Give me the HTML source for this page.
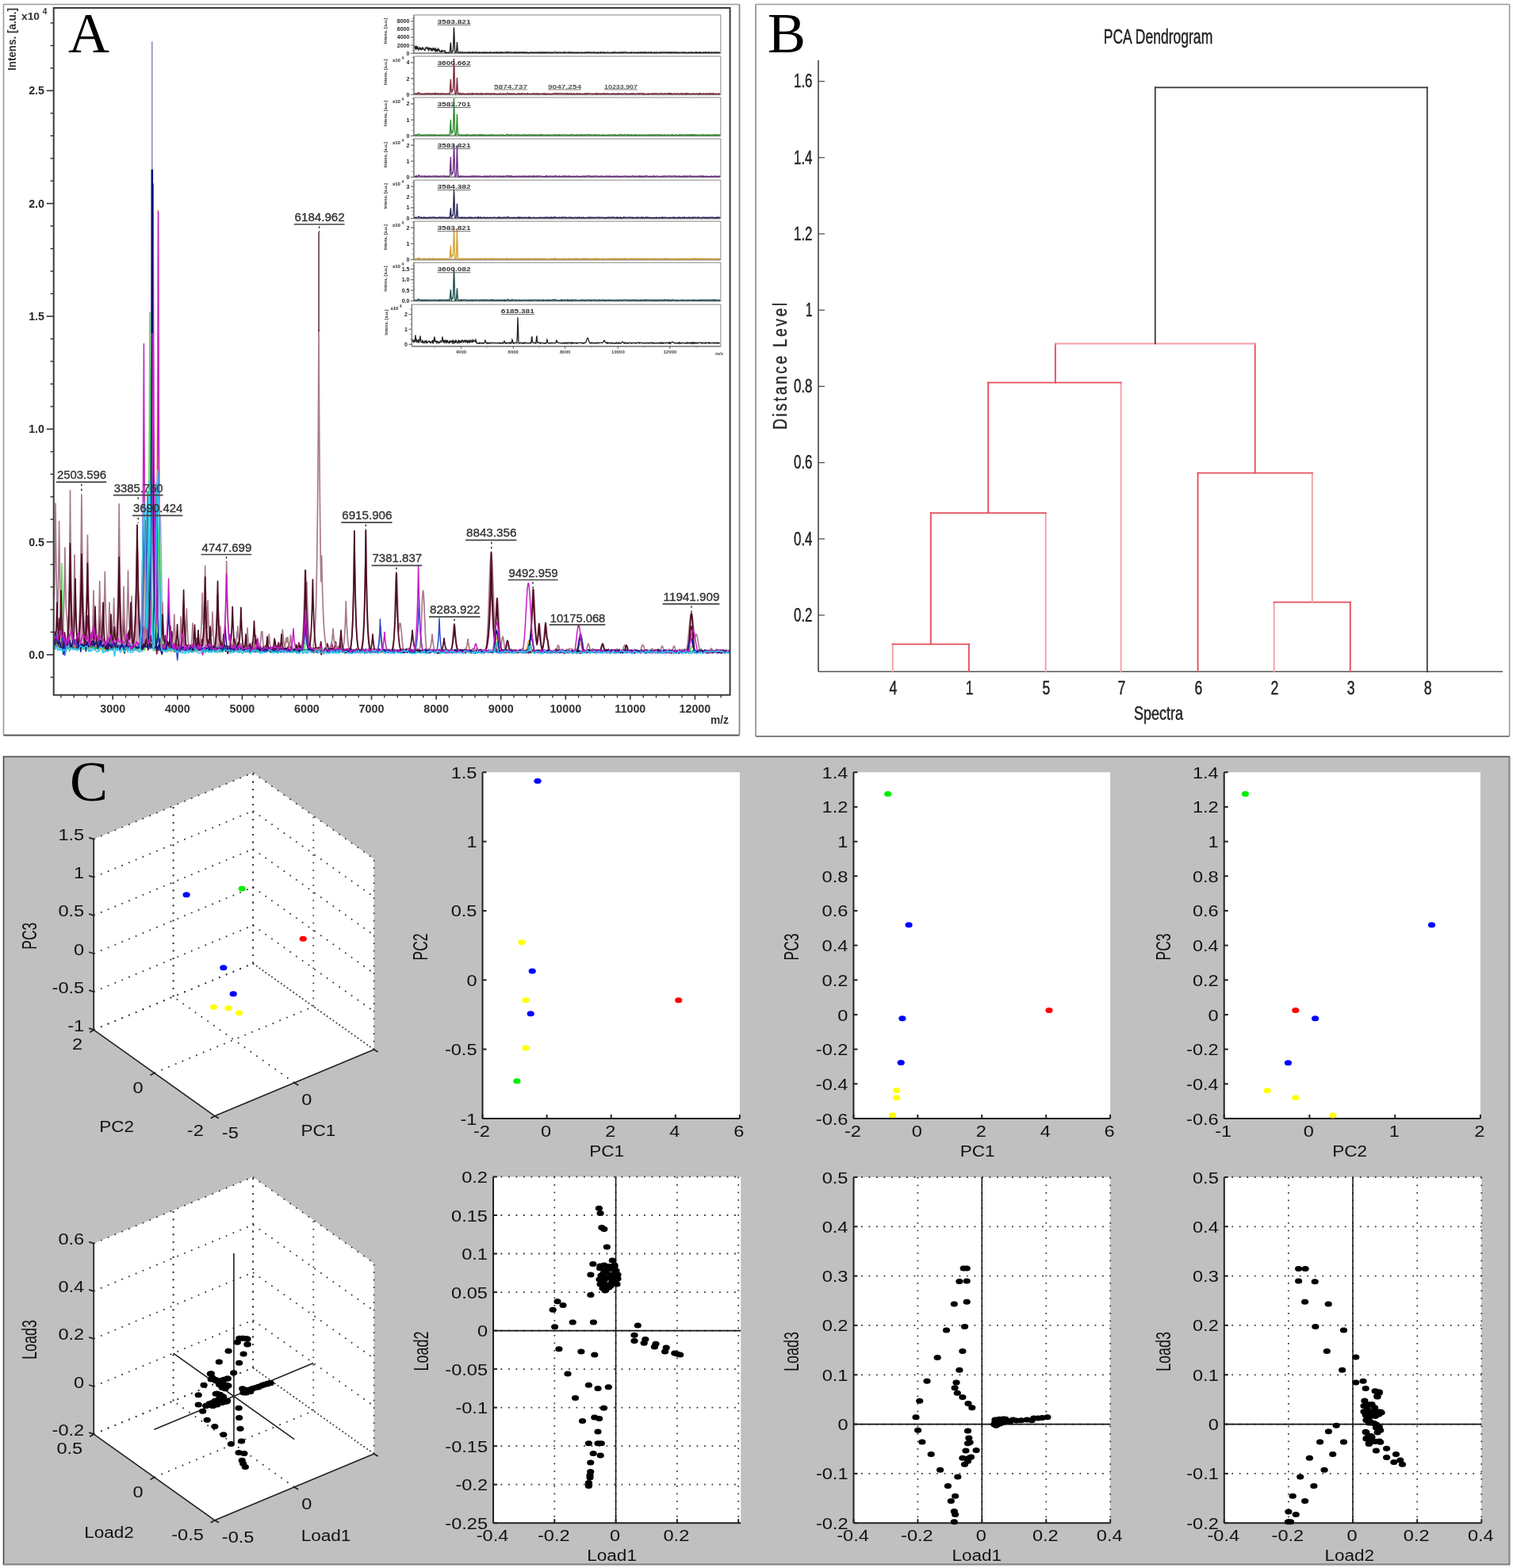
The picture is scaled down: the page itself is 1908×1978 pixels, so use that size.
<!DOCTYPE html>
<html><head><meta charset="utf-8"><style>
html,body{margin:0;padding:0;background:#fff;}
svg{display:block;}
</style></head><body>
<svg xmlns="http://www.w3.org/2000/svg" width="1908" height="1978" viewBox="0 0 1908 1978">
<rect x="0" y="0" width="1908" height="1978" fill="#ffffff"/>
<line x1="4.5" y1="5.5" x2="932.5" y2="5.5" stroke="#9a9a9a" stroke-width="1.6"/>
<line x1="4.5" y1="5.5" x2="4.5" y2="927.5" stroke="#9a9a9a" stroke-width="1.6"/>
<line x1="4.5" y1="927.5" x2="932.5" y2="927.5" stroke="#555" stroke-width="2"/>
<line x1="932.5" y1="5.5" x2="932.5" y2="927.5" stroke="#888" stroke-width="1.8"/>
<polyline points="68.3,818.8 68.8,818 69.3,817.2 69.8,816.4 70.3,815.6 70.8,814.7 71.3,813.9 71.8,814.1 72.3,814.3 72.8,814.5 73.3,814.5 73.8,814.5 74.3,814.4 74.8,815.2 75.3,816 75.8,816.8 76.3,815.9 76.8,815 77.3,814.1 77.8,814.8 78.3,815.5 78.8,816.2 79.3,817.4 79.8,818.5 80.3,819.7 80.8,818.8 81.3,817.8 81.8,816.9 82.3,817.9 82.8,819 83.3,820 83.8,817.8 84.3,815.7 84.8,813.5 85.3,813.5 85.8,813.5 86.3,813.5 86.8,815 87.3,816.5 87.8,818 88.3,818.1 88.8,818.2 89.3,818.3 89.8,817.2 90.3,816.1 90.8,815 91.3,816.4 91.8,817.8 92.3,819.2 92.8,819.2 93.3,819.3 93.8,819.4 94.3,819.4 94.8,819.4 95.3,819.4 95.8,819 96.3,818.6 96.8,818.3 97.3,817.7 97.8,817 98.3,816.4 98.8,815.6 99.3,814.9 99.8,814.1 100.3,815.9 100.8,817.6 101.3,819.4 101.8,817.7 102.3,816 102.8,814.3 103.3,815.3 103.8,816.2 104.3,817.1 104.8,816.4 105.3,815.6 105.8,814.8 106.3,815 106.8,815.3 107.3,815.5 107.8,817 108.3,818.5 108.8,820 109.3,818.9 109.8,817.8 110.3,816.7 110.8,817.9 111.3,819.1 111.8,820.3 112.3,820.6 112.8,820.8 113.3,821.1 113.8,820.3 114.3,819.4 114.8,818.6 115.3,817.8 115.8,817 116.3,816.2 116.8,816.6 117.3,817.1 117.8,817.6 118.3,818.4 118.8,819.2 119.3,820 119.8,818.7 120.3,817.3 120.8,815.9 121.3,815.8 121.8,815.7 122.3,815.5 122.8,817 123.3,818.4 123.8,819.9 124.3,819.4 124.8,819 125.3,818.6 125.8,818.2 126.3,817.8 126.8,817.4 127.3,816.9 127.8,816.4 128.3,815.8 128.8,817.5 129.3,819.1 129.8,820.7 130.3,819.9 130.8,819 131.3,818.1 131.8,817.3 132.3,816.5 132.8,815.6 133.3,816.4 133.8,817.1 134.3,817.9 134.8,817.7 135.3,817.5 135.8,817.3 136.3,817.2 136.8,817.1 137.3,817 137.8,817.5 138.3,818.1 138.8,818.6 139.3,819.1 139.8,819.5 140.3,820 140.8,819.4 141.3,818.8 141.8,818.2 142.3,818.4 142.8,818.5 143.3,818.7 143.8,819 144.3,819.4 144.8,819.8 145.3,818.8 145.8,817.8 146.3,816.8 146.8,817.8 147.3,818.8 147.8,819.7 148.3,819.5 148.8,819.3 149.3,819.1 149.8,818.6 150.3,818 150.8,817.5 151.3,817.4 151.8,817.4 152.3,817.3 152.8,817.1 153.3,817 153.8,816.9 154.3,817.4 154.8,817.8 155.3,818.3 155.8,819.1 156.3,819.8 156.8,820.6 157.3,819.5 157.8,818.4 158.3,817.3 158.8,817.2 159.3,817.1 159.8,817 160.3,817.4 160.8,817.7 161.3,818.1 161.8,818 162.3,818 162.8,817.9 163.3,818.4 163.8,818.8 164.3,819.3 164.8,819.4 165.3,819.4 165.8,819.5 166.3,819.3 166.8,819.2 167.3,819 167.8,819.8 168.3,820.6 168.8,821.4 169.3,820.5 169.8,819.5 170.3,818.6 170.8,818.3 171.3,817.9 171.8,817.6 172.3,818.9 172.8,820.1 173.3,821.4 173.8,820.4 174.3,819.3 174.8,818.3 175.3,818.4 175.8,818.5 176.3,818.6 176.8,819.6 177.3,820.7 177.8,821.7 178.3,821.8 178.8,822 179.3,822.1 179.8,821.2 180.3,820.2 180.8,817.4 181.3,809 181.8,794.9 182.3,774 182.8,746.2 183.3,713.8 183.8,681.4 184.3,655.3 184.8,641.3 185,640 185.3,642.9 185.8,659.7 186.3,687.6 186.8,720.5 187.3,752.2 187.8,778.8 188.3,798.3 188.8,811 189.3,818.6 189.8,815.6 190.3,805.3 190.8,788.3 191.3,762.8 191.8,729.1 192.3,689.7 192.8,650.3 193.3,618.6 193.8,601.6 194,600 194.3,603.5 194.8,623.9 195.3,657.8 195.8,697.8 196.3,736.4 196.8,768.6 197.3,792.3 197.8,807.9 198.3,809.9 198.8,796.6 199.3,776.8 199.8,750.5 200.3,719.8 200.8,689.2 201.3,664.5 201.8,651.2 202,650 202.3,652.7 202.8,668.6 203.3,695 203.8,726.1 204.3,756.2 204.8,781.3 205.3,799.7 205.8,811.8 206.3,819 206.8,819.4 207.3,819.6 207.8,819.8 208.3,819.7 208.8,819.6 209.3,819.6 209.8,819.9 210.3,820.2 210.8,820.5 211.3,820.4 211.8,820.3 212.3,820.2 212.8,820 213.3,819.7 213.8,819.5 214.3,820.3 214.8,821.2 215.3,822.1 215.8,821.1 216.3,820.1 216.8,819.1 217.3,819 217.8,818.9 218.3,818.8 218.8,820.1 219.3,821.4 219.8,822.7 220.3,822.4 220.8,822.2 221.3,822 221.8,821.9 222.3,821.8 222.8,821.8 223.3,822 223.8,822.2 224.3,822.5 224.8,822.4 225.3,822.4 225.8,822.3 226.3,821.5 226.8,820.8 227.3,820 227.8,820.8 228.3,821.6 228.8,822.4 229.3,822.5 229.8,822.6 230.3,822.7 230.8,821.4 231.3,820 231.8,818.7 232.3,819.5 232.8,820.4 233.3,821.2 233.8,821 234.3,820.8 234.8,820.6 235.3,820.7 235.8,820.8 236.3,820.9 236.8,821.1 237.3,821.3 237.8,821.5 238.3,821.4 238.8,821.2 239.3,821 239.8,821.4 240.3,821.8 240.8,822.2 241.3,821.7 241.8,821.1 242.3,820.5 242.8,821 243.3,821.5 243.8,822 244.3,822.2 244.8,822.3 245.3,822.5 245.8,822.4 246.3,822.3 246.8,822.2 247.3,821.9 247.8,821.6 248.3,821.4 248.8,820.6 249.3,819.9 249.8,819.1 250.3,819.6 250.8,820.1 251.3,820.6 251.8,820 252.3,819.5 252.8,819 253.3,819.8 253.8,820.6 254.3,821.5 254.8,821.7 255.3,821.9 255.8,822.1 256.3,821.5 256.8,820.8 257.3,820.2 257.8,820.9 258.3,821.7 258.8,822.4 259.3,821.3 259.8,820.1 260.3,819 260.8,819.9 261.3,820.7 261.8,821.6 262.3,821.8 262.8,822 263.3,822.1 263.8,822.1 264.3,822.1 264.8,822.2 265.3,822.1 265.8,822.1 266.3,822 266.8,821.1 267.3,820.3 267.8,819.4 268.3,819.3 268.8,819.3 269.3,819.2 269.8,819.8 270.3,820.4 270.8,821 271.3,821.5 271.8,821.9 272.3,822.4 272.8,822.7 273.3,823 273.8,823.3 274.3,823.2 274.8,823.1 275.3,823 275.8,822.8 276.3,822.5 276.8,822.2 277.3,821.7 277.8,821.2 278.3,820.8 278.8,820.8 279.3,820.8 279.8,820.8 280.3,820.5 280.8,820.2 281.3,819.9 281.8,820 282.3,820 282.8,820.1 283.3,820.7 283.8,821.4 284.3,822 284.8,821.6 285.3,821.1 285.8,820.7 286.3,821 286.8,821.4 287.3,821.7 287.8,821.3 288.3,820.9 288.8,820.5 289.3,821.3 289.8,822 290.3,822.7 290.8,821.7 291.3,820.6 291.8,819.6 292.3,820.9 292.8,822.1 293.3,823.4 293.8,822.6 294.3,821.8 294.8,821 295.3,821.4 295.8,821.8 296.3,822.1 296.8,821.5 297.3,820.9 297.8,820.4 298.3,821.2 298.8,822.1 299.3,823 299.8,822 300.3,821 300.8,820 301.3,821.2 301.8,822.4 302.3,823.5 302.8,822.6 303.3,821.6 303.8,820.7 304.3,820.7 304.8,820.8 305.3,820.8 305.8,821.1 306.3,821.3 306.8,821.6 307.3,822 307.8,822.5 308.3,822.9 308.8,822.6 309.3,822.4 309.8,822.1 310.3,822 310.8,822 311.3,821.9 311.8,822.2 312.3,822.5 312.8,822.8 313.3,822.9 313.8,822.9 314.3,823 314.8,822.1 315.3,821.3 315.8,820.4 316.3,820.8 316.8,821.2 317.3,821.5 317.8,821.9 318.3,822.3 318.8,822.6 319.3,822.2 319.8,821.7 320.3,821.3 320.8,821.3 321.3,821.3 321.8,821.3 322.3,821.9 322.8,822.5 323.3,823.2 323.8,822.6 324.3,822 324.8,821.5 325.3,821.5 325.8,821.5 326.3,821.5 326.8,822.1 327.3,822.7 327.8,823.3 328.3,823 328.8,822.8 329.3,822.6 329.8,821.9 330.3,821.2 330.8,820.5 331.3,820.8 331.8,821.2 332.3,821.5 332.8,822 333.3,822.4 333.8,822.9 334.3,822.7 334.8,822.5 335.3,822.3 335.8,822.2 336.3,822.1 336.8,822 337.3,821.7 337.8,821.4 338.3,821.1 338.8,820.9 339.3,820.7 339.8,820.6 340.3,821.5 340.8,822.5 341.3,823.4 341.8,823.5 342.3,823.5 342.8,823.6 343.3,823.1 343.8,822.6 344.3,822.1 344.8,822.7 345.3,823.2 345.8,823.7 346.3,823.5 346.8,823.4 347.3,823.2 347.8,823.3 348.3,823.3 348.8,823.4 349.3,823.4 349.8,823.5 350.3,823.5 350.8,822.8 351.3,822.2 351.8,821.5 352.3,822.2 352.8,822.8 353.3,823.5 353.8,822.9 354.3,822.3 354.8,821.8 355.3,821.3 355.8,820.8 356.3,820.3 356.8,821.3 357.3,822.3 357.8,823.3 358.3,822.6 358.8,821.8 359.3,821.1 359.8,821.3 360.3,821.5 360.8,821.7 361.3,822.2 361.8,822.7 362.3,823.2 362.8,822.3 363.3,821.4 363.8,820.4 364.3,820.7 364.8,821 365.3,821.2 365.8,821.6 366.3,822.1 366.8,822.5 367.3,821.9 367.8,821.3 368.3,820.7 368.8,821.6 369.3,822.6 369.8,823.5 370.3,822.6 370.8,821.8 371.3,820.9 371.8,820.9 372.3,820.9 372.8,820.9 373.3,821.8 373.8,822.6 374.3,823.5 374.8,822.5 375.3,821.6 375.8,820.6 376.3,820.8 376.8,821 377.3,821.1 377.8,821 378.3,820.8 378.8,820.7 379.3,821.4 379.8,822.2 380.3,822.9 380.8,822.4 381.3,821.9 381.8,821.3 382.3,821.3 382.8,821.2 383.3,821.2 383.8,821.7 384.3,822.2 384.8,822.7 385.3,823.1 385.8,823.4 386.3,823.8 386.8,823.8 387.3,823.9 387.8,823.9 388.3,823.3 388.8,822.7 389.3,822.2 389.8,822.1 390.3,822.1 390.8,822 391.3,822.5 391.8,823 392.3,823.5 392.8,822.9 393.3,822.3 393.8,821.8 394.3,822.4 394.8,823.1 395.3,823.8 395.8,823.3 396.3,822.8 396.8,822.3 397.3,822.3 397.8,822.2 398.3,822.2 398.8,822.6 399.3,822.9 399.8,823.3 400.3,823.5 400.8,823.6 401.3,823.8 401.8,822.8 402.3,821.9 402.8,820.9 403.3,820.9 403.8,821 404.3,821.1 404.8,821.4 405.3,821.7 405.8,822 406.3,822.6 406.8,823.3 407.3,823.9 407.8,823.3 408.3,822.8 408.8,822.2 409.3,821.7 409.8,821.2 410.3,820.7 410.8,820.9 411.3,821.2 411.8,821.4 412.3,821.5 412.8,821.6 413.3,821.7 413.8,822.4 414.3,823.1 414.8,823.9 415.3,823.3 415.8,822.7 416.3,822.1 416.8,822.4 417.3,822.8 417.8,823.2 418.3,822.4 418.8,821.5 419.3,820.7 419.8,821.8 420.3,822.9 420.8,824 421.3,823.8 421.8,823.5 422.3,823.3 422.8,822.5 423.3,821.8 423.8,821.1 424.3,821.9 424.8,822.8 425.3,823.6 425.8,823.4 426.3,823.2 426.8,823 427.3,823 427.8,823 428.3,823 428.8,822.4 429.3,821.7 429.8,821.1 430.3,821.3 430.8,821.5 431.3,821.7 431.8,821.5 432.3,821.2 432.8,820.9 433.3,821.8 433.8,822.6 434.3,823.4 434.8,823.5 435.3,823.7 435.8,823.8 436.3,823.5 436.8,823.2 437.3,822.9 437.8,822.5 438.3,822 438.8,821.5 439.3,821.7 439.8,821.8 440.3,822 440.8,821.7 441.3,821.3 441.8,821 442.3,821.2 442.8,821.5 443.3,821.7 443.8,822.4 444.3,823.1 444.8,823.8 445.3,823.6 445.8,823.3 446.3,823 446.8,823.2 447.3,823.3 447.8,823.4 448.3,823.4 448.8,823.3 449.3,823.2 449.8,822.8 450.3,822.3 450.8,821.9 451.3,822.1 451.8,822.4 452.3,822.6 452.8,822.3 453.3,821.9 453.8,821.6 454.3,822.4 454.8,823.2 455.3,824.1 455.8,823.1 456.3,822.1 456.8,821.1 457.3,821.9 457.8,822.8 458.3,823.6 458.8,822.9 459.3,822.3 459.8,821.7 460.3,821.6 460.8,821.5 461.3,821.3 461.8,822.2 462.3,823.1 462.8,824 463.3,823.4 463.8,822.9 464.3,822.3 464.8,821.9 465.3,821.4 465.8,820.9 466.3,822 466.8,823.1 467.3,824.1 467.8,823.6 468.3,823 468.8,822.5 469.3,822.6 469.8,822.7 470.3,822.8 470.8,822.8 471.3,822.8 471.8,822.9 472.3,823.1 472.8,823.3 473.3,823.5 473.8,823.5 474.3,823.5 474.8,823.6 475.3,823.5 475.8,823.4 476.3,823.3 476.8,823.3 477.3,823.4 477.8,823.4 478.3,823.4 478.8,823.3 479.3,823.2 479.8,822.5 480.3,821.9 480.8,821.2 481.3,821.2 481.8,821.1 482.3,821.1 482.8,821.8 483.3,822.6 483.8,823.3 484.3,823.6 484.8,823.8 485.3,824.1 485.8,823.8 486.3,823.6 486.8,823.3 487.3,822.7 487.8,822 488.3,821.4 488.8,822.1 489.3,822.9 489.8,823.6 490.3,823.1 490.8,822.6 491.3,822 491.8,822.7 492.3,823.3 492.8,823.9 493.3,823.6 493.8,823.3 494.3,823 494.8,823.2 495.3,823.4 495.8,823.6 496.3,823.2 496.8,822.7 497.3,822.2 497.8,822.5 498.3,822.7 498.8,823 499.3,822.6 499.8,822.1 500.3,821.7 500.8,822 501.3,822.3 501.8,822.5 502.3,822.7 502.8,822.8 503.3,822.9 503.8,823.3 504.3,823.7 504.8,824.1 505.3,823.3 505.8,822.4 506.3,821.5 506.8,822.4 507.3,823.2 507.8,824.1 508.3,823.6 508.8,823.1 509.3,822.6 509.8,822.1 510.3,821.6 510.8,821 511.3,821.3 511.8,821.5 512.3,821.7 512.8,822.1 513.3,822.6 513.8,823.1 514.3,822.5 514.8,821.8 515.3,821.2 515.8,822 516.3,822.7 516.8,823.4 517.3,823 517.8,822.7 518.3,822.4 518.8,822.4 519.3,822.4 519.8,822.4 520.3,822.2 520.8,822.1 521.3,821.9 521.8,822.4 522.3,822.8 522.8,823.3 523.3,823.2 523.8,823.1 524.3,823 524.8,823 525.3,823.1 525.8,823.2 526.3,822.6 526.8,821.9 527.3,821.3 527.8,821.5 528.3,821.7 528.8,821.9 529.3,822.3 529.8,822.7 530.3,823.2 530.8,822.7 531.3,822.2 531.8,821.8 532.3,821.9 532.8,822.1 533.3,822.3 533.8,822.7 534.3,823.1 534.8,823.5 535.3,823.2 535.8,822.9 536.3,822.7 536.8,823.1 537.3,823.5 537.8,823.9 538.3,823.8 538.8,823.7 539.3,823.6 539.8,823.7 540.3,823.9 540.8,824 541.3,824 541.8,824 542.3,824 542.8,823.4 543.3,822.9 543.8,822.3 544.3,822.1 544.8,821.9 545.3,821.6 545.8,821.6 546.3,821.6 546.8,821.6 547.3,822.3 547.8,822.9 548.3,823.6 548.8,822.8 549.3,822 549.8,821.3 550.3,821.9 550.8,822.6 551.3,823.2 551.8,822.8 552.3,822.5 552.8,822.1 553.3,822.2 553.8,822.3 554.3,822.4 554.8,822.5 555.3,822.6 555.8,822.8 556.3,822.5 556.8,822.3 557.3,822.1 557.8,821.9 558.3,821.7 558.8,821.5 559.3,821.7 559.8,821.9 560.3,822.1 560.8,822.3 561.3,822.5 561.8,822.7 562.3,822.3 562.8,821.9 563.3,821.6 563.8,821.7 564.3,821.8 564.8,821.9 565.3,822.3 565.8,822.7 566.3,823.1 566.8,822.5 567.3,821.8 567.8,821.2 568.3,821.8 568.8,822.4 569.3,823 569.8,823.4 570.3,823.8 570.8,824.2 571.3,823.2 571.8,822.2 572.3,821.3 572.8,821.3 573.3,821.3 573.8,821.3 574.3,821.8 574.8,822.2 575.3,822.6 575.8,822.4 576.3,822.2 576.8,821.9 577.3,822 577.8,822 578.3,822.1 578.8,822.7 579.3,823.4 579.8,824 580.3,823.2 580.8,822.5 581.3,821.8 581.8,822 582.3,822.1 582.8,822.3 583.3,822 583.8,821.6 584.3,821.3 584.8,821.8 585.3,822.3 585.8,822.8 586.3,823 586.8,823.2 587.3,823.4 587.8,822.9 588.3,822.4 588.8,821.9 589.3,822.1 589.8,822.3 590.3,822.6 590.8,822.2 591.3,821.9 591.8,821.6 592.3,822.4 592.8,823.3 593.3,824.2 593.8,823.5 594.3,822.8 594.8,822.2 595.3,821.9 595.8,821.7 596.3,821.5 596.8,822.2 597.3,823 597.8,823.7 598.3,823.8 598.8,823.9 599.3,824 599.8,823.6 600.3,823.2 600.8,822.8 601.3,822.6 601.8,822.4 602.3,822.3 602.8,822.3 603.3,822.3 603.8,822.3 604.3,822.4 604.8,822.6 605.3,822.7 605.8,822.9 606.3,823.1 606.8,823.3 607.3,822.9 607.8,822.5 608.3,822.1 608.8,821.8 609.3,821.5 609.8,821.2 610.3,821.7 610.8,822.2 611.3,822.7 611.8,822.9 612.3,823 612.8,823.1 613.3,822.5 613.8,821.9 614.3,821.3 614.8,822.1 615.3,822.9 615.8,823.8 616.3,823.4 616.8,823 617.3,822.6 617.8,822.3 618.3,822 618.8,821.7 619.3,821.8 619.8,821.8 620.3,821.9 620.8,821.9 621.3,822 621.8,822 622.3,822.1 622.8,822.1 623.3,822.2 623.8,822.4 624.3,822.7 624.8,822.9 625.3,822.4 625.8,821.9 626.3,821.3 626.8,822.3 627.3,823.3 627.8,824.3 628.3,823.9 628.8,823.4 629.3,823 629.8,823 630.3,823 630.8,822.9 631.3,822.7 631.8,822.4 632.3,822.1 632.8,822.5 633.3,823 633.8,823.4 634.3,823.5 634.8,823.6 635.3,823.7 635.8,823.5 636.3,823.2 636.8,822.9 637.3,822.7 637.8,822.6 638.3,822.4 638.8,822.5 639.3,822.6 639.8,822.7 640.3,822.3 640.8,822 641.3,821.6 641.8,822 642.3,822.5 642.8,822.9 643.3,823.1 643.8,823.4 644.3,823.7 644.8,823.2 645.3,822.8 645.8,822.3 646.3,822.6 646.8,822.9 647.3,823.1 647.8,823.5 648.3,823.9 648.8,824.3 649.3,823.9 649.8,823.5 650.3,823.1 650.8,823.4 651.3,823.7 651.8,824 652.3,823.4 652.8,822.9 653.3,822.4 653.8,822.1 654.3,821.8 654.8,821.6 655.3,821.7 655.8,821.9 656.3,822.1 656.8,821.9 657.3,821.6 657.8,821.4 658.3,822.2 658.8,823.1 659.3,823.9 659.8,823.2 660.3,822.5 660.8,821.8 661.3,821.8 661.8,821.9 662.3,822 662.8,822.5 663.3,823.1 663.8,823.6 664.3,823.4 664.8,823.1 665.3,822.9 665.8,823.2 666.3,823.5 666.8,823.8 667.3,823.7 667.8,823.5 668.3,823.4 668.8,823.2 669.3,822.9 669.8,822.7 670.3,822.9 670.8,823 671.3,823.1 671.8,823.1 672.3,823.1 672.8,823.1 673.3,822.8 673.8,822.5 674.3,822.2 674.8,822.2 675.3,822.2 675.8,822.3 676.3,822.8 676.8,823.4 677.3,824 677.8,823.5 678.3,823.1 678.8,822.6 679.3,822.4 679.8,822.2 680.3,822 680.8,822.7 681.3,823.5 681.8,824.2 682.3,823.5 682.8,822.8 683.3,822.1 683.8,822.8 684.3,823.5 684.8,824.3 685.3,823.9 685.8,823.5 686.3,823 686.8,823.1 687.3,823.1 687.8,823.2 688.3,823.5 688.8,823.9 689.3,824.3 689.8,824.2 690.3,824.2 690.8,824.1 691.3,823.5 691.8,822.9 692.3,822.3 692.8,822.7 693.3,823.1 693.8,823.5 694.3,823.3 694.8,823 695.3,822.8 695.8,823.1 696.3,823.5 696.8,823.9 697.3,823.4 697.8,822.9 698.3,822.5 698.8,822.1 699.3,821.8 699.8,821.5 700.3,821.7 700.8,821.9 701.3,822.1 701.8,822.4 702.3,822.8 702.8,823.2 703.3,822.6 703.8,822 704.3,821.4 704.8,822 705.3,822.7 705.8,823.3 706.3,823.4 706.8,823.4 707.3,823.5 707.8,823.4 708.3,823.2 708.8,823.1 709.3,822.5 709.8,821.9 710.3,821.3 710.8,822 711.3,822.6 711.8,823.2 712.3,823.3 712.8,823.4 713.3,823.5 713.8,823.2 714.3,823 714.8,822.7 715.3,822.6 715.8,822.5 716.3,822.4 716.8,822.3 717.3,822.2 717.8,822 718.3,822.1 718.8,822.1 719.3,822.2 719.8,822.2 720.3,822.3 720.8,822.3 721.3,822.6 721.8,822.8 722.3,823.1 722.8,823.1 723.3,823.1 723.8,823 724.3,822.5 724.8,821.9 725.3,821.4 725.8,821.9 726.3,822.4 726.8,822.9 727.3,822.6 727.8,822.3 728.3,822 728.8,822.5 729.3,822.9 729.8,823.3 730.3,823.6 730.8,824 731.3,824.3 731.8,823.9 732.3,823.6 732.8,823.2 733.3,823 733.8,822.9 734.3,822.8 734.8,822.9 735.3,823 735.8,823.1 736.3,823.3 736.8,823.5 737.3,823.7 737.8,823.8 738.3,823.8 738.8,823.9 739.3,824 739.8,824.1 740.3,824.2 740.8,823.5 741.3,822.9 741.8,822.2 742.3,822.4 742.8,822.6 743.3,822.8 743.8,822.5 744.3,822.2 744.8,821.9 745.3,821.8 745.8,821.8 746.3,821.7 746.8,821.9 747.3,822 747.8,822.1 748.3,822 748.8,822 749.3,822 749.8,821.8 750.3,821.7 750.8,821.6 751.3,821.6 751.8,821.6 752.3,821.6 752.8,821.7 753.3,821.8 753.8,821.9 754.3,821.8 754.8,821.7 755.3,821.6 755.8,822.2 756.3,822.8 756.8,823.3 757.3,822.7 757.8,822 758.3,821.3 758.8,821.4 759.3,821.6 759.8,821.7 760.3,821.7 760.8,821.8 761.3,821.9 761.8,821.9 762.3,821.8 762.8,821.8 763.3,821.9 763.8,822 764.3,822.1 764.8,822.3 765.3,822.5 765.8,822.6 766.3,822.7 766.8,822.7 767.3,822.8 767.8,822.4 768.3,822 768.8,821.5 769.3,822.2 769.8,822.8 770.3,823.5 770.8,823.1 771.3,822.8 771.8,822.4 772.3,822.1 772.8,821.8 773.3,821.5 773.8,822.2 774.3,822.9 774.8,823.6 775.3,823.7 775.8,823.8 776.3,823.9 776.8,823.7 777.3,823.6 777.8,823.4 778.3,823.3 778.8,823.2 779.3,823 779.8,823 780.3,822.9 780.8,822.8 781.3,823.1 781.8,823.4 782.3,823.7 782.8,823.7 783.3,823.6 783.8,823.6 784.3,823.7 784.8,823.8 785.3,823.9 785.8,823.6 786.3,823.3 786.8,822.9 787.3,823.3 787.8,823.6 788.3,823.9 788.8,823.7 789.3,823.5 789.8,823.3 790.3,823.5 790.8,823.7 791.3,823.9 791.8,823.4 792.3,822.9 792.8,822.5 793.3,822.5 793.8,822.5 794.3,822.5 794.8,822.9 795.3,823.3 795.8,823.7 796.3,822.9 796.8,822.1 797.3,821.4 797.8,822.1 798.3,822.8 798.8,823.5 799.3,822.9 799.8,822.3 800.3,821.6 800.8,822.2 801.3,822.9 801.8,823.5 802.3,823.2 802.8,822.9 803.3,822.7 803.8,822.6 804.3,822.6 804.8,822.6 805.3,822.6 805.8,822.6 806.3,822.6 806.8,822.9 807.3,823.1 807.8,823.4 808.3,822.9 808.8,822.4 809.3,822 809.8,822.2 810.3,822.3 810.8,822.5 811.3,822.6 811.8,822.6 812.3,822.7 812.8,822.8 813.3,822.8 813.8,822.9 814.3,823.1 814.8,823.3 815.3,823.5 815.8,823.4 816.3,823.3 816.8,823.1 817.3,822.8 817.8,822.5 818.3,822.2 818.8,822.2 819.3,822.2 819.8,822.2 820.3,821.9 820.8,821.7 821.3,821.4 821.8,821.6 822.3,821.9 822.8,822.2 823.3,821.9 823.8,821.6 824.3,821.4 824.8,822.1 825.3,822.7 825.8,823.4 826.3,823.4 826.8,823.5 827.3,823.5 827.8,822.8 828.3,822.1 828.8,821.4 829.3,821.9 829.8,822.5 830.3,823.1 830.8,822.9 831.3,822.8 831.8,822.6 832.3,822.3 832.8,822 833.3,821.8 833.8,822.5 834.3,823.3 834.8,824 835.3,824 835.8,824 836.3,824 836.8,823.7 837.3,823.3 837.8,823 838.3,823.2 838.8,823.5 839.3,823.8 839.8,823.9 840.3,824.1 840.8,824.2 841.3,823.5 841.8,822.9 842.3,822.2 842.8,822.4 843.3,822.6 843.8,822.7 844.3,822.8 844.8,822.9 845.3,823 845.8,822.8 846.3,822.6 846.8,822.5 847.3,822.8 847.8,823.1 848.3,823.5 848.8,823.4 849.3,823.3 849.8,823.2 850.3,823.2 850.8,823.3 851.3,823.4 851.8,823.1 852.3,822.8 852.8,822.4 853.3,822.6 853.8,822.8 854.3,823 854.8,822.9 855.3,822.8 855.8,822.6 856.3,822.7 856.8,822.7 857.3,822.7 857.8,822.7 858.3,822.7 858.8,822.7 859.3,823.2 859.8,823.7 860.3,824.2 860.8,823.5 861.3,822.8 861.8,822 862.3,821.9 862.8,821.8 863.3,821.6 863.8,822.5 864.3,823.3 864.8,824.2 865.3,823.5 865.8,822.8 866.3,822.1 866.8,822.3 867.3,822.5 867.8,822.7 868.3,822.5 868.8,822.3 869.3,822.2 869.8,822.9 870.3,823.6 870.8,824.3 871.3,824.3 871.8,824.3 872.3,824.3 872.8,823.8 873.3,823.3 873.8,822.7 874.3,822.7 874.8,822.7 875.3,822.7 875.8,823.2 876.3,823.6 876.8,824.1 877.3,823.4 877.8,822.7 878.3,822 878.8,822.7 879.3,823.4 879.8,824.1 880.3,823.3 880.8,822.5 881.3,821.7 881.8,821.8 882.3,821.9 882.8,822 883.3,822.1 883.8,822.1 884.3,822.2 884.8,822.1 885.3,821.9 885.8,821.8 886.3,822.4 886.8,822.9 887.3,823.5 887.8,823.2 888.3,822.9 888.8,822.5 889.3,823.1 889.8,823.7 890.3,824.3 890.8,823.6 891.3,822.9 891.8,822.1 892.3,822.7 892.8,823.3 893.3,823.8 893.8,824 894.3,824.1 894.8,824.2 895.3,823.5 895.8,822.8 896.3,822.1 896.8,822.8 897.3,823.5 897.8,824.2 898.3,823.6 898.8,823 899.3,822.4 899.8,822.1 900.3,821.8 900.8,821.5 901.3,821.9 901.8,822.3 902.3,822.8 902.8,822.8 903.3,822.7 903.8,822.7 904.3,822.5 904.8,822.3 905.3,822.1 905.8,822.1 906.3,822.1 906.8,822.1 907.3,822.4 907.8,822.6 908.3,822.9 908.8,823.3 909.3,823.8 909.8,824.2 910.3,823.3 910.8,822.4 911.3,821.4 911.8,821.7 912.3,821.9 912.8,822.2 913.3,822.4 913.8,822.7 914.3,822.9 914.8,822.8 915.3,822.6 915.8,822.4 916.3,822.8 916.8,823.2 917.3,823.6 917.8,823.7 918.3,823.7 918.8,823.7 919.3,823.9 919.8,824.1" fill="none" stroke="#88b0e8" stroke-width="1.5" stroke-linejoin="round"/>
<polyline points="68.3,813.8 68.8,815 69.3,816 69.8,816.9 70.3,813.9 70.8,810.5 71.3,808.6 71.8,809.4 72.3,810 72.8,810.5 73.3,812.2 73.8,813.8 74.3,815.2 74.8,814.4 75.3,813.4 75.8,812.2 76.3,813.3 76.8,815.5 77.3,817.4 77.8,817.1 78.3,816.6 78.8,815.9 79.3,816.1 79.8,816.5 80.3,816.6 80.8,815.7 81.3,814.6 81.8,813.5 82.3,815 82.8,816.3 83.3,817.6 83.8,814.8 84.3,812.8 84.8,810.8 85.3,813.8 85.8,816.7 86.3,819.5 86.8,819.2 87.3,818.9 87.8,818.5 88.3,818.8 88.8,819.1 89.3,819.2 89.8,817.3 90.3,815.4 90.8,813.5 91.3,814.7 91.8,816 92.3,817.2 92.8,816.9 93.3,816.6 93.8,816.3 94.3,816.7 94.8,817.1 95.3,817.6 95.8,816.7 96.3,815.9 96.8,815 97.3,815.7 97.8,816.4 98.3,817.1 98.8,817.6 99.3,818.1 99.8,818.7 100.3,818 100.8,817.3 101.3,816.5 101.8,816.6 102.3,816.6 102.8,816.5 103.3,817.3 103.8,818.3 104.3,819.1 104.8,817.4 105.3,815.5 105.8,813.7 106.3,814.1 106.8,814.5 107.3,815 107.8,815.1 108.3,815.1 108.8,815 109.3,814.3 109.8,813.6 110.3,812.7 110.8,814 111.3,815.6 111.8,817.2 112.3,817.4 112.8,817.5 113.3,817.7 113.8,817.6 114.3,817.4 114.8,817.4 115.3,817.4 115.8,817.4 116.3,817.4 116.8,816.6 117.3,815.7 117.8,814.6 118.3,816 118.8,818.2 119.3,820.3 119.8,819.3 120.3,818.3 120.8,817.1 121.3,816.8 121.8,816.3 122.3,815.7 122.8,815.9 123.3,817 123.8,817.8 124.3,818.9 124.8,819.9 125.3,820.8 125.8,819.1 126.3,817.4 126.8,815.7 127.3,817.4 127.8,819.1 128.3,820.9 128.8,819.6 129.3,818.2 129.8,816.9 130.3,817.9 130.8,818.8 131.3,819.8 131.8,819.9 132.3,819.8 132.8,820.4 133.3,820.3 133.8,820 134.3,819.8 134.8,820.1 135.3,820.4 135.8,820.6 136.3,820.3 136.8,820.1 137.3,820 137.8,818.8 138.3,817.6 138.8,816.2 139.3,816.1 139.8,815.9 140.3,815.6 140.8,816.6 141.3,817.6 141.8,818.6 142.3,817.9 142.8,817.1 143.3,816.3 143.8,816.5 144.3,816.7 144.8,816.7 145.3,816.1 145.8,816.5 146.3,816.9 146.8,816.4 147.3,815.7 147.8,815 148.3,816.4 148.8,817.8 149.3,819.2 149.8,817.9 150.3,816.6 150.8,815.3 151.3,815.7 151.8,815.9 152.3,816.1 152.8,815.9 153.3,815.9 153.8,816.2 154.3,818 154.8,819.6 155.3,821 155.8,820.6 156.3,820.1 156.8,819.5 157.3,819 157.8,819.8 158.3,820.3 158.8,820 159.3,819.5 159.8,819 160.3,817.7 160.8,816.5 161.3,815.3 161.8,815.4 162.3,815.5 162.8,815.6 163.3,815.6 163.8,815.5 164.3,815.3 164.8,816.4 165.3,817.6 165.8,819.7 166.3,818.8 166.8,817.8 167.3,816.8 167.8,816.8 168.3,816.7 168.8,816.6 169.3,816.5 169.8,816.4 170.3,816.3 170.8,816.2 171.3,816.3 171.8,816.5 172.3,817.9 172.8,819.1 173.3,820.3 173.8,819.8 174.3,819.1 174.8,819.6 175.3,818.7 175.8,817.7 176.3,816.6 176.8,814.8 177.3,810.2 177.8,803.7 178.3,794.6 178.8,781.6 179.3,763.4 179.8,737.7 180.3,701.4 180.8,650.1 181.3,577.7 181.4,560 181.8,624.1 182.3,683 182.8,724.6 183.3,754.2 183.8,775.1 184.3,789.9 184.8,800.4 185.3,807.8 185.8,806.7 186.3,798.8 186.8,787.7 187.3,772 187.8,749.8 188.3,718.4 188.8,674.2 189.3,611.7 189.5,580 189.8,626 190.3,684.3 190.8,725.6 191.3,754.8 191.8,775.6 192.3,790.2 192.8,800.6 193.3,808 193.8,813.2 194.3,809.3 194.8,802.4 195.3,792.7 195.8,779.1 196.3,759.8 196.8,732.5 197.3,694.1 197.8,639.8 198.3,563.2 198.8,455.1 199.3,302.4 199.4,265 199.8,400.2 200.3,524.4 200.8,612.3 201.3,674.6 201.8,718.7 202.3,750 202.8,772.1 203.3,787.8 203.8,798.9 204.3,806.8 204.8,812.4 205.3,816.3 205.8,819.1 206.3,821.1 206.8,819.8 207.3,818.2 207.8,816.6 208.3,816.8 208.8,816.9 209.3,817 209.8,818.1 210.3,819.1 210.8,820 211.3,820.1 211.8,820.6 212.3,821.3 212.8,820.4 213.3,819.5 213.8,818.5 214.3,818.1 214.8,817.7 215.3,817.3 215.8,818.9 216.3,820.4 216.8,822 217.3,820.8 217.8,819.7 218.3,818.7 218.8,818.3 219.3,817.9 219.8,817.4 220.3,818 220.8,818.6 221.3,819.2 221.8,819.2 222.3,819.1 222.8,819 223.3,818.7 223.8,818.3 224.3,817.9 224.8,818.9 225.3,819.8 225.8,820.7 226.3,820.7 226.8,820.7 227.3,820.5 227.8,819.6 228.3,818.7 228.8,817.6 229.3,817.8 229.8,818.4 230.3,818.9 230.8,819 231.3,818.8 231.8,818.5 232.3,818.4 232.8,819.1 233.3,819.8 233.8,819 234.3,818.2 234.8,817.3 235.3,818.4 235.8,819.3 236.3,820.1 236.8,819.3 237.3,819 237.8,818.6 238.3,818.4 238.8,818 239.3,817.6 239.8,818.3 240.3,819.1 240.8,820.1 241.3,820.8 241.8,821.3 242.3,821.7 242.8,821.3 243.3,820.7 243.8,819.9 244.3,820.5 244.8,821.1 245.3,821.6 245.8,821.6 246.3,821.6 246.8,821.6 247.3,821.6 247.8,821.5 248.3,821.3 248.8,820.6 249.3,820.4 249.8,820.4 250.3,820.5 250.8,820.5 251.3,820.6 251.8,820.5 252.3,820.4 252.8,820.2 253.3,819.8 253.8,819.3 254.3,818.8 254.8,818.7 255.3,818.9 255.8,819 256.3,818.9 256.8,818.7 257.3,818.5 257.8,818.8 258.3,819.7 258.8,820.4 259.3,820 259.8,819.7 260.3,819.2 260.8,819.4 261.3,819.5 261.8,819.6 262.3,820.2 262.8,820.6 263.3,820.9 263.8,820.5 264.3,820.1 264.8,819.6 265.3,820.1 265.8,820.4 266.3,820.7 266.8,819.9 267.3,819.1 267.8,818.7 268.3,818.9 268.8,818.9 269.3,818.9 269.8,819.8 270.3,820.5 270.8,821.1 271.3,820.8 271.8,820.7 272.3,820.5 272.8,820.5 273.3,820.5 273.8,820.5 274.3,820.7 274.8,820.9 275.3,821.1 275.8,821.5 276.3,821.8 276.8,822.1 277.3,821.9 277.8,821.7 278.3,821.4 278.8,820.3 279.3,819.1 279.8,817.8 280.3,818.3 280.8,818.8 281.3,819.2 281.8,819.7 282.3,820.2 282.8,820.6 283.3,820.2 283.8,819.9 284.3,819.5 284.8,820.2 285.3,820.8 285.8,821.4 286.3,820.7 286.8,820 287.3,819.3 287.8,818.9 288.3,818.6 288.8,818.3 289.3,818.6 289.8,818.9 290.3,819.2 290.8,819.7 291.3,820.2 291.8,820.6 292.3,819.8 292.8,819 293.3,818.1 293.8,818.1 294.3,818.4 294.8,818.5 295.3,819.9 295.8,821.1 296.3,822.3 296.8,821.7 297.3,821 297.8,820.5 298.3,820.6 298.8,820.6 299.3,820.6 299.8,820.9 300.3,821.2 300.8,821.4 301.3,821 301.8,820.5 302.3,820.1 302.8,820.7 303.3,821.4 303.8,822 304.3,821.1 304.8,820.2 305.3,819.4 305.8,819.3 306.3,819.2 306.8,819 307.3,820.1 307.8,821.1 308.3,822.1 308.8,821.1 309.3,820.1 309.8,819.4 310.3,820.2 310.8,820.9 311.3,821.5 311.8,821.1 312.3,820.6 312.8,820 313.3,819.9 313.8,819.8 314.3,819.6 314.8,819.3 315.3,819 315.8,818.6 316.3,818.9 316.8,819.2 317.3,819.4 317.8,820.1 318.3,820.7 318.8,821.4 319.3,820.8 319.8,820.3 320.3,819.7 320.8,820.5 321.3,821.2 321.8,822.1 322.3,821.3 322.8,820.4 323.3,819.5 323.8,819.6 324.3,820.3 324.8,820.9 325.3,821.2 325.8,821.5 326.3,821.6 326.8,821.6 327.3,821.5 327.8,821.4 328.3,821.1 328.8,821.1 329.3,821.5 329.8,820.9 330.3,820.2 330.8,819.5 331.3,820.4 331.8,821.3 332.3,822.1 332.8,821.6 333.3,821.4 333.8,821.5 334.3,821.7 334.8,821.9 335.3,822 335.8,822.1 336.3,822.2 336.8,822.2 337.3,821.5 337.8,820.7 338.3,819.9 338.8,820.1 339.3,820.3 339.8,820.5 340.3,820.4 340.8,820.3 341.3,820.2 341.8,819.9 342.3,819.5 342.8,819.2 343.3,819.7 343.8,820.3 344.3,820.9 344.8,821.5 345.3,822.1 345.8,822.7 346.3,822.5 346.8,822.3 347.3,822.1 347.8,821.6 348.3,821.1 348.8,820.6 349.3,820.2 349.8,819.7 350.3,819.6 350.8,819.5 351.3,819.4 351.8,819.2 352.3,819.8 352.8,820.3 353.3,820.7 353.8,821 354.3,821.2 354.8,821.3 355.3,821 355.8,820.7 356.3,820.4 356.8,820 357.3,819.7 357.8,819.2 358.3,820.1 358.8,820.9 359.3,821.6 359.8,820.9 360.3,820.1 360.8,819.3 361.3,819.3 361.8,819.3 362.3,819.3 362.8,819.7 363.3,820 363.8,820.3 364.3,820.2 364.8,820.1 365.3,820.5 365.8,821.2 366.3,821.8 366.8,822.3 367.3,822.4 367.8,822.5 368.3,822.5 368.8,822.6 369.3,822.6 369.8,822.6 370.3,821.9 370.8,821.3 371.3,820.6 371.8,820.5 372.3,820.4 372.8,820.2 373.3,819.9 373.8,819.6 374.3,819.2 374.8,819.7 375.3,820.2 375.8,820.7 376.3,820.2 376.8,819.7 377.3,819.2 377.8,820 378.3,820.7 378.8,821.4 379.3,821.7 379.8,822 380.3,822.2 380.8,822.1 381.3,822.1 381.8,822.4 382.3,822.3 382.8,822.1 383.3,821.9 383.8,821.6 384.3,821.3 384.8,820.9 385.3,820.3 385.8,819.7 386.3,819 386.8,819.9 387.3,820.8 387.8,821.8 388.3,821.9 388.8,822 389.3,822.1 389.8,821.5 390.3,820.9 390.8,820.3 391.3,820.7 391.8,821.1 392.3,821.5 392.8,821.2 393.3,820.9 393.8,820.7 394.3,821.3 394.8,821.9 395.3,822.4 395.8,821.6 396.3,820.7 396.8,819.9 397.3,819.8 397.8,819.7 398.3,819.7 398.8,819.9 399.3,820.1 399.8,820.3 400.3,820.1 400.8,819.8 401.3,819.6 401.8,820.3 402.3,821 402.8,821.7 403.3,822.1 403.8,822.5 404.3,822.9 404.8,822.5 405.3,822.1 405.8,821.6 406.3,820.7 406.8,820.2 407.3,819.6 407.8,820.2 408.3,820.7 408.8,821.1 409.3,821.3 409.8,821.4 410.3,821.8 410.8,822 411.3,822.2 411.8,822.4 412.3,822.4 412.8,822.4 413.3,822.4 413.8,822.1 414.3,821.8 414.8,821.5 415.3,820.9 415.8,820.3 416.3,819.7 416.8,819.8 417.3,819.9 417.8,819.9 418.3,820.1 418.8,820.2 419.3,820.4 419.8,820.4 420.3,820.3 420.8,820.3 421.3,820.9 421.8,821.5 422.3,822.3 422.8,821.6 423.3,821 423.8,820.3 424.3,821 424.8,821.6 425.3,822.2 425.8,821.8 426.3,821.3 426.8,821 427.3,821.7 427.8,822.3 428.3,822.9 428.8,822 429.3,821 429.8,820 430.3,820.9 430.8,821.8 431.3,822.7 431.8,822.1 432.3,821.6 432.8,821.1 433.3,821 433.8,820.9 434.3,820.8 434.8,820.8 435.3,820.9 435.8,820.9 436.3,820.8 436.8,820.8 437.3,820.8 437.8,821.1 438.3,821.5 438.8,821.9 439.3,821.4 439.8,820.9 440.3,820.4 440.8,820.2 441.3,820.1 441.8,819.9 442.3,820.3 442.8,820.6 443.3,821 443.8,820.6 444.3,820.2 444.8,819.8 445.3,819.9 445.8,820.1 446.3,820.2 446.8,821.1 447.3,822.1 447.8,823 448.3,822.3 448.8,821.6 449.3,820.8 449.8,821.5 450.3,822.2 450.8,822.9 451.3,822.2 451.8,821.5 452.3,820.9 452.8,821.2 453.3,821.6 453.8,821.9 454.3,821.3 454.8,820.8 455.3,820.2 455.8,821.2 456.3,822.1 456.8,823 457.3,822 457.8,821 458.3,819.9 458.8,821 459.3,822 459.8,823 460.3,823 460.8,823 461.3,823 461.8,823.1 462.3,823.1 462.8,823.2 463.3,823 463.8,822.9 464.3,822.8 464.8,821.8 465.3,820.8 465.8,819.8 466.3,820 466.8,820.2 467.3,820.4 467.8,820.3 468.3,820.2 468.8,820.1 469.3,820.9 469.8,821.7 470.3,822.6 470.8,822 471.3,821.4 471.8,820.9 472.3,820.8 472.8,820.6 473.3,820.5 473.8,820.6 474.3,820.7 474.8,820.8 475.3,821.3 475.8,821.8 476.3,822.3 476.8,821.5 477.3,820.7 477.8,819.9 478.3,820.2 478.8,820.5 479.3,820.8 479.8,820.8 480.3,820.9 480.8,820.9 481.3,821.4 481.8,821.8 482.3,822.3 482.8,822.1 483.3,822 483.8,821.9 484.3,821.5 484.8,821.1 485.3,820.7 485.8,821 486.3,821.2 486.8,821.5 487.3,821.5 487.8,821.6 488.3,821.6 488.8,821.1 489.3,820.6 489.8,820.2 490.3,820.7 490.8,821.3 491.3,821.8 491.8,821.3 492.3,820.9 492.8,820.4 493.3,821.3 493.8,822.2 494.3,823.1 494.8,822.5 495.3,822 495.8,821.5 496.3,821.3 496.8,821.1 497.3,820.9 497.8,821.6 498.3,822.4 498.8,823.2 499.3,822.4 499.8,821.7 500.3,820.9 500.8,821.4 501.3,821.8 501.8,822.3 502.3,821.9 502.8,821.5 503.3,821.2 503.8,821.2 504.3,821.2 504.8,821.2 505.3,821.7 505.8,822.3 506.3,822.8 506.8,821.9 507.3,821 507.8,820.1 508.3,820.9 508.8,821.7 509.3,822.5 509.8,822.6 510.3,822.7 510.8,822.8 511.3,822.5 511.8,822.1 512.3,821.8 512.8,822.2 513.3,822.6 513.8,823 514.3,823 514.8,823 515.3,822.9 515.8,822.2 516.3,821.5 516.8,820.8 517.3,821.5 517.8,822.2 518.3,822.9 518.8,822.5 519.3,822 519.8,821.5 520.3,821.1 520.8,820.7 521.3,820.4 521.8,820.8 522.3,821.3 522.8,821.8 523.3,821.4 523.8,821 524.3,820.6 524.8,820.6 525.3,820.6 525.8,820.6 526.3,821.3 526.8,822 527.3,822.7 527.8,822.8 528.3,822.9 528.8,823 529.3,822.3 529.8,821.5 530.3,820.7 530.8,820.6 531.3,820.5 531.8,820.5 532.3,820.5 532.8,820.5 533.3,820.5 533.8,820.7 534.3,820.8 534.8,821 535.3,821.2 535.8,821.4 536.3,821.6 536.8,821.1 537.3,820.7 537.8,820.2 538.3,820.4 538.8,820.6 539.3,820.9 539.8,820.9 540.3,820.8 540.8,820.8 541.3,820.7 541.8,820.5 542.3,820.3 542.8,821.3 543.3,822.2 543.8,823.1 544.3,822.4 544.8,821.6 545.3,820.9 545.8,821.1 546.3,821.2 546.8,821.4 547.3,822 547.8,822.6 548.3,823.2 548.8,823 549.3,822.7 549.8,822.5 550.3,822 550.8,821.5 551.3,821 551.8,821.2 552.3,821.4 552.8,821.6 553.3,821.6 553.8,821.5 554.3,821.5 554.8,821.8 555.3,822.1 555.8,822.4 556.3,822.1 556.8,821.8 557.3,821.5 557.8,821.1 558.3,820.8 558.8,820.5 559.3,820.4 559.8,820.3 560.3,820.2 560.8,820.6 561.3,821.1 561.8,821.5 562.3,821.3 562.8,821.1 563.3,821 563.8,821.6 564.3,822.3 564.8,823 565.3,823 565.8,822.9 566.3,822.9 566.8,822.4 567.3,822 567.8,821.5 568.3,821.2 568.8,820.9 569.3,820.7 569.8,821.4 570.3,822.2 570.8,822.9 571.3,822.9 571.8,822.9 572.3,822.8 572.8,822.5 573.3,822.1 573.8,821.7 574.3,821.9 574.8,822.1 575.3,822.3 575.8,822.5 576.3,822.7 576.8,822.9 577.3,822.8 577.8,822.8 578.3,822.8 578.8,822.5 579.3,822.2 579.8,822 580.3,821.6 580.8,821.2 581.3,820.8 581.8,821.5 582.3,822.1 582.8,822.8 583.3,822.1 583.8,821.4 584.3,820.8 584.8,821.5 585.3,822.3 585.8,823.1 586.3,822.9 586.8,822.7 587.3,822.5 587.8,822.1 588.3,821.6 588.8,821.2 589.3,821.9 589.8,822.6 590.3,823.3 590.8,823 591.3,822.6 591.8,822.3 592.3,822.5 592.8,822.7 593.3,822.8 593.8,822.7 594.3,822.7 594.8,822.6 595.3,821.9 595.8,821.2 596.3,820.5 596.8,821.3 597.3,822.1 597.8,822.8 598.3,822.2 598.8,821.6 599.3,821 599.8,820.8 600.3,820.6 600.8,820.5 601.3,821.1 601.8,821.8 602.3,822.5 602.8,821.9 603.3,821.3 603.8,820.6 604.3,821.2 604.8,821.7 605.3,822.3 605.8,821.8 606.3,821.4 606.8,820.9 607.3,821.1 607.8,821.3 608.3,821.5 608.8,821.7 609.3,822 609.8,822.2 610.3,821.7 610.8,821.1 611.3,820.5 611.8,820.7 612.3,820.9 612.8,821.1 613.3,821.5 613.8,821.9 614.3,822.3 614.8,822.1 615.3,821.8 615.8,821.5 616.3,821.8 616.8,822.1 617.3,822.4 617.8,822.4 618.3,822.4 618.8,822.4 619.3,821.8 619.8,821.1 620.3,820.4 620.8,820.4 621.3,820.3 621.8,820.3 622.3,821.1 622.8,820.9 623.3,818.3 623.8,815 624.3,811.5 624.8,808.1 625.3,805.5 625.8,804.1 626,804 626.3,804.3 626.8,805.9 627.3,808.7 627.8,812.2 628.3,815.7 628.8,818.9 629.3,821.4 629.8,822.7 630.3,822.3 630.8,822 631.3,821.5 631.8,821 632.3,820.6 632.8,820.6 633.3,820.6 633.8,820.6 634.3,821.3 634.8,821.9 635.3,822.6 635.8,822.4 636.3,822.2 636.8,821.9 637.3,821.5 637.8,821 638.3,820.5 638.8,821.2 639.3,821.9 639.8,822.7 640.3,822.8 640.8,822.9 641.3,823 641.8,822.7 642.3,822.4 642.8,822 643.3,821.8 643.8,821.5 644.3,821.2 644.8,821 645.3,820.8 645.8,820.6 646.3,820.6 646.8,820.6 647.3,820.6 647.8,821.5 648.3,822.4 648.8,823.3 649.3,823.1 649.8,823 650.3,822.8 650.8,822.8 651.3,822.9 651.8,822.9 652.3,822.5 652.8,822 653.3,821.5 653.8,821.7 654.3,821.9 654.8,822.1 655.3,821.6 655.8,821 656.3,820.5 656.8,820.8 657.3,821.1 657.8,821.4 658.3,821.4 658.8,821.4 659.3,821.4 659.8,821.4 660.3,821.3 660.8,821.2 661.3,821.7 661.8,822.2 662.3,822.7 662.8,822 663.3,821.3 663.8,820.2 664.3,818 664.8,815.5 665.3,812.9 665.8,810.7 666.3,809 666.8,808.1 667,808 667.3,808.2 667.8,809.2 668.3,811.1 668.8,813.4 669.3,816 669.8,818.5 670.3,820.6 670.8,822.3 671.3,823.2 671.8,822.9 672.3,822.5 672.8,822.2 673.3,821.9 673.8,821.5 674.3,821.1 674.8,821.7 675.3,822.2 675.8,822.7 676.3,822 676.8,821.4 677.3,820.7 677.8,820.7 678.3,820.7 678.8,820.7 679.3,820.9 679.8,821 680.3,821.2 680.8,821.4 681.3,821.6 681.8,821.9 682.3,822.2 682.8,822.5 683.3,822.9 683.8,822.2 684.3,821.5 684.8,820.9 685.3,821.5 685.8,822.2 686.3,822.8 686.8,822.5 687.3,822.2 687.8,821.8 688.3,821.6 688.8,821.3 689.3,821 689.8,821.1 690.3,821.3 690.8,821.4 691.3,821.8 691.8,822.2 692.3,822.6 692.8,822 693.3,821.3 693.8,820.7 694.3,821.2 694.8,821.8 695.3,822.4 695.8,822.3 696.3,822.2 696.8,822.1 697.3,822 697.8,822 698.3,822 698.8,821.7 699.3,821.5 699.8,821.2 700.3,821.9 700.8,822.6 701.3,823.2 701.8,822.6 702.3,822 702.8,821.4 703.3,821.6 703.8,821.7 704.3,821.9 704.8,821.5 705.3,821.2 705.8,820.9 706.3,821.3 706.8,821.8 707.3,822.2 707.8,822 708.3,821.8 708.8,821.6 709.3,821.2 709.8,820.8 710.3,820.4 710.8,821.3 711.3,822.3 711.8,823.2 712.3,822.4 712.8,821.7 713.3,820.9 713.8,821.3 714.3,821.6 714.8,821.9 715.3,822.1 715.8,822.3 716.3,822.4 716.8,822.5 717.3,822.5 717.8,822.5 718.3,822.6 718.8,822.6 719.3,822.7 719.8,822.1 720.3,821.4 720.8,820.8 721.3,821.4 721.8,822.1 722.3,822.7 722.8,822 723.3,821.2 723.8,820.4 724.3,820.9 724.8,821.3 725.3,821.8 725.8,822 726.3,822.3 726.8,822.5 727.3,822 727.8,821.5 728.3,821 728.8,821.2 729.3,819.8 729.8,817.8 730.3,815.8 730.8,814.1 731.3,812.7 731.8,812.1 732,812 732.3,812.1 732.8,813 733.3,814.4 733.8,816.2 734.3,818.2 734.8,820.1 735.3,821.8 735.8,823.1 736.3,823.1 736.8,823 737.3,822.8 737.8,822.6 738.3,822.3 738.8,822.1 739.3,822.2 739.8,822.3 740.3,822.4 740.8,822.4 741.3,822.5 741.8,822.5 742.3,822.2 742.8,821.9 743.3,821.6 743.8,821.5 744.3,821.3 744.8,821.1 745.3,821.4 745.8,821.8 746.3,822.1 746.8,822 747.3,821.9 747.8,821.8 748.3,821.5 748.8,821.3 749.3,821 749.8,821.6 750.3,822.1 750.8,822.7 751.3,821.9 751.8,821.1 752.3,820.3 752.8,821.3 753.3,822.3 753.8,823.3 754.3,822.9 754.8,822.6 755.3,822.2 755.8,821.8 756.3,821.3 756.8,820.9 757.3,821.5 757.8,822.1 758.3,822.7 758.8,822.6 759.3,822.5 759.8,822.4 760.3,822.5 760.8,822.7 761.3,822.9 761.8,822 762.3,821.2 762.8,820.4 763.3,820.5 763.8,820.6 764.3,820.7 764.8,821.5 765.3,822.3 765.8,823.1 766.3,822.7 766.8,822.2 767.3,821.7 767.8,822.1 768.3,822.5 768.8,822.9 769.3,823 769.8,823.2 770.3,823.3 770.8,823.1 771.3,822.9 771.8,822.7 772.3,822.2 772.8,821.7 773.3,821.2 773.8,821.4 774.3,821.6 774.8,821.8 775.3,822 775.8,822.3 776.3,822.5 776.8,822.2 777.3,821.9 777.8,821.6 778.3,822.1 778.8,822.6 779.3,823.1 779.8,822.9 780.3,822.6 780.8,822.3 781.3,822.6 781.8,822.8 782.3,823.1 782.8,822.3 783.3,821.6 783.8,820.9 784.3,821.3 784.8,821.8 785.3,822.2 785.8,821.9 786.3,821.5 786.8,821.2 787.3,821.6 787.8,822 788.3,822.4 788.8,822.3 789.3,822.2 789.8,822.1 790.3,822 790.8,821.8 791.3,821.6 791.8,822 792.3,822.3 792.8,822.6 793.3,822.3 793.8,822 794.3,821.7 794.8,821.5 795.3,821.3 795.8,821 796.3,821.7 796.8,822.4 797.3,823.2 797.8,823 798.3,822.9 798.8,822.8 799.3,823 799.8,823.1 800.3,823.3 800.8,822.8 801.3,822.4 801.8,821.9 802.3,822.3 802.8,822.7 803.3,823 803.8,822.6 804.3,822.2 804.8,821.8 805.3,822.2 805.8,822.5 806.3,822.9 806.8,822.5 807.3,822.2 807.8,821.8 808.3,822 808.8,822.3 809.3,822.5 809.8,822.1 810.3,821.6 810.8,821.1 811.3,821 811.8,821 812.3,820.9 812.8,820.8 813.3,820.6 813.8,820.5 814.3,821 814.8,821.5 815.3,822 815.8,821.5 816.3,821.1 816.8,820.7 817.3,820.7 817.8,820.7 818.3,820.8 818.8,821.3 819.3,821.8 819.8,822.4 820.3,821.7 820.8,821.1 821.3,820.4 821.8,820.4 822.3,820.5 822.8,820.5 823.3,821.3 823.8,822.1 824.3,822.9 824.8,822.3 825.3,821.7 825.8,821.1 826.3,821.2 826.8,821.2 827.3,821.3 827.8,821.4 828.3,821.4 828.8,821.5 829.3,821.4 829.8,821.3 830.3,821.2 830.8,821.7 831.3,822.1 831.8,822.5 832.3,822 832.8,821.4 833.3,820.9 833.8,821 834.3,821.1 834.8,821.2 835.3,821.7 835.8,822.3 836.3,822.8 836.8,822 837.3,821.3 837.8,820.5 838.3,820.7 838.8,820.9 839.3,821.2 839.8,821.8 840.3,822.5 840.8,823.2 841.3,823.2 841.8,823.3 842.3,823.3 842.8,823.2 843.3,823 843.8,822.9 844.3,822.4 844.8,821.9 845.3,821.4 845.8,821.3 846.3,821.3 846.8,821.2 847.3,821 847.8,820.8 848.3,820.6 848.8,820.6 849.3,820.7 849.8,820.7 850.3,821.4 850.8,822.1 851.3,822.8 851.8,822.8 852.3,822.8 852.8,822.8 853.3,822.9 853.8,823 854.3,823.1 854.8,822.8 855.3,822.5 855.8,822.2 856.3,822.2 856.8,822.1 857.3,822.1 857.8,822.2 858.3,822.2 858.8,822.2 859.3,821.8 859.8,821.3 860.3,820.9 860.8,821.1 861.3,821.3 861.8,821.5 862.3,821.3 862.8,821.1 863.3,821 863.8,820.9 864.3,820.8 864.8,820.8 865.3,820.9 865.8,821 866.3,821.1 866.8,821.3 867.3,821.6 867.8,821.8 868.3,821.9 868.8,822 869.3,822.1 869.8,821 870.3,819.7 870.8,818.4 871.3,817.2 871.8,816.2 872.3,815.4 872.8,815 873,815 873.3,815.1 873.8,815.5 874.3,816.3 874.8,817.4 875.3,818.7 875.8,820 876.3,821.2 876.8,821.3 877.3,821.8 877.8,822.2 878.3,822.6 878.8,822.3 879.3,822 879.8,821.7 880.3,821.8 880.8,821.9 881.3,822 881.8,822.3 882.3,822.7 882.8,823 883.3,823 883.8,823.1 884.3,823.1 884.8,822.7 885.3,822.4 885.8,822 886.3,821.5 886.8,821 887.3,820.5 887.8,820.8 888.3,821 888.8,821.3 889.3,821.9 889.8,822.6 890.3,823.2 890.8,822.4 891.3,821.5 891.8,820.6 892.3,820.8 892.8,821 893.3,821.2 893.8,821.3 894.3,821.4 894.8,821.6 895.3,822.2 895.8,822.8 896.3,823.4 896.8,823.1 897.3,822.8 897.8,822.5 898.3,822.4 898.8,822.4 899.3,822.4 899.8,822.2 900.3,822.1 900.8,821.9 901.3,822.3 901.8,822.7 902.3,823 902.8,822.5 903.3,822 903.8,821.5 904.3,821.5 904.8,821.5 905.3,821.5 905.8,821.5 906.3,821.5 906.8,821.5 907.3,821.6 907.8,821.8 908.3,821.9 908.8,821.8 909.3,821.8 909.8,821.7 910.3,822.2 910.8,822.6 911.3,823.1 911.8,822.3 912.3,821.6 912.8,820.9 913.3,820.9 913.8,820.8 914.3,820.8 914.8,820.8 915.3,820.8 915.8,820.8 916.3,820.9 916.8,821 917.3,821.1 917.8,821.6 918.3,822.1 918.8,822.7 919.3,822.6 919.8,822.6" fill="none" stroke="#ecb82c" stroke-width="1.5" stroke-linejoin="round"/>
<polyline points="68.3,818.2 68.8,816.6 69.3,815 69.8,813.3 70.3,814.5 70.8,815.6 71.3,816.5 71.8,815.4 72.3,814 72.8,812.5 73.3,813.1 73.8,813.5 74.3,811.3 74.8,806.5 75.3,800 75.8,791.4 76.3,780 76.8,764.7 77.3,744.3 77.8,717.1 77.9,710.7 78.3,734.4 78.8,757.2 79.3,774.4 79.8,787.2 80.3,796.9 80.8,804.1 81.3,809.6 81.8,813.7 82.3,814.8 82.8,814.5 83.3,814.1 83.8,814.2 84.3,814.2 84.8,814.1 85.3,812.4 85.8,811.3 86.3,810.9 86.8,811.8 87.3,812.6 87.8,813.1 88.3,813.9 88.8,814.6 89.3,815.1 89.8,815.4 90.3,816.6 90.8,817.5 91.3,818.1 91.8,818.6 92.3,818.9 92.8,816.7 93.3,814.4 93.8,812 94.3,811.9 94.8,812.9 95.3,813.7 95.8,814.2 96.3,814.2 96.8,814 97.3,815 97.8,815.7 98.3,816.4 98.8,816.2 99.3,815.8 99.8,815.3 100.3,815.6 100.8,816.4 101.3,817.7 101.8,817.2 102.3,816.6 102.8,815.9 103.3,816.7 103.8,818 104.3,819.3 104.8,818 105.3,816.8 105.8,815.5 106.3,815.5 106.8,815.4 107.3,815.4 107.8,815.4 108.3,815.2 108.8,815.1 109.3,816.1 109.8,817.1 110.3,817.8 110.8,817.9 111.3,818.9 111.8,819.6 112.3,819.2 112.8,818.6 113.3,818.1 113.8,817.2 114.3,816.3 114.8,815.3 115.3,815.8 115.8,816.3 116.3,816.7 116.8,816.1 117.3,815.5 117.8,814.8 118.3,815.5 118.8,816.1 119.3,816.6 119.8,816.1 120.3,816.2 120.8,816.9 121.3,815.9 121.8,814.9 122.3,813.7 122.8,815.8 123.3,817.7 123.8,819.6 124.3,819.5 124.8,819.2 125.3,818.9 125.8,818 126.3,817.3 126.8,816.4 127.3,816.4 127.8,816.4 128.3,816.3 128.8,816.9 129.3,817.4 129.8,817.9 130.3,817.6 130.8,817.2 131.3,816.9 131.8,817.2 132.3,817.4 132.8,817.6 133.3,816.9 133.8,816.1 134.3,815.5 134.8,815.3 135.3,814.9 135.8,814.5 136.3,814.5 136.8,814.5 137.3,814.4 137.8,815 138.3,815.7 138.8,816.2 139.3,816.4 139.8,816.3 140.3,816.9 140.8,816.2 141.3,815.3 141.8,814.2 142.3,815.2 142.8,816.4 143.3,817.8 143.8,817.6 144.3,817.2 144.8,816.8 145.3,816.1 145.8,815.4 146.3,814.4 146.8,815.1 147.3,815.8 147.8,816.4 148.3,817.2 148.8,818 149.3,818.7 149.8,817.9 150.3,817.1 150.8,816.2 151.3,816.6 151.8,817 152.3,817.3 152.8,816.6 153.3,815.9 153.8,815.2 154.3,815.9 154.8,816.5 155.3,817.1 155.8,817.4 156.3,817.7 156.8,817.9 157.3,817 157.8,816 158.3,815 158.8,816 159.3,817 159.8,818 160.3,818.2 160.8,818.4 161.3,818.6 161.8,817.3 162.3,815.8 162.8,814.3 163.3,814.1 163.8,814.5 164.3,814.9 164.8,816.8 165.3,818.6 165.8,820.4 166.3,820.6 166.8,820.6 167.3,820.6 167.8,818.6 168.3,816.4 168.8,814.7 169.3,815.3 169.8,815.6 170.3,815.7 170.8,817 171.3,818 171.8,819 172.3,819.1 172.8,819.2 173.3,819.5 173.8,818.8 174.3,818.1 174.8,817.3 175.3,816.8 175.8,816.3 176.3,815.7 176.8,817 177.3,818.3 177.8,819.5 178.3,818.9 178.8,818.8 179.3,818.6 179.8,818.3 180.3,818 180.8,817.6 181.3,818.5 181.8,819.3 182.3,820.1 182.8,819.4 183.3,816.8 183.8,813.1 184.3,807.8 184.8,800.4 185.3,789.8 185.8,775 186.3,754 186.8,724.4 187.3,682.6 187.8,623.6 188.3,540.4 188.8,422.8 188.9,394 189.3,498.1 189.8,593.7 190.3,661.4 190.8,709.4 191.3,743.4 191.8,767.4 192.3,784.5 192.8,796.6 193.3,805.1 193.8,811.2 194.3,815.5 194.8,818.5 195.3,820.7 195.8,821 196.3,818.3 196.8,810.8 197.3,798.3 197.8,779.6 198.3,754.8 198.8,725.9 199.3,697 199.8,673.6 200.3,661.2 200.5,660 200.8,662.6 201.3,677.6 201.8,702.5 202.3,731.8 202.8,760.2 203.3,783.8 203.8,801.2 204.3,812.6 204.8,819.4 205.3,820.6 205.8,820.2 206.3,819.8 206.8,819.1 207.3,818.5 207.8,817.8 208.3,818.8 208.8,819.9 209.3,820.9 209.8,820.4 210.3,819.9 210.8,819.4 211.3,818.6 211.8,817.9 212.3,817 212.8,816.9 213.3,817.1 213.8,817.3 214.3,818.1 214.8,818.8 215.3,819.3 215.8,818.7 216.3,818.1 216.8,817.5 217.3,817.9 217.8,818.3 218.3,818.6 218.8,819.3 219.3,819.9 219.8,820.5 220.3,820.6 220.8,821.1 221.3,821.5 221.8,821.4 222.3,821.1 222.8,820.8 223.3,819.9 223.8,818.9 224.3,817.9 224.8,818.7 225.3,819.4 225.8,820.2 226.3,819.4 226.8,818.6 227.3,817.9 227.8,817.7 228.3,817.4 228.8,817.2 229.3,817.3 229.8,817.4 230.3,817.5 230.8,818.3 231.3,819 231.8,819.8 232.3,820.5 232.8,821.2 233.3,821.9 233.8,821.3 234.3,820.6 234.8,820.4 235.3,820.6 235.8,820.9 236.3,821.1 236.8,820.4 237.3,819.7 237.8,818.9 238.3,818.8 238.8,818.6 239.3,818.4 239.8,818.2 240.3,817.9 240.8,817.6 241.3,818 241.8,818.4 242.3,818.7 242.8,818.2 243.3,817.7 243.8,817.1 244.3,817.4 244.8,817.6 245.3,818 245.8,818.7 246.3,819.2 246.8,819.7 247.3,819.2 247.8,818.7 248.3,818 248.8,818.8 249.3,819.5 249.8,820.2 250.3,819 250.8,818.4 251.3,817.9 251.8,818.2 252.3,818.5 252.8,818.7 253.3,818.5 253.8,818.4 254.3,818.1 254.8,819.3 255.3,820.6 255.8,822 256.3,821.9 256.8,821.7 257.3,821.5 257.8,820.3 258.3,819.1 258.8,817.9 259.3,819.2 259.8,820.5 260.3,821.8 260.8,821.3 261.3,820.8 261.8,820.3 262.3,820.1 262.8,819.9 263.3,819.6 263.8,819.8 264.3,820 264.8,820.2 265.3,819.6 265.8,819 266.3,818.4 266.8,818.3 267.3,818.1 267.8,818 268.3,819 268.8,820 269.3,820.9 269.8,821.2 270.3,821.5 270.8,821.8 271.3,820.4 271.8,819.2 272.3,818.2 272.8,819 273.3,819.7 273.8,820.3 274.3,820.4 274.8,820.8 275.3,821.2 275.8,821.5 276.3,821.7 276.8,821.8 277.3,821.9 277.8,822.2 278.3,822.4 278.8,821.6 279.3,820.8 279.8,819.9 280.3,820.3 280.8,820.6 281.3,821 281.8,820.4 282.3,819.7 282.8,819.2 283.3,819 283.8,818.6 284.3,818.2 284.8,818.7 285.3,819.2 285.8,819.9 286.3,819.4 286.8,818.9 287.3,818.2 287.8,819.6 288.3,821 288.8,822.3 289.3,821.3 289.8,820.3 290.3,819.3 290.8,819.3 291.3,819.3 291.8,819.3 292.3,819 292.8,818.7 293.3,818.3 293.8,819.6 294.3,820.9 294.8,822.4 295.3,821.7 295.8,821 296.3,820.2 296.8,820 297.3,819.7 297.8,819.6 298.3,819.8 298.8,819.9 299.3,819.9 299.8,820.2 300.3,820.4 300.8,820.6 301.3,820.9 301.8,821.2 302.3,821.5 302.8,820.6 303.3,819.7 303.8,818.8 304.3,818.8 304.8,818.9 305.3,818.9 305.8,819 306.3,819.2 306.8,819.3 307.3,818.7 307.8,818.5 308.3,818.3 308.8,819 309.3,819.7 309.8,820.3 310.3,821 310.8,821.7 311.3,822.4 311.8,821.6 312.3,820.7 312.8,819.8 313.3,820.6 313.8,821.4 314.3,822.1 314.8,821.1 315.3,820.1 315.8,819.1 316.3,819.4 316.8,819.7 317.3,819.9 317.8,820.6 318.3,821.2 318.8,821.8 319.3,821.8 319.8,822 320.3,822.1 320.8,822.3 321.3,822.4 321.8,822.5 322.3,822.4 322.8,822.2 323.3,822.1 323.8,820.9 324.3,819.8 324.8,818.6 325.3,819.7 325.8,820.8 326.3,821.9 326.8,821 327.3,820.1 327.8,819.2 328.3,820.2 328.8,821.2 329.3,822.3 329.8,822 330.3,821.7 330.8,821.5 331.3,821.3 331.8,821.1 332.3,820.9 332.8,821 333.3,821.1 333.8,821.2 334.3,820.2 334.8,819.5 335.3,818.8 335.8,819.9 336.3,820.9 336.8,821.8 337.3,821.4 337.8,820.9 338.3,820.2 338.8,820.6 339.3,821.3 339.8,821.8 340.3,822.1 340.8,822.1 341.3,822.1 341.8,821.2 342.3,820.6 342.8,819.9 343.3,820.5 343.8,821 344.3,821.5 344.8,821.3 345.3,821.2 345.8,820.9 346.3,820.7 346.8,820.4 347.3,820.2 347.8,821 348.3,821.8 348.8,822.5 349.3,822.6 349.8,822.6 350.3,822.6 350.8,821.7 351.3,820.7 351.8,819.7 352.3,819.5 352.8,819.2 353.3,818.9 353.8,820.2 354.3,821.5 354.8,822.8 355.3,822.3 355.8,821.7 356.3,821.2 356.8,820.4 357.3,819.7 357.8,819 358.3,819.3 358.8,819.5 359.3,819.7 359.8,819.5 360.3,819.3 360.8,819.1 361.3,819.7 361.8,820.3 362.3,820.9 362.8,820.2 363.3,819.6 363.8,819.1 364.3,820.4 364.8,821.6 365.3,822.7 365.8,822.1 366.3,821.5 366.8,820.9 367.3,820.2 367.8,819.4 368.3,819.3 368.8,820 369.3,820.8 369.8,821.4 370.3,821.2 370.8,821 371.3,820.8 371.8,821 372.3,821.1 372.8,821.2 373.3,821.3 373.8,821.4 374.3,821.5 374.8,821 375.3,820.4 375.8,819.9 376.3,819.6 376.8,819.3 377.3,819 377.8,820.1 378.3,821.1 378.8,822.1 379.3,822 379.8,821.8 380.3,821.6 380.8,821 381.3,820.4 381.8,819.9 382.3,820 382.8,820.1 383.3,819.9 383.8,818.3 384.3,816.3 384.8,813.9 385.3,810.8 385.8,806.8 386,805 386.3,807.7 386.8,811.4 387.3,814.4 387.8,816.8 388.3,818.6 388.8,819.8 389.3,819.9 389.8,820.1 390.3,820.4 390.8,820.6 391.3,821.1 391.8,821.5 392.3,822 392.8,822.2 393.3,822.5 393.8,822.7 394.3,821.8 394.8,820.8 395.3,819.9 395.8,819.9 396.3,819.9 396.8,819.8 397.3,819.7 397.8,819.8 398.3,819.7 398.8,820.5 399.3,821.3 399.8,822.1 400.3,821.5 400.8,820.9 401.3,820.3 401.8,820 402.3,819.7 402.8,819.3 403.3,820.3 403.8,821.3 404.3,822.1 404.8,822.2 405.3,822.3 405.8,822.6 406.3,822.5 406.8,822.4 407.3,822.3 407.8,822.3 408.3,822.3 408.8,822.2 409.3,821.5 409.8,820.8 410.3,820 410.8,820 411.3,820 411.8,819.9 412.3,819.8 412.8,819.6 413.3,819.5 413.8,819.9 414.3,820.2 414.8,820.4 415.3,820.1 415.8,819.8 416.3,819.4 416.8,819.5 417.3,819.5 417.8,819.6 418.3,820.2 418.8,820.9 419.3,821.5 419.8,821 420.3,820.4 420.8,819.8 421.3,820.1 421.8,820.3 422.3,820.6 422.8,821.1 423.3,821.7 423.8,822.2 424.3,821.8 424.8,821.4 425.3,821 425.8,821.5 426.3,822 426.8,822.5 427.3,822.2 427.8,822 428.3,821.7 428.8,821.2 429.3,820.7 429.8,820.3 430.3,821.2 430.8,822.2 431.3,823.1 431.8,822.5 432.3,821.9 432.8,821.3 433.3,821.4 433.8,821.5 434.3,821.6 434.8,821.8 435.3,822 435.8,822.2 436.3,822.4 436.8,822.7 437.3,822.9 437.8,822.4 438.3,821.9 438.8,821.3 439.3,821.5 439.8,821.8 440.3,822 440.8,822.3 441.3,822.5 441.8,822.8 442.3,822.5 442.8,822.1 443.3,821.8 443.8,821.4 444.3,821.1 444.8,820.8 445.3,821.5 445.8,822.2 446.3,822.9 446.8,822.1 447.3,821.3 447.8,820.4 448.3,821.3 448.8,822.1 449.3,822.9 449.8,822.4 450.3,822 450.8,821.5 451.3,821.7 451.8,821.8 452.3,821.9 452.8,821.3 453.3,820.8 453.8,820.2 454.3,820.2 454.8,820.1 455.3,820.1 455.8,820.3 456.3,820.5 456.8,820.7 457.3,821.2 457.8,821.7 458.3,822.2 458.8,822.1 459.3,822.1 459.8,822.1 460.3,821.5 460.8,820.9 461.3,820.4 461.8,820.7 462.3,821.1 462.8,821.4 463.3,821.3 463.8,821.2 464.3,821 464.8,820.9 465.3,820.8 465.8,820.7 466.3,821.3 466.8,821.9 467.3,822.5 467.8,822.3 468.3,822.1 468.8,821.9 469.3,821.2 469.8,820.6 470.3,820 470.8,820.7 471.3,821.4 471.8,822.1 472.3,821.5 472.8,820.9 473.3,820.3 473.8,821.1 474.3,821.9 474.8,822.7 475.3,822.8 475.8,823 476.3,823.2 476.8,822.6 477.3,822.1 477.8,821.5 478.3,821.8 478.8,822 479.3,822.3 479.8,821.9 480.3,821.6 480.8,821.2 481.3,821 481.8,820.8 482.3,820.6 482.8,821.5 483.3,822.3 483.8,823.1 484.3,822.6 484.8,822.1 485.3,821.5 485.8,821.7 486.3,821.8 486.8,822 487.3,821.4 487.8,820.8 488.3,820.2 488.8,820.3 489.3,820.3 489.8,820.4 490.3,820.4 490.8,820.3 491.3,820.3 491.8,820.4 492.3,820.6 492.8,820.8 493.3,821.2 493.8,821.6 494.3,822.1 494.8,821.8 495.3,821.5 495.8,821.2 496.3,821.3 496.8,821.3 497.3,821.4 497.8,821.6 498.3,821.8 498.8,822 499.3,822.1 499.8,822.2 500.3,822.3 500.8,821.9 501.3,821.5 501.8,821.1 502.3,820.8 502.8,820.5 503.3,820.3 503.8,821 504.3,821.7 504.8,822.4 505.3,822.3 505.8,822.2 506.3,822.1 506.8,822.3 507.3,822.5 507.8,822.7 508.3,822.5 508.8,822.3 509.3,822 509.8,822 510.3,822 510.8,822 511.3,822.3 511.8,822.6 512.3,822.9 512.8,822.3 513.3,821.7 513.8,821.1 514.3,821.5 514.8,821.8 515.3,822.1 515.8,821.6 516.3,821.1 516.8,820.6 517.3,821.2 517.8,821.8 518.3,822.5 518.8,821.9 519.3,821.4 519.8,820.9 520.3,820.6 520.8,820.3 521.3,820.1 521.8,820.9 522.3,821.8 522.8,822.7 523.3,822.5 523.8,822.3 524.3,822.1 524.8,821.4 525.3,820.7 525.8,820.1 526.3,820.7 526.8,821.3 527.3,822 527.8,822 528.3,822.1 528.8,822.2 529.3,822.4 529.8,822.6 530.3,822.8 530.8,822 531.3,821.3 531.8,820.6 532.3,821.1 532.8,821.7 533.3,822.2 533.8,821.6 534.3,821 534.8,820.4 535.3,820.8 535.8,821.1 536.3,821.5 536.8,821.9 537.3,822.3 537.8,822.7 538.3,821.8 538.8,820.9 539.3,820.1 539.8,820.2 540.3,820.3 540.8,820.4 541.3,820.5 541.8,820.7 542.3,820.9 542.8,821 543.3,821.2 543.8,821.3 544.3,821.2 544.8,821 545.3,820.8 545.8,820.6 546.3,820.4 546.8,820.2 547.3,821 547.8,821.8 548.3,822.7 548.8,822.6 549.3,822.6 549.8,822.5 550.3,822 550.8,821.4 551.3,820.8 551.8,821.2 552.3,821.6 552.8,821.9 553.3,821.3 553.8,820.7 554.3,820.1 554.8,820.3 555.3,820.4 555.8,820.6 556.3,820.9 556.8,821.3 557.3,821.6 557.8,822 558.3,822.4 558.8,822.8 559.3,822.3 559.8,821.8 560.3,821.3 560.8,821.3 561.3,821.4 561.8,821.4 562.3,821.4 562.8,821.4 563.3,821.4 563.8,821.2 564.3,821 564.8,820.8 565.3,821.1 565.8,821.5 566.3,821.8 566.8,821.3 567.3,820.9 567.8,820.4 568.3,820.8 568.8,821.1 569.3,821.4 569.8,821.9 570.3,822.3 570.8,822.8 571.3,822.1 571.8,821.4 572.3,820.7 572.8,821.4 573.3,822.1 573.8,822.8 574.3,822 574.8,821.2 575.3,820.4 575.8,820.4 576.3,820.4 576.8,820.4 577.3,821.1 577.8,821.9 578.3,822.7 578.8,822.7 579.3,822.7 579.8,822.7 580.3,822.1 580.8,821.6 581.3,821.1 581.8,821.3 582.3,821.6 582.8,821.9 583.3,821.9 583.8,822 584.3,822.1 584.8,821.7 585.3,821.3 585.8,820.9 586.3,821.4 586.8,821.8 587.3,822.3 587.8,822.5 588.3,822.7 588.8,822.9 589.3,822.5 589.8,822 590.3,821.6 590.8,821.2 591.3,820.9 591.8,820.5 592.3,820.5 592.8,820.4 593.3,820.3 593.8,821.2 594.3,822.1 594.8,823 595.3,822.3 595.8,821.6 596.3,821 596.8,821.4 597.3,821.9 597.8,822.3 598.3,821.6 598.8,820.9 599.3,820.3 599.8,820.9 600.3,821.5 600.8,822.1 601.3,822.4 601.8,822.7 602.3,823 602.8,822.8 603.3,822.5 603.8,822.3 604.3,822.1 604.8,821.9 605.3,821.7 605.8,822.1 606.3,822.4 606.8,822.8 607.3,822.1 607.8,821.5 608.3,820.9 608.8,821.4 609.3,821.8 609.8,822.3 610.3,821.9 610.8,821.4 611.3,821 611.8,821.5 612.3,822.1 612.8,822.6 613.3,822.3 613.8,822.1 614.3,821.8 614.8,821.6 615.3,821.4 615.8,821.3 616.3,821.7 616.8,822.2 617.3,822.7 617.8,822.6 618.3,822.5 618.8,822.4 619.3,821.8 619.8,821.3 620.3,820.7 620.8,821.2 621.3,821.6 621.8,822.1 622.3,822.1 622.8,822.2 623.3,820.4 623.8,818 624.3,815.4 624.8,813 625.3,811.1 625.8,810.1 626,810 626.3,810.2 626.8,811.4 627.3,813.4 627.8,815.9 628.3,818.5 628.8,820.8 629.3,821.6 629.8,821.3 630.3,821 630.8,820.7 631.3,820.6 631.8,820.6 632.3,820.5 632.8,820.5 633.3,820.5 633.8,820.4 634.3,820.5 634.8,820.5 635.3,820.5 635.8,820.7 636.3,820.9 636.8,821.2 637.3,821.2 637.8,821.2 638.3,821.2 638.8,821.5 639.3,821.8 639.8,822.1 640.3,822.4 640.8,822.7 641.3,823 641.8,822.2 642.3,821.3 642.8,820.5 643.3,821 643.8,821.5 644.3,822.1 644.8,822.1 645.3,822.2 645.8,822.3 646.3,822.1 646.8,821.9 647.3,821.6 647.8,821.4 648.3,821.2 648.8,821 649.3,820.9 649.8,820.8 650.3,820.8 650.8,821.5 651.3,822.2 651.8,823 652.3,822.3 652.8,821.6 653.3,820.9 653.8,820.7 654.3,820.6 654.8,820.4 655.3,820.4 655.8,820.3 656.3,820.3 656.8,820.3 657.3,820.4 657.8,820.4 658.3,820.8 658.8,821.2 659.3,821.6 659.8,821.2 660.3,820.9 660.8,820.6 661.3,820.9 661.8,821.2 662.3,821.5 662.8,821.3 663.3,821 663.8,820.7 664.3,820.6 664.8,820.4 665.3,818.9 665.8,816.7 666.3,814.4 666.8,812.4 667.3,810.8 667.8,810.1 668,810 668.3,810.2 668.8,811.1 669.3,812.7 669.8,814.8 670.3,817.1 670.8,819.3 671.3,820.5 671.8,820.5 672.3,820.5 672.8,820.6 673.3,821 673.8,821.5 674.3,821.9 674.8,821.9 675.3,822 675.8,822 676.3,822.3 676.8,822.6 677.3,823 677.8,822.2 678.3,821.5 678.8,820.7 679.3,821.3 679.8,821.9 680.3,822.5 680.8,822.7 681.3,822.8 681.8,823 682.3,823 682.8,823 683.3,823 683.8,822.2 684.3,821.3 684.8,820.5 685.3,821 685.8,821.5 686.3,822.1 686.8,821.7 687.3,821.3 687.8,820.9 688.3,821.7 688.8,822.4 689.3,823.1 689.8,822.7 690.3,822.3 690.8,821.9 691.3,821.6 691.8,821.3 692.3,821.1 692.8,821 693.3,821 693.8,821 694.3,821.6 694.8,822.2 695.3,822.8 695.8,822.5 696.3,822.2 696.8,821.9 697.3,821.5 697.8,821.2 698.3,820.9 698.8,820.8 699.3,820.7 699.8,820.6 700.3,821.4 700.8,822.2 701.3,823.1 701.8,822.6 702.3,822.1 702.8,821.6 703.3,821.2 703.8,820.9 704.3,820.6 704.8,820.9 705.3,821.2 705.8,821.5 706.3,821.3 706.8,821.1 707.3,821 707.8,821.5 708.3,822 708.8,822.5 709.3,822.3 709.8,822.1 710.3,821.9 710.8,822.3 711.3,822.8 711.8,823.3 712.3,822.5 712.8,821.7 713.3,820.9 713.8,821.2 714.3,821.4 714.8,821.6 715.3,822 715.8,822.4 716.3,822.8 716.8,822 717.3,821.3 717.8,820.5 718.3,821.2 718.8,822 719.3,822.7 719.8,822.9 720.3,823.1 720.8,823.3 721.3,822.6 721.8,821.9 722.3,821.1 722.8,821.8 723.3,822.5 723.8,823.1 724.3,822.5 724.8,821.9 725.3,821.4 725.8,821.9 726.3,822.4 726.8,823 727.3,823.1 727.8,823.2 728.3,823.3 728.8,822.6 729.3,821.8 729.8,821.1 730.3,821.2 730.8,821.4 731.3,821.5 731.8,821.4 732.3,821.4 732.8,821.4 733.3,821.3 733.8,821.3 734.3,821.2 734.8,821.2 735.3,821.2 735.8,821.2 736.3,821.7 736.8,822.3 737.3,822.8 737.8,822.6 738.3,822.3 738.8,822.1 739.3,821.9 739.8,821.7 740.3,821.6 740.8,821.3 741.3,821 741.8,820.7 742.3,820.9 742.8,821.2 743.3,821.4 743.8,821.6 744.3,821.7 744.8,821.9 745.3,821.5 745.8,821.2 746.3,820.9 746.8,820.8 747.3,820.8 747.8,820.8 748.3,821.4 748.8,822 749.3,822.6 749.8,822.7 750.3,822.7 750.8,822.8 751.3,823 751.8,823.2 752.3,823.4 752.8,822.5 753.3,821.6 753.8,820.7 754.3,821.4 754.8,822.1 755.3,822.7 755.8,822.4 756.3,822 756.8,821.6 757.3,821.7 757.8,821.7 758.3,821.8 758.8,821.6 759.3,821.5 759.8,821.4 760.3,821.1 760.8,820.8 761.3,820.5 761.8,820.8 762.3,821.1 762.8,821.4 763.3,821.9 763.8,822.4 764.3,822.9 764.8,822.6 765.3,822.3 765.8,822.1 766.3,822.3 766.8,822.6 767.3,822.8 767.8,822.6 768.3,822.4 768.8,822.2 769.3,821.8 769.8,821.5 770.3,821.1 770.8,821.2 771.3,821.3 771.8,821.4 772.3,821.4 772.8,821.4 773.3,821.5 773.8,821.2 774.3,821 774.8,820.7 775.3,820.6 775.8,820.5 776.3,820.3 776.8,821.1 777.3,821.9 777.8,822.6 778.3,822.2 778.8,821.7 779.3,821.2 779.8,821.3 780.3,821.4 780.8,821.4 781.3,822 781.8,822.7 782.3,823.3 782.8,822.3 783.3,821.3 783.8,820.4 784.3,821 784.8,821.6 785.3,822.2 785.8,821.9 786.3,821.6 786.8,821.3 787.3,821.8 787.8,822.2 788.3,822.7 788.8,822.5 789.3,822.3 789.8,822.1 790.3,822.4 790.8,822.7 791.3,823 791.8,822.2 792.3,821.3 792.8,820.4 793.3,821.4 793.8,822.3 794.3,823.3 794.8,823.2 795.3,823.2 795.8,823.2 796.3,822.5 796.8,821.8 797.3,821.2 797.8,821.3 798.3,821.5 798.8,821.6 799.3,821.9 799.8,822.1 800.3,822.4 800.8,821.8 801.3,821.1 801.8,820.5 802.3,820.8 802.8,821 803.3,821.3 803.8,821.5 804.3,821.8 804.8,822 805.3,821.8 805.8,821.5 806.3,821.2 806.8,821 807.3,820.8 807.8,820.5 808.3,820.6 808.8,820.7 809.3,820.7 809.8,821.2 810.3,821.8 810.8,822.3 811.3,821.9 811.8,821.4 812.3,821 812.8,821.6 813.3,822.2 813.8,822.7 814.3,822.5 814.8,822.4 815.3,822.2 815.8,821.6 816.3,821 816.8,820.4 817.3,820.6 817.8,820.9 818.3,821.2 818.8,821.5 819.3,821.8 819.8,822.2 820.3,822 820.8,821.9 821.3,821.7 821.8,821.8 822.3,822 822.8,822.1 823.3,821.8 823.8,821.5 824.3,821.2 824.8,821.4 825.3,821.6 825.8,821.8 826.3,821.9 826.8,821.9 827.3,822 827.8,822 828.3,822.1 828.8,822.1 829.3,821.6 829.8,821.2 830.3,820.7 830.8,820.8 831.3,820.9 831.8,820.9 832.3,821.5 832.8,822.1 833.3,822.7 833.8,822.5 834.3,822.3 834.8,822.2 835.3,821.7 835.8,821.2 836.3,820.7 836.8,820.8 837.3,821 837.8,821.2 838.3,821.3 838.8,821.4 839.3,821.6 839.8,821.5 840.3,821.5 840.8,821.5 841.3,821.9 841.8,822.3 842.3,822.8 842.8,822.4 843.3,822 843.8,821.7 844.3,821.5 844.8,821.3 845.3,821.1 845.8,821.4 846.3,821.7 846.8,822.1 847.3,822.1 847.8,822.1 848.3,822.1 848.8,822.1 849.3,822.1 849.8,822.1 850.3,821.9 850.8,821.7 851.3,821.6 851.8,822 852.3,822.3 852.8,822.7 853.3,822.1 853.8,821.5 854.3,820.9 854.8,821.7 855.3,822.4 855.8,823.2 856.3,822.5 856.8,821.8 857.3,821 857.8,821.3 858.3,821.5 858.8,821.8 859.3,822.1 859.8,822.4 860.3,822.6 860.8,822.6 861.3,822.6 861.8,822.6 862.3,822.6 862.8,822.6 863.3,822.6 863.8,822.7 864.3,822.8 864.8,822.9 865.3,822.1 865.8,821.2 866.3,820.4 866.8,821.1 867.3,821.8 867.8,822.5 868.3,822.7 868.8,822.9 869.3,822.1 869.8,821 870.3,819.7 870.8,818.4 871.3,817.2 871.8,816.2 872.3,815.4 872.8,815 873,815 873.3,815.1 873.8,815.5 874.3,816.3 874.8,817.4 875.3,818.7 875.8,820 876.3,821.2 876.8,821.6 877.3,821.9 877.8,822.1 878.3,822.4 878.8,822.3 879.3,822.1 879.8,822 880.3,821.9 880.8,821.8 881.3,821.7 881.8,821.2 882.3,820.8 882.8,820.4 883.3,821 883.8,821.6 884.3,822.3 884.8,822.3 885.3,822.3 885.8,822.3 886.3,821.9 886.8,821.6 887.3,821.3 887.8,821.4 888.3,821.5 888.8,821.7 889.3,821.4 889.8,821.1 890.3,820.7 890.8,821.2 891.3,821.6 891.8,822.1 892.3,821.9 892.8,821.7 893.3,821.5 893.8,821.6 894.3,821.7 894.8,821.9 895.3,821.8 895.8,821.7 896.3,821.6 896.8,821.7 897.3,821.8 897.8,821.9 898.3,822.2 898.8,822.6 899.3,822.9 899.8,822.9 900.3,823 900.8,823 901.3,822.7 901.8,822.5 902.3,822.2 902.8,821.6 903.3,821 903.8,820.4 904.3,820.9 904.8,821.4 905.3,821.9 905.8,821.9 906.3,821.9 906.8,821.9 907.3,821.9 907.8,822 908.3,822 908.8,821.7 909.3,821.4 909.8,821.1 910.3,821.5 910.8,821.9 911.3,822.3 911.8,822.3 912.3,822.3 912.8,822.2 913.3,822.3 913.8,822.3 914.3,822.4 914.8,822.1 915.3,821.9 915.8,821.7 916.3,821.8 916.8,821.9 917.3,821.9 917.8,821.8 918.3,821.7 918.8,821.6 919.3,821.2 919.8,820.9" fill="none" stroke="#4ce04c" stroke-width="1.5" stroke-linejoin="round"/>
<polyline points="68.3,808.8 68.8,810.4 69.3,811.9 69.8,813.2 70.3,811.7 70.8,810.9 71.3,810.7 71.8,811.1 72.3,811.4 72.8,811.4 73.3,812.8 73.8,813.9 74.3,815.3 74.8,816.5 75.3,817.4 75.8,817.7 76.3,815.7 76.8,813.5 77.3,811.2 77.8,812.9 78.3,815.1 78.8,817.1 79.3,816 79.8,814.5 80.3,813.6 80.8,812.8 81.3,811.7 81.8,810.1 82.3,809.7 82.8,809.1 83.3,808.1 83.8,811.5 84.3,814.6 84.8,817.4 85.3,817.7 85.8,817.3 86.3,816.6 86.8,815.4 87.3,816.2 87.8,816.5 88.3,815.1 88.8,813.5 89.3,811.8 89.8,814 90.3,816.2 90.8,818.3 91.3,817.2 91.8,816.3 92.3,816.3 92.8,817.1 93.3,817.8 93.8,818.3 94.3,818.4 94.8,818.4 95.3,818.2 95.8,816.9 96.3,816 96.8,815 97.3,816.1 97.8,817.1 98.3,818.1 98.8,817.5 99.3,816.8 99.8,816 100.3,814.9 100.8,813.6 101.3,812.8 101.8,813.2 102.3,813.5 102.8,813.6 103.3,814.4 103.8,815.2 104.3,815.9 104.8,814.6 105.3,813.2 105.8,811.5 106.3,812.5 106.8,813.6 107.3,814.6 107.8,814.1 108.3,813.5 108.8,812.6 109.3,813.9 109.8,815 110.3,816.5 110.8,816.7 111.3,816.8 111.8,816.7 112.3,816.3 112.8,815.8 113.3,815.4 113.8,814.4 114.3,813.4 114.8,812.3 115.3,813.1 115.8,814.1 116.3,815.1 116.8,815.6 117.3,816 117.8,816.5 118.3,817.1 118.8,817.7 119.3,818.2 119.8,818.1 120.3,817.9 120.8,817.7 121.3,818.1 121.8,818.4 122.3,818.5 122.8,816.5 123.3,814.4 123.8,812.3 124.3,812.3 124.8,812.3 125.3,812 125.8,811.7 126.3,812.3 126.8,812.7 127.3,814 127.8,815.1 128.3,816.2 128.8,815.9 129.3,815.5 129.8,815.1 130.3,816.2 130.8,817.2 131.3,818.2 131.8,817.8 132.3,817.4 132.8,817 133.3,817.8 133.8,818.6 134.3,819.4 134.8,818.7 135.3,818 135.8,817.5 136.3,817.9 136.8,818.4 137.3,818.8 137.8,819.1 138.3,819.5 138.8,819.9 139.3,818 139.8,816.1 140.3,814.1 140.8,816.1 141.3,818 141.8,820 142.3,818.3 142.8,816.6 143.3,815 143.8,815.2 144.3,815.4 144.8,815.6 145.3,817.1 145.8,818.6 146.3,820.1 146.8,819.2 147.3,818.3 147.8,817.4 148.3,816.3 148.8,815.1 149.3,814 149.8,814 150.3,814 150.8,814 151.3,815.1 151.8,816.1 152.3,817.1 152.8,816.6 153.3,816.2 153.8,815.7 154.3,815.8 154.8,816 155.3,816.1 155.8,817 156.3,817.9 156.8,819 157.3,818.4 157.8,817.9 158.3,817.4 158.8,817.3 159.3,817.2 159.8,817.1 160.3,817.5 160.8,817.9 161.3,818.3 161.8,817.5 162.3,816.6 162.8,815.7 163.3,816.5 163.8,817.3 164.3,818.1 164.8,817.4 165.3,816.6 165.8,815.7 166.3,816.8 166.8,818.3 167.3,820.2 167.8,819.6 168.3,818.9 168.8,818 169.3,818.7 169.8,819.3 170.3,819.8 170.8,817.9 171.3,817 171.8,816.3 172.3,816.1 172.8,815.9 173.3,815.5 173.8,816.3 174.3,816.9 174.8,817.7 175.3,817.7 175.8,817.7 176.3,817.7 176.8,817.6 177.3,817.5 177.8,817.3 178.3,818.1 178.8,819 179.3,819.8 179.8,819.5 180.3,819.1 180.8,818.6 181.3,817.8 181.8,814.5 182.3,809.9 182.8,803.2 183.3,793.9 183.8,780.7 184.3,762.1 184.8,735.9 185.3,698.8 185.8,646.5 186,620 186.3,658.5 186.8,707.3 187.3,741.9 187.8,766.4 188.3,783.8 188.8,771.5 189.3,749.1 189.8,717.4 190.3,672.8 190.8,609.7 191.3,520.7 191.8,395 192.3,520.7 192.8,609.7 193.3,672.8 193.8,717.4 194.3,749.1 194.8,771.5 195.3,759.1 195.8,731.5 196.3,692.7 196.8,637.8 197,610 197.3,650.4 197.8,701.6 198.3,737.8 198.8,763.5 199.3,781.7 199.8,794.6 200.3,803.7 200.8,810.2 201.3,814.8 201.8,815.9 202.3,817 202.8,817.9 203.3,819.3 203.8,819.4 204.3,819.4 204.8,819.3 205.3,818.6 205.8,817.8 206.3,817 206.8,818.6 207.3,820 207.8,821.4 208.3,820.3 208.8,819.2 209.3,818 209.8,817.4 210.3,816.7 210.8,815.9 211.3,815.3 211.8,815.5 212.3,815.7 212.8,816.5 213.3,816.9 213.8,817 214.3,816.9 214.8,818 215.3,819.1 215.8,819.4 216.3,819.2 216.8,818.8 217.3,818.4 217.8,818.3 218.3,818 218.8,819.1 219.3,820.3 219.8,821.4 220.3,821.5 220.8,821.6 221.3,821.7 221.8,820.1 222.3,818.6 222.8,817.1 223.3,817.6 223.8,818.1 224.3,818.5 224.8,819.3 225.3,820.1 225.8,820.8 226.3,820.2 226.8,819.5 227.3,818.7 227.8,818.3 228.3,818.7 228.8,819.5 229.3,818.9 229.8,818.1 230.3,817.2 230.8,818.4 231.3,819.4 231.8,820.5 232.3,819.7 232.8,819 233.3,818.2 233.8,818.2 234.3,818.2 234.8,818.1 235.3,818.8 235.8,819.5 236.3,820.1 236.8,820.1 237.3,820 237.8,819.9 238.3,819.5 238.8,819.3 239.3,819.1 239.8,819.4 240.3,819.7 240.8,820 241.3,819.5 241.8,819.3 242.3,819 242.8,819.5 243.3,820 243.8,820.5 244.3,819.7 244.8,818.9 245.3,818.2 245.8,818.8 246.3,819.4 246.8,820 247.3,820.5 247.8,821 248.3,821.4 248.8,820.3 249.3,819.2 249.8,818.1 250.3,817.8 250.8,817.5 251.3,817.2 251.8,817.8 252.3,818.2 252.8,818.7 253.3,818.8 253.8,818.8 254.3,819 254.8,818.7 255.3,818.3 255.8,817.9 256.3,817.7 256.8,817.6 257.3,817.4 257.8,818.7 258.3,820 258.8,821.1 259.3,819.9 259.8,819.3 260.3,819 260.8,820 261.3,821 261.8,821.5 262.3,820.6 262.8,820.4 263.3,820.2 263.8,820.5 264.3,820.8 264.8,820.8 265.3,820.3 265.8,820.2 266.3,819.9 266.8,819.7 267.3,819.4 267.8,819.1 268.3,818.8 268.8,818.5 269.3,818.1 269.8,818.9 270.3,819.7 270.8,820.8 271.3,821.4 271.8,821.8 272.3,822.2 272.8,820.7 273.3,819.1 273.8,817.5 274.3,817.8 274.8,818.3 275.3,818.7 275.8,819.1 276.3,819.5 276.8,819.8 277.3,820.5 277.8,821.1 278.3,821.7 278.8,821.7 279.3,821.6 279.8,821.4 280.3,820.3 280.8,819.1 281.3,817.9 281.8,818.6 282.3,819.1 282.8,819.8 283.3,819.4 283.8,819 284.3,818.5 284.8,818.6 285.3,818.8 285.8,818.9 286.3,818.9 286.8,818.9 287.3,818.9 287.8,818.7 288.3,818.3 288.8,818.4 289.3,819.4 289.8,820.3 290.3,821.2 290.8,821.3 291.3,821.3 291.8,821.2 292.3,820.9 292.8,820.4 293.3,819.9 293.8,819 294.3,818.9 294.8,818.7 295.3,818.8 295.8,818.9 296.3,818.9 296.8,818.9 297.3,818.9 297.8,818.9 298.3,819 298.8,819 299.3,818.9 299.8,819.1 300.3,819.6 300.8,820 301.3,820.5 301.8,821.1 302.3,821.6 302.8,820.8 303.3,820.1 303.8,819.3 304.3,819.1 304.8,818.9 305.3,818.5 305.8,819 306.3,819.5 306.8,819.9 307.3,819.8 307.8,819.5 308.3,819 308.8,818.3 309.3,817.5 309.8,817.3 310.3,817.8 310.8,818.1 311.3,818.4 311.8,819.6 312.3,820.9 312.8,822.1 313.3,821.9 313.8,821.6 314.3,821.4 314.8,820.9 315.3,820.5 315.8,820.1 316.3,820 316.8,819.9 317.3,819.7 317.8,820.3 318.3,820.9 318.8,821.4 319.3,820.5 319.8,819.6 320.3,818.8 320.8,819.4 321.3,820.1 321.8,820.7 322.3,820.3 322.8,819.8 323.3,819.3 323.8,820.2 324.3,821.2 324.8,822.3 325.3,822.1 325.8,821.8 326.3,821.5 326.8,821.8 327.3,822.2 327.8,822.4 328.3,821.3 328.8,820.1 329.3,818.7 329.8,818.6 330.3,819.5 330.8,820.2 331.3,819.8 331.8,819.3 332.3,818.8 332.8,819.2 333.3,819.7 333.8,820.2 334.3,820.5 334.8,820.8 335.3,821.1 335.8,820.9 336.3,820.8 336.8,821 337.3,821.1 337.8,821.1 338.3,821.1 338.8,821.3 339.3,821.5 339.8,821.7 340.3,821.6 340.8,821.5 341.3,821.3 341.8,820.9 342.3,820.4 342.8,819.9 343.3,820.4 343.8,820.9 344.3,821.4 344.8,821.3 345.3,821.1 345.8,821 346.3,820.6 346.8,820.3 347.3,820 347.8,820.5 348.3,821.1 348.8,821.6 349.3,821.3 349.8,821 350.3,820.6 350.8,820.6 351.3,820.7 351.8,821.1 352.3,821.2 352.8,821.3 353.3,821.4 353.8,821 354.3,820.6 354.8,820.1 355.3,820.7 355.8,821.3 356.3,821.8 356.8,821.6 357.3,821.4 357.8,821.1 358.3,821.6 358.8,822 359.3,822.4 359.8,821.7 360.3,820.9 360.8,820.2 361.3,820.7 361.8,821.2 362.3,821.7 362.8,820.8 363.3,820 363.8,819.1 364.3,819.7 364.8,820.3 365.3,820.9 365.8,820.6 366.3,820.4 366.8,820.3 367.3,820.5 367.8,820.7 368.3,820.8 368.8,820.5 369.3,820.1 369.8,819.7 370.3,819.9 370.8,820 371.3,820.2 371.8,820.3 372.3,820.3 372.8,820.4 373.3,821.1 373.8,821.9 374.3,822.6 374.8,822.5 375.3,822.4 375.8,822.3 376.3,821.6 376.8,820.8 377.3,820 377.8,820.4 378.3,820.8 378.8,821.2 379.3,820.3 379.8,819.4 380.3,818.8 380.8,819.4 381.3,819.9 381.8,820.2 382.3,819.8 382.8,819.4 383.3,818.9 383.8,819.3 384.3,819.6 384.8,819.9 385.3,819.7 385.8,819.4 386.3,819 386.8,819.5 387.3,820 387.8,820.4 388.3,820 388.8,819.6 389.3,819.2 389.8,819.7 390.3,820.2 390.8,820.5 391.3,820.9 391.8,821.3 392.3,821.7 392.8,822 393.3,822.2 393.8,822.5 394.3,822.3 394.8,822.1 395.3,822 395.8,821.2 396.3,820.3 396.8,819.5 397.3,819.6 397.8,819.7 398.3,820.2 398.8,821.1 399.3,821.9 399.8,822.7 400.3,822.7 400.8,822.7 401.3,822.6 401.8,821.9 402.3,821.2 402.8,821 403.3,821 403.8,821 404.3,820.9 404.8,821.2 405.3,821.4 405.8,821.6 406.3,822.1 406.8,822.5 407.3,822.9 407.8,822.6 408.3,822.3 408.8,822 409.3,821.2 409.8,820.4 410.3,819.7 410.8,819.9 411.3,820 411.8,820.1 412.3,819.9 412.8,819.6 413.3,819.3 413.8,820 414.3,820.9 414.8,821.7 415.3,821.3 415.8,820.8 416.3,820.2 416.8,820.7 417.3,821.4 417.8,822.1 418.3,822.1 418.8,822 419.3,821.9 419.8,821.1 420.3,820.3 420.8,819.6 421.3,820.5 421.8,821.3 422.3,822.1 422.8,822 423.3,821.7 423.8,821.4 424.3,821.6 424.8,821.9 425.3,822.1 425.8,821.4 426.3,820.7 426.8,819.9 427.3,820.2 427.8,820.3 428.3,820.5 428.8,820.6 429.3,820.7 429.8,820.8 430.3,820.6 430.8,820.3 431.3,820 431.8,820.5 432.3,821 432.8,821.4 433.3,820.9 433.8,820.4 434.3,819.9 434.8,820 435.3,820.2 435.8,820.4 436.3,820.9 436.8,821.5 437.3,822 437.8,822.1 438.3,822.2 438.8,822.3 439.3,821.9 439.8,821.6 440.3,821.2 440.8,821.3 441.3,821.4 441.8,821.5 442.3,821.1 442.8,820.7 443.3,820.3 443.8,820.5 444.3,820.7 444.8,820.8 445.3,820.7 445.8,820.6 446.3,820.5 446.8,820.7 447.3,820.8 447.8,821 448.3,821.4 448.8,821.8 449.3,822.2 449.8,821.6 450.3,821.1 450.8,820.5 451.3,820.3 451.8,820 452.3,819.7 452.8,820.1 453.3,820.5 453.8,820.9 454.3,820.8 454.8,820.8 455.3,820.7 455.8,821.2 456.3,821.8 456.8,822.3 457.3,822.5 457.8,822.6 458.3,822.7 458.8,822.3 459.3,822 459.8,821.6 460.3,821.4 460.8,821.3 461.3,821.1 461.8,820.9 462.3,820.8 462.8,820.6 463.3,820.9 463.8,821.2 464.3,821.5 464.8,821.4 465.3,821.4 465.8,821.3 466.3,821.8 466.8,822.3 467.3,822.8 467.8,822.9 468.3,822.9 468.8,823 469.3,822.9 469.8,822.8 470.3,822.7 470.8,822.5 471.3,822.3 471.8,822.1 472.3,822.2 472.8,822.2 473.3,822.3 473.8,822.4 474.3,822.6 474.8,822.7 475.3,822.5 475.8,822.2 476.3,822 476.8,822 477.3,822 477.8,822 478.3,821.5 478.8,820.9 479.3,820.4 479.8,820.3 480.3,820.1 480.8,820 481.3,820 481.8,819.9 482.3,819.8 482.8,820.1 483.3,820.4 483.8,820.7 484.3,821.5 484.8,822.3 485.3,823.1 485.8,822.9 486.3,822.6 486.8,822.4 487.3,821.5 487.8,820.7 488.3,819.8 488.8,820.2 489.3,820.5 489.8,820.9 490.3,820.7 490.8,820.5 491.3,820.3 491.8,821.1 492.3,821.8 492.8,822.5 493.3,822.5 493.8,822.4 494.3,822.4 494.8,822.5 495.3,822.7 495.8,822.9 496.3,822.4 496.8,821.9 497.3,821.4 497.8,821.6 498.3,821.8 498.8,822 499.3,821.9 499.8,821.7 500.3,821.6 500.8,822 501.3,822.4 501.8,822.7 502.3,822.9 502.8,823 503.3,823.1 503.8,822.7 504.3,822.3 504.8,821.9 505.3,821.3 505.8,820.7 506.3,820.1 506.8,820.4 507.3,820.7 507.8,821.1 508.3,821.1 508.8,821.2 509.3,821.3 509.8,821.9 510.3,822.4 510.8,823 511.3,822.6 511.8,822.2 512.3,821.8 512.8,821.9 513.3,821.9 513.8,822 514.3,821.7 514.8,821.4 515.3,821.1 515.8,821.4 516.3,821.6 516.8,821.9 517.3,821.5 517.8,821 518.3,820.6 518.8,821.2 519.3,821.7 519.8,822.3 520.3,821.8 520.8,821.3 521.3,820.8 521.8,821.6 522.3,822.4 522.8,823.2 523.3,823.1 523.8,822.9 524.3,822.7 524.8,822 525.3,821.3 525.8,820.6 526.3,820.6 526.8,820.5 527.3,820.4 527.8,821 528.3,821.6 528.8,822.2 529.3,822.4 529.8,822.5 530.3,822.6 530.8,821.8 531.3,820.9 531.8,820.1 532.3,820.5 532.8,820.9 533.3,821.3 533.8,821.9 534.3,822.4 534.8,822.9 535.3,822 535.8,821 536.3,820 536.8,820.5 537.3,820.9 537.8,821.4 538.3,821.7 538.8,822 539.3,822.3 539.8,822.1 540.3,821.8 540.8,821.6 541.3,821.8 541.8,821.9 542.3,822.1 542.8,821.8 543.3,821.6 543.8,821.4 544.3,821.6 544.8,821.7 545.3,821.9 545.8,822 546.3,822 546.8,822 547.3,821.7 547.8,821.3 548.3,820.9 548.8,821.4 549.3,821.8 549.8,822.3 550.3,821.7 550.8,821.1 551.3,820.6 551.8,820.7 552.3,820.8 552.8,820.9 553.3,820.6 553.8,820.4 554.3,820.2 554.8,821.1 555.3,821.9 555.8,822.8 556.3,822 556.8,821.3 557.3,820.5 557.8,820.7 558.3,820.8 558.8,821 559.3,821.5 559.8,822.1 560.3,822.7 560.8,821.9 561.3,821.1 561.8,820.3 562.3,820.8 562.8,821.2 563.3,821.7 563.8,822 564.3,822.4 564.8,822.7 565.3,822.7 565.8,822.6 566.3,822.6 566.8,821.8 567.3,820.9 567.8,820.1 568.3,820.3 568.8,820.5 569.3,820.7 569.8,821.3 570.3,821.9 570.8,822.5 571.3,821.8 571.8,821.1 572.3,820.4 572.8,821.3 573.3,822.2 573.8,823.2 574.3,822.5 574.8,821.8 575.3,821.1 575.8,821.1 576.3,821.2 576.8,821.3 577.3,821 577.8,820.8 578.3,820.5 578.8,820.5 579.3,820.4 579.8,820.4 580.3,820.6 580.8,820.8 581.3,821 581.8,820.8 582.3,820.7 582.8,820.6 583.3,821 583.8,821.4 584.3,821.8 584.8,821.3 585.3,820.8 585.8,820.3 586.3,820.9 586.8,821.4 587.3,821.9 587.8,821.6 588.3,821.3 588.8,821 589.3,821 589.8,820.9 590.3,820.9 590.8,821.3 591.3,821.6 591.8,822 592.3,821.6 592.8,821.1 593.3,820.7 593.8,820.8 594.3,820.9 594.8,821 595.3,821.6 595.8,822.2 596.3,822.8 596.8,822.3 597.3,821.9 597.8,821.4 598.3,821.6 598.8,821.7 599.3,821.8 599.8,821.7 600.3,821.5 600.8,821.4 601.3,822 601.8,822.6 602.3,823.2 602.8,822.5 603.3,821.8 603.8,821.1 604.3,821.4 604.8,821.7 605.3,822.1 605.8,821.7 606.3,821.3 606.8,821 607.3,821.5 607.8,822 608.3,822.5 608.8,822.8 609.3,823 609.8,823.2 610.3,822.8 610.8,822.3 611.3,821.8 611.8,821.7 612.3,821.5 612.8,821.3 613.3,821.2 613.8,821 614.3,820.9 614.8,821.1 615.3,821.4 615.8,821.6 616.3,821.3 616.8,820.9 617.3,820.5 617.8,821.3 618.3,822 618.8,822.8 619.3,822.8 619.8,822.9 620.3,822.9 620.8,822.6 621.3,822.3 621.8,822 622.3,821.8 622.8,821.5 623.3,821.3 623.8,819.9 624.3,817.5 624.8,815.1 625.3,813.1 625.8,812.1 626,812 626.3,812.2 626.8,813.5 627.3,815.6 627.8,818 628.3,820.4 628.8,822 629.3,822.2 629.8,822 630.3,821.9 630.8,821.7 631.3,822.1 631.8,822.6 632.3,823 632.8,822.9 633.3,822.9 633.8,822.8 634.3,822.3 634.8,821.8 635.3,821.3 635.8,821.6 636.3,822 636.8,822.3 637.3,821.6 637.8,820.9 638.3,820.3 638.8,820.8 639.3,821.3 639.8,821.7 640.3,821.9 640.8,822.1 641.3,822.2 641.8,822.4 642.3,822.6 642.8,822.7 643.3,822.4 643.8,822 644.3,821.7 644.8,821.7 645.3,821.7 645.8,821.7 646.3,822 646.8,822.3 647.3,822.5 647.8,821.8 648.3,821.1 648.8,820.3 649.3,820.8 649.8,821.3 650.3,821.7 650.8,821.5 651.3,821.2 651.8,820.9 652.3,821 652.8,821.1 653.3,821.2 653.8,821.1 654.3,820.9 654.8,820.7 655.3,821.5 655.8,822.3 656.3,823 656.8,822.1 657.3,821.2 657.8,820.3 658.3,820.7 658.8,821.1 659.3,821.5 659.8,821.9 660.3,822.4 660.8,822.8 661.3,822.4 661.8,821.9 662.3,821.5 662.8,822 663.3,822.6 663.8,823.2 664.3,822.8 664.8,822.4 665.3,822 665.8,822.4 666.3,822.7 666.8,823 667.3,823.1 667.8,823.1 668.3,823.2 668.8,822.8 669.3,822.4 669.8,821.9 670.3,821.5 670.8,821.1 671.3,820.7 671.8,820.8 672.3,820.9 672.8,821 673.3,820.8 673.8,820.6 674.3,820.4 674.8,820.6 675.3,820.8 675.8,820.9 676.3,821.1 676.8,821.3 677.3,821.4 677.8,821.5 678.3,821.5 678.8,821.5 679.3,821.1 679.8,820.7 680.3,820.4 680.8,821.2 681.3,822.1 681.8,822.9 682.3,822.5 682.8,822.1 683.3,821.7 683.8,821.7 684.3,821.7 684.8,821.7 685.3,822.2 685.8,822.8 686.3,823.3 686.8,822.4 687.3,821.5 687.8,820.6 688.3,820.8 688.8,821.1 689.3,821.3 689.8,821.6 690.3,822 690.8,822.3 691.3,821.8 691.8,821.4 692.3,820.9 692.8,821.2 693.3,821.6 693.8,821.9 694.3,821.6 694.8,821.4 695.3,821.1 695.8,821.3 696.3,821.5 696.8,821.7 697.3,821.3 697.8,821 698.3,820.7 698.8,821.1 699.3,821.4 699.8,821.8 700.3,822.2 700.8,822.6 701.3,823.1 701.8,822.4 702.3,821.7 702.8,821 703.3,821.6 703.8,822.1 704.3,822.6 704.8,822.3 705.3,821.9 705.8,821.6 706.3,821.2 706.8,820.9 707.3,820.5 707.8,820.7 708.3,820.9 708.8,821.1 709.3,821.8 709.8,822.5 710.3,823.1 710.8,822.4 711.3,821.6 711.8,820.8 712.3,820.6 712.8,820.5 713.3,820.4 713.8,820.9 714.3,821.4 714.8,821.9 715.3,822.1 715.8,822.4 716.3,822.6 716.8,822.4 717.3,822.1 717.8,821.9 718.3,821.9 718.8,821.8 719.3,821.7 719.8,822.2 720.3,822.7 720.8,823.2 721.3,822.4 721.8,821.6 722.3,820.8 722.8,821 723.3,821.2 723.8,821.4 724.3,821.6 724.8,821.9 725.3,822.1 725.8,821.7 726.3,821.3 726.8,820.9 727.3,821.5 727.8,822.2 728.3,822.8 728.8,822.1 729.3,821.4 729.8,820.6 730.3,820.7 730.8,820.7 731.3,820.7 731.8,821.1 732.3,821.5 732.8,821.9 733.3,822.3 733.8,822.6 734.3,823 734.8,822.7 735.3,822.3 735.8,822 736.3,822.3 736.8,822.7 737.3,823 737.8,822.6 738.3,822.1 738.8,821.7 739.3,822.1 739.8,822.5 740.3,822.9 740.8,822.5 741.3,822.2 741.8,821.8 742.3,821.9 742.8,822 743.3,822.1 743.8,822.2 744.3,822.3 744.8,822.4 745.3,822.1 745.8,821.8 746.3,821.6 746.8,821.6 747.3,821.7 747.8,821.7 748.3,821.4 748.8,821 749.3,820.7 749.8,821.1 750.3,821.6 750.8,822 751.3,821.9 751.8,821.7 752.3,821.6 752.8,821.5 753.3,821.3 753.8,821.1 754.3,821.7 754.8,822.3 755.3,822.9 755.8,822.5 756.3,822.1 756.8,821.7 757.3,822.1 757.8,822.5 758.3,822.8 758.8,822.5 759.3,822.2 759.8,821.9 760.3,821.8 760.8,821.8 761.3,821.8 761.8,821.4 762.3,821 762.8,820.6 763.3,820.5 763.8,820.5 764.3,820.4 764.8,821.1 765.3,821.8 765.8,822.4 766.3,821.9 766.8,821.3 767.3,820.8 767.8,821.3 768.3,821.7 768.8,822.2 769.3,822.4 769.8,822.5 770.3,822.6 770.8,822.3 771.3,821.9 771.8,821.6 772.3,821.9 772.8,822.2 773.3,822.4 773.8,821.8 774.3,821.1 774.8,820.5 775.3,820.5 775.8,820.6 776.3,820.6 776.8,821.5 777.3,822.4 777.8,823.3 778.3,822.3 778.8,821.3 779.3,820.4 779.8,820.5 780.3,820.6 780.8,820.7 781.3,821.4 781.8,822.2 782.3,823 782.8,822.4 783.3,821.9 783.8,821.4 784.3,821.5 784.8,821.6 785.3,821.7 785.8,822.1 786.3,822.5 786.8,822.9 787.3,822.3 787.8,821.8 788.3,821.2 788.8,821.9 789.3,822.6 789.8,823.3 790.3,823 790.8,822.7 791.3,822.3 791.8,822.2 792.3,822 792.8,821.8 793.3,821.5 793.8,821.2 794.3,820.9 794.8,821.3 795.3,821.7 795.8,822.1 796.3,822.3 796.8,822.4 797.3,822.5 797.8,822.3 798.3,822.1 798.8,821.9 799.3,821.9 799.8,821.8 800.3,821.7 800.8,821.9 801.3,822 801.8,822.2 802.3,822.5 802.8,822.8 803.3,823.1 803.8,822.3 804.3,821.6 804.8,820.8 805.3,821.5 805.8,822.1 806.3,822.8 806.8,822.8 807.3,822.8 807.8,822.8 808.3,822.8 808.8,822.7 809.3,822.7 809.8,822 810.3,821.2 810.8,820.5 811.3,821.3 811.8,822.2 812.3,823.1 812.8,822.6 813.3,822 813.8,821.5 814.3,821.5 814.8,821.6 815.3,821.6 815.8,822 816.3,822.3 816.8,822.7 817.3,822.1 817.8,821.6 818.3,821 818.8,821.6 819.3,822.2 819.8,822.8 820.3,822.9 820.8,823 821.3,823 821.8,823.1 822.3,823.2 822.8,823.3 823.3,822.7 823.8,822 824.3,821.4 824.8,822 825.3,822.6 825.8,823.2 826.3,822.7 826.8,822.1 827.3,821.5 827.8,821.5 828.3,821.4 828.8,821.4 829.3,822 829.8,822.5 830.3,823.1 830.8,822.2 831.3,821.3 831.8,820.4 832.3,821.3 832.8,822.1 833.3,823 833.8,822.8 834.3,822.6 834.8,822.4 835.3,821.9 835.8,821.4 836.3,821 836.8,821.5 837.3,822 837.8,822.6 838.3,822.1 838.8,821.5 839.3,821 839.8,821.1 840.3,821.2 840.8,821.3 841.3,821.2 841.8,821.1 842.3,821.1 842.8,821.5 843.3,821.9 843.8,822.2 844.3,822.3 844.8,822.4 845.3,822.6 845.8,822.4 846.3,822.2 846.8,822 847.3,821.8 847.8,821.7 848.3,821.5 848.8,822.1 849.3,822.7 849.8,823.3 850.3,823.2 850.8,823.2 851.3,823.1 851.8,822.9 852.3,822.7 852.8,822.6 853.3,822.8 853.8,823 854.3,823.2 854.8,822.5 855.3,821.8 855.8,821.1 856.3,820.9 856.8,820.7 857.3,820.4 857.8,820.9 858.3,821.4 858.8,821.8 859.3,822 859.8,822.2 860.3,822.4 860.8,822.3 861.3,822.2 861.8,822.1 862.3,821.6 862.8,821.2 863.3,820.7 863.8,820.9 864.3,821 864.8,821.2 865.3,821.4 865.8,821.5 866.3,821.7 866.8,821.6 867.3,821.5 867.8,821.5 868.3,821.2 868.8,820.9 869.3,820.6 869.8,820.9 870.3,821.2 870.8,821.5 871.3,821.9 871.8,822.3 872.3,822.7 872.8,822.1 873.3,821.4 873.8,820.7 874.3,821.6 874.8,822.4 875.3,823.3 875.8,823.2 876.3,823.1 876.8,823 877.3,822.9 877.8,822.9 878.3,822.8 878.8,822.6 879.3,822.4 879.8,822.2 880.3,822 880.8,821.8 881.3,821.6 881.8,821.4 882.3,821.1 882.8,820.9 883.3,821.5 883.8,822 884.3,822.6 884.8,822 885.3,821.4 885.8,820.7 886.3,820.6 886.8,820.5 887.3,820.4 887.8,820.5 888.3,820.6 888.8,820.7 889.3,820.8 889.8,820.9 890.3,820.9 890.8,821.2 891.3,821.4 891.8,821.7 892.3,821.8 892.8,821.9 893.3,822 893.8,822.3 894.3,822.6 894.8,822.9 895.3,822.7 895.8,822.5 896.3,822.2 896.8,822.4 897.3,822.6 897.8,822.7 898.3,822.6 898.8,822.4 899.3,822.3 899.8,822.6 900.3,822.9 900.8,823.2 901.3,822.3 901.8,821.4 902.3,820.5 902.8,821 903.3,821.6 903.8,822.1 904.3,822.5 904.8,822.8 905.3,823.1 905.8,823.1 906.3,823 906.8,823 907.3,822.7 907.8,822.4 908.3,822 908.8,822.4 909.3,822.8 909.8,823.2 910.3,822.6 910.8,822 911.3,821.4 911.8,821.7 912.3,822.1 912.8,822.5 913.3,822.1 913.8,821.8 914.3,821.5 914.8,821.8 915.3,822.1 915.8,822.4 916.3,822.3 916.8,822.3 917.3,822.2 917.8,821.7 918.3,821.2 918.8,820.7 919.3,821.2 919.8,821.6" fill="none" stroke="#148a90" stroke-width="1.5" stroke-linejoin="round"/>
<polygon points="68.3,796.1 68.8,797.1 69.3,798.5 69.8,800.9 70.3,805.7 70.8,803.7 71.3,802.5 71.8,804.9 72.3,807.8 72.8,810.9 73.3,810.2 73.8,795.8 74.3,787.6 74.8,780.3 75.3,787.3 75.8,790.9 76.3,794.3 76.8,796.2 77.3,797.3 77.8,803.4 78.3,807.2 78.8,810.3 79.3,806.2 79.8,801.5 80.3,805.3 80.8,803.6 81.3,797.8 81.8,799.3 82.3,804.3 82.8,809.3 83.3,814.7 83.8,812.8 84.3,812.4 84.8,813.5 85.3,809 85.8,802.7 86.3,794.2 86.8,782.5 87.3,766.6 87.8,744.7 88.3,714.8 88.5,700 88.8,721.6 89.3,749.7 89.8,770.2 90.3,785.2 90.8,796.1 91.3,796.5 91.8,799.7 92.3,804.1 92.8,806.5 93.3,807.1 93.8,811 94.3,809.4 94.8,808 95.3,807 95.8,808.4 96.3,811.6 96.8,818.2 97.3,812.6 97.8,810.9 98.3,810.8 98.8,810 99.3,809 99.8,803.9 100.3,797.2 100.8,788.5 101.3,777.2 101.8,762.4 102.3,743.1 102.8,717.9 102.9,712 103.3,733.8 103.8,755.2 104.3,771.7 104.8,784.3 105.3,794 105.8,801.4 106.3,807.1 106.8,811.5 107.3,814.9 107.8,812.9 108.3,805.7 108.8,800.5 109.3,795.3 109.8,787.9 110.3,776.8 110.8,778.3 111.3,787.7 111.8,793.7 112.3,800.6 112.8,806.1 113.3,810.7 113.8,810.2 114.3,808 114.8,805.1 115.3,799.2 115.8,797.7 116.3,798.1 116.8,803 117.3,804.2 117.8,803.7 118.3,794.7 118.8,781.9 119.3,778.8 119.8,792.4 120.3,802.2 120.8,809.6 121.3,808.5 121.8,806.6 122.3,803.4 122.8,806.2 123.3,808.2 123.8,813.7 124.3,808.8 124.8,802.4 125.3,794.1 125.8,785 126.3,776.6 126.8,787.4 127.3,795.8 127.8,801.6 128.3,805.6 128.8,806 129.3,804 129.8,809.2 130.3,808 130.8,807 131.3,806.4 131.8,807.6 132.3,810.5 132.8,814.1 133.3,812.5 133.8,813.9 134.3,816.7 134.8,814.6 135.3,812.9 135.8,811.2 136.3,808.5 136.8,812.3 137.3,815.6 137.8,814.8 138.3,813.7 138.8,811.4 139.3,811.4 139.8,811.9 140.3,814.3 140.8,815.1 141.3,815.6 141.8,815.9 142.3,813.9 142.8,811.7 143.3,809.3 143.8,811.1 144.3,812.7 144.8,813.9 145.3,811.7 145.8,813.1 146.3,814.2 146.8,812.9 147.3,808.1 147.8,801.5 148.3,792.5 148.8,780.2 149.3,763.4 149.8,740.4 150.2,716 150.3,722.7 150.8,750.5 151.3,770.8 151.8,785.6 152.3,796.4 152.8,804.4 153.3,809.8 153.8,805.5 154.3,802.1 154.8,796.9 155.3,789.1 155.8,780.9 156.3,791.8 156.8,798.9 157.3,803.7 157.8,806.9 158.3,809.1 158.8,808 159.3,805.9 159.8,807 160.3,808.1 160.8,807.2 161.3,804 161.8,801.6 162.3,796.6 162.8,795.4 163.3,801.1 163.8,803.7 164.3,804.3 164.8,801.9 165.3,797.7 165.8,794.9 166.3,800.4 166.8,803.6 167.3,805.4 167.8,806.8 168.3,807.6 168.8,808.1 169.3,805.4 169.8,799.2 170.3,791.1 170.8,780.5 171.3,766.7 171.8,748.7 172.3,725.3 172.8,694.7 173,680 173.3,701.5 173.8,730.5 174.3,752.7 174.8,769.8 175.3,782.8 175.8,792.9 176.3,800.6 176.8,806.5 177.3,811 177.8,814.5 178.3,814.2 178.8,809.6 179.3,804.1 179.8,803.2 180.3,799.7 180.8,792 181.3,801.1 181.8,806.3 182.3,809.1 182.8,811.4 183.3,812.9 183.8,812.3 184.3,811.9 184.8,810.5 185.3,807.5 185.8,798.7 186.3,788.5 186.8,797 187.3,803.4 187.8,807.3 188.3,809.8 188.8,809 189.3,806.5 189.8,803.2 190.3,802 190.8,805.8 191.3,808.7 191.8,811.3 192.3,813.5 192.8,814.5 193.3,812.5 193.8,811.4 194.3,811.7 194.8,813.1 195.3,811.9 195.8,810.8 196.3,812.5 196.8,814.9 197.3,819 197.8,824.9 198.3,820.7 198.8,815.4 199.3,816.2 199.8,818.2 200.3,820.6 200.8,818.1 201.3,814.8 201.8,812.1 202.3,812.9 202.8,813.2 203.3,814.6 203.8,816.2 204.3,817.2 204.8,817.7 205.3,816.6 205.8,815.2 206.3,813.4 206.8,812.1 207.3,809.8 207.8,806.2 208.3,801.6 208.8,807.7 209.3,811.9 209.8,814.1 210.3,815.4 210.8,813.9 211.3,811.6 211.8,810.1 212.3,812.8 212.8,814.6 213.3,815.8 213.8,816 214.3,813.1 214.8,809.7 215.3,805.5 215.8,804.2 216.3,801.1 216.8,796.8 217.3,803.9 217.8,808.7 218.3,811.7 218.8,814.5 219.3,816.6 219.8,817.1 220.3,814.1 220.8,810.2 221.3,805.2 221.8,804.9 222.3,809.9 222.8,813.4 223.3,814.3 223.8,814.6 224.3,814.5 224.8,815.9 225.3,816.3 225.8,816.4 226.3,815.3 226.8,813.5 227.3,813.9 227.8,814.8 228.3,815.1 228.8,814.5 229.3,810.3 229.8,804.6 230.3,796.7 230.8,786 231.3,771.3 231.6,760 231.8,767.8 232.3,783.4 232.8,794.8 233.3,803.2 233.8,809.3 234.3,813.8 234.8,813.6 235.3,814 235.8,814.9 236.3,815.3 236.8,814.6 237.3,813.7 237.8,812.5 238.3,813.6 238.8,814.6 239.3,815.4 239.8,814.8 240.3,813.8 240.8,815 241.3,816.5 241.8,817.1 242.3,816.8 242.8,815.1 243.3,812.8 243.8,812.2 244.3,813 244.8,813.2 245.3,813 245.8,813.4 246.3,813 246.8,812 247.3,810.9 247.8,808.7 248.3,805 248.8,808 249.3,809.4 249.8,809.8 250.3,813.3 250.8,816.4 251.3,819.1 251.8,818.9 252.3,817.8 252.8,816.3 253.3,813.7 253.8,810.1 254.3,806.9 254.8,809.9 255.3,809.7 255.8,806.8 256.3,804.3 256.8,799.8 257.3,792.3 257.8,779.9 258.3,762.9 258.7,745 258.8,749.9 259.3,770.4 259.8,785.3 260.3,796.2 260.8,804.2 261.3,808.6 261.8,806.9 262.3,811.7 262.8,815.2 263.3,818 263.8,818.3 264.3,818.2 264.8,817.4 265.3,815.2 265.8,814.3 266.3,813.6 266.8,816.1 267.3,817.8 267.8,819.2 268.3,817.5 268.8,815 269.3,814.2 269.8,816.5 270.3,818 270.8,818.4 271.3,815.7 271.8,811.9 272.3,806.8 272.8,799.8 273.3,790.1 273.8,777 274.3,758.9 274.5,750 274.8,763 275.3,779.9 275.8,792.3 276.3,801.3 276.8,808 277.3,812.8 277.8,816.3 278.3,818.9 278.8,819.2 279.3,817.2 279.8,814.6 280.3,813.1 280.8,812.9 281.3,816.4 281.8,816.5 282.3,815.9 282.8,814.9 283.3,815.1 283.8,815 284.3,814.7 284.8,816.3 285.3,817.4 285.8,818.3 286.3,817.5 286.8,816.3 287.3,815.4 287.8,815.6 288.3,815.6 288.8,815.3 289.3,816.8 289.8,818.2 290.3,819.9 290.8,820.4 291.3,820.7 291.8,820.6 292.3,819.5 292.8,818 293.3,815.8 293.8,812.9 294.3,808.9 294.8,813.6 295.3,815.9 295.8,817.2 296.3,816.4 296.8,815.2 297.3,816.4 297.8,817.3 298.3,816.5 298.8,814.7 299.3,812.5 299.8,811.9 300.3,812.2 300.8,814.4 301.3,814.7 301.8,814.7 302.3,814.5 302.8,815.6 303.3,816.3 303.8,816.6 304.3,816.6 304.8,815.9 305.3,815.7 305.8,816.9 306.3,817.4 306.8,817.3 307.3,818.6 307.8,819.2 308.3,819.7 308.8,819.3 309.3,818.7 309.8,817.9 310.3,819.1 310.8,820.2 311.3,821.1 311.8,819.3 312.3,817.3 312.8,815.4 313.3,816.5 313.8,817.4 314.3,818.6 314.8,817.8 315.3,816.9 315.8,815.8 316.3,817.4 316.8,818.8 317.3,820 317.8,819.6 318.3,818.9 318.8,818 319.3,816.8 319.8,818 320.3,818.8 320.8,816.1 321.3,812.4 321.8,807 322.3,801.5 322.8,807.9 323.3,811.7 323.8,814.1 324.3,815.6 324.8,816.5 325.3,817.3 325.8,817.8 326.3,818.1 326.8,818.7 327.3,819 327.8,818.9 328.3,817.1 328.8,815.7 329.3,817.6 329.8,819.3 330.3,820.6 330.8,821.5 331.3,819.9 331.8,818.2 332.3,816.1 332.8,817.5 333.3,818.6 333.8,819.4 334.3,816.5 334.8,814.5 335.3,815.2 335.8,817.9 336.3,820.1 336.8,822 337.3,821.6 337.8,821.2 338.3,820.7 338.8,820 339.3,819.2 339.8,818.5 340.3,819.2 340.8,820.3 341.3,821.3 341.8,821.4 342.3,821.4 342.8,821.4 343.3,819.2 343.8,816.9 344.3,815.6 344.8,817.4 345.3,818.1 345.8,818.6 346.3,818 346.8,817.4 347.3,819.6 347.8,819.2 348.3,818.5 348.8,817.5 349.3,816.9 349.8,815.6 350.3,813.9 350.8,812.9 351.3,810.5 351.8,812.9 352.3,816.6 352.8,819.3 353.3,821.2 353.8,821 354.3,820.5 354.8,819.6 355.3,818.9 355.8,818 356.3,816.8 356.8,816.4 357.3,818.3 357.8,819.9 358.3,819.9 358.8,819 359.3,817.6 359.8,817.4 359.8,816.9 68.3,816.9" fill="#7c1444" fill-opacity="0.4" stroke="none"/>
<polyline points="68.3,796.1 68.8,797.1 69.3,798.5 69.8,800.9 70.3,805.7 70.8,803.7 71.3,802.5 71.8,804.9 72.3,807.8 72.8,810.9 73.3,810.2 73.8,795.8 74.3,787.6 74.8,780.3 75.3,787.3 75.8,790.9 76.3,794.3 76.8,796.2 77.3,797.3 77.8,803.4 78.3,807.2 78.8,810.3 79.3,806.2 79.8,801.5 80.3,805.3 80.8,803.6 81.3,797.8 81.8,799.3 82.3,804.3 82.8,809.3 83.3,814.7 83.8,812.8 84.3,812.4 84.8,813.5 85.3,809 85.8,802.7 86.3,794.2 86.8,782.5 87.3,766.6 87.8,744.7 88.3,714.8 88.5,700 88.8,721.6 89.3,749.7 89.8,770.2 90.3,785.2 90.8,796.1 91.3,796.5 91.8,799.7 92.3,804.1 92.8,806.5 93.3,807.1 93.8,811 94.3,809.4 94.8,808 95.3,807 95.8,808.4 96.3,811.6 96.8,818.2 97.3,812.6 97.8,810.9 98.3,810.8 98.8,810 99.3,809 99.8,803.9 100.3,797.2 100.8,788.5 101.3,777.2 101.8,762.4 102.3,743.1 102.8,717.9 102.9,712 103.3,733.8 103.8,755.2 104.3,771.7 104.8,784.3 105.3,794 105.8,801.4 106.3,807.1 106.8,811.5 107.3,814.9 107.8,812.9 108.3,805.7 108.8,800.5 109.3,795.3 109.8,787.9 110.3,776.8 110.8,778.3 111.3,787.7 111.8,793.7 112.3,800.6 112.8,806.1 113.3,810.7 113.8,810.2 114.3,808 114.8,805.1 115.3,799.2 115.8,797.7 116.3,798.1 116.8,803 117.3,804.2 117.8,803.7 118.3,794.7 118.8,781.9 119.3,778.8 119.8,792.4 120.3,802.2 120.8,809.6 121.3,808.5 121.8,806.6 122.3,803.4 122.8,806.2 123.3,808.2 123.8,813.7 124.3,808.8 124.8,802.4 125.3,794.1 125.8,785 126.3,776.6 126.8,787.4 127.3,795.8 127.8,801.6 128.3,805.6 128.8,806 129.3,804 129.8,809.2 130.3,808 130.8,807 131.3,806.4 131.8,807.6 132.3,810.5 132.8,814.1 133.3,812.5 133.8,813.9 134.3,816.7 134.8,814.6 135.3,812.9 135.8,811.2 136.3,808.5 136.8,812.3 137.3,815.6 137.8,814.8 138.3,813.7 138.8,811.4 139.3,811.4 139.8,811.9 140.3,814.3 140.8,815.1 141.3,815.6 141.8,815.9 142.3,813.9 142.8,811.7 143.3,809.3 143.8,811.1 144.3,812.7 144.8,813.9 145.3,811.7 145.8,813.1 146.3,814.2 146.8,812.9 147.3,808.1 147.8,801.5 148.3,792.5 148.8,780.2 149.3,763.4 149.8,740.4 150.2,716 150.3,722.7 150.8,750.5 151.3,770.8 151.8,785.6 152.3,796.4 152.8,804.4 153.3,809.8 153.8,805.5 154.3,802.1 154.8,796.9 155.3,789.1 155.8,780.9 156.3,791.8 156.8,798.9 157.3,803.7 157.8,806.9 158.3,809.1 158.8,808 159.3,805.9 159.8,807 160.3,808.1 160.8,807.2 161.3,804 161.8,801.6 162.3,796.6 162.8,795.4 163.3,801.1 163.8,803.7 164.3,804.3 164.8,801.9 165.3,797.7 165.8,794.9 166.3,800.4 166.8,803.6 167.3,805.4 167.8,806.8 168.3,807.6 168.8,808.1 169.3,805.4 169.8,799.2 170.3,791.1 170.8,780.5 171.3,766.7 171.8,748.7 172.3,725.3 172.8,694.7 173,680 173.3,701.5 173.8,730.5 174.3,752.7 174.8,769.8 175.3,782.8 175.8,792.9 176.3,800.6 176.8,806.5 177.3,811 177.8,814.5 178.3,814.2 178.8,809.6 179.3,804.1 179.8,803.2 180.3,799.7 180.8,792 181.3,801.1 181.8,806.3 182.3,809.1 182.8,811.4 183.3,812.9 183.8,812.3 184.3,811.9 184.8,810.5 185.3,807.5 185.8,798.7 186.3,788.5 186.8,797 187.3,803.4 187.8,807.3 188.3,809.8 188.8,809 189.3,806.5 189.8,803.2 190.3,802 190.8,805.8 191.3,808.7 191.8,811.3 192.3,813.5 192.8,814.5 193.3,812.5 193.8,811.4 194.3,811.7 194.8,813.1 195.3,811.9 195.8,810.8 196.3,812.5 196.8,814.9 197.3,819 197.8,824.9 198.3,820.7 198.8,815.4 199.3,816.2 199.8,818.2 200.3,820.6 200.8,818.1 201.3,814.8 201.8,812.1 202.3,812.9 202.8,813.2 203.3,814.6 203.8,816.2 204.3,817.2 204.8,817.7 205.3,816.6 205.8,815.2 206.3,813.4 206.8,812.1 207.3,809.8 207.8,806.2 208.3,801.6 208.8,807.7 209.3,811.9 209.8,814.1 210.3,815.4 210.8,813.9 211.3,811.6 211.8,810.1 212.3,812.8 212.8,814.6 213.3,815.8 213.8,816 214.3,813.1 214.8,809.7 215.3,805.5 215.8,804.2 216.3,801.1 216.8,796.8 217.3,803.9 217.8,808.7 218.3,811.7 218.8,814.5 219.3,816.6 219.8,817.1 220.3,814.1 220.8,810.2 221.3,805.2 221.8,804.9 222.3,809.9 222.8,813.4 223.3,814.3 223.8,814.6 224.3,814.5 224.8,815.9 225.3,816.3 225.8,816.4 226.3,815.3 226.8,813.5 227.3,813.9 227.8,814.8 228.3,815.1 228.8,814.5 229.3,810.3 229.8,804.6 230.3,796.7 230.8,786 231.3,771.3 231.6,760 231.8,767.8 232.3,783.4 232.8,794.8 233.3,803.2 233.8,809.3 234.3,813.8 234.8,813.6 235.3,814 235.8,814.9 236.3,815.3 236.8,814.6 237.3,813.7 237.8,812.5 238.3,813.6 238.8,814.6 239.3,815.4 239.8,814.8 240.3,813.8 240.8,815 241.3,816.5 241.8,817.1 242.3,816.8 242.8,815.1 243.3,812.8 243.8,812.2 244.3,813 244.8,813.2 245.3,813 245.8,813.4 246.3,813 246.8,812 247.3,810.9 247.8,808.7 248.3,805 248.8,808 249.3,809.4 249.8,809.8 250.3,813.3 250.8,816.4 251.3,819.1 251.8,818.9 252.3,817.8 252.8,816.3 253.3,813.7 253.8,810.1 254.3,806.9 254.8,809.9 255.3,809.7 255.8,806.8 256.3,804.3 256.8,799.8 257.3,792.3 257.8,779.9 258.3,762.9 258.7,745 258.8,749.9 259.3,770.4 259.8,785.3 260.3,796.2 260.8,804.2 261.3,808.6 261.8,806.9 262.3,811.7 262.8,815.2 263.3,818 263.8,818.3 264.3,818.2 264.8,817.4 265.3,815.2 265.8,814.3 266.3,813.6 266.8,816.1 267.3,817.8 267.8,819.2 268.3,817.5 268.8,815 269.3,814.2 269.8,816.5 270.3,818 270.8,818.4 271.3,815.7 271.8,811.9 272.3,806.8 272.8,799.8 273.3,790.1 273.8,777 274.3,758.9 274.5,750 274.8,763 275.3,779.9 275.8,792.3 276.3,801.3 276.8,808 277.3,812.8 277.8,816.3 278.3,818.9 278.8,819.2 279.3,817.2 279.8,814.6 280.3,813.1 280.8,812.9 281.3,816.4 281.8,816.5 282.3,815.9 282.8,814.9 283.3,815.1 283.8,815 284.3,814.7 284.8,816.3 285.3,817.4 285.8,818.3 286.3,817.5 286.8,816.3 287.3,815.4 287.8,815.6 288.3,815.6 288.8,815.3 289.3,816.8 289.8,818.2 290.3,819.9 290.8,820.4 291.3,820.7 291.8,820.6 292.3,819.5 292.8,818 293.3,815.8 293.8,812.9 294.3,808.9 294.8,813.6 295.3,815.9 295.8,817.2 296.3,816.4 296.8,815.2 297.3,816.4 297.8,817.3 298.3,816.5 298.8,814.7 299.3,812.5 299.8,811.9 300.3,812.2 300.8,814.4 301.3,814.7 301.8,814.7 302.3,814.5 302.8,815.6 303.3,816.3 303.8,816.6 304.3,816.6 304.8,815.9 305.3,815.7 305.8,816.9 306.3,817.4 306.8,817.3 307.3,818.6 307.8,819.2 308.3,819.7 308.8,819.3 309.3,818.7 309.8,817.9 310.3,819.1 310.8,820.2 311.3,821.1 311.8,819.3 312.3,817.3 312.8,815.4 313.3,816.5 313.8,817.4 314.3,818.6 314.8,817.8 315.3,816.9 315.8,815.8 316.3,817.4 316.8,818.8 317.3,820 317.8,819.6 318.3,818.9 318.8,818 319.3,816.8 319.8,818 320.3,818.8 320.8,816.1 321.3,812.4 321.8,807 322.3,801.5 322.8,807.9 323.3,811.7 323.8,814.1 324.3,815.6 324.8,816.5 325.3,817.3 325.8,817.8 326.3,818.1 326.8,818.7 327.3,819 327.8,818.9 328.3,817.1 328.8,815.7 329.3,817.6 329.8,819.3 330.3,820.6 330.8,821.5 331.3,819.9 331.8,818.2 332.3,816.1 332.8,817.5 333.3,818.6 333.8,819.4 334.3,816.5 334.8,814.5 335.3,815.2 335.8,817.9 336.3,820.1 336.8,822 337.3,821.6 337.8,821.2 338.3,820.7 338.8,820 339.3,819.2 339.8,818.5 340.3,819.2 340.8,820.3 341.3,821.3 341.8,821.4 342.3,821.4 342.8,821.4 343.3,819.2 343.8,816.9 344.3,815.6 344.8,817.4 345.3,818.1 345.8,818.6 346.3,818 346.8,817.4 347.3,819.6 347.8,819.2 348.3,818.5 348.8,817.5 349.3,816.9 349.8,815.6 350.3,813.9 350.8,812.9 351.3,810.5 351.8,812.9 352.3,816.6 352.8,819.3 353.3,821.2 353.8,821 354.3,820.5 354.8,819.6 355.3,818.9 355.8,818 356.3,816.8 356.8,816.4 357.3,818.3 357.8,819.9 358.3,819.9 358.8,819 359.3,817.6 359.8,817.4 360.3,817.6 360.8,817.5 361.3,818 361.8,818 362.3,817.8 362.8,817 363.3,815.9 363.8,814.6 364.3,812.8 364.8,811.4 365.3,813 365.8,815.2 366.3,817 366.8,818.4 367.3,818 367.8,816.9 368.3,815.7 368.8,817.9 369.3,819.9 369.8,821.8 370.3,820.9 370.8,819.8 371.3,819.3 371.8,819.2 372.3,819 372.8,818.8 373.3,818.2 373.8,817.5 374.3,816.7 374.8,817.1 375.3,817.1 375.8,816.6 376.3,814.4 376.8,810.7 377.3,814.4 377.8,815.9 378.3,816.5 378.8,816.5 379.3,817.7 379.8,818.8 380.3,819.9 380.8,819.4 381.3,817.3 381.8,814.4 382.3,810.6 382.8,805.5 383.3,798.7 383.8,789.6 384.3,777.5 384.8,761.5 385.3,740 385.8,761.5 386.3,777.5 386.8,789.6 387.3,798.7 387.8,805.5 388.3,810.6 388.8,814.4 389.3,817.3 389.8,819.4 390.3,818.6 390.8,817 391.3,817.3 391.8,817.2 392.3,816.8 392.8,817.4 393.3,817.8 393.8,818.2 394.3,818.2 394.8,818.1 395.3,817.8 395.8,818.1 396.3,818.1 396.8,817.8 397.3,817 397.8,816.9 398.3,816.6 398.8,817.2 399.3,817.7 399.8,818 400.3,817.8 400.8,817.5 401.3,816.7 401.8,817.1 402.3,818.4 402.8,818.2 403.3,816.9 403.8,814.8 404.3,811.6 404.8,809.4 405.3,814.5 405.8,818.1 406.3,819.9 406.8,821.1 407.3,821.9 407.8,822.3 408.3,822.4 408.8,822.1 409.3,821.6 409.8,820.8 410.3,820.9 410.8,820.7 411.3,819.4 411.8,817.6 412.3,815.2 412.8,811.8 413.3,813.1 413.8,815.6 414.3,817.4 414.8,818.8 415.3,818.9 415.8,818.4 416.3,817.5 416.8,816.6 417.3,815.1 417.8,812.7 418.3,810.9 418.8,813.6 419.3,815.2 419.8,817.5 420.3,819.4 420.8,820.3 421.3,819.2 421.8,817.6 422.3,815.3 422.8,811.6 423.3,809.3 423.8,812 424.3,815.4 424.8,817.8 425.3,819.1 425.8,817 426.3,817.3 426.8,817.8 427.3,818.6 427.8,818.1 428.3,816.9 428.8,814.4 429.3,811.5 429.8,816.2 430.3,818.7 430.8,820.1 431.3,820.9 431.8,821.2 432.3,821.2 432.8,821.4 433.3,822 433.8,822.7 434.3,823.5 434.8,822.5 435.3,822.2 435.8,823.3 436.3,823.2 436.8,822.1 437.3,822.1 437.8,821.9 438.3,822 438.8,822.1 439.3,821.1 439.8,820.1 440.3,819.2 440.8,820.5 441.3,821.9 441.8,823.2 442.3,822 442.8,820.7 443.3,819.4 443.8,819.9 444.3,820.5 444.8,821 445.3,821.6 445.8,822.2 446.3,822.8 446.8,822.3 447.3,821.8 447.8,821.3 448.3,820.3 448.8,819.3 449.3,818.3 449.8,819.9 450.3,821.5 450.8,823.1 451.3,822.7 451.8,822.3 452.3,821.9 452.8,822.1 453.3,822.3 453.8,822.4 454.3,821.7 454.8,821.1 455.3,820.4 455.8,821 456.3,821.7 456.8,822.3 457.3,821.3 457.8,820.2 458.3,819.1 458.8,819.9 459.3,820.7 459.8,821.5 460.3,820.6 460.8,819.6 461.3,818.6 461.8,820 462.3,821.4 462.8,822.8 463.3,822.6 463.8,822.4 464.3,822.2 464.8,822.6 465.3,822.9 465.8,823.2 466.3,823.2 466.8,823.2 467.3,823.2 467.8,822.9 468.3,822.7 468.8,822.5 469.3,821.8 469.8,821.2 470.3,820.5 470.8,820.6 471.3,820.6 471.8,820.7 472.3,820.4 472.8,820.1 473.3,819.9 473.8,820.7 474.3,821.5 474.8,822.3 475.3,821.7 475.8,821.1 476.3,820.5 476.8,819.9 477.3,819.3 477.8,818.6 478.3,819.7 478.8,820.8 479.3,821.9 479.8,822 480.3,822.2 480.8,822.3 481.3,822.4 481.8,822.5 482.3,822.5 482.8,821.3 483.3,820 483.8,818.8 484.3,819.3 484.8,819.9 485.3,820.4 485.8,820.6 486.3,820.8 486.8,821.1 487.3,821.1 487.8,821.1 488.3,821.1 488.8,821.7 489.3,822.4 489.8,823.1 490.3,822.8 490.8,822.6 491.3,822.4 491.8,821.6 492.3,820.9 492.8,820.1 493.3,820.8 493.8,821.6 494.3,822.3 494.8,821.9 495.3,821.4 495.8,821 496.3,820.4 496.8,819.8 497.3,819.2 497.8,820.3 498.3,821.5 498.8,822.6 499.3,822.2 499.8,821.7 500.3,821.3 500.8,820.8 501.3,820.3 501.8,819.9 502.3,819.9 502.8,820 503.3,820 503.8,819.9 504.3,819.7 504.8,819.6 505.3,819.5 505.8,819.4 506.3,819.2 506.8,819.8 507.3,820.3 507.8,820.8 508.3,821.4 508.8,821.9 509.3,822.5 509.8,822 510.3,821.6 510.8,821.1 511.3,820.5 511.8,819.8 512.3,819.2 512.8,820.3 513.3,821.5 513.8,822.6 514.3,822.5 514.8,822.3 515.3,822.2 515.8,822.3 516.3,822.5 516.8,822.6 517.3,821.6 517.8,820.5 518.3,819.5 518.8,820.7 519.3,821.9 519.8,823.1 520.3,823 520.8,822.9 521.3,822.8 521.8,822.1 522.3,821.4 522.8,820.7 523.3,820.6 523.8,820.4 524.3,820.2 524.8,820.7 525.3,821.1 525.8,821.6 526.3,821.1 526.8,820.6 527.3,820.1 527.8,820.2 528.3,820.3 528.8,820.3 529.3,820.8 529.8,821.3 530.3,821.8 530.8,822.3 531.3,822.8 531.8,823.2 532.3,822.3 532.8,821.4 533.3,820.4 533.8,820.5 534.3,820.6 534.8,820.7 535.3,820.2 535.8,819.7 536.3,819.2 536.8,819.6 537.3,820 537.8,820.4 538.3,821.4 538.8,822.3 539.3,823.3 539.8,823.1 540.3,822.9 540.8,822.7 541.3,822.5 541.8,822.4 542.3,822.2 542.8,821.6 543.3,820.9 543.8,820.3 544.3,820.9 544.8,821.6 545.3,822.2 545.8,822.3 546.3,822.4 546.8,822.5 547.3,822.6 547.8,822.7 548.3,822.8 548.8,822.6 549.3,822.5 549.8,822.4 550.3,822.1 550.8,821.7 551.3,821.4 551.8,821.1 552.3,820.7 552.8,820.4 553.3,820.2 553.8,820 554.3,819.8 554.8,820.9 555.3,822.1 555.8,823.2 556.3,822.5 556.8,821.8 557.3,821.2 557.8,820.5 558.3,819.9 558.8,819.3 559.3,820.1 559.8,821 560.3,821.9 560.8,822.3 561.3,822.7 561.8,823.1 562.3,822.3 562.8,821.5 563.3,820.7 563.8,820.5 564.3,820.2 564.8,820 565.3,821.1 565.8,822.3 566.3,823.5 566.8,823.4 567.3,823.3 567.8,823.3 568.3,822.9 568.8,822.6 569.3,822.3 569.8,822.2 570.3,822.1 570.8,822 571.3,822.4 571.8,822.8 572.3,823.1 572.8,823.2 573.3,823.2 573.8,823.3 574.3,822.8 574.8,822.3 575.3,821.8 575.8,821 576.3,820.2 576.8,819.4 577.3,820 577.8,820.6 578.3,821.2 578.8,821.6 579.3,822 579.8,822.4 580.3,821.4 580.8,820.4 581.3,819.4 581.8,820.4 582.3,821.4 582.8,822.4 583.3,822.6 583.8,822.8 584.3,823.1 584.8,823.1 585.3,823.1 585.8,823.1 586.3,823.3 586.8,823.4 587.3,823.6 587.8,822.3 588.3,821 588.8,819.7 589.3,820.2 589.8,820.8 590.3,821.4 590.8,820.7 591.3,820 591.8,819.4 592.3,820 592.8,820.7 593.3,821.3 593.8,822 594.3,822.7 594.8,823.4 595.3,822.9 595.8,822.5 596.3,822.1 596.8,822.1 597.3,822.2 597.8,822.2 598.3,822.5 598.8,822.7 599.3,823 599.8,823.1 600.3,823.2 600.8,823.4 601.3,822.5 601.8,821.6 602.3,820.7 602.8,820.4 603.3,820.2 603.8,819.9 604.3,819.8 604.8,819.7 605.3,819.6 605.8,820.7 606.3,821.7 606.8,822.7 607.3,822.1 607.8,821.6 608.3,821 608.8,821.6 609.3,822.1 609.8,822.6 610.3,821.8 610.8,820.9 611.3,820.1 611.8,820 612.3,819.9 612.8,819.8 613.3,818.6 613.8,816.8 614.3,814.6 614.8,811.9 615.3,808.6 615.8,804.4 616.3,799.2 616.8,792.8 617.3,784.9 617.8,775 618.3,762.8 618.8,747.6 619.3,728.7 619.5,720 619.8,732.8 620.3,750.9 620.8,765.4 621.3,777.2 621.8,786.6 622.3,794.2 622.8,800.4 623.3,805.3 623.8,809.3 624.3,812.5 624.8,815.1 625.3,817.2 625.8,818.9 626.3,820.3 626.8,821.3 627.3,821.4 627.8,821.4 628.3,821.1 628.8,820.7 629.3,820.4 629.8,821.4 630.3,822.5 630.8,823.5 631.3,822.8 631.8,822 632.3,821.3 632.8,820.7 633.3,820.2 633.8,819.6 634.3,820.2 634.8,820.8 635.3,821.4 635.8,821.7 636.3,821.9 636.8,822.2 637.3,822.5 637.8,822.8 638.3,823.2 638.8,822.1 639.3,821 639.8,819.9 640.3,820.3 640.8,820.6 641.3,820.9 641.8,820.5 642.3,820.1 642.8,819.7 643.3,819.7 643.8,819.7 644.3,819.6 644.8,820 645.3,820.4 645.8,820.8 646.3,820.6 646.8,820.4 647.3,820.1 647.8,820.2 648.3,820.2 648.8,820.3 649.3,820.4 649.8,820.5 650.3,820.6 650.8,821.1 651.3,821.5 651.8,822 652.3,821.6 652.8,821.3 653.3,820.9 653.8,820.7 654.3,820.6 654.8,820.4 655.3,821.2 655.8,821.9 656.3,822.6 656.8,821.9 657.3,821.2 657.8,820.4 658.3,820.7 658.8,821 659.3,821.2 659.8,821.5 660.3,821.8 660.8,822.2 661.3,822.1 661.8,822 662.3,821.9 662.8,821.3 663.3,820.6 663.8,819.9 664.3,821.1 664.8,822.3 665.3,823.5 665.8,823.5 666.3,823.6 666.8,823.6 667.3,822.9 667.8,822.3 668.3,821.7 668.8,822.2 669.3,822.8 669.8,823.3 670.3,822.3 670.8,821.2 671.3,820.2 671.8,820.1 672.3,820 672.8,819.9 673.3,820.7 673.8,821.5 674.3,822.3 674.8,822.3 675.3,822.3 675.8,822.3 676.3,821.9 676.8,821.4 677.3,821 677.8,820.7 678.3,820.4 678.8,820.1 679.3,820.4 679.8,820.8 680.3,821.1 680.8,820.7 681.3,820.4 681.8,820 682.3,820.8 682.8,821.6 683.3,822.4 683.8,822.2 684.3,822 684.8,821.8 685.3,821.5 685.8,821.2 686.3,820.9 686.8,820.8 687.3,820.8 687.8,820.7 688.3,821.2 688.8,821.7 689.3,822.2 689.8,822.2 690.3,822.3 690.8,822.3 691.3,821.6 691.8,820.9 692.3,820.3 692.8,820.5 693.3,820.8 693.8,821 694.3,821.2 694.8,821.4 695.3,821.6 695.8,822 696.3,822.4 696.8,822.7 697.3,822.6 697.8,822.4 698.3,822.3 698.8,822.7 699.3,823.1 699.8,823.4 700.3,823.2 700.8,823 701.3,822.8 701.8,823 702.3,823.2 702.8,823.4 703.3,823.2 703.8,823.1 704.3,822.9 704.8,822.3 705.3,821.8 705.8,821.2 706.3,821.3 706.8,821.4 707.3,821.5 707.8,821.1 708.3,820.7 708.8,820.3 709.3,820.7 709.8,821.1 710.3,821.5 710.8,821.8 711.3,822.1 711.8,822.4 712.3,822.4 712.8,822.4 713.3,822.4 713.8,821.7 714.3,821 714.8,820.4 715.3,821.5 715.8,822.6 716.3,823.7 716.8,823.5 717.3,823.3 717.8,823.1 718.3,822.7 718.8,822.4 719.3,822 719.8,822.4 720.3,822.8 720.8,823.2 721.3,822.9 721.8,822.5 722.3,822.2 722.8,822.5 723.3,822.8 723.8,823.2 724.3,822.5 724.8,821.9 725.3,821.3 725.8,820.9 726.3,820.6 726.8,820.2 727.3,820.9 727.8,821.5 728.3,822.2 728.8,821.7 729.3,821.1 729.8,820.6 730.3,821.7 730.8,822.7 731.3,823.8 731.8,823.7 732.3,823.5 732.8,823.4 733.3,823.3 733.8,823.3 734.3,823.2 734.8,822.3 735.3,821.5 735.8,820.6 736.3,821.3 736.8,822 737.3,822.7 737.8,822.3 738.3,821.9 738.8,821.5 739.3,821.1 739.8,820.7 740.3,820.3 740.8,820.7 741.3,821.1 741.8,821.5 742.3,821.7 742.8,821.9 743.3,822.2 743.8,822 744.3,821.8 744.8,821.6 745.3,821.4 745.8,821.3 746.3,821.1 746.8,821.2 747.3,821.3 747.8,821.4 748.3,821.5 748.8,821.5 749.3,821.6 749.8,822.2 750.3,822.7 750.8,823.3 751.3,822.1 751.8,821 752.3,819.8 752.8,820.2 753.3,820.5 753.8,820.8 754.3,820.6 754.8,820.4 755.3,820.2 755.8,820.3 756.3,820.5 756.8,820.6 757.3,821.4 757.8,822.1 758.3,822.9 758.8,822.6 759.3,822.3 759.8,822 760.3,821.8 760.8,821.6 761.3,821.4 761.8,822 762.3,822.5 762.8,823.1 763.3,822.2 763.8,821.4 764.3,820.5 764.8,820.9 765.3,821.4 765.8,821.8 766.3,821.7 766.8,821.6 767.3,821.4 767.8,821 768.3,820.5 768.8,820.1 769.3,820.9 769.8,821.7 770.3,822.5 770.8,822.5 771.3,822.5 771.8,822.4 772.3,822.1 772.8,821.8 773.3,821.4 773.8,822.1 774.3,822.8 774.8,823.4 775.3,823.2 775.8,823 776.3,822.8 776.8,822.9 777.3,822.9 777.8,823 778.3,821.9 778.8,820.9 779.3,819.9 779.8,820.3 780.3,820.8 780.8,821.2 781.3,821 781.8,820.8 782.3,820.6 782.8,820.8 783.3,821 783.8,821.2 784.3,821.7 784.8,822.1 785.3,822.5 785.8,822.5 786.3,822.4 786.8,822.3 787.3,821.5 787.8,820.8 788.3,820 788.8,820.4 789.3,820.9 789.8,821.3 790.3,821.3 790.8,821.4 791.3,821.4 791.8,821.6 792.3,821.9 792.8,822.1 793.3,821.4 793.8,820.8 794.3,820.2 794.8,821.1 795.3,822 795.8,822.9 796.3,822 796.8,821.2 797.3,820.3 797.8,820.5 798.3,820.8 798.8,821 799.3,821 799.8,820.9 800.3,820.9 800.8,820.5 801.3,820.2 801.8,819.8 802.3,820.5 802.8,821.2 803.3,821.9 803.8,821.8 804.3,821.7 804.8,821.7 805.3,821.8 805.8,822 806.3,822.2 806.8,821.8 807.3,821.5 807.8,821.1 808.3,820.9 808.8,820.6 809.3,820.4 809.8,820.5 810.3,820.6 810.8,820.7 811.3,821.5 811.8,822.2 812.3,822.9 812.8,822.1 813.3,821.3 813.8,820.6 814.3,821.6 814.8,822.7 815.3,823.7 815.8,822.9 816.3,822.1 816.8,821.2 817.3,821.9 817.8,822.5 818.3,823.1 818.8,822.9 819.3,822.8 819.8,822.6 820.3,822.2 820.8,821.9 821.3,821.5 821.8,822.1 822.3,822.7 822.8,823.3 823.3,822.5 823.8,821.7 824.3,820.9 824.8,821 825.3,821.1 825.8,821.2 826.3,821 826.8,820.9 827.3,820.7 827.8,821.1 828.3,821.5 828.8,821.9 829.3,821.4 829.8,820.9 830.3,820.4 830.8,820.6 831.3,820.7 831.8,820.8 832.3,821.1 832.8,821.4 833.3,821.6 833.8,821.5 834.3,821.3 834.8,821.2 835.3,821.7 835.8,822.3 836.3,822.8 836.8,822.4 837.3,821.9 837.8,821.4 838.3,821.9 838.8,822.3 839.3,822.7 839.8,822.9 840.3,823.1 840.8,823.3 841.3,822.7 841.8,822 842.3,821.4 842.8,821 843.3,820.5 843.8,820.1 844.3,820.7 844.8,821.3 845.3,822 845.8,822.4 846.3,822.8 846.8,823.2 847.3,822.6 847.8,821.9 848.3,821.3 848.8,821.9 849.3,822.5 849.8,823.1 850.3,822.5 850.8,821.9 851.3,821.2 851.8,821.1 852.3,821 852.8,820.9 853.3,821.6 853.8,822.3 854.3,823 854.8,822.9 855.3,822.8 855.8,822.7 856.3,822.5 856.8,822.3 857.3,822.1 857.8,821.8 858.3,821.5 858.8,821.2 859.3,821.1 859.8,821.1 860.3,821.1 860.8,820.7 861.3,820.4 861.8,820 862.3,820.5 862.8,821 863.3,821.4 863.8,821 864.3,820.5 864.8,820.1 865.3,821.1 865.8,822 866.3,823 866.8,823 867.3,822.9 867.8,822.7 868.3,820.4 868.8,817 869.3,812.4 869.8,806.9 870.3,801.1 870.8,795.8 871.3,791.8 871.8,790.1 871.9,790 872.3,790.8 872.8,794 873.3,798.9 873.8,804.6 874.3,810.3 874.8,815.3 875.3,819.2 875.8,821.9 876.3,822.4 876.8,822.2 877.3,822.7 877.8,823.3 878.3,823.8 878.8,823 879.3,822.2 879.8,821.4 880.3,821 880.8,820.6 881.3,820.2 881.8,821 882.3,821.7 882.8,822.5 883.3,822.5 883.8,822.5 884.3,822.5 884.8,822.6 885.3,822.6 885.8,822.7 886.3,822.6 886.8,822.4 887.3,822.3 887.8,822 888.3,821.7 888.8,821.4 889.3,821.8 889.8,822.3 890.3,822.7 890.8,823 891.3,823.3 891.8,823.7 892.3,823.7 892.8,823.6 893.3,823.6 893.8,822.5 894.3,821.3 894.8,820.1 895.3,820.5 895.8,820.9 896.3,821.2 896.8,821.9 897.3,822.6 897.8,823.4 898.3,823 898.8,822.6 899.3,822.2 899.8,821.7 900.3,821.3 900.8,820.8 901.3,821.3 901.8,821.8 902.3,822.3 902.8,822 903.3,821.6 903.8,821.2 904.3,820.8 904.8,820.3 905.3,819.8 905.8,820.7 906.3,821.6 906.8,822.4 907.3,822.3 907.8,822.2 908.3,822 908.8,822.5 909.3,822.9 909.8,823.3 910.3,822.5 910.8,821.8 911.3,821 911.8,821.3 912.3,821.6 912.8,821.9 913.3,821.9 913.8,821.8 914.3,821.7 914.8,822 915.3,822.3 915.8,822.6 916.3,822.2 916.8,821.8 917.3,821.4 917.8,821.4 918.3,821.4 918.8,821.5 919.3,821 919.8,820.6" fill="none" stroke="#7c1444" stroke-width="1.7" stroke-linejoin="round"/>
<polyline points="68.3,754 68.8,730.1 69.3,698.2 69.8,655.7 70,635 70.3,665.2 70.8,705.4 71.3,735.5 71.8,758.1 72.3,775 72.8,766.1 73.3,746.2 73.8,719.7 74.3,684.3 74.6,657.7 74.8,676 75.3,713.4 75.8,741.5 76.3,762.6 76.8,778.4 77.3,790.3 77.8,799.2 78.3,805.8 78.8,803.2 79.3,795.6 79.8,785.5 80.3,772 80.8,754.1 81.3,730.2 81.8,698.3 81.9,690.8 82.3,718.5 82.8,745.4 83.3,765.5 83.8,773.9 84.3,778 84.8,786.2 85.3,803.1 85.8,793.7 86.3,780.4 86.8,761.7 87.3,735.2 87.8,697.9 88.3,645.2 88.5,618.5 88.8,657.3 89.3,706.4 89.8,741.3 90.3,766 90.8,783.4 91.3,795.8 91.8,791 92.3,786.9 92.8,770.9 93.3,748.2 93.8,716.2 94,700 94.3,723.5 94.8,753.4 95.3,774.5 95.8,789.5 96.3,800.1 96.8,807.6 97.3,811 97.8,807.2 98.3,803.9 98.8,802.9 99.3,796 99.8,786.9 100.3,775 100.8,759.6 101.3,739.4 101.8,713.1 102.3,678.9 102.8,634.2 102.9,623.8 103.3,662.4 103.8,700.5 104.3,729.7 104.8,752.1 105.3,769.3 105.8,782.5 106.3,792.6 106.8,800.4 107.3,800.5 107.8,792 108.3,778 108.8,765.7 109.3,745.7 109.8,719 110.3,683.4 110.4,675 110.8,706 111.3,735.9 111.8,758.4 112.3,775.3 112.8,787.9 113.3,797.4 113.8,804.5 114.3,809.9 114.8,813.9 115.3,810.3 115.8,808.2 116.3,800.9 116.8,790.5 117.3,776 117.8,755.4 118,745 118.3,760.1 118.8,779.3 119.3,792.9 119.8,802.5 120.3,809.3 120.8,811.4 121.3,811.6 121.8,812.5 122.3,814.6 122.8,810.9 123.3,805.3 123.8,797.8 124.3,787.4 124.8,773.2 125.3,753.8 125.7,733.3 125.8,738.9 126.3,762.3 126.8,779.4 127.3,791.9 127.8,801.1 128.3,807.8 128.8,808.9 129.3,807.4 129.8,804.1 130.3,796 130.8,785.1 131.3,770 131.8,749.4 132.3,721.3 132.8,749.4 133.3,770 133.8,785.1 134.3,796 134.8,804.1 135.3,808.8 135.8,809.3 136.3,805.5 136.8,796.1 137.3,785.2 137.8,768.5 138,760 138.3,772.3 138.8,787.9 139.3,799 139.8,806.9 140.3,812.4 140.8,813.6 141.3,809 141.8,802.8 142.3,794.3 142.8,782.7 143.3,766.7 143.6,754.5 143.8,762.9 144.3,779.9 144.8,792.3 145.3,801.3 145.8,802.9 146.3,806.3 146.8,803.3 147.3,795 147.8,783.7 148.3,768.1 148.8,746.9 149.3,717.8 149.8,678 150.2,635.8 150.3,647.4 150.8,695.4 151.3,730.5 151.8,756.2 152.3,774.9 152.8,788.7 153.3,798.7 153.8,806 154.3,799.3 154.8,788.4 155.3,772.9 155.8,751.1 156,740 156.3,756.1 156.8,776.4 157.3,790.9 157.8,801.1 158.3,808.3 158.8,806.4 159.3,799.2 159.8,789.4 160.3,776 160.8,757.6 161.3,732.5 161.5,720 161.8,738.2 162.3,761.8 162.8,779 163.3,791.6 163.8,800.9 164.3,803 164.8,793.6 165.3,780.3 165.8,761.5 166,752 166.3,765.8 166.8,783.3 167.3,795.8 167.8,804.5 168.3,809.5 168.8,807.5 169.3,802.9 169.8,795.9 170.3,786.8 170.8,775 171.3,759.5 171.8,739.3 172.3,713 172.8,678.8 173,662.3 173.3,686.4 173.8,718.9 174.3,743.8 174.8,762.9 175.3,777.6 175.8,788.9 176.3,797.5 176.8,804.1 177.3,805.6 177.8,809.6 178.3,812.7 178.8,814.7 179.3,813.6 179.8,808.2 180.3,800.7 180.8,790.5 181.3,812.5 181.8,812 182.3,806.3 182.8,798.3 183.3,786.9 183.8,770.9 184.3,748.2 184.8,716.2 185,700 185.3,723.5 185.8,753.4 186.3,774.5 186.8,789.5 187.3,800.1 187.8,807.6 188.3,811.1 188.8,813.9 189.3,816.1 189.8,817.9 190.3,815.9 190.8,813.5 191.3,810.7 191.8,811.9 192.3,812.5 192.8,817.4 193.3,817.8 193.8,818.5 194.3,818.8 194.8,815.9 195.3,811.8 195.8,806 196.3,797.8 196.8,786.2 197.3,769.8 197.8,746.7 198,735 198.3,752 198.8,773.5 199.3,788.8 199.8,797.5 200.3,805.2 200.8,809.2 201.3,811.6 201.8,813 202.3,812.3 202.8,809.3 203.3,805.3 203.8,797.1 204.3,785.2 204.8,768.5 205,760 205.3,772.3 205.8,787.9 206.3,799 206.8,806.9 207.3,812.4 207.8,813 208.3,814.8 208.8,817.3 209.3,818.6 209.8,816.8 210.3,815.3 210.8,814.4 211.3,817.6 211.8,820 212.3,818.5 212.8,816.7 213.3,815.6 213.8,814.7 214.3,814.2 214.8,813.7 215.3,812.8 215.8,813.6 216.3,814.3 216.8,814.9 217.3,814.5 217.8,813.1 218.3,807.8 218.8,800.4 219.3,789.8 219.8,775 220.3,789.8 220.8,800.4 221.3,807.8 221.8,813.1 222.3,815.8 222.8,814.4 223.3,814.3 223.8,814.2 224.3,813.8 224.8,814.2 225.3,814.6 225.8,814.7 226.3,811.1 226.8,805 227.3,796.3 227.8,784.2 228,778 228.3,787 228.8,798.3 229.3,806.4 229.8,808.3 230.3,804.6 230.8,799.1 231.3,802.1 231.8,806.5 232.3,809.5 232.8,808.1 233.3,805.5 233.8,803 234.3,798.8 234.8,787.6 235.3,771.9 235.4,768 235.8,782 236.3,794.8 236.8,803.9 237.3,810.3 237.8,811.8 238.3,814.5 238.8,816.5 239.3,817.9 239.8,817.3 240.3,815.6 240.8,814.9 241.3,813.5 241.8,808.5 242.3,801.3 242.8,791.1 243,786 243.3,793.5 243.8,802.9 244.3,808.5 244.8,804.7 245.3,810.4 245.8,814.1 246.3,816.2 246.8,816.3 247.3,814.7 247.8,811.7 248.3,806.4 248.8,820.4 249.3,820 249.8,819.8 250.3,819.2 250.8,819.5 251.3,819.2 251.8,816.7 252.3,813.3 252.8,808.6 253.3,802.3 253.8,793.6 254.3,781.7 254.8,765.4 255.2,748.2 255.3,752.9 255.8,772.6 256.3,786.9 256.8,788.3 257.3,775.8 257.8,759.1 258.3,736.9 258.7,713.9 258.8,720.2 259.3,746.6 259.8,766.4 260.3,781.2 260.8,792.4 261.3,784.7 261.8,769.5 262.1,757.8 262.3,765.8 262.8,782 263.3,793.8 263.8,802.4 264.3,808.8 264.8,813 265.3,808.4 265.8,802.2 266.3,793.6 266.8,802.3 267.3,792.6 267.8,778.9 268,772 268.3,782.1 268.8,794.9 269.3,803.9 269.8,810.3 270.3,814.9 270.8,818.1 271.3,819.7 271.8,818.8 272.3,818.4 272.8,819.4 273.3,820 273.8,821.3 274.3,819.2 274.8,816.8 275.3,814.3 275.8,814.9 276.3,814.8 276.8,810.2 277.3,803.7 277.8,794.6 278,790 278.3,796.7 278.8,805.2 279.3,811.3 279.8,815.5 280.3,818.6 280.8,817.1 281.3,814.6 281.8,811.2 282.3,806.7 282.8,800.9 283.3,793.3 283.8,783.5 284.3,770.6 284.8,753.8 285.3,731.8 285.7,709.6 285.8,715.6 286.3,741.3 286.8,761 287.3,776.1 287.8,787.7 288.3,796.6 288.8,803.4 289.3,808.7 289.8,812.7 290.3,815.8 290.8,817.2 291.3,818.3 291.8,820.1 292.3,818.6 292.8,816.6 293.3,814.1 293.8,810.7 294.3,805.9 294.8,806 295.3,809.8 295.8,812.2 296.3,813.8 296.8,814.7 297.3,813.6 297.8,811 298.3,806.2 298.8,797.1 299.3,803.7 299.8,794.6 300,790 300.3,796.7 300.8,805.2 301.3,811.3 301.8,815.5 302.3,814.1 302.8,813.7 303.3,813.1 303.8,812.1 304.3,812 304.8,814.1 305.3,815.8 305.8,817.1 306.3,817.8 306.8,817.7 307.3,815.8 307.8,814.8 308.3,815.6 308.8,816.5 309.3,817.1 309.8,817.5 310.3,815.4 310.8,811.1 311.3,805 311.8,796.4 312,792 312.3,798.3 312.8,806.4 313.3,812.1 313.8,816.1 314.3,819 314.8,821 315.3,822.3 315.8,822.4 316.3,820.4 316.8,818.7 317.3,817.1 317.8,810.2 318.3,813.1 318.8,814.8 319.3,816.5 319.8,816.8 320.3,816.6 320.8,813.3 321.3,808.8 321.8,802.6 322.3,806.7 322.8,809.1 323.3,810.4 323.8,812 324.3,810.3 324.8,807.1 325.3,810.7 325.8,813.3 326.3,814.9 326.8,816.4 327.3,817.5 327.8,815.6 328.3,812.2 328.8,807.6 329.3,801.5 329.6,796.9 329.8,800 330.3,799.9 330.8,796.9 331.3,805.8 331.8,811.9 332.3,816.2 332.8,817.5 333.3,817.1 333.8,815.5 334.3,816.7 334.8,818.7 335.3,820.2 335.8,819.6 336.3,817.9 336.8,815.7 337.3,813.2 337.8,815 338.3,811.4 338.8,806.5 339.3,800.1 339.8,806.5 340.3,811.4 340.8,815 341.3,817.7 341.8,819.8 342.3,820.4 342.8,821.3 343.3,821.1 343.8,821.1 344.3,818.7 344.8,816.8 345.3,813 345.8,807.7 346,805 346.3,808.9 346.8,813.9 347.3,816.6 347.8,816.4 348.3,815.9 348.8,815.2 349.3,816.5 349.8,817.1 350.3,817.2 350.8,817.6 351.3,818.1 351.8,819.5 352.3,818.4 352.8,817.6 353.3,817.1 353.8,816.3 354.3,813.9 354.8,810.8 355.3,806.8 355.8,801.9 356.3,795.7 356.4,794.3 356.8,799.6 357.3,805 357.8,809.3 358.3,812.7 358.8,815.4 359.3,815.9 359.8,813.6 360.3,810.1 360.8,804.7 361.3,806.9 361.8,810 362.3,808.4 362.8,803.9 363.3,808.4 363.8,812 364.3,814.9 364.8,817.1 365.3,815 365.8,809.3 366.3,801.2 366.8,803 367.3,808.4 367.8,812 368.3,814.2 368.8,816.2 369.3,817.7 369.8,818.9 370.3,819.1 370.8,819.2 371.3,819.2 371.8,819.4 372.3,819.4 372.8,819.3 373.3,819.6 373.8,819.7 374.3,820.5 374.8,820 375.3,819.4 375.8,818.6 376.3,818.2 376.8,817.6 377.3,817.1 377.8,817.6 378.3,817.8 378.8,817.8 379.3,818.7 379.8,818.7 380.3,816.4 380.8,813.2 381.3,809 381.8,803.3 382.3,795.8 382.8,785.8 383.3,772.4 383.8,754.6 384.3,730.9 384.5,719.3 384.8,736.2 385.3,758.6 385.8,772.6 386.3,757.7 386.8,738.7 386.9,734.3 387.3,750.7 387.8,767.1 388.3,779.9 388.8,790 389.3,797.8 389.8,803.9 390.3,808.7 390.8,812.5 391.3,815.4 391.8,817.7 392.3,819.5 392.8,820.9 393.3,821.8 393.8,820.6 394.3,819 394.8,816.9 395.3,814.2 395.8,810.6 396.3,806 396.8,800 397.3,792.1 397.8,781.8 398.3,768.4 398.8,750.9 399.3,728.2 399.8,698.5 400.3,659.8 400.8,609.3 401.3,543.6 401.8,457.8 402,416.6 402.3,476.8 402.8,558.2 403.3,620.5 403.8,668.4 404.3,705.1 404.8,733.2 405.3,716.2 405.6,701 405.8,711.3 406.3,733.5 406.8,751.4 407.3,765.9 407.8,777.5 408.3,786.9 408.8,794.5 409.3,800.6 409.8,805.5 410.3,809.4 410.8,812.6 411.3,815.2 411.8,817.3 412.3,817.9 412.8,817.6 413.3,819.2 413.8,818.7 414.3,817.8 414.8,816.6 415.3,818.4 415.8,819.8 416.3,819.9 416.8,818.3 417.3,816.4 417.8,813.9 418.3,810.8 418.8,807 419.3,802.1 419.8,795.9 420,793 420.3,797.2 420.8,803.1 421.3,807.8 421.8,811.5 422.3,809.8 422.8,811.6 423.3,813.1 423.8,813.5 424.3,816.3 424.8,818.7 425.3,820 425.8,818 426.3,815.6 426.8,815.7 427.3,816.4 427.8,816.8 428.3,817.1 428.8,818.1 429.3,819.1 429.8,820 430.3,820.1 430.8,820.1 431.3,820.2 431.8,820.7 432.3,819.1 432.8,816.9 433.3,813.9 433.8,809.9 434.3,804.5 434.8,797.4 435.3,788 435.8,775.3 436.3,758.5 436.8,775.3 437.3,788 437.8,797.4 438.3,804.5 438.8,809.9 439.3,813.9 439.8,816.9 440.3,819.1 440.8,819.8 441.3,818.7 441.8,817.7 442.3,815 442.8,811.3 443.3,806.5 443.8,800 444.3,791.4 444.8,779.9 445.3,764.5 445.8,744.1 446.3,716.9 446.8,680.6 446.9,672 447.3,703.6 447.8,734.2 448.3,757.1 448.8,774.3 449.3,787.2 449.8,796.8 450.3,804.1 450.8,809.5 451.3,813.6 451.8,816.7 452.3,818.2 452.8,819.1 453.3,820 453.8,820.9 454.3,820.2 454.8,819.5 455.3,818.8 455.8,817.5 456.3,814.9 456.8,811.5 457.3,807.2 457.8,801.5 458.3,794.1 458.8,784.4 459.3,771.8 459.8,755.4 460.3,733.9 460.8,706 461.3,669.6 461.8,706 462.3,733.9 462.8,755.4 463.3,771.8 463.8,784.4 464.3,794.1 464.8,801.5 465.3,807.2 465.8,811.5 466.3,814.9 466.8,817.5 467.3,819.4 467.8,820.9 468.3,821.8 468.8,822.4 469.3,820.9 469.8,819.5 470.3,818.1 470.8,818.1 471.3,818.1 471.8,818.1 472.3,819.4 472.8,820.7 473.3,822 473.8,821.6 474.3,821.2 474.8,820.8 475.3,821 475.8,820.7 476.3,819.3 476.8,817.7 477.3,815.5 477.8,812.8 478.3,809.5 478.8,805.2 479.3,799.9 479.8,793.2 480,790 480.3,794.6 480.8,801 481.3,806.2 481.8,810.2 482.3,813.4 482.8,816 483.3,818 483.8,819.2 484.3,819.8 484.8,820.5 485.3,821.2 485.8,820.3 486.3,819.5 486.8,818.7 487.3,819.9 487.8,821.2 488.3,822.5 488.8,821.6 489.3,820.7 489.8,819.8 490.3,819.9 490.8,820 491.3,820.2 491.8,821 492.3,821.8 492.8,822.6 493.3,822.3 493.8,821.9 494.3,821.5 494.8,821 495.3,820.6 495.8,820.2 496.3,815.2 496.8,806.6 497.3,794.2 497.8,778 498.3,759.7 498.8,742.1 499.3,728.6 499.8,722.5 499.9,722.3 500.3,725.2 500.8,736 501.3,752.4 501.8,770.8 502.3,788.1 502.8,797 503.3,791.9 503.8,788.1 504.3,786.2 504.5,786 504.8,786.4 505.3,788.8 505.8,792.9 506.3,798.1 506.8,803.8 507.3,809.3 507.8,814.1 508.3,818 508.8,820.9 509.3,822.2 509.8,821.7 510.3,821.1 510.8,820.6 511.3,819.8 511.8,819.1 512.3,818.3 512.8,818.4 513.3,818.5 513.8,818.6 514.3,818.3 514.8,818 515.3,817.7 515.8,818.5 516.3,819.2 516.8,819.9 517.3,819.6 517.8,819.3 518.3,819 518.8,819.4 519.3,819.7 519.8,820.1 520.3,820.8 520.8,821.5 521.3,822.2 521.8,821.5 522.3,820.9 522.8,820.2 523.3,820.7 523.8,821.1 524.3,821.6 524.8,820.6 525.3,819.7 525.8,818.7 526.3,818.7 526.8,818.7 527.3,818.7 527.8,819.8 528.3,820.9 528.8,821.9 529.3,820.3 529.8,815.9 530.3,809.2 530.8,799.9 531.3,788.3 531.8,775.3 532.3,762.5 532.8,752.2 533.3,746 533.6,745 533.8,745.5 534.3,750.5 534.8,760.2 535.3,772.6 535.8,785.7 536.3,797.7 536.8,807.5 537.3,814.7 537.8,818.1 538.3,819 538.8,819.9 539.3,820.8 539.8,820 540.3,819.2 540.8,818.4 541.3,819.6 541.8,820 542.3,818.4 542.8,816.5 543.3,814 543.8,811 544.3,807.1 544.8,802.3 545,800 545.3,803.3 545.8,808 546.3,811.7 546.8,814.6 547.3,816.9 547.8,818.8 548.3,820.2 548.8,821.4 549.3,822.3 549.8,823 550.3,822.2 550.8,821.2 551.3,820.3 551.8,820.1 552.3,820 552.8,819.8 553.3,819.7 553.8,819.5 554.3,819.4 554.8,819.3 555.3,819.1 555.8,819 556.3,818.7 556.8,818.5 557.3,818.2 557.8,819.8 558.3,821.5 558.8,823.1 559.3,821.9 559.8,820.7 560.3,819.5 560.8,820.6 561.3,821.7 561.8,822.7 562.3,821.4 562.8,820 563.3,818.7 563.8,819.2 564.3,819.8 564.8,820.4 565.3,821.3 565.8,822.2 566.3,823.2 566.8,822.5 567.3,821.8 567.8,821.1 568.3,820.3 568.8,819.5 569.3,818.7 569.8,817.8 570.3,812.9 570.8,806.6 571.3,799.7 571.8,793.2 572.3,788.7 572.8,787 573.3,788.7 573.8,793.2 574.3,799.7 574.8,806.6 575.3,812.9 575.8,817.8 576.3,819.6 576.8,819.6 577.3,819.9 577.8,820.3 578.3,820.6 578.8,820.1 579.3,819.6 579.8,819.1 580.3,820.2 580.8,821.3 581.3,822.4 581.8,822.2 582.3,822.1 582.8,822 583.3,821.3 583.8,820.6 584.3,820 584.8,819.7 585.3,819.5 585.8,819.3 586.3,818.9 586.8,818.5 587.3,818 587.8,818.7 588.3,816.8 588.8,814.4 589.3,811.5 589.8,807.7 590,806 590.3,808.6 590.8,812.1 591.3,815 591.8,817.2 592.3,819 592.8,820.4 593.3,821.3 593.8,820.7 594.3,820.1 594.8,819.5 595.3,819 595.8,818.5 596.3,818 596.8,819.4 597.3,820.8 597.8,822.2 598.3,821.8 598.8,821.5 599.3,821.2 599.8,820.3 600.3,819.4 600.8,818.5 601.3,818.6 601.8,818.7 602.3,818.8 602.8,819.5 603.3,820.3 603.8,821.1 604.3,821.3 604.8,821.6 605.3,821.8 605.8,820.9 606.3,820 606.8,819 607.3,820.1 607.8,821.1 608.3,822.2 608.8,821.9 609.3,821.6 609.8,821.3 610.3,821.9 610.8,822.6 611.3,823.2 611.8,822.8 612.3,822.2 612.8,819.9 613.3,816.6 613.8,811.9 614.3,805.6 614.8,797.4 615.3,787.3 615.8,775.3 616.3,761.9 616.8,747.6 617.3,733.3 617.8,720.1 618.3,709.1 618.8,701.2 619.3,697.4 619.5,697 619.8,697.8 620.3,702.5 620.8,711.1 621.3,722.6 621.8,736.1 622.3,750.5 622.8,764.7 623.3,777.9 623.8,789.5 624.3,794.6 624.8,784.7 625.3,774.6 625.8,765.6 626.3,758.8 626.8,755.3 627,755 627.3,755.7 627.8,759.9 628.3,767.2 628.8,776.6 629.3,786.7 629.8,796.4 630.3,805 630.8,811.8 631.3,817 631.8,816.1 632.3,812.1 632.8,808.1 633.3,804.9 633.8,803.2 634,803 634.3,803.4 634.8,805.4 635.3,808.9 635.8,812.9 636.3,816.8 636.8,820.1 637.3,820 637.8,819.6 638.3,818.1 638.8,815.9 639.3,814.1 639.8,813.1 640,813 640.3,813.2 640.8,814.4 641.3,816.3 641.8,818.6 642.3,820.8 642.8,822.6 643.3,821.4 643.8,820.1 644.3,818.8 644.8,819.1 645.3,819.3 645.8,819.6 646.3,819.9 646.8,820.1 647.3,820.3 647.8,820.9 648.3,821.4 648.8,822 649.3,821.3 649.8,820.5 650.3,819.8 650.8,820.3 651.3,820.7 651.8,821.1 652.3,821.5 652.8,821.8 653.3,822.1 653.8,821.2 654.3,820.3 654.8,819.3 655.3,819.4 655.8,819.6 656.3,819.7 656.8,819.5 657.3,819.3 657.8,819.1 658.3,818.8 658.8,818.5 659.3,818.1 659.8,819.2 660.3,820.2 660.8,821.2 661.3,820.9 661.8,820.5 662.3,820.2 662.8,821.1 663.3,822 663.8,822.9 664.3,821.9 664.8,820.9 665.3,819.9 665.8,819.6 666.3,819.3 666.8,819.1 667.3,819.7 667.8,817.5 668.3,812.6 668.8,805.8 669.3,797.2 669.8,786.9 670.3,775.7 670.8,764.4 671.3,754.5 671.8,747.1 672.3,743.3 672.5,743 672.8,743.8 673.3,748.3 673.8,756.3 674.3,766.6 674.8,778 675.3,789.1 675.8,799.1 676.3,807.3 676.8,813.7 677.3,812.3 677.8,806.6 678.3,800.3 678.8,794.3 679.3,789.7 679.8,787.2 680,787 680.3,787.5 680.8,790.4 681.3,795.4 681.8,801.6 682.3,807.8 682.8,813.4 683.3,817.8 683.8,820.5 684.3,820.4 684.8,816.8 685.3,812 685.8,806.1 686.3,799.6 686.8,793.5 687.3,788.7 687.8,786.2 688,786 688.3,786.5 688.8,789.5 689.3,794.7 689.8,800.9 690.3,807.3 690.8,813.1 691.3,817.6 691.8,821 692.3,822.4 692.8,822.2 693.3,822.1 693.8,822 694.3,821.8 694.8,821.7 695.3,821.5 695.8,821.9 696.3,822.2 696.8,822.6 697.3,822 697.8,821.5 698.3,820.9 698.8,820.7 699.3,820.5 699.8,820.4 700.3,819.6 700.8,818.9 701.3,818.2 701.8,819.8 702.3,818.7 702.8,816.7 703.3,815 703.8,814.1 704,814 704.3,814.2 704.8,815.3 705.3,817 705.8,819.2 706.3,821.2 706.8,821.8 707.3,821.4 707.8,820.6 708.3,819.8 708.8,818.9 709.3,820.1 709.8,821.3 710.3,822.5 710.8,821.9 711.3,821.3 711.8,820.7 712.3,820.9 712.8,821 713.3,821.1 713.8,820.4 714.3,819.7 714.8,819 715.3,819.5 715.8,820 716.3,820.5 716.8,819.7 717.3,819 717.8,818.2 718.3,818.5 718.8,818.7 719.3,818.9 719.8,818.8 720.3,818.7 720.8,818.6 721.3,818.9 721.8,819.1 722.3,819.3 722.8,820.5 723.3,821.6 723.8,822.8 724.3,822.8 724.8,822.8 725.3,822.8 725.8,821.3 726.3,819.8 726.8,818.4 727.3,819.7 727.8,819.3 728.3,817 728.8,814.2 729.3,811.2 729.8,808.1 730.3,805.2 730.8,802.7 731.3,801 731.8,800.1 732,800 732.3,800.2 732.8,801.3 733.3,803.2 733.8,805.8 734.3,808.7 734.8,811.8 735.3,814.8 735.8,817.5 736.3,819.8 736.8,821.2 737.3,821.3 737.8,821.2 738.3,821.1 738.8,821 739.3,821.2 739.8,819.9 740.3,817.5 740.8,815.1 741.3,813.1 741.8,812.1 742,812 742.3,812.2 742.8,813.5 743.3,815.6 743.8,818 744.3,820.4 744.8,821.6 745.3,820.8 745.8,819.9 746.3,819 746.8,818.7 747.3,818.5 747.8,818.3 748.3,819.9 748.8,821.6 749.3,823.2 749.8,821.9 750.3,820.7 750.8,819.4 751.3,819.5 751.8,819.5 752.3,819.6 752.8,820.3 753.3,821.1 753.8,821.8 754.3,821.4 754.8,820.9 755.3,820.4 755.8,820.9 756.3,821.4 756.8,820.4 757.3,818.7 757.8,816.9 758.3,815.3 758.8,814.2 759.3,813.6 759.5,813.5 759.8,813.6 760.3,814.4 760.8,815.6 761.3,817.3 761.8,819 762.3,820.7 762.8,822 763.3,821 763.8,820 764.3,819 764.8,820.1 765.3,821.1 765.8,822.2 766.3,821 766.8,819.8 767.3,818.5 767.8,819.9 768.3,821.2 768.8,822.5 769.3,822.1 769.8,821.7 770.3,821.3 770.8,820.8 771.3,820.3 771.8,819.8 772.3,820.3 772.8,820.8 773.3,821.3 773.8,820.7 774.3,820 774.8,819.4 775.3,820.4 775.8,821.4 776.3,822.5 776.8,821.1 777.3,819.7 777.8,818.3 778.3,819.1 778.8,819.9 779.3,820.7 779.8,820.1 780.3,819.5 780.8,818.8 781.3,820.1 781.8,821.3 782.3,822.5 782.8,822.1 783.3,821.7 783.8,821.3 784.3,821.1 784.8,821 785.3,820.7 785.8,819 786.3,817.3 786.8,815.6 787.3,814.4 787.8,813.6 788.1,813.5 788.3,813.6 788.8,814.2 789.3,815.3 789.8,816.9 790.3,818.7 790.8,820.4 791.3,821.4 791.8,821.4 792.3,821.5 792.8,821.6 793.3,822.1 793.8,822.5 794.3,823 794.8,822.9 795.3,822.8 795.8,822.7 796.3,821.6 796.8,820.6 797.3,819.5 797.8,820.6 798.3,821.7 798.8,822.8 799.3,821.6 799.8,820.4 800.3,819.2 800.8,819.9 801.3,820.5 801.8,821.2 802.3,821.6 802.8,822 803.3,822.4 803.8,822.2 804.3,822 804.8,821.8 805.3,822.1 805.8,822.4 806.3,822.7 806.8,821.9 807.3,821 807.8,820.2 808.3,818.7 808.8,816.9 809.3,815.3 809.8,814.2 810.3,813.6 810.5,813.5 810.8,813.6 811.3,814.4 811.8,815.6 812.3,817.3 812.8,819 813.3,820.5 813.8,820.2 814.3,821.1 814.8,822 815.3,822.9 815.8,821.8 816.3,820.7 816.8,819.6 817.3,820.6 817.8,821.5 818.3,822.4 818.8,822 819.3,821.6 819.8,821.2 820.3,820.3 820.8,819.5 821.3,818.6 821.8,818.5 822.3,818.4 822.8,818.4 823.3,819.1 823.8,819.9 824.3,820.6 824.8,820.8 825.3,820.9 825.8,821 826.3,820.9 826.8,820.8 827.3,820.7 827.8,820.5 828.3,820.3 828.8,820.1 829.3,819.5 829.8,819 830.3,818.5 830.8,819.6 831.3,820.8 831.8,821.9 832.3,822.4 832.8,821.2 833.3,819.3 833.8,817.4 834.3,815.9 834.8,815.1 835,815 835.3,815.2 835.8,816.2 836.3,817.8 836.8,819.7 837.3,821.1 837.8,820.8 838.3,820.9 838.8,820.9 839.3,820.9 839.8,821.5 840.3,822.1 840.8,822.7 841.3,822.4 841.8,822 842.3,821.6 842.8,820.7 843.3,819.8 843.8,818.9 844.3,819.4 844.8,820 845.3,820.5 845.8,820.3 846.3,820.1 846.8,819.9 847.3,820 847.8,820.2 848.3,819.3 848.8,817.4 849.3,815.9 849.8,815.1 850,815 850.3,815.2 850.8,816.2 851.3,817.8 851.8,819.7 852.3,821.3 852.8,820.6 853.3,821.2 853.8,821.9 854.3,822.5 854.8,821.8 855.3,821.1 855.8,820.5 856.3,819.9 856.8,819.3 857.3,818.8 857.8,820.2 858.3,821.7 858.8,823.2 859.3,821.8 859.8,820.5 860.3,819.1 860.8,819.5 861.3,819.9 861.8,820.4 862.3,819.7 862.8,819.1 863.3,818.4 863.8,819.5 864.3,820.5 864.8,821.5 865.3,821.5 865.8,819.7 866.3,817.2 866.8,814.1 867.3,810.4 867.8,806 868.3,801.1 868.8,795.8 869.3,790.5 869.8,785.4 870.3,780.9 870.8,777.3 871.3,774.9 871.8,773.8 871.9,773.8 872.3,774.3 872.8,776.2 873.3,779.3 873.8,783.5 874.3,788.4 874.8,793.7 875.3,799 875.8,804.1 876.3,805.2 876.8,802.7 877.3,801 877.8,800.1 878,800 878.3,800.2 878.8,801.3 879.3,803.2 879.8,805.8 880.3,808.7 880.8,811.8 881.3,814.8 881.8,817.5 882.3,819.8 882.8,820 883.3,819.5 883.8,819.1 884.3,818.7 884.8,819.6 885.3,820.6 885.8,821.6 886.3,821.9 886.8,822.3 887.3,822.7 887.8,822.5 888.3,822.4 888.8,822.3 889.3,822 889.8,821.6 890.3,821.3 890.8,821.4 891.3,821.6 891.8,821.7 892.3,821.7 892.8,821.8 893.3,821.8 893.8,821.4 894.3,821 894.8,820.6 895.3,820 895.8,819.4 896.3,818.6 896.8,818.1 897,818 897.3,818.1 897.8,818.8 898.3,820 898.8,821.2 899.3,821.7 899.8,821.5 900.3,821.2 900.8,821 901.3,821.5 901.8,822 902.3,822.6 902.8,821.3 903.3,820.1 903.8,818.9 904.3,820.3 904.8,821.8 905.3,823.2 905.8,822.3 906.3,821.4 906.8,820.6 907.3,820.2 907.8,819.9 908.3,819.5 908.8,819.7 909.3,819.8 909.8,820 910.3,821.1 910.8,822.2 911.3,823.3 911.8,822 912.3,820.8 912.8,819.5 913.3,820.1 913.8,820.6 914.3,821.2 914.8,820.6 915.3,820 915.8,819.4 916.3,820.6 916.8,821.8 917.3,823 917.8,822.3 918.3,821.6 918.8,820.9 919.3,820.2 919.8,819.4" fill="none" stroke="#a87c8c" stroke-width="1.7" stroke-linejoin="round"/>
<polyline points="68.3,819.1 68.8,811 69.3,806.6 69.8,804.1 70.3,805.5 70.8,797.1 71.3,785.2 71.8,768.5 72,760 72.3,772.3 72.8,787.9 73.3,799 73.8,805 74.3,806.9 74.8,808.2 75.3,800.9 75.8,790.5 76.3,776 76.8,755.4 77,745 77.3,760.1 77.8,779.3 78.3,792.9 78.8,802.5 79.3,809.3 79.8,814.2 80.3,817.6 80.8,820 81.3,813.5 81.8,805.8 82.3,807.8 82.8,810.5 83.3,813.7 83.8,813.1 84.3,812.8 84.8,812.1 85.3,807 85.8,800.1 86.3,790.6 86.8,777.5 87.3,759.7 87.8,735.4 88.3,702 88.5,685.5 88.8,709.6 89.3,740.9 89.8,763.8 90.3,780.5 90.8,792.7 91.3,801.6 91.8,808.2 92.3,811 92.8,804.9 93.3,796.2 93.8,784 94.3,766.7 94.8,742.4 95,730 95.3,747.9 95.8,770.7 96.3,786.8 96.8,798.2 97.3,806.3 97.8,812 98.3,814.8 98.8,811.5 99.3,807.1 99.8,801.4 100.3,793.9 100.8,784.2 101.3,771.5 101.8,755 102.3,733.4 102.8,705.4 102.9,698.8 103.3,723.1 103.8,747.1 104.3,765.4 104.8,779.5 105.3,790.3 105.8,798.6 106.3,805 106.8,809.8 107.3,809.4 107.8,803.3 108.3,795 108.8,783.7 109.3,768.1 109.8,746.8 110.3,717.7 110.4,710.7 110.8,736.3 111.3,760.4 111.8,778 112.3,790.9 112.8,800.3 113.3,807.2 113.8,812.2 114.3,813.2 114.8,812.6 115.3,810 115.8,812.2 116.3,812.1 116.8,812.9 117.3,814 117.8,812.5 118.3,807 118.8,799.3 119.3,788.3 119.8,772.8 120,765 120.3,776.4 120.8,790.8 121.3,801.1 121.8,808.3 122.3,812.8 122.8,814.4 123.3,815.5 123.8,816 124.3,816.3 124.8,816.6 125.3,816.8 125.8,816.7 126.3,816.2 126.8,816.5 127.3,814.1 127.8,811.4 128.3,805.5 128.8,797.1 129.3,785.2 129.8,768.5 130,760 130.3,772.3 130.8,787.9 131.3,799 131.8,806.9 132.3,812.4 132.8,816.3 133.3,818.1 133.8,819 134.3,820 134.8,818.1 135.3,817.6 135.8,820.2 136.3,820.7 136.8,814.2 137.3,811 137.8,810.6 138.3,810.1 138.8,803.7 139.3,794.5 139.8,781.6 140,775 140.3,784.5 140.8,796.6 141.3,805.1 141.8,810.8 142.3,809.6 142.8,807.3 143.3,803.4 143.8,797.1 144.3,790.6 144.8,799.9 145.3,804.7 145.8,807.4 146.3,808.8 146.8,811.3 147.3,805.9 147.8,798.6 148.3,788.5 148.8,774.7 149.3,755.9 149.8,730.1 150.2,702.8 150.3,710.3 150.8,741.4 151.3,764.1 151.8,780.8 152.3,792.9 152.8,801.8 153.3,808.3 153.8,813 154.3,816 154.8,814.6 155.3,814.4 155.8,816.7 156.3,820.1 156.8,823.9 157.3,823.3 157.8,818.6 158.3,815.6 158.8,814.5 159.3,813.7 159.8,813.1 160.3,808 160.8,805.9 161.3,802.5 161.8,798.1 162.3,798.6 162.8,807 163.3,805.5 163.8,797.1 164.3,785.2 164.8,768.5 165,760 165.3,772.3 165.8,787.9 166.3,799 166.8,806.9 167.3,811.9 167.8,811.8 168.3,812.4 168.8,808.3 169.3,802.9 169.8,795.9 170.3,786.8 170.8,775 171.3,759.5 171.8,739.3 172.3,713 172.8,678.8 173,662.3 173.3,686.4 173.8,718.9 174.3,743.8 174.8,762.9 175.3,777.6 175.8,788.9 176.3,797.5 176.8,804.1 177.3,809.2 177.8,810.8 178.3,812.7 178.8,816.1 179.3,819.1 179.8,818.2 180.3,816.6 180.8,814.3 181.3,812.4 181.8,814.7 182.3,816.1 182.8,815.1 183.3,812.3 183.8,808.9 184.3,806.6 184.8,806.2 185.3,809.9 185.8,813.9 186.3,817.1 186.8,819.8 187.3,817.4 187.8,814.4 188.3,811 188.8,810.9 189.3,813.7 189.8,816.3 190.3,815.3 190.8,814 191.3,812.5 191.8,814.6 192.3,816.2 192.8,817.6 193.3,817.4 193.8,816.8 194.3,815.8 194.8,816.8 195.3,817.2 195.8,817.2 196.3,816.3 196.8,815 197.3,813.2 197.8,811.4 198.3,808.7 198.8,804.7 199.3,798.4 199.8,801.2 200.3,805.9 200.8,810.7 201.3,814.2 201.8,812 202.3,805.4 202.8,809.8 203.3,810.1 203.8,803.7 204.3,794.5 204.8,781.6 205,775 205.3,784.5 205.8,796.6 206.3,805.1 206.8,808.3 207.3,807.2 207.8,809 208.3,812.3 208.8,814.8 209.3,816.7 209.8,816.1 210.3,814.3 210.8,811.1 211.3,809.1 211.8,811.5 212.3,812.5 212.8,814.9 213.3,814.8 213.8,810.2 214.3,803.7 214.8,794.6 215,790 215.3,796.7 215.8,805.2 216.3,811.3 216.8,815.5 217.3,818.6 217.8,818.2 218.3,818.1 218.8,817.3 219.3,816.6 219.8,816.3 220.3,816.2 220.8,816.6 221.3,818 221.8,814.9 222.3,810.4 222.8,804 223.3,794.9 223.6,787.8 223.8,792.7 224.3,802.4 224.8,809.2 225.3,814.1 225.8,815.6 226.3,816 226.8,816.8 227.3,818.7 227.8,818.4 228.3,815.6 228.8,811.8 229.3,806.6 229.8,799.5 230.3,789.8 230.8,776.5 231.3,758.4 231.6,744.4 231.8,754 232.3,773.4 232.8,787.5 233.3,797.8 233.8,805.4 234.3,810.9 234.8,814.9 235.3,817.2 235.8,817.4 236.3,817.6 236.8,817.6 237.3,817.4 237.8,817.2 238.3,817.6 238.8,818 239.3,818.1 239.8,818.5 240.3,820.1 240.8,821.5 241.3,821.1 241.8,820.3 242.3,820 242.8,820.1 243.3,817.7 243.8,814.3 244.3,809.5 244.8,802.8 245.3,793.2 245.5,788.4 245.8,795.4 246.3,804.3 246.8,810.6 247.3,815.1 247.8,818.1 248.3,816.3 248.8,812.4 249.3,806.8 249.8,799 250,795 250.3,800.8 250.8,808.1 251.3,813.3 251.8,817 252.3,818.1 252.8,817.3 253.3,816.3 253.8,815.4 254.3,814 254.8,814.6 255.3,814.3 255.8,810 256.3,804.1 256.8,796.1 257.3,785.1 257.8,770.1 258.3,749.6 258.7,727.8 258.8,733.8 259.3,758.6 259.8,776.7 260.3,789.9 260.8,799.6 261.3,806.7 261.8,811.9 262.3,815.6 262.8,817.4 263.3,814.8 263.8,810.2 264.3,803.7 264.8,794.6 265,790 265.3,796.7 265.8,805.2 266.3,811.3 266.8,815.5 267.3,818.6 267.8,820.7 268.3,820.6 268.8,818.4 269.3,816.4 269.8,817.5 270.3,818.9 270.8,816.8 271.3,813.4 271.8,808.8 272.3,802.6 272.8,794 273.3,782.2 273.8,766.1 274.3,744.1 274.5,733.2 274.8,749.1 275.3,769.8 275.8,784.9 276.3,795.9 276.8,804 277.3,808.8 277.8,808.3 278.3,809.5 278.8,812.6 279.3,815 279.8,816 280.3,814.6 280.8,812 281.3,809.9 281.8,803.3 282,800 282.3,804.8 282.8,811 283.3,815.3 283.8,818.4 284.3,820.6 284.8,821.2 285.3,820 285.8,819.1 286.3,820.4 286.8,822.7 287.3,824.4 287.8,822.2 288.3,820.4 288.8,819.5 289.3,819 289.8,818.7 290.3,816.1 290.8,812.4 291.3,807.5 291.8,800.7 292.3,791.4 292.8,778.7 293.2,765.3 293.3,769 293.8,784.3 294.3,795.5 294.8,803.7 295.3,809.7 295.8,806 296.3,811.7 296.8,814.6 297.3,815.9 297.8,816.3 298.3,817.2 298.8,816.4 299.3,815.2 299.8,813.4 300.3,810.6 300.8,810.3 301.3,813 301.8,810 302.3,804.1 302.8,796 303.3,785.1 303.8,770 303.9,766.4 304.3,779.6 304.8,792.1 305.3,801.2 305.8,807.8 306.3,812.7 306.8,816.2 307.3,818.8 307.8,820.2 308.3,817.9 308.8,814.6 309.3,809.9 309.8,803.3 310,800 310.3,804.8 310.8,811 311.3,815.3 311.8,817.7 312.3,817.3 312.8,816.4 313.3,816.3 313.8,815.5 314.3,814.3 314.8,813.6 315.3,812 315.8,815.3 316.3,816.5 316.8,817 317.3,817.2 317.8,818.1 318.3,815.2 318.8,811.3 319.3,805.9 319.8,798.6 320.3,788.5 320.5,783.5 320.8,790.8 321.3,800.2 321.8,807.1 322.3,812.2 322.8,809.6 323.3,807.4 323.8,812.4 324.3,816.4 324.8,819.7 325.3,818.7 325.8,817.3 326.3,815.8 326.8,816.2 327.3,816.4 327.8,816.6 328.3,818.7 328.8,820.6 329.3,822.6 329.8,821.9 330.3,821.2 330.8,820.4 331.3,819.1 331.8,817.7 332.3,816.2 332.8,816.7 333.3,820 333.8,821.4 334.3,822.2 334.8,820.9 335.3,818.8 335.8,815.9 336.3,811.8 336.8,806 337,803 337.3,807.3 337.8,812.7 338.3,816.6 338.8,819.3 339.3,818.9 339.8,818.3 340.3,819.4 340.8,820.4 341.3,821.4 341.8,820.5 342.3,819.5 342.8,818.3 343.3,818.1 343.8,818.4 344.3,820.1 344.8,817.7 345.3,814.5 345.8,810.4 346.3,806.4 346.8,808.9 347.3,812.1 347.8,814 348.3,815.3 348.8,815.7 349.3,816.3 349.8,816.1 350.3,817.9 350.8,819.7 351.3,820.7 351.8,821.3 352.3,820.2 352.8,818.5 353.3,816.6 353.8,814.6 354.3,809.9 354.8,803.3 355,800 355.3,804.8 355.8,811 356.3,815.3 356.8,817.4 357.3,818.2 357.8,818.5 358.3,819.3 358.8,819.8 359.3,821.4 359.8,821.9 360.3,822.1 360.8,822.2 361.3,821.1 361.8,820 362.3,818.9 362.8,819.7 363.3,820.5 363.8,821.3 364.3,820.7 364.8,820.1 365.3,820.2 365.8,820.1 366.3,819.8 366.8,819.5 367.3,820.5 367.8,821.4 368.3,822.1 368.8,821.4 369.3,820.4 369.8,820.1 370.3,820.4 370.8,820.1 371.3,818.7 371.8,818.8 372.3,818.3 372.8,817.2 373.3,813.4 373.8,813.9 374.3,816 374.8,817.7 375.3,818.9 375.8,819.6 376.3,819.7 376.8,819.4 377.3,818.6 377.8,816.6 378.3,813.7 378.8,815.3 379.3,816.4 379.8,816.7 380.3,816.6 380.8,817.5 381.3,815.2 381.8,811.6 382.3,806.9 382.8,800.6 383.3,792.1 383.8,780.9 384.3,765.9 384.8,745.9 385.3,719.3 385.8,745.9 386.3,765.9 386.8,780.9 387.3,792.1 387.8,800.6 388.3,806.9 388.8,811.6 389.3,815.2 389.8,817.9 390.3,816.9 390.8,813.9 391.3,809.9 391.8,804.6 392.3,797.5 392.8,788.1 393.3,775.5 393.8,758.7 394.3,736.4 394.4,731.1 394.8,750.6 395.3,769.4 395.8,783.5 396.3,794.1 396.8,802 397.3,808 397.8,812.5 398.3,815.8 398.8,818.3 399.3,820.2 399.8,819.5 400.3,818.9 400.8,818.7 401.3,818.4 401.8,818.6 402.3,819.3 402.8,819.7 403.3,819.8 403.8,820.2 404.3,821.5 404.8,824.4 405.3,825.7 405.8,821.4 406.3,820.5 406.8,820.6 407.3,821.2 407.8,821.1 408.3,821.2 408.8,820 409.3,818.8 409.8,817.3 410.3,817.6 410.8,819.2 411.3,820.6 411.8,821.9 412.3,821.9 412.8,821.8 413.3,821.5 413.8,820.6 414.3,819.5 414.8,817.9 415.3,820 415.8,821.6 416.3,823 416.8,821.5 417.3,819.8 417.8,818.1 418.3,818.1 418.8,818.1 419.3,818.3 419.8,819.2 420.3,819.9 420.8,820.6 421.3,820.2 421.8,819.8 422.3,819.8 422.8,820.5 423.3,821.1 423.8,821.6 424.3,821.3 424.8,821 425.3,820.6 425.8,820.9 426.3,821.1 426.8,821 427.3,819.4 427.8,817.2 428.3,814.3 428.8,810.4 429.3,805.2 429.8,798.4 430,795 430.3,799.9 430.8,806.4 431.3,811.3 431.8,814.9 432.3,817.7 432.8,819.7 433.3,819.8 433.8,819.4 434.3,819.1 434.8,820.5 435.3,821.9 435.8,823.3 436.3,823.2 436.8,823.1 437.3,823 437.8,822.1 438.3,821.3 438.8,820.4 439.3,819.8 439.8,819.3 440.3,818.7 440.8,819.4 441.3,820.1 441.8,819.5 442.3,817.2 442.8,813.9 443.3,809.5 443.8,803.5 444.3,795.3 444.8,784 445.3,768.6 445.8,747.5 446.3,718.6 446.8,679.1 446.9,669.6 447.3,704.3 447.8,737 448.3,760.9 448.8,778.4 449.3,791.2 449.8,800.5 450.3,807.4 450.8,812.3 451.3,816 451.8,818.7 452.3,820.6 452.8,822 453.3,821.1 453.8,820.2 454.3,820.3 454.8,820.4 455.3,820.5 455.8,820.2 456.3,819.1 456.8,816.6 457.3,813.2 457.8,808.5 458.3,802.1 458.8,793.3 459.3,781.3 459.8,764.9 460.3,742.4 460.8,711.7 461.3,669.6 461.8,711.7 462.3,742.4 462.8,764.9 463.3,781.3 463.8,793.3 464.3,802.1 464.8,808.5 465.3,813.2 465.8,816.6 466.3,819.1 466.8,820.9 467.3,820.4 467.8,818.6 468.3,816.2 468.8,812.9 469.3,808.6 469.8,802.8 470,800 470.3,804.1 470.8,809.5 471.3,813.6 471.8,816.7 472.3,819 472.8,820.7 473.3,822 473.8,821.4 474.3,820.2 474.8,819.1 475.3,820.3 475.8,821.5 476.3,822.7 476.8,822.1 477.3,821.5 477.8,821 478.3,821.5 478.8,822 479.3,822.6 479.8,821.8 480.3,821 480.8,820.2 481.3,820.3 481.8,820.5 482.3,820.7 482.8,820.5 483.3,820.3 483.8,820.1 484.3,820.7 484.8,821.2 485.3,821.8 485.8,822.2 486.3,822.6 486.8,823 487.3,822.7 487.8,822.5 488.3,822.2 488.8,821.3 489.3,820.4 489.8,819.5 490.3,820.1 490.8,820.7 491.3,821.3 491.8,821.9 492.3,822.4 492.8,823 493.3,822.6 493.8,821.6 494.3,820.3 494.8,818.6 495.3,816.4 495.8,813.5 496.3,809.8 496.8,804.9 497.3,798.5 497.8,790.2 498.3,779.4 498.8,765.2 499.3,746.8 499.8,722.8 500.3,746.8 500.8,765.2 501.3,779.4 501.8,790.2 502.3,798.5 502.8,804.9 503.3,809.8 503.8,813.5 504.3,816.4 504.8,818.6 505.3,820.3 505.8,821.6 506.3,822.6 506.8,821.5 507.3,820.4 507.8,819.2 508.3,819.3 508.8,819.5 509.3,819.6 509.8,820.5 510.3,821.3 510.8,822.1 511.3,821.1 511.8,820 512.3,819 512.8,820.3 513.3,821.6 513.8,822.8 514.3,821.8 514.8,820.8 515.3,819.8 515.8,820.4 516.3,820.3 516.8,818.8 517.3,817 517.8,814.7 518.3,811.8 518.8,808.1 519.3,803.5 519.8,797.7 520,795 520.3,799 520.8,804.5 521.3,808.9 521.8,812.4 522.3,815.2 522.8,817.4 523.3,819.1 523.8,820.5 524.3,820.7 524.8,820.7 525.3,820.7 525.8,820.7 526.3,820.4 526.8,820.2 527.3,819.9 527.8,820.1 528.3,820.3 528.8,820.5 529.3,821 529.8,821.6 530.3,822.2 530.8,821.8 531.3,821.4 531.8,821 532.3,821.3 532.8,821.6 533.3,821.9 533.8,822.2 534.3,822.6 534.8,822.9 535.3,823.1 535.8,823.3 536.3,823.5 536.8,822.2 537.3,820.8 537.8,819.5 538.3,820.3 538.8,821.1 539.3,821.9 539.8,821.7 540.3,821.6 540.8,821.4 541.3,822 541.8,822.6 542.3,823.2 542.8,822.5 543.3,821.9 543.8,821.3 544.3,820.7 544.8,820.2 545.3,819.6 545.8,819.9 546.3,820.2 546.8,820.5 547.3,820.6 547.8,820.7 548.3,820.7 548.8,820.9 549.3,821 549.8,821.2 550.3,822.1 550.8,823 551.3,823.9 551.8,823.9 552.3,823.9 552.8,823.9 553.3,823.7 553.8,823.6 554.3,823.4 554.8,822.6 555.3,821.8 555.8,821 556.3,820.6 556.8,820.3 557.3,819.9 557.8,818.3 558.3,816.3 558.8,813.9 559.3,810.8 559.8,806.8 560,805 560.3,807.7 560.8,811.4 561.3,814.4 561.8,816.8 562.3,818.6 562.8,820.1 563.3,821.3 563.8,822.3 564.3,823 564.8,823.6 565.3,822.5 565.8,821.4 566.3,820.3 566.8,821.1 567.3,821.9 567.8,822.1 568.3,821.2 568.8,820.1 569.3,818.7 569.8,816.9 570.3,814.8 570.8,812.1 571.3,808.8 571.8,804.7 572.3,799.5 572.8,793.2 573.1,788.7 573.3,791.8 573.8,798.4 574.3,803.7 574.8,808 575.3,811.5 575.8,814.3 576.3,816.5 576.8,818.4 577.3,819.8 577.8,821 578.3,821.9 578.8,821.3 579.3,820.7 579.8,820.1 580.3,820.3 580.8,820.5 581.3,820.7 581.8,820.4 582.3,820 582.8,819.7 583.3,820 583.8,820.3 584.3,820.6 584.8,820.5 585.3,820.3 585.8,820.1 586.3,820.2 586.8,820.2 587.3,820.2 587.8,820.7 588.3,821.2 588.8,821.6 589.3,821.6 589.8,821.5 590.3,821.5 590.8,821.4 591.3,821.4 591.8,821.4 592.3,822.1 592.8,822.8 593.3,823.5 593.8,823.6 594.3,823.7 594.8,823.8 595.3,823.4 595.8,823 596.3,822.5 596.8,822.4 597.3,822.2 597.8,822 598.3,822.6 598.8,823.1 599.3,823.7 599.8,822.7 600.3,821.7 600.8,820.7 601.3,821.3 601.8,822 602.3,822.6 602.8,822.3 603.3,822 603.8,821.7 604.3,821 604.8,820.4 605.3,819.7 605.8,819.8 606.3,819.9 606.8,820 607.3,820.6 607.8,821.3 608.3,821.9 608.8,821.9 609.3,821.8 609.8,821.7 610.3,822.4 610.8,822.9 611.3,822.1 611.8,821.2 612.3,820.1 612.8,818.7 613.3,817 613.8,814.8 614.3,812.1 614.8,808.8 615.3,804.7 615.8,799.6 616.3,793.3 616.8,785.5 617.3,775.7 617.8,763.7 618.3,748.7 618.8,730.1 619.3,707.1 619.5,696.4 619.8,712.1 620.3,734.2 620.8,752 621.3,766.3 621.8,777.8 622.3,787.2 622.8,794.7 623.3,800.7 623.8,805.6 624.3,801.6 624.8,795.7 625.3,788.5 625.8,779.5 626.3,768.3 626.8,754.5 627.3,768.3 627.8,779.5 628.3,788.5 628.8,795.7 629.3,801.6 629.8,806.3 630.3,810.1 630.8,813.2 631.3,815.6 631.8,817.6 632.3,819.2 632.8,820.5 633.3,820.9 633.8,820.1 634.3,821.1 634.8,822 635.3,823 635.8,823 636.3,823 636.8,822.9 637.3,820.9 637.8,818.2 638.3,815.1 638.8,812 639.3,809.5 639.8,808.1 640,808 640.3,808.3 640.8,809.9 641.3,812.6 641.8,815.7 642.3,818.8 642.8,821.4 643.3,821.5 643.8,821.4 644.3,821.4 644.8,821.9 645.3,822.4 645.8,822.9 646.3,822.5 646.8,822 647.3,821.6 647.8,821.6 648.3,821.5 648.8,821.5 649.3,821.1 649.8,820.7 650.3,820.3 650.8,821.1 651.3,822 651.8,822.8 652.3,823 652.8,823.2 653.3,823.4 653.8,823.1 654.3,822.8 654.8,822.5 655.3,821.8 655.8,821 656.3,820.3 656.8,820.9 657.3,821.4 657.8,821.9 658.3,822.1 658.8,822.2 659.3,822.4 659.8,822.1 660.3,821.8 660.8,821.5 661.3,822.2 661.8,822.9 662.3,823.7 662.8,823.4 663.3,823.1 663.8,822.8 664.3,821.8 664.8,820.8 665.3,819.7 665.8,819.3 666.3,817.9 666.8,816.2 667.3,814.2 667.8,811.7 668.3,808.7 668.8,805.1 669.3,800.7 669.8,795.4 670.3,789 670.8,781.2 671.3,771.7 671.8,760.3 672.3,746.4 672.4,743.3 672.8,755 673.3,767.4 673.8,777.6 674.3,786 674.8,793 675.3,798.7 675.8,803.4 676.3,807.4 676.8,810.6 677.3,812.9 677.8,809.5 678.3,805.3 678.8,799.9 679.3,793.2 679.7,786.6 679.8,788.4 680.3,796.1 680.8,802.2 681.3,807.1 681.8,810.9 682.3,814 682.8,816.5 683.3,818.4 683.8,819.3 684.3,817.8 684.8,815.8 685.3,813.4 685.8,810.4 686.3,806.6 686.8,802 687.3,796.2 687.8,789.1 688,785.8 688.3,790.7 688.8,797.5 689.3,803 689.8,806.1 690,806 690.3,806.3 690.8,808.1 691.3,811.1 691.8,814.6 692.3,818 692.8,820.8 693.3,821.6 693.8,821.4 694.3,821.6 694.8,821.9 695.3,822.1 695.8,822.4 696.3,822.8 696.8,823.1 697.3,823 697.8,823 698.3,822.9 698.8,822.1 699.3,821.4 699.8,820.6 700.3,820.2 700.8,819.9 701.3,819.5 701.8,819.9 702.3,820.2 702.8,820.6 703.3,820.2 703.8,819.9 704.3,819.5 704.8,820.2 705.3,820.8 705.8,821.5 706.3,821.9 706.8,822.3 707.3,822.7 707.8,822.4 708.3,822 708.8,821.6 709.3,822.3 709.8,823 710.3,823.7 710.8,823.8 711.3,823.8 711.8,823.9 712.3,823.8 712.8,823.8 713.3,823.7 713.8,823 714.3,822.3 714.8,821.6 715.3,821.1 715.8,820.5 716.3,820 716.8,820.5 717.3,821.1 717.8,821.7 718.3,821.7 718.8,821.7 719.3,821.7 719.8,821.6 720.3,821.5 720.8,821.4 721.3,822.2 721.8,823 722.3,823.8 722.8,822.8 723.3,821.9 723.8,821 724.3,820.7 724.8,820.5 725.3,820.2 725.8,821.5 726.3,822.7 726.8,823.9 727.3,822.6 727.8,821.3 728.3,819.9 728.8,820.4 729.3,820.9 729.8,821.4 730.3,821.5 730.8,821.7 731.3,821.8 731.8,822.5 732.3,823.1 732.8,823.8 733.3,823 733.8,822.1 734.3,821.2 734.8,821.1 735.3,821.1 735.8,821 736.3,820.7 736.8,820.4 737.3,820.1 737.8,821.1 738.3,822.1 738.8,823.1 739.3,823 739.8,822.9 740.3,822.8 740.8,821.8 741.3,820.8 741.8,819.8 742.3,819.7 742.8,819.6 743.3,819.6 743.8,820.4 744.3,821.2 744.8,822.1 745.3,821.7 745.8,821.4 746.3,821 746.8,821.7 747.3,822.5 747.8,823.2 748.3,822.3 748.8,821.4 749.3,820.5 749.8,820.2 750.3,820 750.8,819.7 751.3,820.9 751.8,822 752.3,823.2 752.8,823 753.3,822.7 753.8,822.5 754.3,821.6 754.8,820.7 755.3,819.8 755.8,821 756.3,822.1 756.8,823.2 757.3,822 757.8,819.9 758.3,817.5 758.8,815.1 759.3,813.1 759.8,812.1 760,812 760.3,812.2 760.8,813.5 761.3,815.6 761.8,818 762.3,820.4 762.8,822.1 763.3,821.3 763.8,820.5 764.3,819.7 764.8,820 765.3,820.2 765.8,820.4 766.3,820.7 766.8,820.9 767.3,821.2 767.8,821.8 768.3,822.4 768.8,823 769.3,821.9 769.8,820.9 770.3,819.9 770.8,819.8 771.3,819.7 771.8,819.6 772.3,820.3 772.8,821 773.3,821.7 773.8,822.4 774.3,823.1 774.8,823.7 775.3,823.3 775.8,822.8 776.3,822.4 776.8,822 777.3,821.6 777.8,821.3 778.3,820.9 778.8,820.5 779.3,820.1 779.8,820 780.3,819.9 780.8,819.8 781.3,820.5 781.8,821.1 782.3,821.8 782.8,821.9 783.3,822 783.8,822.2 784.3,821.8 784.8,821.4 785.3,821.1 785.8,820.8 786.3,820.5 786.8,820.2 787.3,820.5 787.8,820.8 788.3,818.7 788.8,816.7 789.3,815 789.8,814.1 790,814 790.3,814.2 790.8,815.3 791.3,817 791.8,819.2 792.3,821.1 792.8,820.5 793.3,821.2 793.8,822 794.3,822.8 794.8,822.8 795.3,822.8 795.8,822.8 796.3,823 796.8,823.2 797.3,823.5 797.8,822.7 798.3,822 798.8,821.2 799.3,822.1 799.8,823 800.3,823.9 800.8,822.7 801.3,821.4 801.8,820.2 802.3,821 802.8,821.8 803.3,822.6 803.8,821.9 804.3,821.2 804.8,820.5 805.3,820.8 805.8,821.2 806.3,821.6 806.8,822.3 807.3,823 807.8,823.8 808.3,822.5 808.8,821.2 809.3,819.9 809.8,820.4 810.3,820.9 810.8,821.4 811.3,821.4 811.8,821.4 812.3,821.3 812.8,821 813.3,820.6 813.8,820.2 814.3,820.1 814.8,820 815.3,820 815.8,820.7 816.3,821.4 816.8,822.1 817.3,822 817.8,821.9 818.3,821.9 818.8,821.7 819.3,821.4 819.8,821.2 820.3,821.9 820.8,822.7 821.3,823.4 821.8,823.5 822.3,823.5 822.8,823.6 823.3,823.2 823.8,822.9 824.3,822.5 824.8,821.7 825.3,820.9 825.8,820.1 826.3,820.1 826.8,820 827.3,820 827.8,820 828.3,820 828.8,820 829.3,819.9 829.8,819.9 830.3,819.8 830.8,820.2 831.3,820.7 831.8,821.1 832.3,821.9 832.8,822.6 833.3,823.4 833.8,822.9 834.3,822.4 834.8,821.9 835.3,821.7 835.8,821.5 836.3,821.3 836.8,821.6 837.3,821.8 837.8,822.1 838.3,822.1 838.8,822 839.3,821.9 839.8,821.8 840.3,821.8 840.8,821.7 841.3,821.6 841.8,821.4 842.3,821.3 842.8,822.1 843.3,822.9 843.8,823.6 844.3,823.2 844.8,822.8 845.3,822.4 845.8,822.9 846.3,823.4 846.8,823.9 847.3,822.8 847.8,821.7 848.3,820.6 848.8,821.2 849.3,821.8 849.8,822.5 850.3,821.9 850.8,821.2 851.3,820.6 851.8,821.5 852.3,822.4 852.8,823.3 853.3,823 853.8,822.7 854.3,822.3 854.8,822.9 855.3,823.4 855.8,824 856.3,822.9 856.8,821.8 857.3,820.6 857.8,821.2 858.3,821.8 858.8,822.4 859.3,822.6 859.8,822.8 860.3,823.1 860.8,822.4 861.3,821.6 861.8,820.9 862.3,821 862.8,821.2 863.3,821.3 863.8,821.9 864.3,822.5 864.8,823.1 865.3,823 865.8,822.9 866.3,822.8 866.8,821.8 867.3,820.9 867.8,819.9 868.3,817.9 868.8,812.9 869.3,806.3 869.8,798.4 870.3,789.9 870.8,782.2 871.3,776.4 871.8,773.9 871.9,773.8 872.3,775 872.8,779.6 873.3,786.7 873.8,795 874.3,803.3 874.8,810.5 875.3,816.1 875.8,820.1 876.3,820.4 876.8,820.4 877.3,821.2 877.8,821.9 878.3,822.7 878.8,821.8 879.3,821 879.8,820.1 880.3,821.2 880.8,822.2 881.3,823.3 881.8,822.3 882.3,821.3 882.8,820.3 883.3,820.3 883.8,820.3 884.3,820.3 884.8,820.7 885.3,821 885.8,821.4 886.3,821.9 886.8,822.3 887.3,822.7 887.8,822 888.3,821.4 888.8,820.7 889.3,821.3 889.8,822 890.3,822.6 890.8,822.4 891.3,822.3 891.8,822.1 892.3,821.7 892.8,821.3 893.3,820.9 893.8,821 894.3,821 894.8,821.1 895.3,821.4 895.8,821.7 896.3,821.9 896.8,821.3 897.3,820.7 897.8,820.1 898.3,821.2 898.8,822.4 899.3,823.5 899.8,822.6 900.3,821.6 900.8,820.7 901.3,820.9 901.8,821.2 902.3,821.4 902.8,821.7 903.3,821.9 903.8,822.2 904.3,822.7 904.8,823.2 905.3,823.7 905.8,823.5 906.3,823.4 906.8,823.2 907.3,823.1 907.8,822.9 908.3,822.8 908.8,823.2 909.3,823.6 909.8,824 910.3,822.7 910.8,821.4 911.3,820 911.8,820.3 912.3,820.6 912.8,820.9 913.3,821.1 913.8,821.2 914.3,821.3 914.8,821.7 915.3,822.1 915.8,822.5 916.3,822.4 916.8,822.3 917.3,822.1 917.8,822.5 918.3,822.9 918.8,823.3 919.3,822.6 919.8,821.9" fill="none" stroke="#4c0a22" stroke-width="1.7" stroke-linejoin="round"/>
<polyline points="68.3,812.7 68.8,811.2 69.3,809.7 69.8,808 70.3,805.9 70.8,803.6 71.3,800.9 71.8,803.4 72.3,805.5 72.8,807.4 73.3,808.5 73.8,809.2 74.3,809.5 74.8,809.5 75.3,810.2 75.8,811.5 76.3,812.7 76.8,813.6 77.3,814.2 77.8,810.7 78.3,806.9 78.8,805.2 79.3,806.3 79.8,807.6 80.3,809.2 80.8,812.5 81.3,817.6 81.8,826.6 82.3,820.8 82.8,815 83.3,811.7 83.8,810.4 84.3,809.7 84.8,809.1 85.3,805.4 85.8,805.6 86.3,805.6 86.8,808.3 87.3,811 87.8,813.5 88.3,813.5 88.8,813.5 89.3,813.4 89.8,813.8 90.3,814 90.8,814.4 91.3,813.3 91.8,812 92.3,810.7 92.8,809.6 93.3,808.4 93.8,807.2 94.3,807.7 94.8,808.3 95.3,808.7 95.8,810.5 96.3,812.6 96.8,815.1 97.3,814.6 97.8,814 98.3,813.2 98.8,814 99.3,814.7 99.8,815 100.3,814.2 100.8,814.8 101.3,815.1 101.8,814.3 102.3,813.3 102.8,812 103.3,812.9 103.8,813.7 104.3,814.3 104.8,813.1 105.3,813.2 105.8,813.5 106.3,814.1 106.8,814.5 107.3,814.9 107.8,814.3 108.3,813.9 108.8,813.5 109.3,812.1 109.8,810.8 110.3,809.4 110.8,811.4 111.3,813.4 111.8,815.4 112.3,814.3 112.8,813.1 113.3,811.9 113.8,812.5 114.3,813 114.8,813.6 115.3,814.2 115.8,814.7 116.3,815.2 116.8,815.3 117.3,815.3 117.8,815.3 118.3,813.8 118.8,812.2 119.3,810.6 119.8,810.3 120.3,809.9 120.8,809.7 121.3,810.3 121.8,810.8 122.3,811.3 122.8,811 123.3,810.6 123.8,810 124.3,810.4 124.8,810.8 125.3,811 125.8,811.9 126.3,813.2 126.8,815 127.3,815.6 127.8,816 128.3,816.4 128.8,815.4 129.3,814.2 129.8,813 130.3,812.6 130.8,812 131.3,811 131.8,810.7 132.3,811 132.8,811 133.3,810.6 133.8,809.8 134.3,808.7 134.8,809.2 135.3,810.3 135.8,811.1 136.3,810.9 136.8,810.6 137.3,810.2 137.8,811 138.3,811.8 138.8,812.6 139.3,812.3 139.8,812.3 140.3,812.6 140.8,812.4 141.3,812.3 141.8,812 142.3,813 142.8,814 143.3,814.9 143.8,814 144.3,813.2 144.8,812.3 145.3,812.1 145.8,811.8 146.3,811.5 146.8,812.4 147.3,813.2 147.8,813.9 148.3,813.9 148.8,814.8 149.3,815.7 149.8,815.9 150.3,816 150.8,816 151.3,815.4 151.8,814.6 152.3,813.7 152.8,813.5 153.3,812.9 153.8,812 154.3,812.1 154.8,813.4 155.3,814.4 155.8,815.1 156.3,815.7 156.8,816.2 157.3,815.4 157.8,814.5 158.3,813.6 158.8,813.7 159.3,813.9 159.8,814 160.3,813.3 160.8,812.5 161.3,811.6 161.8,811.3 162.3,810.9 162.8,810.7 163.3,813.7 163.8,816.6 164.3,819.3 164.8,818.5 165.3,817.5 165.8,816.6 166.3,815.8 166.8,814.8 167.3,813.9 167.8,814.6 168.3,815.1 168.8,815.7 169.3,815.4 169.8,815.2 170.3,814.8 170.8,815.6 171.3,816.5 171.8,817.6 172.3,817.5 172.8,817.2 173.3,817 173.8,815.7 174.3,814.4 174.8,813.1 175.3,813.4 175.8,813.6 176.3,814.4 176.8,814.1 177.3,813.8 177.8,813.3 178.3,813.3 178.8,813.3 179.3,808.4 179.8,794.4 180.3,774 180.8,747.6 181.3,717.6 181.8,688.7 182.3,666.7 182.8,656.7 182.9,656.4 183.3,661.1 183.8,678.8 184.3,705.6 184.8,735.8 185.3,764 185.8,787 186.3,803.5 186.8,812.8 187.3,814.4 187.8,815.9 188.3,817.3 188.8,817.4 189.3,817.4 189.8,817.5 190.3,817.5 190.8,817.4 191.3,817.3 191.8,816.5 192.3,815.7 192.8,809 193.3,794.9 193.8,774 194.3,746.2 194.8,713.8 195.3,681.4 195.8,655.3 196.3,641.3 196.5,640 196.8,642.9 197.3,659.7 197.8,687.6 198.3,720.5 198.8,752.2 199.3,778.8 199.8,798.3 200.3,811 200.8,818.6 201.3,819.8 201.8,819.7 202.3,819 202.8,818.6 203.3,819 203.8,819.7 204.3,820.3 204.8,820.7 205.3,819.8 205.8,818.8 206.3,817.7 206.8,817.7 207.3,818 207.8,818.5 208.3,817.1 208.8,815.7 209.3,814.3 209.8,816.2 210.3,818 210.8,819.8 211.3,819.9 211.8,820.1 212.3,820.3 212.8,818.5 213.3,816.7 213.8,814.8 214.3,814.7 214.8,814.5 215.3,814.3 215.8,815 216.3,816 216.8,817.2 217.3,817.3 217.8,817.4 218.3,817.4 218.8,817.9 219.3,818.4 219.8,818.9 220.3,818.7 220.8,818.9 221.3,818.9 221.8,819.6 222.3,820.9 222.8,823.3 223.3,828.7 223.8,832.8 224.3,826.2 224.8,821.2 225.3,817.9 225.8,815.4 226.3,815.4 226.8,815.5 227.3,815.4 227.8,815.5 228.3,815.6 228.8,815.5 229.3,817.1 229.8,818.7 230.3,820.3 230.8,819.3 231.3,818.3 231.8,817.3 232.3,818.5 232.8,819.8 233.3,821 233.8,819.6 234.3,818.2 234.8,816.8 235.3,818.2 235.8,819.6 236.3,821 236.8,819.8 237.3,818.7 237.8,817.5 238.3,818.3 238.8,819.4 239.3,820.4 239.8,818.7 240.3,817 240.8,815.3 241.3,815.4 241.8,815.5 242.3,815.5 242.8,816.4 243.3,817.1 243.8,818.4 244.3,817.4 244.8,816.2 245.3,814.9 245.8,814.7 246.3,814.9 246.8,815.7 247.3,817.3 247.8,818.8 248.3,820.1 248.8,818.5 249.3,816.8 249.8,814.9 250.3,814.6 250.8,815.1 251.3,815.5 251.8,817.1 252.3,818.6 252.8,819.9 253.3,818.8 253.8,817.7 254.3,816.3 254.8,816.7 255.3,818.1 255.8,819.3 256.3,820.1 256.8,820.8 257.3,821.5 257.8,820.5 258.3,819.5 258.8,818.4 259.3,818.9 259.8,819.8 260.3,820.7 260.8,819.4 261.3,818.2 261.8,816.9 262.3,817.1 262.8,817.3 263.3,817.4 263.8,818.1 264.3,818.7 264.8,819 265.3,818.5 265.8,818.9 266.3,819 266.8,819.9 267.3,820.4 267.8,820.8 268.3,819.8 268.8,819 269.3,819 269.8,818.9 270.3,818.6 270.8,818.3 271.3,817.9 271.8,817.5 272.3,817.1 272.8,816.9 273.3,816.6 273.8,816.3 274.3,816.9 274.8,817.7 275.3,818.4 275.8,818.8 276.3,819.1 276.8,819.5 277.3,818.6 277.8,817.7 278.3,816.7 278.8,817.1 279.3,817.3 279.8,817.3 280.3,817.1 280.8,817.1 281.3,817 281.8,817.9 282.3,818.5 282.8,818.9 283.3,817.2 283.8,816.4 284.3,816 284.8,817.8 285.3,819.3 285.8,820.8 286.3,820.4 286.8,819.8 287.3,819.2 287.8,819 288.3,818.6 288.8,819.2 289.3,819.6 289.8,819.7 290.3,819.7 290.8,819.4 291.3,819.1 291.8,818.5 292.3,817.8 292.8,817.1 293.3,816.4 293.8,818.3 294.3,820.1 294.8,821.7 295.3,820.5 295.8,819.3 296.3,817.9 296.8,818.8 297.3,819.8 297.8,820.6 298.3,819.1 298.8,817.3 299.3,816.1 299.8,817 300.3,817.6 300.8,818 301.3,817.7 301.8,817.3 302.3,816.8 302.8,816.6 303.3,816.7 303.8,816.8 304.3,817.5 304.8,818.2 305.3,818.8 305.8,819.5 306.3,820.3 306.8,821 307.3,820.1 307.8,819.3 308.3,818.4 308.8,818.8 309.3,819.4 309.8,819.9 310.3,820.3 310.8,820.6 311.3,820.9 311.8,821.2 312.3,821.4 312.8,821.5 313.3,819.9 313.8,818.2 314.3,817.1 314.8,818.1 315.3,819.1 315.8,820 316.3,820.5 316.8,820.9 317.3,821.2 317.8,820.8 318.3,820.9 318.8,821 319.3,821.3 319.8,821.5 320.3,821.7 320.8,821.9 321.3,822 321.8,822.1 322.3,820.7 322.8,819.3 323.3,818.2 323.8,818.8 324.3,819.4 324.8,820 325.3,820.4 325.8,820.6 326.3,820.9 326.8,820.8 327.3,820.6 327.8,820.6 328.3,820.8 328.8,821 329.3,821.1 329.8,820.7 330.3,820.2 330.8,819.7 331.3,819.4 331.8,819.1 332.3,818.7 332.8,819.9 333.3,821 333.8,822 334.3,821.5 334.8,820.9 335.3,820.2 335.8,819.2 336.3,817.9 336.8,817.2 337.3,817.9 337.8,818.3 338.3,818.4 338.8,818.3 339.3,818.3 339.8,819.2 340.3,819.7 340.8,820.1 341.3,820.5 341.8,820.7 342.3,820.9 342.8,820.9 343.3,821.2 343.8,821.5 344.3,821.8 344.8,821.6 345.3,821.4 345.8,821 346.3,821.2 346.8,821.4 347.3,821.7 347.8,822 348.3,822.3 348.8,822.5 349.3,822.4 349.8,822.3 350.3,822.2 350.8,820.7 351.3,819.1 351.8,817.6 352.3,817.6 352.8,817.5 353.3,817.7 353.8,819.3 354.3,820.9 354.8,822.4 355.3,821.6 355.8,820.8 356.3,820.7 356.8,821.2 357.3,821.7 357.8,822 358.3,821.4 358.8,820.7 359.3,820.2 359.8,820.1 360.3,819.9 360.8,819.6 361.3,820.1 361.8,820.5 362.3,820.7 362.8,819.7 363.3,819.9 363.8,820 364.3,820.7 364.8,821.3 365.3,821.9 365.8,821.4 366.3,820.9 366.8,820.3 367.3,820.9 367.8,821.4 368.3,821.9 368.8,821.7 369.3,821.5 369.8,821.3 370.3,821.1 370.8,820.8 371.3,820.6 371.8,820.7 372.3,821.1 372.8,821.4 373.3,821.1 373.8,820.7 374.3,820.1 374.8,819.3 375.3,819.1 375.8,818.8 376.3,819.6 376.8,820.1 377.3,820.6 377.8,819.7 378.3,818.8 378.8,817.7 379.3,819 379.8,820.5 380.3,821.8 380.8,820.7 381.3,819.3 381.8,817.7 382.3,815.5 382.8,812.8 383.3,809.5 383.8,805.2 384.3,799.9 384.8,793.2 385,790 385.3,794.6 385.8,801 386.3,806.2 386.8,810.2 387.3,813.4 387.8,816 388.3,818 388.8,819.6 389.3,819.4 389.8,819.6 390.3,819.8 390.8,820 391.3,820.3 391.8,820.5 392.3,820.6 392.8,820.1 393.3,820.1 393.8,820 394.3,821 394.8,821.9 395.3,822.7 395.8,822.7 396.3,822.5 396.8,822.5 397.3,822.4 397.8,822.3 398.3,822.1 398.8,821 399.3,819.9 399.8,818.7 400.3,820.1 400.8,821.4 401.3,822.6 401.8,821.9 402.3,821 402.8,821 403.3,820.6 403.8,820 404.3,819.3 404.8,819.3 405.3,819.1 405.8,818.8 406.3,819.5 406.8,820.3 407.3,821.1 407.8,821 408.3,820.8 408.8,820.5 409.3,819.7 409.8,818.7 410.3,818.2 410.8,819.5 411.3,820.7 411.8,821.7 412.3,822.1 412.8,822.4 413.3,822.7 413.8,822.4 414.3,822.1 414.8,821.8 415.3,821.1 415.8,820.5 416.3,819.8 416.8,820.4 417.3,821 417.8,821.5 418.3,821.2 418.8,820.9 419.3,820.5 419.8,821.3 420.3,822.1 420.8,822.9 421.3,821.7 421.8,820.6 422.3,819.4 422.8,819.1 423.3,818.9 423.8,818.7 424.3,818.8 424.8,818.9 425.3,818.9 425.8,820 426.3,821 426.8,822.2 427.3,821.1 427.8,819.9 428.3,818.8 428.8,818.9 429.3,819.1 429.8,819.2 430.3,820.2 430.8,821.2 431.3,822.3 431.8,822 432.3,821.7 432.8,821.4 433.3,821.8 433.8,822.2 434.3,822.6 434.8,822.3 435.3,822 435.8,821.6 436.3,821 436.8,820.4 437.3,819.8 437.8,820.9 438.3,821.9 438.8,822.9 439.3,822.1 439.8,821.2 440.3,820.3 440.8,820.1 441.3,819.9 441.8,819.7 442.3,820.9 442.8,822 443.3,823.1 443.8,822.9 444.3,822.8 444.8,822.6 445.3,821.7 445.8,820.8 446.3,819.8 446.8,819.8 447.3,819.7 447.8,819.7 448.3,820.5 448.8,821.3 449.3,822.1 449.8,821.2 450.3,820.3 450.8,819.4 451.3,819.7 451.8,820.1 452.3,820.5 452.8,821.4 453.3,822.4 453.8,823.3 454.3,822.3 454.8,821.2 455.3,820.1 455.8,820.9 456.3,821.8 456.8,822.6 457.3,822.4 457.8,822.1 458.3,821.9 458.8,821.2 459.3,820.5 459.8,819.7 460.3,820.9 460.8,822.2 461.3,823.4 461.8,822.1 462.3,820.9 462.8,819.7 463.3,820.4 463.8,821.1 464.3,821.8 464.8,821.5 465.3,821.1 465.8,820.7 466.3,821.2 466.8,821.7 467.3,822.1 467.8,821.7 468.3,821.3 468.8,820.9 469.3,821.4 469.8,821.9 470.3,822.4 470.8,821.9 471.3,821.4 471.8,820.8 472.3,821.1 472.8,821.3 473.3,821.5 473.8,821.2 474.3,821 474.8,820.7 475.3,821.6 475.8,822.2 476.3,820.6 476.8,818.4 477.3,815.3 477.8,811 478.3,804.9 478.8,796.2 479.3,784 479.4,781 479.8,791.8 480.3,801.8 480.8,808.8 481.3,813.8 481.8,817.3 482.3,819.8 482.8,821.1 483.3,820.8 483.8,820.5 484.3,820.9 484.8,821.2 485.3,821.6 485.8,822 486.3,822.5 486.8,822.9 487.3,821.7 487.8,820.5 488.3,819.2 488.8,819.6 489.3,820 489.8,820.3 490.3,820 490.8,819.6 491.3,819.2 491.8,819.7 492.3,820.1 492.8,820.6 493.3,820.9 493.8,821.3 494.3,821.7 494.8,821.7 495.3,821.8 495.8,821.8 496.3,821.2 496.8,820.6 497.3,820.1 497.8,820 498.3,819.9 498.8,819.9 499.3,820 499.8,820.1 500.3,820.1 500.8,821 501.3,821.8 501.8,822.6 502.3,822.5 502.8,822.5 503.3,822.4 503.8,822.2 504.3,822 504.8,821.9 505.3,822.4 505.8,822.9 506.3,823.4 506.8,823.2 507.3,822.9 507.8,822.7 508.3,822.5 508.8,822.2 509.3,822 509.8,822.3 510.3,822.6 510.8,822.9 511.3,822.8 511.8,822.7 512.3,822.6 512.8,822.1 513.3,821.6 513.8,821.2 514.3,821 514.8,820.8 515.3,820.6 515.8,821.1 516.3,821.6 516.8,822.2 517.3,821.4 517.8,820.7 518.3,819.9 518.8,821.1 519.3,822.3 519.8,823.5 520.3,823.5 520.8,823.4 521.3,823.4 521.8,823.2 522.3,823 522.8,822.2 523.3,821.1 523.8,819.6 524.3,817.7 524.8,815.2 525.3,812 525.8,807.8 526.3,802.3 526.8,795.1 527.3,785.7 527.8,773.5 528.3,757.6 528.4,753.9 528.8,767.7 529.3,781.2 529.8,791.6 530.3,799.6 530.8,805.7 531.3,810.4 531.8,814 532.3,816.8 532.8,818.9 533.3,820.5 533.8,821.7 534.3,820.7 534.8,819.7 535.3,819.6 535.8,819.5 536.3,819.3 536.8,819.5 537.3,819.6 537.8,819.7 538.3,820.4 538.8,821.1 539.3,821.7 539.8,821.5 540.3,821.3 540.8,821.1 541.3,821.6 541.8,822 542.3,822.5 542.8,821.7 543.3,820.9 543.8,820.1 544.3,820.7 544.8,821.4 545.3,822 545.8,821.7 546.3,821.5 546.8,821.2 547.3,821.2 547.8,821.2 548.3,821.1 548.8,820.6 549.3,820.2 549.8,819.7 550.3,820.4 550.8,820.8 551.3,818.8 551.8,815.8 552.3,811.7 552.8,805.8 553.3,797.6 553.8,785.9 554,780 554.3,788.6 554.8,799.5 555.3,807.2 555.8,812.6 556.3,816.5 556.8,819.2 557.3,821.2 557.8,822.6 558.3,822.7 558.8,822.3 559.3,822.7 559.8,823.1 560.3,823.5 560.8,822.3 561.3,821 561.8,819.8 562.3,820.4 562.8,821 563.3,821.6 563.8,821.1 564.3,820.6 564.8,820.1 565.3,821.2 565.8,822.3 566.3,823.4 566.8,822.9 567.3,822.3 567.8,821.8 568.3,821.3 568.8,820.8 569.3,820.3 569.8,821.4 570.3,822.5 570.8,823.7 571.3,822.6 571.8,821.5 572.3,820.4 572.8,820.2 573.3,819.9 573.8,819.7 574.3,819.8 574.8,820 575.3,820.1 575.8,821.1 576.3,822.1 576.8,823.1 577.3,822.6 577.8,822.1 578.3,821.6 578.8,821.6 579.3,821.6 579.8,821.6 580.3,821.6 580.8,821.6 581.3,821.7 581.8,821.2 582.3,820.7 582.8,820.2 583.3,820.9 583.8,821.6 584.3,822.4 584.8,822.6 585.3,822.7 585.8,822.9 586.3,821.9 586.8,820.8 587.3,819.8 587.8,820.3 588.3,820.8 588.8,821.4 589.3,821.2 589.8,821.1 590.3,820.9 590.8,821.1 591.3,821.3 591.8,821.4 592.3,821.3 592.8,821.3 593.3,821.2 593.8,821.9 594.3,822.5 594.8,823.2 595.3,823.2 595.8,823.2 596.3,823.2 596.8,823.2 597.3,823.2 597.8,823.1 598.3,822.7 598.8,822.3 599.3,821.8 599.8,822.4 600.3,822.9 600.8,823.5 601.3,822.4 601.8,821.3 602.3,820.2 602.8,821.1 603.3,822.1 603.8,823.1 604.3,822.2 604.8,821.2 605.3,820.2 605.8,820.4 606.3,820.7 606.8,820.9 607.3,821.6 607.8,822.3 608.3,823 608.8,822.8 609.3,822.7 609.8,822.6 610.3,822.1 610.8,821.6 611.3,821.1 611.8,820.6 612.3,820.1 612.8,819.6 613.3,820.5 613.8,821.3 614.3,822.2 614.8,822.4 615.3,822.6 615.8,822.7 616.3,822.8 616.8,822.9 617.3,822.9 617.8,822.1 618.3,821.3 618.8,820.4 619.3,821.3 619.8,822.3 620.3,823.2 620.8,823.3 621.3,823.4 621.8,823.5 622.3,822.6 622.8,821.8 623.3,821 623.8,820.9 624.3,820.8 624.8,820.7 625.3,821.4 625.8,822.2 626.3,823 626.8,822.5 627.3,822.1 627.8,821.7 628.3,822.4 628.8,823.1 629.3,823.7 629.8,823.2 630.3,822.7 630.8,822.1 631.3,822.6 631.8,823.1 632.3,823.6 632.8,822.9 633.3,822.1 633.8,821.4 634.3,821.6 634.8,821.8 635.3,822.1 635.8,821.9 636.3,821.7 636.8,821.5 637.3,821 637.8,820.5 638.3,820 638.8,820.7 639.3,821.4 639.8,822 640.3,822.3 640.8,822.6 641.3,822.8 641.8,823 642.3,823.3 642.8,823.5 643.3,822.8 643.8,822.2 644.3,821.5 644.8,821.4 645.3,821.3 645.8,821.2 646.3,821 646.8,820.8 647.3,820.6 647.8,821 648.3,821.5 648.8,822 649.3,822.1 649.8,822.1 650.3,822.2 650.8,821.9 651.3,821.7 651.8,821.5 652.3,821.2 652.8,821 653.3,820.8 653.8,821.4 654.3,822 654.8,822.5 655.3,822.6 655.8,822.6 656.3,822.6 656.8,821.8 657.3,821 657.8,820.3 658.3,821.2 658.8,822.1 659.3,823.1 659.8,823.1 660.3,823.1 660.8,823 661.3,822.7 661.8,822.3 662.3,821.9 662.8,821.8 663.3,821.7 663.8,821.6 664.3,821.9 664.8,822.3 665.3,822.6 665.8,821.9 666.3,821.2 666.8,819.3 667.3,816.7 667.8,813.7 668.3,810.8 668.8,808.1 669.3,806.1 669.8,805.1 670,805 670.3,805.2 670.8,806.4 671.3,808.6 671.8,811.4 672.3,814.3 672.8,817.2 673.3,819.7 673.8,821.8 674.3,823.3 674.8,822.6 675.3,821.6 675.8,820.5 676.3,820.6 676.8,820.7 677.3,820.7 677.8,821.6 678.3,822.4 678.8,823.3 679.3,823.3 679.8,823.4 680.3,823.4 680.8,823.4 681.3,823.4 681.8,823.4 682.3,822.8 682.8,822.3 683.3,821.7 683.8,822.2 684.3,822.7 684.8,823.2 685.3,822.3 685.8,821.5 686.3,820.6 686.8,821.3 687.3,822 687.8,822.7 688.3,822.2 688.8,821.7 689.3,821.2 689.8,821 690.3,820.9 690.8,820.7 691.3,821.4 691.8,822.1 692.3,822.8 692.8,823.1 693.3,823.4 693.8,823.7 694.3,823.6 694.8,823.5 695.3,823.4 695.8,823 696.3,822.6 696.8,822.2 697.3,821.6 697.8,821 698.3,820.3 698.8,820.8 699.3,821.3 699.8,821.7 700.3,821.9 700.8,822.2 701.3,822.4 701.8,822.2 702.3,822 702.8,821.7 703.3,821.5 703.8,821.3 704.3,821.1 704.8,821.7 705.3,822.3 705.8,822.8 706.3,822 706.8,821.2 707.3,820.4 707.8,820.3 708.3,820.3 708.8,820.3 709.3,820.7 709.8,821.1 710.3,821.5 710.8,822 711.3,822.5 711.8,823.1 712.3,822.2 712.8,821.4 713.3,820.5 713.8,821.3 714.3,822.1 714.8,822.9 715.3,822.4 715.8,821.9 716.3,821.4 716.8,821.3 717.3,821.1 717.8,820.9 718.3,821.5 718.8,822.1 719.3,822.7 719.8,822.9 720.3,823.2 720.8,823.4 721.3,823 721.8,822.6 722.3,822.2 722.8,822.6 723.3,823 723.8,823.4 724.3,822.3 724.8,821.2 725.3,820.1 725.8,820.3 726.3,820.4 726.8,820.6 727.3,821 727.8,821.3 728.3,821.2 728.8,818.8 729.3,815.8 729.8,812.3 730.3,808.5 730.8,805 731.3,802.2 731.8,800.4 732.2,799.9 732.3,799.9 732.8,800.9 733.3,803.2 733.8,806.4 734.3,810 734.8,813.7 735.3,817 735.8,819.8 736.3,821.3 736.8,822.3 737.3,823.3 737.8,823 738.3,822.8 738.8,822.5 739.3,822 739.8,821.5 740.3,821 740.8,820.8 741.3,820.7 741.8,820.6 742.3,821.4 742.8,822.3 743.3,823.2 743.8,822.5 744.3,821.8 744.8,821.1 745.3,820.8 745.8,820.5 746.3,820.1 746.8,820.7 747.3,821.2 747.8,821.8 748.3,821.3 748.8,820.7 749.3,820.2 749.8,821.3 750.3,822.4 750.8,823.5 751.3,822.7 751.8,821.8 752.3,821 752.8,820.7 753.3,820.4 753.8,820.1 754.3,820.4 754.8,820.6 755.3,820.8 755.8,820.5 756.3,820.2 756.8,819.9 757.3,820.4 757.8,820.9 758.3,821.4 758.8,821.5 759.3,821.7 759.8,821.9 760.3,821.5 760.8,821.2 761.3,820.9 761.8,821.3 762.3,821.7 762.8,822.1 763.3,822.5 763.8,822.9 764.3,823.4 764.8,822.9 765.3,822.4 765.8,821.9 766.3,822 766.8,822.1 767.3,822.3 767.8,822 768.3,821.7 768.8,821.3 769.3,821 769.8,820.7 770.3,820.3 770.8,820.5 771.3,820.6 771.8,820.7 772.3,820.9 772.8,821 773.3,821.1 773.8,821.6 774.3,822 774.8,822.5 775.3,821.7 775.8,820.9 776.3,820.1 776.8,821.2 777.3,822.3 777.8,823.4 778.3,823.2 778.8,822.9 779.3,822.6 779.8,822.9 780.3,823.2 780.8,823.5 781.3,823.1 781.8,822.7 782.3,822.3 782.8,822.2 783.3,822.1 783.8,821.9 784.3,821.2 784.8,820.5 785.3,819.8 785.8,820.2 786.3,820.5 786.8,820.9 787.3,821.5 787.8,822.1 788.3,822.7 788.8,822.6 789.3,822.6 789.8,822.5 790.3,822.4 790.8,822.3 791.3,822.2 791.8,821.5 792.3,820.9 792.8,820.2 793.3,820.8 793.8,821.4 794.3,822 794.8,822.3 795.3,822.6 795.8,822.8 796.3,822.7 796.8,822.5 797.3,822.3 797.8,821.9 798.3,821.6 798.8,821.3 799.3,820.9 799.8,820.5 800.3,820.1 800.8,820.9 801.3,821.7 801.8,822.5 802.3,821.8 802.8,821.1 803.3,820.4 803.8,821.2 804.3,822 804.8,822.7 805.3,822.1 805.8,821.5 806.3,820.9 806.8,821.4 807.3,821.9 807.8,822.3 808.3,822.1 808.8,821.8 809.3,821.5 809.8,821.2 810.3,820.9 810.8,820.6 811.3,821.6 811.8,822.6 812.3,823.6 812.8,823.6 813.3,823.7 813.8,823.7 814.3,823.5 814.8,823.4 815.3,823.2 815.8,822.6 816.3,821.9 816.8,821.3 817.3,821.3 817.8,821.2 818.3,821.2 818.8,820.8 819.3,820.5 819.8,820.2 820.3,820.7 820.8,821.2 821.3,821.7 821.8,821.4 822.3,821.2 822.8,820.9 823.3,820.6 823.8,820.4 824.3,820.1 824.8,821.3 825.3,822.5 825.8,823.6 826.3,823.1 826.8,822.5 827.3,821.9 827.8,821.9 828.3,821.8 828.8,821.7 829.3,821.5 829.8,821.2 830.3,821 830.8,821.5 831.3,822 831.8,822.5 832.3,821.8 832.8,821.1 833.3,820.4 833.8,821 834.3,821.6 834.8,822.2 835.3,822.7 835.8,823.1 836.3,823.6 836.8,823.6 837.3,823.7 837.8,823.7 838.3,823.2 838.8,822.7 839.3,822.3 839.8,822.7 840.3,823.1 840.8,823.5 841.3,822.7 841.8,821.8 842.3,821 842.8,820.7 843.3,820.5 843.8,820.3 844.3,821.5 844.8,822.7 845.3,823.8 845.8,823 846.3,822.2 846.8,821.4 847.3,820.9 847.8,820.4 848.3,819.9 848.8,820.7 849.3,821.6 849.8,822.4 850.3,822.6 850.8,822.8 851.3,823 851.8,822.7 852.3,822.4 852.8,822.1 853.3,821.4 853.8,820.7 854.3,820 854.8,821.3 855.3,822.5 855.8,823.8 856.3,823.8 856.8,823.8 857.3,823.9 857.8,823.4 858.3,823 858.8,822.5 859.3,822.8 859.8,823.1 860.3,823.4 860.8,823 861.3,822.7 861.8,822.3 862.3,821.9 862.8,821.5 863.3,821.1 863.8,820.7 864.3,820.3 864.8,819.8 865.3,820.1 865.8,820.4 866.3,820.7 866.8,821.2 867.3,820.2 867.8,818.2 868.3,815.9 868.8,813.4 869.3,810.9 869.8,808.6 870.3,806.7 870.8,805.4 871.3,804.8 871.4,804.8 871.8,805.1 872.3,806.1 872.8,807.8 873.3,810 873.8,812.4 874.3,814.9 874.8,817.3 875.3,819.4 875.8,821.2 876.3,822 876.8,821.2 877.3,821.1 877.8,821.1 878.3,821.1 878.8,821.4 879.3,821.8 879.8,822.2 880.3,821.4 880.8,820.6 881.3,819.9 881.8,820.5 882.3,821.2 882.8,821.8 883.3,822 883.8,822.3 884.3,822.5 884.8,822.9 885.3,823.3 885.8,823.7 886.3,823.5 886.8,823.3 887.3,823.1 887.8,822.7 888.3,822.2 888.8,821.7 889.3,821.8 889.8,821.9 890.3,822 890.8,822.2 891.3,822.4 891.8,822.6 892.3,822.4 892.8,822.1 893.3,821.9 893.8,821.7 894.3,821.6 894.8,821.4 895.3,821.7 895.8,822.1 896.3,822.4 896.8,822.1 897.3,821.7 897.8,821.4 898.3,821.5 898.8,821.7 899.3,821.9 899.8,821.6 900.3,821.2 900.8,820.9 901.3,820.9 901.8,820.8 902.3,820.8 902.8,821.5 903.3,822.2 903.8,822.9 904.3,822.9 904.8,822.9 905.3,822.9 905.8,822.7 906.3,822.5 906.8,822.2 907.3,821.6 907.8,821 908.3,820.3 908.8,820.2 909.3,820.1 909.8,820.1 910.3,820.8 910.8,821.5 911.3,822.2 911.8,822.3 912.3,822.5 912.8,822.7 913.3,822.7 913.8,822.6 914.3,822.6 914.8,822.6 915.3,822.6 915.8,822.7 916.3,822.1 916.8,821.5 917.3,820.9 917.8,821 918.3,821.1 918.8,821.1 919.3,821.2 919.8,821.3" fill="none" stroke="#2c4cd0" stroke-width="1.5" stroke-linejoin="round"/>
<polyline points="68.3,815.3 68.8,812.5 69.3,809.6 69.8,806.7 70.3,806.1 70.8,806.3 71.3,806.3 71.8,808.5 72.3,810.3 72.8,812.1 73.3,812.1 73.8,811.9 74.3,811.3 74.8,809.8 75.3,810.6 75.8,812.6 76.3,814.1 76.8,816.1 77.3,816.7 77.8,816.6 78.3,816.9 78.8,818.1 79.3,822.1 79.8,825.4 80.3,819.8 80.8,814.8 81.3,811.3 81.8,808.4 82.3,810.7 82.8,813.1 83.3,814.4 83.8,813.6 84.3,813.6 84.8,814.5 85.3,812.2 85.8,809.8 86.3,807.3 86.8,807.5 87.3,807.5 87.8,807.5 88.3,810.3 88.8,813.1 89.3,816.2 89.8,815.6 90.3,815 90.8,814.2 91.3,811.7 91.8,809.2 92.3,806.5 92.8,808.9 93.3,811.3 93.8,813.6 94.3,812.6 94.8,811.5 95.3,810.2 95.8,809.2 96.3,807.7 96.8,806 97.3,808.1 97.8,809.4 98.3,810.3 98.8,813.7 99.3,815.9 99.8,818.2 100.3,816.5 100.8,815.5 101.3,816.1 101.8,822.1 102.3,815.5 102.8,812.4 103.3,812.4 103.8,813.1 104.3,814.2 104.8,814.4 105.3,814.8 105.8,815.3 106.3,814.3 106.8,813.7 107.3,813.8 107.8,816 108.3,821.4 108.8,814 109.3,811.3 109.8,810.2 110.3,809.9 110.8,812.1 111.3,814.4 111.8,815.3 112.3,814.1 112.8,812.7 113.3,811.1 113.8,812.1 114.3,812.9 114.8,813.6 115.3,811.7 115.8,809.7 116.3,808.7 116.8,809.1 117.3,809.4 117.8,809.6 118.3,811.2 118.8,812.8 119.3,814.4 119.8,813.1 120.3,811.8 120.8,810.4 121.3,810.6 121.8,810.7 122.3,810.7 122.8,813.1 123.3,815.5 123.8,817.8 124.3,816.6 124.8,815.3 125.3,813.6 125.8,810.7 126.3,807.4 126.8,807.7 127.3,811.1 127.8,814 128.3,816.6 128.8,816.2 129.3,815.8 129.8,815 130.3,814.3 130.8,813.9 131.3,813.5 131.8,814.4 132.3,815.3 132.8,816.2 133.3,814.9 133.8,813.6 134.3,812.2 134.8,813.9 135.3,815.4 135.8,816.7 136.3,815.3 136.8,814.6 137.3,813.8 137.8,814 138.3,813.9 138.8,813.8 139.3,814.9 139.8,815.8 140.3,817.7 140.8,815.8 141.3,813 141.8,809.9 142.3,808.7 142.8,808 143.3,809.5 143.8,810.4 144.3,811 144.8,811.3 145.3,813.6 145.8,815.8 146.3,817.9 146.8,817 147.3,816.1 147.8,815.2 148.3,816.6 148.8,817.8 149.3,819.1 149.8,818 150.3,817.4 150.8,818.3 151.3,819.9 151.8,817.1 152.3,816.1 152.8,814.7 153.3,813.7 153.8,812.8 154.3,814.9 154.8,816.9 155.3,819 155.8,818.7 156.3,818.3 156.8,818 157.3,818.5 157.8,819.1 158.3,819.6 158.8,817.3 159.3,815 159.8,812.7 160.3,813.4 160.8,814.1 161.3,814.8 161.8,816 162.3,817.5 162.8,819 163.3,817.5 163.8,816 164.3,814.4 164.8,815.2 165.3,815.9 165.8,816.8 166.3,816.9 166.8,817.1 167.3,817.2 167.8,816.2 168.3,815.1 168.8,814 169.3,814.1 169.8,814.4 170.3,814.6 170.8,815.3 171.3,816 171.8,816.7 172.3,817.1 172.8,817.6 173.3,818 173.8,817.6 174.3,817.1 174.8,817 175.3,816.8 175.8,816.4 176.3,815.8 176.8,815.4 177.3,814.7 177.8,814.8 178.3,816.3 178.8,817.3 179.3,818 179.8,817.5 180.3,816.3 180.8,815.7 181.3,815 181.8,814.2 182.3,813.3 182.8,814.2 183.3,815.1 183.8,815.8 184.3,815.8 184.8,815.6 185.3,814.9 185.8,816.6 186.3,816.9 186.8,812.6 187.3,806.4 187.8,797.4 188.3,784 188.8,764.5 189.3,735.8 189.8,693.7 190.3,632 190.8,541.5 191.3,408.8 191.4,375.5 191.8,214 192.3,408.8 192.8,541.5 193.3,632 193.8,693.7 194.3,735.8 194.8,764.5 195.3,784 195.8,797.4 196.3,806.4 196.8,812.6 197.3,816.9 197.8,819.1 198.3,819.1 198.8,819.1 199.3,817.4 199.8,815.5 200.3,813.4 200.8,814 201.3,816.5 201.8,817.8 202.3,819 202.8,820.6 203.3,822.8 203.8,824.5 204.3,825.4 204.8,823 205.3,819.8 205.8,818.7 206.3,818.3 206.8,819 207.3,819.8 207.8,820.2 208.3,820.4 208.8,819 209.3,816.8 209.8,813.7 210.3,809.7 210.8,804.3 211.3,797.1 211.8,787.4 212.3,774.6 212.6,765 212.8,771.6 213.3,785.2 213.8,795.3 214.3,803 214.8,808.7 215.3,813 215.8,815.1 216.3,816.9 216.8,818.5 217.3,818.8 217.8,819 218.3,819.1 218.8,819.5 219.3,819.9 219.8,820.1 220.3,819 220.8,818.2 221.3,817.2 221.8,818.3 222.3,819.4 222.8,820.4 223.3,818.6 223.8,816.8 224.3,814.9 224.8,815.5 225.3,816.3 225.8,817.2 226.3,818.6 226.8,820.1 227.3,821.3 227.8,820 228.3,818.6 228.8,817.1 229.3,817.2 229.8,817.2 230.3,817 230.8,815.9 231.3,816.1 231.8,816.2 232.3,816.8 232.8,817.1 233.3,817.3 233.8,818.3 234.3,819.6 234.8,820.8 235.3,820.1 235.8,819.4 236.3,818.7 236.8,818.3 237.3,817.9 237.8,817.5 238.3,818.6 238.8,819.6 239.3,820.6 239.8,818.6 240.3,816.4 240.8,814 241.3,814.9 241.8,815.9 242.3,816.6 242.8,818 243.3,819.2 243.8,820.4 244.3,820.6 244.8,820.6 245.3,820.6 245.8,820.2 246.3,819.7 246.8,819.2 247.3,818.6 247.8,817.9 248.3,817 248.8,816.4 249.3,815.5 249.8,815.9 250.3,817.8 250.8,819.3 251.3,820.7 251.8,820 252.3,819.1 252.8,818.2 253.3,818.3 253.8,818.4 254.3,818.6 254.8,819.4 255.3,820.1 255.8,820.8 256.3,819.9 256.8,819 257.3,817.9 257.8,816.9 258.3,817 258.8,817.3 259.3,817.5 259.8,817.6 260.3,817.3 260.8,818.4 261.3,819.2 261.8,819.9 262.3,819.2 262.8,819.3 263.3,820.2 263.8,819.5 264.3,818.6 264.8,816.9 265.3,815.7 265.8,815 266.3,815.2 266.8,816.5 267.3,817.7 267.8,818.7 268.3,818 268.8,817.3 269.3,816.5 269.8,817.2 270.3,817.8 270.8,818.2 271.3,817.6 271.8,818.4 272.3,819.7 272.8,819.3 273.3,818.7 273.8,817.9 274.3,818.8 274.8,819.3 275.3,819.8 275.8,818.2 276.3,817.6 276.8,816.8 277.3,817.2 277.8,817.5 278.3,817.6 278.8,818.8 279.3,819.8 279.8,821.3 280.3,821.1 280.8,820.2 281.3,818.3 281.8,815.8 282.3,812.4 282.8,807.9 283.3,801.9 283.8,793.9 284,790 284.3,795.7 284.8,803.2 285.3,808.9 285.8,813.1 286.3,816.3 286.8,818.7 287.3,820.5 287.8,820.9 288.3,819.7 288.8,818.5 289.3,818 289.8,817.4 290.3,816.9 290.8,817.5 291.3,818 291.8,818.5 292.3,818.1 292.8,817.8 293.3,817.4 293.8,818.6 294.3,819.8 294.8,821 295.3,819.6 295.8,818.2 296.3,816.6 296.8,815.8 297.3,816.1 297.8,816.2 298.3,816.8 298.8,817 299.3,817 299.8,817.6 300.3,817.9 300.8,819.5 301.3,820 301.8,820.3 302.3,820.4 302.8,819.4 303.3,818.2 303.8,816.8 304.3,816.9 304.8,817.7 305.3,818.4 305.8,819.1 306.3,819.7 306.8,820.1 307.3,820.2 307.8,820.2 308.3,820 308.8,820.4 309.3,821.2 309.8,821.9 310.3,820.8 310.8,819.6 311.3,818.3 311.8,818.4 312.3,818.5 312.8,819.1 313.3,820 313.8,821 314.3,821.8 314.8,821.8 315.3,821.7 315.8,821.6 316.3,819.9 316.8,818.2 317.3,816.3 317.8,816.6 318.3,817 318.8,817.4 319.3,819.1 319.8,820.8 320.3,822.3 320.8,821.8 321.3,821.1 321.8,820.3 322.3,818.2 322.8,817.7 323.3,817 323.8,818.2 324.3,819.2 324.8,820.1 325.3,819.5 325.8,818.8 326.3,818.2 326.8,818.9 327.3,819.5 327.8,820.2 328.3,820.3 328.8,820.5 329.3,820.8 329.8,819.8 330.3,818.7 330.8,817.7 331.3,818.8 331.8,819.8 332.3,820.8 332.8,819.7 333.3,818.8 333.8,817.8 334.3,817.9 334.8,818 335.3,818 335.8,819.1 336.3,820.6 336.8,821.9 337.3,820.6 337.8,819.2 338.3,817.6 338.8,817.4 339.3,817 339.8,817.2 340.3,818.9 340.8,820.5 341.3,822.1 341.8,821.4 342.3,820.8 342.8,820 343.3,820 343.8,820 344.3,820.2 344.8,820.7 345.3,821.2 345.8,821.6 346.3,820.8 346.8,820 347.3,819.2 347.8,818.8 348.3,818.5 348.8,818.1 349.3,818.2 349.8,818.3 350.3,818.3 350.8,818.3 351.3,818.2 351.8,818.1 352.3,818.4 352.8,818.5 353.3,818.7 353.8,819 354.3,819.1 354.8,819 355.3,818.9 355.8,818.7 356.3,818.5 356.8,819.5 357.3,820.4 357.8,821.2 358.3,820.4 358.8,819.6 359.3,818.6 359.8,818.9 360.3,818.9 360.8,819 361.3,818.9 361.8,818.5 362.3,818 362.8,819.1 363.3,820.1 363.8,820.9 364.3,820.3 364.8,819.7 365.3,819.5 365.8,819.9 366.3,820.3 366.8,820.6 367.3,821.2 367.8,821.7 368.3,822.3 368.8,821.8 369.3,821.2 369.8,820.6 370.3,820.1 370.8,819.7 371.3,819.3 371.8,819.4 372.3,819.4 372.8,819.4 373.3,819.1 373.8,818.8 374.3,818.3 374.8,818.6 375.3,818.7 375.8,818.8 376.3,819.7 376.8,820.9 377.3,822.2 377.8,821.7 378.3,821.1 378.8,820.5 379.3,820.5 379.8,820.5 380.3,820.3 380.8,820 381.3,818.5 381.8,816.6 382.3,814.2 382.8,811.1 383.3,807.3 383.8,802.5 384.3,796.5 384.8,788.9 385.3,779.3 385.8,788.9 386.3,796.5 386.8,802.5 387.3,807.3 387.8,811.1 388.3,814.2 388.8,816.6 389.3,818.5 389.8,819.8 390.3,819.6 390.8,819.4 391.3,819.2 391.8,819 392.3,818.7 392.8,819.3 393.3,819.9 393.8,820.3 394.3,820.4 394.8,820.4 395.3,820.3 395.8,820 396.3,819.8 396.8,820 397.3,820.7 397.8,821.4 398.3,822 398.8,822.4 399.3,822.7 399.8,822.9 400.3,821.7 400.8,820.4 401.3,819 401.8,818.5 402.3,819 402.8,819.3 403.3,820.5 403.8,821.5 404.3,822.3 404.8,821.6 405.3,820.8 405.8,820.2 406.3,820.9 406.8,821.4 407.3,821.8 407.8,822.1 408.3,822.4 408.8,822.6 409.3,821.8 409.8,820.9 410.3,819.9 410.8,820.4 411.3,820.8 411.8,821.1 412.3,821.1 412.8,820.9 413.3,820.6 413.8,820.4 414.3,820 414.8,819.5 415.3,819.3 415.8,819 416.3,818.6 416.8,818.9 417.3,819.9 417.8,821.1 418.3,820.9 418.8,820.7 419.3,820.4 419.8,821 420.3,821.5 420.8,822 421.3,822 421.8,822 422.3,821.9 422.8,822 423.3,822 423.8,822.1 424.3,822 424.8,822 425.3,822 425.8,822.1 426.3,822.3 426.8,822.4 427.3,822.5 427.8,822.6 428.3,822.9 428.8,821.7 429.3,820.4 429.8,819.2 430.3,819.8 430.8,820.5 431.3,821.1 431.8,821.4 432.3,821.8 432.8,822.1 433.3,821.8 433.8,821.4 434.3,821.1 434.8,820.4 435.3,819.8 435.8,819.1 436.3,820.4 436.8,821.7 437.3,822.9 437.8,821.8 438.3,820.6 438.8,819.5 439.3,820.3 439.8,821.2 440.3,822 440.8,822.5 441.3,822.9 441.8,823.3 442.3,821.9 442.8,820.4 443.3,819 443.8,820.1 444.3,821.1 444.8,822.2 445.3,821.2 445.8,820.2 446.3,819.2 446.8,820.5 447.3,821.8 447.8,823 448.3,823 448.8,822.9 449.3,822.8 449.8,822 450.3,821.2 450.8,820.4 451.3,821.2 451.8,821.9 452.3,822.7 452.8,821.8 453.3,820.9 453.8,819.9 454.3,820.5 454.8,821 455.3,821.6 455.8,820.8 456.3,820 456.8,819.2 457.3,820 457.8,820.8 458.3,821.6 458.8,821.2 459.3,820.9 459.8,820.5 460.3,821 460.8,821.5 461.3,822 461.8,822 462.3,822 462.8,821.9 463.3,821.6 463.8,821.4 464.3,821.1 464.8,821.4 465.3,821.8 465.8,822.2 466.3,821.8 466.8,821.3 467.3,820.9 467.8,821.3 468.3,821.7 468.8,822 469.3,821.7 469.8,821.4 470.3,821.1 470.8,821.7 471.3,822.3 471.8,822.8 472.3,822.6 472.8,822.4 473.3,822.1 473.8,822.1 474.3,822.1 474.8,822 475.3,821.8 475.8,821.6 476.3,821.4 476.8,820.6 477.3,819.9 477.8,819.1 478.3,819.2 478.8,819.2 479.3,819.2 479.8,820 480.3,820.7 480.8,821.5 481.3,821.2 481.8,820.9 482.3,820.6 482.8,820.4 483.3,820.2 483.8,820 484.3,819.9 484.8,819.8 485.3,819.8 485.8,820.1 486.3,820.5 486.8,820.8 487.3,821.5 487.8,822.1 488.3,822.8 488.8,822.1 489.3,821.4 489.8,820.7 490.3,821.1 490.8,821.5 491.3,821.8 491.8,822.2 492.3,822.6 492.8,823 493.3,822.9 493.8,822.9 494.3,822.9 494.8,822 495.3,821.2 495.8,820.4 496.3,821.1 496.8,821.8 497.3,822.5 497.8,822.4 498.3,822.4 498.8,822.3 499.3,822.2 499.8,822 500.3,821.8 500.8,821.9 501.3,822.1 501.8,822.2 502.3,821.9 502.8,821.6 503.3,821.3 503.8,821.7 504.3,822.2 504.8,822.6 505.3,822.7 505.8,822.8 506.3,822.8 506.8,822.1 507.3,821.4 507.8,820.7 508.3,821.5 508.8,822.4 509.3,823.3 509.8,822.1 510.3,821 510.8,819.8 511.3,819.7 511.8,819.6 512.3,819.5 512.8,820.7 513.3,821.9 513.8,823.1 514.3,822.4 514.8,821.7 515.3,821 515.8,820.6 516.3,820.3 516.8,820 517.3,820.9 517.8,821.8 518.3,822.7 518.8,821.7 519.3,820.6 519.8,819.5 520.3,820.4 520.8,821.2 521.3,822.1 521.8,822.5 522.3,823 522.8,823.4 523.3,823.4 523.8,823.4 524.3,823.4 524.8,823.1 525.3,822.7 525.8,822.4 526.3,822.4 526.8,822.4 527.3,822.4 527.8,821.9 528.3,821.3 528.8,820.8 529.3,820.9 529.8,821.1 530.3,821.2 530.8,820.9 531.3,820.5 531.8,820.2 532.3,820.5 532.8,820.8 533.3,821 533.8,821.4 534.3,821.8 534.8,822.2 535.3,822.6 535.8,823 536.3,823.4 536.8,822.2 537.3,821.1 537.8,820 538.3,820.8 538.8,821.5 539.3,822.3 539.8,821.5 540.3,820.7 540.8,819.9 541.3,821 541.8,822.2 542.3,823.4 542.8,823.1 543.3,822.9 543.8,822.6 544.3,821.7 544.8,820.8 545.3,819.8 545.8,820 546.3,820.2 546.8,820.4 547.3,821.3 547.8,822.3 548.3,823.3 548.8,822.4 549.3,821.5 549.8,820.7 550.3,820.5 550.8,820.3 551.3,820.2 551.8,820.3 552.3,820.5 552.8,820.7 553.3,820.6 553.8,820.6 554.3,820.6 554.8,821.3 555.3,821.9 555.8,822.6 556.3,822.3 556.8,822.1 557.3,821.8 557.8,821.3 558.3,820.8 558.8,820.3 559.3,820.5 559.8,820.7 560.3,820.9 560.8,821.8 561.3,822.7 561.8,823.6 562.3,823.4 562.8,823.1 563.3,822.9 563.8,822.7 564.3,822.6 564.8,822.4 565.3,822.6 565.8,822.9 566.3,823.1 566.8,822.8 567.3,822.6 567.8,822.3 568.3,822.6 568.8,822.8 569.3,823.1 569.8,822 570.3,821 570.8,819.9 571.3,820.8 571.8,821.7 572.3,822.6 572.8,821.6 573.3,820.6 573.8,819.6 574.3,819.8 574.8,820 575.3,820.2 575.8,821 576.3,821.7 576.8,822.4 577.3,822.6 577.8,822.7 578.3,822.9 578.8,821.9 579.3,821 579.8,820 580.3,820.7 580.8,821.4 581.3,822.2 581.8,821.7 582.3,821.3 582.8,820.8 583.3,820.7 583.8,820.7 584.3,820.6 584.8,820.9 585.3,821.2 585.8,821.6 586.3,821.3 586.8,821.1 587.3,820.8 587.8,820.9 588.3,821 588.8,821 589.3,821.1 589.8,821.2 590.3,821.3 590.8,821.9 591.3,822.5 591.8,823 592.3,822.1 592.8,821.2 593.3,820.3 593.8,820.4 594.3,820.5 594.8,820.7 595.3,821.6 595.8,822.5 596.3,823.4 596.8,822.9 597.3,822.4 597.8,821.9 598.3,822.2 598.8,822.5 599.3,822.9 599.8,822.4 600.3,822 600.8,821.6 601.3,821.9 601.8,822.1 602.3,822.4 602.8,822.5 603.3,822.6 603.8,822.6 604.3,822.8 604.8,822.9 605.3,823.1 605.8,822.2 606.3,821.4 606.8,820.6 607.3,821.1 607.8,821.6 608.3,822.1 608.8,822.6 609.3,823.1 609.8,823.6 610.3,822.9 610.8,822.1 611.3,821.4 611.8,820.8 612.3,820.2 612.8,819.7 613.3,820.5 613.8,821.2 614.3,822 614.8,821.3 615.3,820.6 615.8,819.9 616.3,820.3 616.8,820.7 617.3,821.1 617.8,821 618.3,820.8 618.8,820.7 619.3,821.4 619.8,822.1 620.3,822.8 620.8,823 621.3,823.2 621.8,823.4 622.3,822.5 622.8,821.7 623.3,819.6 623.8,815.7 624.3,810.7 624.8,805.3 625.3,800.2 625.8,796.6 626.3,795.3 626.8,796.6 627.3,800.2 627.8,805.3 628.3,810.7 628.8,815.7 629.3,819.6 629.8,820.7 630.3,821.4 630.8,822.1 631.3,821.3 631.8,820.6 632.3,819.9 632.8,820 633.3,820.2 633.8,820.4 634.3,820.3 634.8,820.3 635.3,820.2 635.8,820.1 636.3,820 636.8,819.9 637.3,821.1 637.8,822.3 638.3,823.5 638.8,822.6 639.3,821.7 639.8,820.8 640.3,821.5 640.8,822.2 641.3,822.9 641.8,821.9 642.3,820.8 642.8,819.8 643.3,819.9 643.8,820 644.3,820.1 644.8,820.7 645.3,821.3 645.8,821.9 646.3,821.7 646.8,821.5 647.3,821.3 647.8,821.8 648.3,822.3 648.8,822.8 649.3,822.7 649.8,822.7 650.3,822.6 650.8,822.5 651.3,822.4 651.8,822.3 652.3,822.4 652.8,822.5 653.3,822.5 653.8,822 654.3,821.5 654.8,820.9 655.3,820.6 655.8,820.3 656.3,819.9 656.8,820.2 657.3,820.6 657.8,820.9 658.3,821.9 658.8,822.8 659.3,823.8 659.8,822.7 660.3,821.7 660.8,820.7 661.3,821.2 661.8,821.7 662.3,822.2 662.8,822.3 663.3,822.4 663.8,822.5 664.3,822.7 664.8,822.8 665.3,823 665.8,822.3 666.3,820.3 666.8,817.7 667.3,814.5 667.8,810.8 668.3,807.2 668.8,803.9 669.3,801.4 669.8,800.1 670,800 670.3,800.3 670.8,801.8 671.3,804.5 671.8,807.9 672.3,811.6 672.8,815.1 673.3,818.3 673.8,820.8 674.3,820.4 674.8,820.6 675.3,820.8 675.8,821.1 676.3,820.7 676.8,820.4 677.3,820.1 677.8,820.5 678.3,820.8 678.8,821.1 679.3,820.9 679.8,820.6 680.3,820.4 680.8,821.1 681.3,821.8 681.8,822.5 682.3,821.8 682.8,821.1 683.3,820.5 683.8,820.2 684.3,820 684.8,819.7 685.3,820.7 685.8,821.6 686.3,822.5 686.8,822.3 687.3,822.1 687.8,821.9 688.3,821.5 688.8,821.1 689.3,820.7 689.8,820.5 690.3,820.3 690.8,820 691.3,820.2 691.8,820.5 692.3,820.7 692.8,821.6 693.3,822.4 693.8,823.3 694.3,823.4 694.8,823.6 695.3,823.7 695.8,823.1 696.3,822.6 696.8,822 697.3,822 697.8,822 698.3,822.1 698.8,821.6 699.3,821.2 699.8,820.8 700.3,821.1 700.8,821.4 701.3,821.7 701.8,821.6 702.3,821.6 702.8,821.5 703.3,821.8 703.8,822.2 704.3,822.5 704.8,822.9 705.3,823.2 705.8,823.5 706.3,823.1 706.8,822.7 707.3,822.3 707.8,822.2 708.3,822 708.8,821.8 709.3,821.7 709.8,821.6 710.3,821.5 710.8,821.2 711.3,820.9 711.8,820.6 712.3,820.9 712.8,821.1 713.3,821.3 713.8,821.1 714.3,820.9 714.8,820.7 715.3,821.1 715.8,821.6 716.3,822.1 716.8,821.8 717.3,821.6 717.8,821.3 718.3,821.7 718.8,822.1 719.3,822.5 719.8,822 720.3,821.5 720.8,821.1 721.3,820.9 721.8,820.8 722.3,820.6 722.8,821.4 723.3,822.1 723.8,822.9 724.3,822.5 724.8,822 725.3,821.6 725.8,821.8 726.3,821.9 726.8,822.1 727.3,821.8 727.8,821.4 728.3,821 728.8,819.3 729.3,816.7 729.8,813.7 730.3,810.8 730.8,808.1 731.3,806.1 731.8,805.1 732,805 732.3,805.2 732.8,806.4 733.3,808.6 733.8,811.4 734.3,814.3 734.8,817.2 735.3,819.7 735.8,821.8 736.3,822.9 736.8,822.6 737.3,822.3 737.8,822 738.3,821.8 738.8,821.5 739.3,821.3 739.8,821 740.3,820.8 740.8,820.6 741.3,820.4 741.8,820.2 742.3,821.3 742.8,822.4 743.3,823.5 743.8,823.4 744.3,823.3 744.8,823.3 745.3,822.7 745.8,822.2 746.3,821.7 746.8,821.3 747.3,820.9 747.8,820.5 748.3,820.3 748.8,820 749.3,819.8 749.8,819.9 750.3,820 750.8,820.1 751.3,820.6 751.8,821.2 752.3,821.7 752.8,821.1 753.3,820.6 753.8,820 754.3,820.3 754.8,820.6 755.3,820.9 755.8,820.7 756.3,820.5 756.8,820.3 757.3,820.5 757.8,820.6 758.3,820.8 758.8,820.6 759.3,820.5 759.8,820.4 760.3,820.9 760.8,821.4 761.3,821.8 761.8,821.7 762.3,821.7 762.8,821.6 763.3,822.1 763.8,822.5 764.3,822.9 764.8,821.9 765.3,820.9 765.8,819.8 766.3,819.8 766.8,819.8 767.3,819.8 767.8,821.2 768.3,822.5 768.8,823.8 769.3,822.8 769.8,821.7 770.3,820.6 770.8,820.4 771.3,820.2 771.8,820 772.3,820.3 772.8,820.6 773.3,820.8 773.8,820.6 774.3,820.3 774.8,820.1 775.3,820.1 775.8,820.2 776.3,820.2 776.8,820.5 777.3,820.9 777.8,821.2 778.3,822.1 778.8,822.9 779.3,823.8 779.8,822.7 780.3,821.6 780.8,820.5 781.3,821.5 781.8,822.5 782.3,823.6 782.8,822.9 783.3,822.2 783.8,821.5 784.3,822.2 784.8,823 785.3,823.7 785.8,822.5 786.3,821.2 786.8,820 787.3,820.7 787.8,821.4 788.3,822.1 788.8,821.5 789.3,820.9 789.8,820.3 790.3,820.4 790.8,820.4 791.3,820.4 791.8,821.3 792.3,822.1 792.8,823 793.3,822.3 793.8,821.6 794.3,820.8 794.8,820.6 795.3,820.3 795.8,820 796.3,820.3 796.8,820.6 797.3,820.9 797.8,821.2 798.3,821.4 798.8,821.7 799.3,822.4 799.8,823.1 800.3,823.8 800.8,823.5 801.3,823.1 801.8,822.8 802.3,822.1 802.8,821.3 803.3,820.5 803.8,820.7 804.3,820.8 804.8,821 805.3,821.5 805.8,821.9 806.3,822.4 806.8,822.8 807.3,823.2 807.8,823.6 808.3,822.9 808.8,822.3 809.3,821.6 809.8,821.9 810.3,822.1 810.8,822.4 811.3,822.4 811.8,822.5 812.3,822.5 812.8,822.8 813.3,823 813.8,823.2 814.3,822.2 814.8,821.2 815.3,820.2 815.8,821.2 816.3,822.2 816.8,823.1 817.3,823 817.8,822.8 818.3,822.6 818.8,822 819.3,821.3 819.8,820.6 820.3,820.6 820.8,820.7 821.3,820.7 821.8,820.9 822.3,821.1 822.8,821.4 823.3,821.5 823.8,821.7 824.3,821.8 824.8,821.6 825.3,821.3 825.8,821 826.3,820.9 826.8,820.7 827.3,820.6 827.8,821.7 828.3,822.7 828.8,823.8 829.3,822.8 829.8,821.7 830.3,820.6 830.8,820.5 831.3,820.4 831.8,820.2 832.3,821 832.8,821.7 833.3,822.4 833.8,821.8 834.3,821.2 834.8,820.7 835.3,820.9 835.8,821.1 836.3,821.3 836.8,820.8 837.3,820.4 837.8,819.9 838.3,820 838.8,820 839.3,820.1 839.8,820.2 840.3,820.4 840.8,820.6 841.3,820.9 841.8,821.2 842.3,821.5 842.8,821.6 843.3,821.8 843.8,821.9 844.3,821.5 844.8,821 845.3,820.6 845.8,820.8 846.3,821 846.8,821.3 847.3,821 847.8,820.7 848.3,820.4 848.8,821.2 849.3,822 849.8,822.7 850.3,821.9 850.8,821.1 851.3,820.2 851.8,821.4 852.3,822.5 852.8,823.6 853.3,822.7 853.8,821.8 854.3,820.9 854.8,821.7 855.3,822.4 855.8,823.1 856.3,822.6 856.8,822.1 857.3,821.6 857.8,821.4 858.3,821.1 858.8,820.9 859.3,821.5 859.8,822.2 860.3,822.8 860.8,823.1 861.3,823.4 861.8,823.7 862.3,822.8 862.8,821.9 863.3,821 863.8,821.6 864.3,822.3 864.8,822.9 865.3,823.1 865.8,823.3 866.3,822.2 866.8,820.6 867.3,818.7 867.8,816.5 868.3,814 868.8,811.6 869.3,809.2 869.8,807.2 870.3,805.8 870.8,805.1 871,805 871.3,805.1 871.8,806 872.3,807.6 872.8,809.7 873.3,812 873.8,814.5 874.3,816.9 874.8,819.1 875.3,820.4 875.8,820.9 876.3,821.5 876.8,822 877.3,822.4 877.8,822.8 878.3,823.2 878.8,822.7 879.3,822.2 879.8,821.7 880.3,822 880.8,822.2 881.3,822.4 881.8,822.8 882.3,823.2 882.8,823.5 883.3,822.4 883.8,821.2 884.3,820.1 884.8,820.9 885.3,821.6 885.8,822.4 886.3,822.6 886.8,822.7 887.3,822.9 887.8,821.9 888.3,820.9 888.8,819.9 889.3,820.2 889.8,820.5 890.3,820.7 890.8,820.6 891.3,820.5 891.8,820.3 892.3,821.3 892.8,822.2 893.3,823.2 893.8,822.6 894.3,822 894.8,821.4 895.3,821.6 895.8,821.8 896.3,822 896.8,821.7 897.3,821.5 897.8,821.2 898.3,821.1 898.8,821 899.3,820.9 899.8,821.4 900.3,822 900.8,822.5 901.3,821.7 901.8,820.9 902.3,820 902.8,821.2 903.3,822.5 903.8,823.7 904.3,823.2 904.8,822.8 905.3,822.4 905.8,821.6 906.3,820.9 906.8,820.2 907.3,820.6 907.8,821.1 908.3,821.6 908.8,821.7 909.3,821.8 909.8,821.9 910.3,821.9 910.8,822 911.3,822 911.8,821.8 912.3,821.6 912.8,821.5 913.3,822.3 913.8,823 914.3,823.8 914.8,822.9 915.3,821.9 915.8,821 916.3,821.4 916.8,821.8 917.3,822.3 917.8,822.5 918.3,822.6 918.8,822.8 919.3,822.6 919.8,822.4" fill="none" stroke="#12127a" stroke-width="1.5" stroke-linejoin="round"/>
<polyline points="68.3,807.9 68.8,806.6 69.3,805.1 69.8,803.6 70.3,804 70.8,804.1 71.3,803.6 71.8,805.5 72.3,807.1 72.8,808.2 73.3,804.4 73.8,802.1 74.3,802 74.8,801 75.3,799.1 75.8,795.7 76.3,796 76.8,796 77.3,800.7 77.8,802.6 78.3,803.9 78.8,803.9 79.3,801.6 79.8,798.9 80.3,802.1 80.8,804 81.3,806 81.8,808.4 82.3,810.9 82.8,815.1 83.3,815.7 83.8,809.8 84.3,805.7 84.8,802.4 85.3,805.5 85.8,808.6 86.3,810.6 86.8,807.7 87.3,804.5 87.8,800.9 88.3,800.6 88.8,801.1 89.3,797.5 89.8,795.2 90,795 90.3,795.5 90.8,798.3 91.3,802.9 91.8,806.1 92.3,806.2 92.8,808.9 93.3,811.3 93.8,813.6 94.3,813.2 94.8,812.6 95.3,812 95.8,809.1 96.3,806.3 96.8,803.3 97.3,803 97.8,802.3 98.3,801.2 98.8,799.7 99.3,798.4 99.8,801.6 100.3,805.7 100.8,809 101.3,812 101.8,809.9 102.3,807.7 102.8,805.3 103.3,804 103.8,802.6 104.3,801.1 104.8,800.2 105,800 105.3,800.4 105.8,802.7 106.3,803.7 106.8,803.7 107.3,803.1 107.8,803.2 108.3,806.2 108.8,807.6 109.3,806.4 109.8,804.3 110.3,801.2 110.8,805.8 111.3,809.1 111.8,811.6 112.3,813 112.8,814 113.3,814.2 113.8,809.7 114.3,805 114.8,799.8 115.3,802.9 115.8,806.5 116.3,804.3 116.8,798 117.3,793 117.8,790.3 118,790 118.3,790.6 118.8,793.8 119.3,799.2 119.8,805.5 120.3,804.4 120.8,801.5 121.3,800.6 121.8,800.9 122.3,802.5 122.8,804.4 123.3,805.9 123.8,807.3 124.3,807.2 124.8,806.4 125.3,805.2 125.8,805 126.3,804 126.8,801.9 127.3,804.8 127.8,806.4 128.3,807.2 128.8,807.4 129.3,807.4 129.8,807.1 130.3,807.8 130.8,808.3 131.3,808.7 131.8,810.8 132.3,812.8 132.8,814.8 133.3,813.8 133.8,812.4 134.3,810.3 134.8,809 135.3,807.1 135.8,804.3 136.3,805.7 136.8,807.2 137.3,807.9 137.8,805.9 138.3,803.5 138.8,800.1 139.3,802.2 139.8,804.7 140.3,806.5 140.8,808.7 141.3,810.5 141.8,811.7 142.3,810.8 142.8,809.5 143.3,807.3 143.8,807.1 144.3,807.6 144.8,807.6 145.3,808.3 145.8,808.6 146.3,808.3 146.8,809.1 147.3,809.5 147.8,809.3 148.3,806.7 148.8,805 149.3,808 149.8,809.3 150.3,809.8 150.8,809.9 151.3,809.7 151.8,809.1 152.3,808.4 152.8,809.2 153.3,809.6 153.8,809.6 154.3,809.4 154.8,809.1 155.3,808.7 155.8,810 156.3,811.2 156.8,812.1 157.3,811.7 157.8,811.8 158.3,810.3 158.8,805.8 159.3,802.1 159.8,800.2 160,800 160.3,800.4 160.8,802.7 161.3,806.6 161.8,810.8 162.3,811.6 162.8,813 163.3,815.5 163.8,820.7 164.3,819.6 164.8,816.5 165.3,815.6 165.8,815.7 166.3,816.2 166.8,816.9 167.3,816 167.8,814.8 168.3,813.4 168.8,812.6 169.3,813.6 169.8,814.4 170.3,814.9 170.8,813.6 171.3,811.6 171.8,809.3 172.3,810.4 172.8,811.6 173.3,812.6 173.8,811.9 174.3,811.6 174.8,810.9 175.3,811.1 175.8,811.8 176.3,813.6 176.8,809.5 177.3,802.7 177.8,793.1 178.3,779.7 178.8,760.6 179.3,733.7 179.8,695.8 180.3,642.2 180.8,566.6 181.3,459.8 181.4,433.7 181.8,528.3 182.3,615.1 182.8,676.6 183.3,720.1 183.8,751 184.3,772.8 184.8,788.3 185.3,799.3 185.8,807 186.3,811.1 186.8,812.5 187.3,811.8 187.8,810.7 188.3,807.6 188.8,805.5 189.3,796 189.8,782 190.3,761.5 190.8,731.5 191.3,687.4 191.8,622.8 192.3,527.9 192.8,388.8 193.2,232 193.3,275.8 193.8,450.9 194.3,570.3 194.8,651.6 195.3,707.1 195.8,744.9 196.3,770.7 196.8,788.3 197.3,767.9 197.8,731 198.3,670.6 198.8,571.8 199.3,410 199.6,267 199.8,367 200.3,545.5 200.8,654.6 201.3,721.2 201.8,761.9 202.3,786.8 202.8,802 203.3,811.3 203.8,814.6 204.3,813.9 204.8,813.4 205.3,814.9 205.8,816.3 206.3,817.6 206.8,816.5 207.3,817.1 207.8,817.5 208.3,815.8 208.8,814.1 209.3,811.5 209.8,806.7 210.3,800.3 210.8,791.8 211.3,780.5 211.8,765.3 212.3,745.2 212.6,730 212.8,740.4 213.3,761.8 213.8,777.8 214.3,789.8 214.8,798.8 215.3,805.6 215.8,810.7 216.3,813.1 216.8,812.9 217.3,814.8 217.8,816.9 218.3,819 218.8,816.8 219.3,814.5 219.8,812.2 220.3,814.5 220.8,816.8 221.3,818.9 221.8,818.1 222.3,817.6 222.8,817 223.3,816.6 223.8,816.1 224.3,815.7 224.8,815.6 225.3,816.1 225.8,817.7 226.3,822.2 226.8,818.5 227.3,815.7 227.8,814.8 228.3,810.3 228.8,805.8 229.3,802.1 229.8,800.2 230,800 230.3,800.4 230.8,802.7 231.3,806.6 231.8,811.2 232.3,815.6 232.8,819.2 233.3,819.6 233.8,818.2 234.3,816.8 234.8,815.3 235.3,816.7 235.8,818 236.3,819.2 236.8,818.6 237.3,818 237.8,817.4 238.3,816.8 238.8,816.1 239.3,815.4 239.8,815.1 240.3,814.7 240.8,814.3 241.3,815 241.8,815.8 242.3,816.4 242.8,815.8 243.3,815 243.8,814.1 244.3,813.3 244.8,811.8 245.3,811.4 245.8,814.2 246.3,816.3 246.8,818.1 247.3,818.5 247.8,818.8 248.3,819 248.8,817.3 249.3,815.6 249.8,813.8 250.3,815.5 250.8,817.2 251.3,818.9 251.8,817.3 252.3,815.6 252.8,814.5 253.3,816.7 253.8,819.1 254.3,821.7 254.8,822.5 255.3,825.1 255.8,826.2 256.3,821.2 256.8,818.6 257.3,816.9 257.8,817.6 258.3,818.5 258.8,819.5 259.3,816.2 259.8,814.9 260.3,813.5 260.8,814.5 261.3,815.2 261.8,815.7 262.3,814.6 262.8,813.3 263.3,812.5 263.8,813.8 264.3,814.9 264.8,815.8 265.3,815.6 265.8,814.9 266.3,814 266.8,814.8 267.3,815.7 267.8,818.5 268.3,818.7 268.8,818.6 269.3,818.4 269.8,818.5 270.3,818.5 270.8,818.3 271.3,818 271.8,818.2 272.3,818.2 272.8,819 273.3,819.7 273.8,820.4 274.3,820.3 274.8,820.2 275.3,820 275.8,819 276.3,817.9 276.8,817.1 277.3,816.4 277.8,815.6 278.3,814.8 278.8,815.5 279.3,816.1 279.8,816.5 280.3,816.2 280.8,815.6 281.3,814.8 281.8,812.9 282.3,809.1 282.8,804 283.3,797.4 283.8,788.7 284.3,777.5 284.8,762.7 285.3,743.6 285.7,724.1 285.8,729.4 286.3,751.9 286.8,769.1 287.3,782.3 287.8,792.5 288.3,800.3 288.8,806.2 289.3,807.1 289.8,802.3 290,800 290.3,803.3 290.8,808 291.3,811.7 291.8,814.6 292.3,816.9 292.8,817.8 293.3,816.1 293.8,816.8 294.3,817.5 294.8,818 295.3,816.9 295.8,815.5 296.3,813.6 296.8,814.6 297.3,817.6 297.8,820.1 298.3,819.7 298.8,819.1 299.3,818.1 299.8,817 300.3,815.8 300.8,814.4 301.3,815.6 301.8,816.3 302.3,816.7 302.8,816.4 303.3,815.5 303.8,814.3 304.3,816.1 304.8,817.7 305.3,819.2 305.8,819.1 306.3,818.8 306.8,818.6 307.3,818.3 307.8,817.9 308.3,817.5 308.8,817.3 309.3,817.2 309.8,817.7 310.3,818.3 310.8,818.6 311.3,818.8 311.8,817 312.3,815.3 312.8,814.8 313.3,816.5 313.8,818.2 314.3,819.6 314.8,820 315.3,820.2 315.8,820.2 316.3,820.4 316.8,820.9 317.3,821.2 317.8,819.5 318.3,817.8 318.8,816 319.3,817.5 319.8,818.9 320.3,820.3 320.8,819.8 321.3,819.6 321.8,819.6 322.3,819.3 322.8,818.3 323.3,816.3 323.8,813.9 324.3,810.8 324.8,806.8 325,805 325.3,807.7 325.8,811.4 326.3,814.4 326.8,816.8 327.3,816.7 327.8,815 328.3,815.6 328.8,816.8 329.3,817.7 329.8,819 330.3,820.2 330.8,821.3 331.3,820 331.8,818.7 332.3,817.2 332.8,816.9 333.3,817.3 333.8,817.6 334.3,817.8 334.8,817.8 335.3,817.8 335.8,817.7 336.3,817.6 336.8,817.3 337.3,818.1 337.8,818.4 338.3,818.2 338.8,819.4 339.3,820.4 339.8,821 340.3,819.8 340.8,818 341.3,816 341.8,816.5 342.3,816.7 342.8,818.5 343.3,817.9 343.8,817.1 344.3,816 344.8,816.2 345.3,815.8 345.8,815.2 346.3,814.6 346.8,815.4 347.3,816.4 347.8,817.1 348.3,816.9 348.8,816.5 349.3,816.7 349.8,816.9 350.3,819.6 350.8,819 351.3,818.1 351.8,816.5 352.3,816.8 352.8,816.8 353.3,817.4 353.8,817.5 354.3,817.3 354.8,816.9 355.3,817.1 355.8,817.1 356.3,817.1 356.8,818.8 357.3,820.3 357.8,821.7 358.3,821.2 358.8,820.8 359.3,820.3 359.8,820.4 360.3,820.5 360.8,820.6 361.3,820.7 361.8,821 362.3,821.4 362.8,820 363.3,818.7 363.8,817.3 364.3,817.7 364.8,818.5 365.3,819 365.8,819.5 366.3,820.2 366.8,819.9 367.3,818 367.8,815.7 368.3,812.5 368.8,808.5 369.3,803.2 369.8,796.3 370,793 370.3,797.8 370.8,804.4 371.3,809.4 371.8,813.2 372.3,816.2 372.8,818.5 373.3,819.3 373.8,819.1 374.3,818.9 374.8,818.7 375.3,818.5 375.8,818.2 376.3,818.3 376.8,818.2 377.3,817.8 377.8,818.4 378.3,818.9 378.8,819.1 379.3,819 379.8,819 380.3,818.8 380.8,817.8 381.3,815.9 381.8,813.4 382.3,810.5 382.8,806.7 383.3,802.1 383.8,796.4 384.3,789.3 384.8,780.5 385.3,769.6 385.8,780.5 386.3,789.3 386.8,796.4 387.3,802.1 387.8,806.7 388.3,810.5 388.8,813.4 389.3,815.9 389.8,817.1 390.3,817.1 390.8,816.9 391.3,817.4 391.8,817.7 392.3,818 392.8,818.4 393.3,818.5 393.8,818.5 394.3,818.4 394.8,818.7 395.3,819 395.8,819.3 396.3,819.4 396.8,819.5 397.3,819.1 397.8,818.7 398.3,818.2 398.8,818.4 399.3,818.4 399.8,818.3 400.3,819.7 400.8,820.7 401.3,821.5 401.8,821.2 402.3,820.5 402.8,819.5 403.3,818.1 403.8,816.4 404.3,815.4 404.8,817.8 405.3,819.8 405.8,821.7 406.3,821.1 406.8,820.4 407.3,819.7 407.8,820.5 408.3,821.1 408.8,821.6 409.3,821.5 409.8,821.1 410.3,821.7 410.8,820.9 411.3,820.1 411.8,819.1 412.3,819.3 412.8,819.4 413.3,819.4 413.8,820.1 414.3,820.9 414.8,821.6 415.3,821.1 415.8,820.6 416.3,820 416.8,820.1 417.3,820.1 417.8,820.1 418.3,820.3 418.8,820.4 419.3,820.5 419.8,820.1 420.3,819.8 420.8,819.4 421.3,819.3 421.8,819.1 422.3,818.9 422.8,818.8 423.3,818.6 423.8,818.3 424.3,818.2 424.8,817.6 425.3,818 425.8,818.3 426.3,818.2 426.8,818 427.3,818.1 427.8,818.2 428.3,818.1 428.8,818.4 429.3,818.7 429.8,819.2 430.3,820 430.8,820.8 431.3,821.6 431.8,821.8 432.3,822 432.8,822.2 433.3,821.4 433.8,820.6 434.3,819.7 434.8,819.6 435.3,819.4 435.8,819.3 436.3,819 436.8,818.6 437.3,818.3 437.8,818.4 438.3,818.5 438.8,818.6 439.3,819.5 439.8,820.3 440.3,821.2 440.8,821.7 441.3,822.2 441.8,822.7 442.3,821.9 442.8,821 443.3,820.1 443.8,820.3 444.3,820.4 444.8,820.6 445.3,820.4 445.8,820.2 446.3,820 446.8,820.7 447.3,821.5 447.8,822.3 448.3,821.6 448.8,820.9 449.3,820.3 449.8,820.2 450.3,820.2 450.8,820.2 451.3,821.2 451.8,822.2 452.3,823.1 452.8,823 453.3,822.9 453.8,822.8 454.3,822.2 454.8,821.7 455.3,821.1 455.8,820.8 456.3,820.4 456.8,820.1 457.3,819.9 457.8,819.6 458.3,819.4 458.8,820.4 459.3,821.4 459.8,822.4 460.3,821.2 460.8,819.9 461.3,818.7 461.8,819.9 462.3,821.1 462.8,822.2 463.3,821 463.8,819.9 464.3,818.7 464.8,819.9 465.3,821 465.8,822.2 466.3,821.5 466.8,820.9 467.3,820.2 467.8,819.9 468.3,819.5 468.8,819.2 469.3,820.2 469.8,821.3 470.3,822.3 470.8,822.1 471.3,821.8 471.8,821.5 472.3,820.7 472.8,819.9 473.3,819 473.8,819.3 474.3,819.5 474.8,819.8 475.3,819.7 475.8,819.7 476.3,819.6 476.8,820.7 477.3,821.8 477.8,822.9 478.3,821.6 478.8,820.4 479.3,819.1 479.8,819.8 480.3,820.6 480.8,821.3 481.3,821.7 481.8,820.4 482.3,818.7 482.8,816.5 483.3,813.7 483.8,810 484.3,805.2 484.8,798.9 484.9,797.4 485.3,802.8 485.8,808.2 486.3,812.3 486.8,815.5 487.3,817.9 487.8,819.6 488.3,819.5 488.8,820.8 489.3,822 489.8,823.2 490.3,822.9 490.8,822.6 491.3,822.2 491.8,821.6 492.3,821 492.8,820.4 493.3,821.2 493.8,822 494.3,822.8 494.8,822.8 495.3,822.7 495.8,822.6 496.3,821.9 496.8,821.2 497.3,820.6 497.8,820.2 498.3,819.9 498.8,819.5 499.3,820.6 499.8,821.6 500.3,822.6 500.8,822.6 501.3,822.7 501.8,822.7 502.3,821.8 502.8,820.8 503.3,819.9 503.8,820.5 504.3,821 504.8,821.6 505.3,821.7 505.8,821.7 506.3,821.7 506.8,821.4 507.3,821.2 507.8,820.9 508.3,820.3 508.8,819.6 509.3,819 509.8,819.5 510.3,820 510.8,820.5 511.3,820.9 511.8,821.2 512.3,821.6 512.8,821.6 513.3,821.5 513.8,821.5 514.3,820.8 514.8,820.1 515.3,819.4 515.8,819.7 516.3,820 516.8,820.3 517.3,820.5 517.8,820.7 518.3,820.9 518.8,821.4 519.3,821.8 519.8,822.3 520.3,821.5 520.8,820.7 521.3,819.9 521.8,820.7 522.3,819.1 522.8,817 523.3,814.4 523.8,810.8 524.3,806.3 524.8,800.3 525.3,792.5 525.8,782.4 526.3,769.2 526.8,752 527.3,729.5 527.6,712.9 527.8,724.3 528.3,748 528.8,766.1 529.3,780 529.8,790.7 530.3,798.9 530.8,805.2 531.3,810 531.8,813.7 532.3,816.6 532.8,818.7 533.3,820.4 533.8,821.7 534.3,822.3 534.8,821.7 535.3,822.3 535.8,822.8 536.3,823.3 536.8,823.3 537.3,823.3 537.8,823.3 538.3,822.9 538.8,822.5 539.3,822 539.8,822 540.3,822 540.8,822 541.3,821.2 541.8,820.4 542.3,819.6 542.8,820.4 543.3,821.1 543.8,821.9 544.3,821.1 544.8,820.3 545.3,819.6 545.8,819.4 546.3,819.3 546.8,819.2 547.3,819.9 547.8,820.6 548.3,821.4 548.8,821.4 549.3,821.5 549.8,821.5 550.3,820.9 550.8,820.3 551.3,819.8 551.8,819.7 552.3,819.7 552.8,819.6 553.3,819.5 553.8,819.3 554.3,819.2 554.8,820.3 555.3,821.5 555.8,822.6 556.3,822.4 556.8,822.3 557.3,822.1 557.8,821.8 558.3,821.5 558.8,821.1 559.3,821.2 559.8,821.2 560.3,821.3 560.8,821.6 561.3,821.8 561.8,822.1 562.3,822.4 562.8,822.7 563.3,823 563.8,822.6 564.3,822.2 564.8,821.9 565.3,821.2 565.8,820.5 566.3,819.8 566.8,820.5 567.3,821.2 567.8,821.9 568.3,822 568.8,822.1 569.3,822.1 569.8,821.3 570.3,820.4 570.8,819.6 571.3,820.8 571.8,822.1 572.3,823.3 572.8,823 573.3,822.7 573.8,822.3 574.3,822.5 574.8,822.7 575.3,822.9 575.8,822.7 576.3,822.5 576.8,822.3 577.3,821.4 577.8,820.5 578.3,819.6 578.8,820.5 579.3,821.4 579.8,822.2 580.3,822.2 580.8,822.2 581.3,822.1 581.8,822.3 582.3,822.4 582.8,822.6 583.3,822.3 583.8,822 584.3,821.7 584.8,822.3 585.3,822.8 585.8,823.4 586.3,822.9 586.8,822.3 587.3,821.8 587.8,821.1 588.3,820.5 588.8,819.8 589.3,819.8 589.8,819.7 590.3,819.7 590.8,820.5 591.3,821.3 591.8,822.2 592.3,822.5 592.8,822.9 593.3,823.3 593.8,823.3 594.3,823.4 594.8,823.5 595.3,822.9 595.8,822.4 596.3,821.9 596.8,822.1 597.3,822 597.8,819.9 598.3,817.5 598.8,815.1 599.3,813.1 599.8,812.1 600,812 600.3,812.2 600.8,813.5 601.3,815.6 601.8,818 602.3,820.4 602.8,822 603.3,822.1 603.8,822.2 604.3,822.1 604.8,821.9 605.3,821.8 605.8,821.5 606.3,821.2 606.8,820.9 607.3,820.6 607.8,820.4 608.3,820.1 608.8,820 609.3,819.9 609.8,819.8 610.3,820.3 610.8,820.8 611.3,821.3 611.8,820.7 612.3,820.1 612.8,819.5 613.3,820.4 613.8,821.3 614.3,822.3 614.8,821.7 615.3,821.1 615.8,820.6 616.3,820.8 616.8,821 617.3,821.2 617.8,820.8 618.3,820.3 618.8,819.9 619.3,820.3 619.8,820.7 620.3,821.2 620.8,820.8 621.3,820.5 621.8,818.7 622.3,815.7 622.8,812.1 623.3,807.8 623.8,803.2 624.3,798.4 624.8,793.9 625.3,790 625.8,787.3 626.3,785.9 626.5,785.8 626.8,786.1 627.3,787.7 627.8,790.7 628.3,794.7 628.8,799.3 629.3,804.1 629.8,808.7 630.3,812.9 630.8,816.4 631.3,819.2 631.8,821.4 632.3,823 632.8,822.3 633.3,821.5 633.8,820.7 634.3,821.3 634.8,822 635.3,822.7 635.8,822 636.3,821.3 636.8,820.7 637.3,821.7 637.8,822.7 638.3,823.7 638.8,822.8 639.3,821.9 639.8,821 640.3,821.1 640.8,821.3 641.3,821.4 641.8,821 642.3,820.6 642.8,820.2 643.3,820.9 643.8,821.6 644.3,822.3 644.8,822.4 645.3,822.5 645.8,822.6 646.3,822.7 646.8,822.7 647.3,822.8 647.8,822.3 648.3,821.9 648.8,821.4 649.3,821.6 649.8,821.9 650.3,822.1 650.8,821.3 651.3,820.5 651.8,819.7 652.3,820.8 652.8,821.8 653.3,822.8 653.8,822.3 654.3,821.8 654.8,821.3 655.3,821.5 655.8,821.7 656.3,821.9 656.8,822.3 657.3,822.7 657.8,823.1 658.3,823.1 658.8,822.3 659.3,820.4 659.8,817.8 660.3,814.3 660.8,809.9 661.3,804.2 661.8,797.5 662.3,789.7 662.8,781 663.3,771.8 663.8,762.6 664.3,754 664.8,746.4 665.3,740.5 665.8,736.8 666.3,735.5 666.8,736.8 667.3,740.5 667.8,746.4 668.3,754 668.8,762.6 669.3,771.8 669.8,781 670.3,789.7 670.8,797.5 671.3,804.2 671.8,809.9 672.3,814.3 672.8,817.8 673.3,820.4 673.8,820.4 674.3,819.9 674.8,820.4 675.3,820.9 675.8,821.3 676.3,821.7 676.8,822.1 677.3,822.4 677.8,822.7 678.3,823 678.8,823.2 679.3,822.8 679.8,822.4 680.3,822 680.8,821.5 681.3,821.1 681.8,820.7 682.3,821.6 682.8,822.5 683.3,823.4 683.8,822.2 684.3,820.9 684.8,819.6 685.3,819.8 685.8,819.9 686.3,820 686.8,820.1 687.3,820.2 687.8,820.3 688.3,820.8 688.8,821.3 689.3,821.7 689.8,822.4 690.3,823 690.8,823.6 691.3,823.5 691.8,823.5 692.3,823.4 692.8,822.2 693.3,820.9 693.8,819.7 694.3,820.9 694.8,822.2 695.3,823.5 695.8,823.4 696.3,823.3 696.8,823.2 697.3,822.4 697.8,821.6 698.3,820.8 698.8,820.8 699.3,820.8 699.8,820.8 700.3,820.9 700.8,820.9 701.3,821 701.8,821.3 702.3,821.6 702.8,821.9 703.3,822.1 703.8,822.4 704.3,822.6 704.8,821.7 705.3,820.8 705.8,819.8 706.3,820 706.8,820.1 707.3,820.2 707.8,821.3 708.3,822.4 708.8,823.5 709.3,822.2 709.8,821 710.3,819.7 710.8,820.7 711.3,821.7 711.8,822.8 712.3,822.6 712.8,822.4 713.3,822.3 713.8,821.9 714.3,821.6 714.8,821.3 715.3,821 715.8,820.6 716.3,820.3 716.8,821 717.3,821.7 717.8,822.4 718.3,822.2 718.8,822 719.3,821.8 719.8,822.3 720.3,822.8 720.8,823.3 721.3,823.2 721.8,823 722.3,822.8 722.8,822.1 723.3,821.3 723.8,820.5 724.3,820.9 724.8,820.2 725.3,817.6 725.8,814.5 726.3,810.8 726.8,806.6 727.3,802.1 727.8,797.8 728.3,794 728.8,791 729.3,789.2 729.7,788.7 729.8,788.7 730.3,789.7 730.8,792 731.3,795.4 731.8,799.5 732.3,803.9 732.8,808.3 733.3,812.3 733.8,815.8 734.3,818.7 734.8,820.8 735.3,821.7 735.8,822.7 736.3,822 736.8,821.3 737.3,820.7 737.8,821.5 738.3,822.3 738.8,823.2 739.3,822.1 739.8,820.9 740.3,819.8 740.8,820.8 741.3,821.8 741.8,822.8 742.3,822.9 742.8,823.1 743.3,823.2 743.8,822.7 744.3,822.2 744.8,821.7 745.3,821.8 745.8,822 746.3,822.1 746.8,821.6 747.3,821.1 747.8,820.6 748.3,820.5 748.8,820.4 749.3,820.3 749.8,820.5 750.3,820.7 750.8,820.9 751.3,820.7 751.8,820.4 752.3,820.1 752.8,821.3 753.3,822.4 753.8,823.5 754.3,822.3 754.8,821.1 755.3,819.9 755.8,821.2 756.3,822.4 756.8,823.6 757.3,822.4 757.8,821.1 758.3,819.9 758.8,820.2 759.3,820.6 759.8,820.9 760.3,821 760.8,821.1 761.3,821.3 761.8,821.5 762.3,821.8 762.8,822.1 763.3,822.6 763.8,823.1 764.3,823.5 764.8,823.5 765.3,823.5 765.8,823.5 766.3,822.8 766.8,822.2 767.3,821.5 767.8,821.2 768.3,820.9 768.8,820.6 769.3,821 769.8,821.5 770.3,822 770.8,822.3 771.3,822.5 771.8,822.8 772.3,821.8 772.8,820.9 773.3,819.9 773.8,821.1 774.3,822.2 774.8,823.3 775.3,823.2 775.8,823 776.3,822.9 776.8,822.3 777.3,821.8 777.8,821.2 778.3,821.9 778.8,822.6 779.3,823.2 779.8,823.2 780.3,823.1 780.8,823 781.3,822.3 781.8,821.5 782.3,820.8 782.8,820.5 783.3,820.1 783.8,819.8 784.3,820.3 784.8,820.7 785.3,821.2 785.8,821 786.3,820.8 786.8,820.6 787.3,821.4 787.8,822.1 788.3,822.8 788.8,822.6 789.3,822.4 789.8,822.2 790.3,822.5 790.8,822.8 791.3,823.1 791.8,822.1 792.3,821.2 792.8,820.3 793.3,820.8 793.8,821.2 794.3,821.6 794.8,821.7 795.3,821.7 795.8,821.8 796.3,822.4 796.8,823 797.3,823.6 797.8,822.5 798.3,821.3 798.8,820.2 799.3,820.4 799.8,820.6 800.3,820.8 800.8,821.4 801.3,822 801.8,822.6 802.3,822.6 802.8,822.5 803.3,822.5 803.8,822.7 804.3,822.9 804.8,823.1 805.3,823.1 805.8,823.1 806.3,823.2 806.8,823.3 807.3,823.5 807.8,823.7 808.3,822.7 808.8,821.8 809.3,820.9 809.8,821.7 810.3,822.5 810.8,823.3 811.3,823.2 811.8,823 812.3,822.9 812.8,822.3 813.3,821.7 813.8,821.2 814.3,821.1 814.8,821 815.3,820.9 815.8,821.1 816.3,821.3 816.8,821.5 817.3,821.4 817.8,821.3 818.3,821.2 818.8,821.9 819.3,822.6 819.8,823.4 820.3,823.5 820.8,823.6 821.3,823.7 821.8,823.1 822.3,822.5 822.8,822 823.3,821.3 823.8,820.7 824.3,820 824.8,821.2 825.3,822.5 825.8,823.7 826.3,823.4 826.8,823.1 827.3,822.8 827.8,822.3 828.3,821.7 828.8,821.1 829.3,821.7 829.8,822.2 830.3,822.7 830.8,822.4 831.3,822.1 831.8,821.8 832.3,821.7 832.8,821.6 833.3,821.5 833.8,821.4 834.3,821.4 834.8,821.4 835.3,821.7 835.8,822.1 836.3,822.5 836.8,822.2 837.3,822 837.8,821.7 838.3,822.3 838.8,822.9 839.3,823.5 839.8,822.3 840.3,821 840.8,819.8 841.3,820.3 841.8,820.8 842.3,821.2 842.8,821.8 843.3,822.3 843.8,822.8 844.3,823 844.8,823.3 845.3,823.5 845.8,823.3 846.3,823.1 846.8,822.9 847.3,822.1 847.8,821.4 848.3,820.7 848.8,821.6 849.3,822.5 849.8,823.4 850.3,822.7 850.8,822 851.3,821.3 851.8,821.2 852.3,821 852.8,820.8 853.3,821.6 853.8,822.4 854.3,823.2 854.8,822.3 855.3,821.5 855.8,820.6 856.3,821 856.8,821.4 857.3,821.8 857.8,821.3 858.3,820.8 858.8,820.3 859.3,820.5 859.8,820.7 860.3,820.9 860.8,820.7 861.3,820.5 861.8,820.3 862.3,821.3 862.8,822.3 863.3,823.3 863.8,822.5 864.3,821.7 864.8,820.8 865.3,820.8 865.8,820.7 866.3,820.6 866.8,821.6 867.3,822.7 867.8,822.2 868.3,820.7 868.8,818.9 869.3,816.6 869.8,814 870.3,811.1 870.8,808 871.3,804.8 871.8,801.8 872.3,799.1 872.8,797 873.3,795.5 873.8,794.9 873.9,794.9 874.3,795.2 874.8,796.3 875.3,798.2 875.8,800.7 876.3,803.6 876.8,806.7 877.3,809.9 877.8,812.9 878.3,815.6 878.8,818 879.3,820 879.8,820.2 880.3,820.5 880.8,820.7 881.3,821 881.8,821.7 882.3,822.3 882.8,823 883.3,822.9 883.8,822.8 884.3,822.7 884.8,823 885.3,823.3 885.8,823.6 886.3,823.5 886.8,823.4 887.3,823.3 887.8,822.6 888.3,822 888.8,821.4 889.3,822.1 889.8,822.9 890.3,823.6 890.8,822.5 891.3,821.3 891.8,820.2 892.3,820.5 892.8,820.9 893.3,821.2 893.8,821.8 894.3,822.4 894.8,823 895.3,822.5 895.8,822.1 896.3,821.7 896.8,821.3 897.3,820.8 897.8,820.4 898.3,820.6 898.8,820.8 899.3,821.1 899.8,821 900.3,820.9 900.8,820.8 901.3,820.9 901.8,821.1 902.3,821.2 902.8,821.9 903.3,822.6 903.8,823.3 904.3,822.2 904.8,821.1 905.3,819.9 905.8,820.2 906.3,820.4 906.8,820.7 907.3,820.6 907.8,820.5 908.3,820.5 908.8,820.4 909.3,820.3 909.8,820.2 910.3,821.3 910.8,822.3 911.3,823.3 911.8,823.5 912.3,823.6 912.8,823.7 913.3,823.2 913.8,822.7 914.3,822.2 914.8,822.3 915.3,822.4 915.8,822.5 916.3,821.9 916.8,821.2 917.3,820.6 917.8,821.3 918.3,822 918.8,822.8 919.3,823.1 919.8,823.4" fill="none" stroke="#c81cc8" stroke-width="1.5" stroke-linejoin="round"/>
<polyline points="68.3,813.6 68.8,815.4 69.3,817.3 69.8,819.1 70.3,817.7 70.8,816.3 71.3,814.9 71.8,816.8 72.3,818.7 72.8,820.5 73.3,819.8 73.8,819 74.3,818.3 74.8,819 75.3,819.7 75.8,820.4 76.3,819.5 76.8,818.7 77.3,817.8 77.8,819.3 78.3,820.8 78.8,822.3 79.3,821.3 79.8,820.2 80.3,819.1 80.8,819.4 81.3,819.8 81.8,820.1 82.3,821 82.8,821.8 83.3,822.7 83.8,820.3 84.3,817.9 84.8,815.6 85.3,815.3 85.8,815 86.3,814.7 86.8,817.1 87.3,819.4 87.8,821.8 88.3,820.3 88.8,818.9 89.3,817.4 89.8,817.7 90.3,818.1 90.8,818.4 91.3,818.7 91.8,819.1 92.3,819.4 92.8,818.9 93.3,818.4 93.8,817.9 94.3,817.8 94.8,817.6 95.3,817.4 95.8,818.5 96.3,819.7 96.8,820.8 97.3,820.6 97.8,820.3 98.3,820.1 98.8,819.7 99.3,819.3 99.8,818.9 100.3,817.5 100.8,816.1 101.3,814.7 101.8,814.9 102.3,815.1 102.8,815.3 103.3,815.8 103.8,816.2 104.3,816.7 104.8,817.6 105.3,818.5 105.8,819.4 106.3,818.2 106.8,816.9 107.3,815.7 107.8,815.5 108.3,815.3 108.8,815.2 109.3,815.4 109.8,815.7 110.3,816 110.8,817.9 111.3,819.9 111.8,821.8 112.3,821.2 112.8,820.6 113.3,820 113.8,820.5 114.3,821 114.8,821.6 115.3,821 115.8,820.4 116.3,819.8 116.8,818.7 117.3,817.6 117.8,816.5 118.3,817.5 118.8,818.5 119.3,819.5 119.8,819.9 120.3,820.4 120.8,820.8 121.3,821.3 121.8,821.7 122.3,822.2 122.8,822.2 123.3,822.3 123.8,822.4 124.3,820.6 124.8,818.8 125.3,817.1 125.8,816.7 126.3,816.4 126.8,816.1 127.3,816.3 127.8,816.5 128.3,816.6 128.8,818.9 129.3,821.2 129.8,823.5 130.3,822.8 130.8,822.2 131.3,821.5 131.8,821.8 132.3,822.2 132.8,822.5 133.3,821.7 133.8,820.9 134.3,820.1 134.8,820.7 135.3,821.4 135.8,822.1 136.3,821.4 136.8,820.7 137.3,820 137.8,820.1 138.3,820.2 138.8,820.3 139.3,819.8 139.8,819.4 140.3,818.9 140.8,819.2 141.3,819.6 141.8,819.9 142.3,820.1 142.8,820.4 143.3,821.1 143.8,823.6 144.3,827.8 144.8,826.2 145.3,822.5 145.8,819.6 146.3,817.1 146.8,818.2 147.3,819.4 147.8,820.6 148.3,819.6 148.8,818.5 149.3,817.5 149.8,818.8 150.3,820.1 150.8,821.4 151.3,822 151.8,822.5 152.3,823.1 152.8,821 153.3,818.8 153.8,816.7 154.3,817.9 154.8,819.1 155.3,820.3 155.8,821 156.3,821.8 156.8,822.6 157.3,820.7 157.8,818.9 158.3,817.1 158.8,817.2 159.3,817.3 159.8,817.4 160.3,819.2 160.8,821.1 161.3,823 161.8,821.1 162.3,819.2 162.8,817.3 163.3,819.2 163.8,821 164.3,822.9 164.8,822.9 165.3,822.9 165.8,822.9 166.3,822.9 166.8,822.9 167.3,822.8 167.8,821.2 168.3,819.6 168.8,817.9 169.3,818.6 169.8,819.2 170.3,819.8 170.8,819.9 171.3,820 171.8,820.2 172.3,819.8 172.8,819.5 173.3,819.2 173.8,820.1 174.3,821 174.8,821.9 175.3,822.4 175.8,823 176.3,821.4 176.8,816.9 177.3,809 177.8,796.4 178.3,778 178.8,753.6 179.3,724.3 179.8,693.1 180.3,664.5 180.8,643.4 181.3,633.9 181.4,633.6 181.8,638 182.3,654.9 182.8,681.1 183.3,711.8 183.8,742.3 184.3,768.9 184.8,789.8 185.3,793.2 185.8,770.1 186.3,738.6 186.8,701 187.3,662.1 187.8,629 188.3,609.1 188.6,605.7 188.8,607.2 189.3,623.8 189.8,654.8 190.3,693.1 190.8,731.5 191.3,764.4 191.8,789.2 192.3,805.8 192.8,815.9 193.3,820.8 193.8,819.8 194.3,815 194.8,805.5 195.3,790.3 195.8,768 196.3,738.5 196.8,703.1 197.3,665.5 197.8,630.9 198.3,605.4 198.8,593.9 198.9,593.6 199.3,598.9 199.8,619.3 200.3,650.9 200.8,688.1 201.3,724.9 201.8,757.1 202.3,782.3 202.8,800.2 203.3,811.8 203.8,818.7 204.3,821 204.8,820.8 205.3,820.4 205.8,820.1 206.3,819.7 206.8,819.9 207.3,820.1 207.8,820.3 208.3,821 208.8,821.8 209.3,822.6 209.8,822.5 210.3,822.5 210.8,822.4 211.3,821 211.8,819.6 212.3,818.2 212.8,819.2 213.3,820.1 213.8,821 214.3,820.2 214.8,819.5 215.3,818.7 215.8,818.7 216.3,818.7 216.8,818.7 217.3,818.9 217.8,819.2 218.3,819.4 218.8,819.8 219.3,820.1 219.8,820.5 220.3,820.3 220.8,820.1 221.3,819.9 221.8,820.7 222.3,821.6 222.8,822.4 223.3,822.6 223.8,822.8 224.3,822.9 224.8,822.6 225.3,822.2 225.8,821.9 226.3,822.3 226.8,822.7 227.3,823.1 227.8,823.1 228.3,823.1 228.8,823.1 229.3,823.2 229.8,823.4 230.3,823.5 230.8,823.4 231.3,823.3 231.8,823.2 232.3,823.5 232.8,823.8 233.3,824.1 233.8,823.8 234.3,823.6 234.8,823.4 235.3,822.3 235.8,821.2 236.3,820.1 236.8,821.4 237.3,822.6 237.8,823.9 238.3,822.7 238.8,821.5 239.3,820.3 239.8,820.3 240.3,820.3 240.8,820.3 241.3,821.3 241.8,822.3 242.3,823.3 242.8,822.7 243.3,822.2 243.8,821.6 244.3,821.4 244.8,821.2 245.3,820.9 245.8,820.3 246.3,819.7 246.8,819.1 247.3,819.7 247.8,820.3 248.3,820.9 248.8,821.8 249.3,822.6 249.8,823.5 250.3,823.6 250.8,823.8 251.3,823.9 251.8,823.7 252.3,823.5 252.8,823.3 253.3,823.4 253.8,823.4 254.3,823.5 254.8,822.3 255.3,821.1 255.8,819.9 256.3,819.9 256.8,819.8 257.3,819.8 257.8,821.1 258.3,822.4 258.8,823.7 259.3,822.5 259.8,821.4 260.3,820.2 260.8,820 261.3,819.8 261.8,819.6 262.3,820.7 262.8,821.9 263.3,823.1 263.8,822.6 264.3,822.1 264.8,821.7 265.3,822.1 265.8,822.6 266.3,823.1 266.8,822.7 267.3,822.4 267.8,822.1 268.3,821.5 268.8,820.9 269.3,820.4 269.8,821.3 270.3,822.3 270.8,823.3 271.3,822.7 271.8,822.2 272.3,821.7 272.8,821.5 273.3,821.3 273.8,821.1 274.3,820.7 274.8,820.3 275.3,819.9 275.8,819.8 276.3,819.6 276.8,819.5 277.3,819.6 277.8,819.7 278.3,819.8 278.8,820.6 279.3,821.4 279.8,822.3 280.3,822.4 280.8,822.5 281.3,822.6 281.8,821.6 282.3,820.7 282.8,819.8 283.3,819.9 283.8,820 284.3,820 284.8,820.1 285.3,820.2 285.8,820.3 286.3,820.7 286.8,821 287.3,821.3 287.8,820.8 288.3,820.2 288.8,819.6 289.3,821 289.8,822.3 290.3,823.7 290.8,823.6 291.3,823.5 291.8,823.4 292.3,822.5 292.8,821.6 293.3,820.6 293.8,821.4 294.3,822.2 294.8,823 295.3,822.4 295.8,821.9 296.3,821.3 296.8,821.4 297.3,821.5 297.8,821.5 298.3,821.5 298.8,821.4 299.3,821.4 299.8,822 300.3,822.5 300.8,823.1 301.3,822 301.8,820.9 302.3,819.7 302.8,820.4 303.3,821 303.8,821.7 304.3,822.6 304.8,823.5 305.3,824.4 305.8,823.9 306.3,823.4 306.8,822.9 307.3,822.5 307.8,822.2 308.3,821.9 308.8,821.4 309.3,820.8 309.8,820.3 310.3,820.7 310.8,821.1 311.3,821.5 311.8,821 312.3,820.4 312.8,819.9 313.3,820.9 313.8,821.9 314.3,822.8 314.8,823.3 315.3,823.7 315.8,824.1 316.3,823.5 316.8,822.9 317.3,822.3 317.8,821.6 318.3,820.9 318.8,820.1 319.3,820.7 319.8,821.3 320.3,821.9 320.8,821.4 321.3,820.9 321.8,820.5 322.3,820.5 322.8,820.5 323.3,820.5 323.8,820.5 324.3,820.4 324.8,820.3 325.3,820.9 325.8,821.5 326.3,822.1 326.8,822.8 327.3,823.6 327.8,824.3 328.3,823.5 328.8,822.6 329.3,821.8 329.8,822.5 330.3,823.3 330.8,824 331.3,823.6 331.8,823.1 332.3,822.7 332.8,822.9 333.3,823.1 333.8,823.4 334.3,823.2 334.8,823 335.3,822.8 335.8,822.6 336.3,822.4 336.8,822.3 337.3,822 337.8,821.6 338.3,821.3 338.8,820.9 339.3,820.5 339.8,820.1 340.3,820.3 340.8,820.5 341.3,820.6 341.8,820.7 342.3,820.7 342.8,820.8 343.3,821.8 343.8,822.8 344.3,823.7 344.8,823.1 345.3,822.5 345.8,821.9 346.3,822.2 346.8,822.5 347.3,822.7 347.8,822.7 348.3,822.6 348.8,822.5 349.3,823 349.8,823.6 350.3,824.1 350.8,823.5 351.3,823 351.8,822.4 352.3,821.7 352.8,820.9 353.3,820.2 353.8,820.3 354.3,820.5 354.8,820.6 355.3,820.7 355.8,820.7 356.3,820.8 356.8,821.9 357.3,823 357.8,824 358.3,823 358.8,821.9 359.3,820.8 359.8,821.4 360.3,822.1 360.8,822.7 361.3,822.8 361.8,822.9 362.3,823 362.8,822.8 363.3,822.5 363.8,822.3 364.3,822.6 364.8,822.8 365.3,823.1 365.8,823.2 366.3,823.3 366.8,823.4 367.3,822.4 367.8,821.5 368.3,820.6 368.8,821 369.3,821.5 369.8,821.9 370.3,822.1 370.8,822.3 371.3,822.5 371.8,822.4 372.3,822.3 372.8,822.2 373.3,822.9 373.8,823.5 374.3,824.2 374.8,824.2 375.3,824.1 375.8,824.1 376.3,824.2 376.8,824.3 377.3,824.4 377.8,823.9 378.3,823.4 378.8,823 379.3,822.2 379.8,821.5 380.3,820.7 380.8,821.9 381.3,823.1 381.8,824.3 382.3,824 382.8,823.6 383.3,823.3 383.8,822.4 384.3,821.6 384.8,820.8 385.3,821.7 385.8,822.7 386.3,823.7 386.8,823.2 387.3,822.8 387.8,822.4 388.3,821.8 388.8,821.3 389.3,820.7 389.8,820.9 390.3,821.1 390.8,821.3 391.3,821.8 391.8,822.3 392.3,822.9 392.8,823 393.3,823.1 393.8,823.2 394.3,823.3 394.8,823.3 395.3,823.4 395.8,823.3 396.3,823.2 396.8,823.1 397.3,822.2 397.8,821.3 398.3,820.4 398.8,821 399.3,821.5 399.8,822.1 400.3,822.3 400.8,822.5 401.3,822.7 401.8,822 402.3,821.3 402.8,820.6 403.3,821.4 403.8,822.1 404.3,822.9 404.8,823.1 405.3,823.3 405.8,823.6 406.3,823.2 406.8,822.8 407.3,822.4 407.8,823 408.3,823.5 408.8,824.1 409.3,822.9 409.8,821.8 410.3,820.6 410.8,821.9 411.3,823.2 411.8,824.5 412.3,824 412.8,823.5 413.3,823 413.8,823.5 414.3,823.9 414.8,824.4 415.3,824.2 415.8,823.9 416.3,823.7 416.8,822.8 417.3,821.9 417.8,821 418.3,821.9 418.8,822.9 419.3,823.9 419.8,823.1 420.3,822.2 420.8,821.4 421.3,821.5 421.8,821.7 422.3,821.8 422.8,822.7 423.3,823.5 423.8,824.3 424.3,823.1 424.8,821.9 425.3,820.6 425.8,821.9 426.3,823.1 426.8,824.4 427.3,823.3 427.8,822.2 428.3,821.2 428.8,821 429.3,820.8 429.8,820.7 430.3,821.4 430.8,822.2 431.3,822.9 431.8,823 432.3,823 432.8,823 433.3,823 433.8,823 434.3,823 434.8,822.6 435.3,822.2 435.8,821.8 436.3,821.9 436.8,821.9 437.3,822 437.8,822.7 438.3,823.3 438.8,823.9 439.3,824 439.8,824 440.3,824 440.8,824 441.3,824 441.8,823.9 442.3,824 442.8,824.1 443.3,824.2 443.8,824.2 444.3,824.2 444.8,824.2 445.3,823.7 445.8,823.1 446.3,822.6 446.8,823.1 447.3,823.6 447.8,824.1 448.3,823.3 448.8,822.6 449.3,821.9 449.8,822.3 450.3,822.8 450.8,823.3 451.3,822.5 451.8,821.6 452.3,820.8 452.8,822 453.3,823.1 453.8,824.3 454.3,823.6 454.8,822.8 455.3,822.1 455.8,822.3 456.3,822.6 456.8,822.8 457.3,822.4 457.8,822 458.3,821.6 458.8,822.6 459.3,823.5 459.8,824.5 460.3,824.3 460.8,824.1 461.3,823.9 461.8,822.9 462.3,821.9 462.8,820.9 463.3,821.5 463.8,822.1 464.3,822.7 464.8,822.9 465.3,823 465.8,823.2 466.3,823.5 466.8,823.9 467.3,824.3 467.8,823.6 468.3,822.9 468.8,822.3 469.3,821.8 469.8,821.3 470.3,820.8 470.8,821.2 471.3,821.7 471.8,822.1 472.3,821.7 472.8,821.3 473.3,820.8 473.8,821.2 474.3,821.7 474.8,822.1 475.3,822.9 475.8,823.7 476.3,824.5 476.8,823.7 477.3,823 477.8,822.2 478.3,822.2 478.8,822.3 479.3,822.4 479.8,821.8 480.3,821.3 480.8,820.7 481.3,821 481.8,821.2 482.3,821.5 482.8,821.6 483.3,821.7 483.8,821.8 484.3,822.6 484.8,823.3 485.3,824.1 485.8,823.7 486.3,823.3 486.8,822.9 487.3,822.5 487.8,822.1 488.3,821.6 488.8,821.9 489.3,822.2 489.8,822.5 490.3,822.4 490.8,822.4 491.3,822.3 491.8,823 492.3,823.6 492.8,824.3 493.3,823.7 493.8,823.1 494.3,822.5 494.8,823.1 495.3,823.7 495.8,824.3 496.3,824.4 496.8,824.4 497.3,824.5 497.8,823.6 498.3,822.7 498.8,821.8 499.3,822.2 499.8,822.6 500.3,823 500.8,823.3 501.3,823.6 501.8,823.8 502.3,823.5 502.8,823.1 503.3,822.8 503.8,823.3 504.3,823.8 504.8,824.3 505.3,823.6 505.8,822.9 506.3,822.2 506.8,821.7 507.3,821.3 507.8,820.9 508.3,821.1 508.8,821.3 509.3,821.5 509.8,821.4 510.3,821.3 510.8,821.2 511.3,821.5 511.8,821.8 512.3,822 512.8,821.7 513.3,821.3 513.8,820.9 514.3,821.6 514.8,822.3 515.3,823 515.8,823.4 516.3,823.8 516.8,824.2 517.3,824.1 517.8,824 518.3,823.9 518.8,824.2 519.3,824.4 519.8,824.6 520.3,824.3 520.8,824.1 521.3,823.8 521.8,823.9 522.3,824.1 522.8,824.2 523.3,824.1 523.8,824.1 524.3,824 524.8,823.2 525.3,822.5 525.8,821.7 526.3,822.2 526.8,822.7 527.3,823.2 527.8,823.2 528.3,823.3 528.8,823.4 529.3,823.6 529.8,823.9 530.3,824.2 530.8,823.4 531.3,822.5 531.8,821.7 532.3,822.4 532.8,823 533.3,823.7 533.8,822.8 534.3,822 534.8,821.2 535.3,822.2 535.8,823.2 536.3,824.3 536.8,824.4 537.3,824.5 537.8,824.6 538.3,823.6 538.8,822.5 539.3,821.5 539.8,821.9 540.3,822.4 540.8,822.8 541.3,822.3 541.8,821.9 542.3,821.4 542.8,821.6 543.3,821.8 543.8,822 544.3,822 544.8,822 545.3,822 545.8,822.5 546.3,823.1 546.8,823.7 547.3,823.2 547.8,822.7 548.3,822.2 548.8,822.9 549.3,823.6 549.8,824.3 550.3,823.2 550.8,822.2 551.3,821.2 551.8,821.2 552.3,821.3 552.8,821.4 553.3,821.7 553.8,822 554.3,822.2 554.8,822.9 555.3,823.6 555.8,824.2 556.3,824.1 556.8,824 557.3,823.8 557.8,823.5 558.3,823.2 558.8,822.9 559.3,823.3 559.8,823.7 560.3,824.2 560.8,823.1 561.3,822 561.8,821 562.3,821 562.8,821.1 563.3,821.1 563.8,821.7 564.3,822.3 564.8,822.8 565.3,823.1 565.8,823.4 566.3,823.7 566.8,823.4 567.3,823.1 567.8,822.7 568.3,822.1 568.8,821.5 569.3,820.9 569.8,821.6 570.3,822.3 570.8,823 571.3,822.6 571.8,822.2 572.3,821.9 572.8,822.2 573.3,822.6 573.8,822.9 574.3,823.3 574.8,823.7 575.3,824.2 575.8,823.9 576.3,823.7 576.8,823.5 577.3,823.4 577.8,823.2 578.3,823 578.8,822.7 579.3,822.4 579.8,822.1 580.3,822.5 580.8,822.8 581.3,823.2 581.8,823.4 582.3,823.6 582.8,823.8 583.3,824 583.8,824.2 584.3,824.3 584.8,823.3 585.3,822.2 585.8,821.1 586.3,821.3 586.8,821.4 587.3,821.5 587.8,822 588.3,822.5 588.8,823.1 589.3,822.6 589.8,822.2 590.3,821.8 590.8,822.3 591.3,822.7 591.8,823.1 592.3,823.3 592.8,823.5 593.3,823.7 593.8,823.9 594.3,824.1 594.8,824.4 595.3,823.7 595.8,823 596.3,822.3 596.8,823.1 597.3,823.9 597.8,824.6 598.3,823.5 598.8,822.4 599.3,821.3 599.8,822.2 600.3,823.1 600.8,824.1 601.3,823.1 601.8,822.2 602.3,821.2 602.8,821.9 603.3,822.5 603.8,823.2 604.3,822.8 604.8,822.5 605.3,822.1 605.8,822.7 606.3,823.3 606.8,824 607.3,823.9 607.8,823.9 608.3,823.9 608.8,823.2 609.3,822.5 609.8,821.8 610.3,822.1 610.8,822.3 611.3,822.6 611.8,822.6 612.3,822.6 612.8,822.6 613.3,822.8 613.8,823.1 614.3,823.3 614.8,823 615.3,822.7 615.8,822.4 616.3,821.9 616.8,821.5 617.3,821 617.8,821 618.3,821.1 618.8,821.1 619.3,821.2 619.8,821.3 620.3,821.4 620.8,821.8 621.3,822.2 621.8,822.6 622.3,822.8 622.8,822.9 623.3,822 623.8,819.9 624.3,817.5 624.8,815.1 625.3,813.1 625.8,812.1 626,812 626.3,812.2 626.8,813.5 627.3,815.6 627.8,818 628.3,820.4 628.8,822.4 629.3,822.7 629.8,823.4 630.3,824 630.8,824.6 631.3,823.9 631.8,823.1 632.3,822.3 632.8,822.5 633.3,822.6 633.8,822.8 634.3,823.2 634.8,823.7 635.3,824.2 635.8,823.2 636.3,822.2 636.8,821.2 637.3,821.4 637.8,821.7 638.3,822 638.8,822.3 639.3,822.6 639.8,822.8 640.3,822.4 640.8,822 641.3,821.6 641.8,821.9 642.3,822.3 642.8,822.6 643.3,822.7 643.8,822.7 644.3,822.8 644.8,823.4 645.3,824 645.8,824.6 646.3,823.8 646.8,822.9 647.3,822.1 647.8,822.3 648.3,822.6 648.8,822.9 649.3,822.8 649.8,822.8 650.3,822.7 650.8,822.7 651.3,822.6 651.8,822.5 652.3,822.3 652.8,822.1 653.3,821.9 653.8,822 654.3,822 654.8,822.1 655.3,822.1 655.8,822.1 656.3,822.2 656.8,821.8 657.3,821.4 657.8,821 658.3,821.7 658.8,822.5 659.3,823.2 659.8,822.5 660.3,821.8 660.8,821.1 661.3,822.2 661.8,823.2 662.3,824.3 662.8,823.4 663.3,822.5 663.8,821.5 664.3,821.8 664.8,822.2 665.3,822.5 665.8,821.2 666.3,819.3 666.8,817.4 667.3,815.9 667.8,815.1 668,815 668.3,815.2 668.8,816.2 669.3,817.8 669.8,819.7 670.3,821.6 670.8,823.1 671.3,823.3 671.8,823.1 672.3,823 672.8,822.9 673.3,823.5 673.8,824.1 674.3,824.7 674.8,823.8 675.3,822.9 675.8,822.1 676.3,821.9 676.8,821.7 677.3,821.5 677.8,821.8 678.3,822.2 678.8,822.6 679.3,822.4 679.8,822.2 680.3,822.1 680.8,822.8 681.3,823.5 681.8,824.3 682.3,824 682.8,823.7 683.3,823.4 683.8,823.8 684.3,824.2 684.8,824.6 685.3,823.4 685.8,822.2 686.3,821.1 686.8,821.1 687.3,821.2 687.8,821.2 688.3,821.8 688.8,822.4 689.3,823 689.8,823.3 690.3,823.6 690.8,823.8 691.3,823.4 691.8,822.9 692.3,822.4 692.8,822.2 693.3,822 693.8,821.9 694.3,822.6 694.8,823.3 695.3,824 695.8,823.9 696.3,823.9 696.8,823.8 697.3,823.1 697.8,822.4 698.3,821.7 698.8,821.9 699.3,822 699.8,822.2 700.3,822.8 700.8,823.5 701.3,824.1 701.8,823.9 702.3,823.7 702.8,823.5 703.3,822.9 703.8,822.3 704.3,821.7 704.8,822 705.3,822.2 705.8,822.5 706.3,822 706.8,821.5 707.3,821 707.8,821.1 708.3,821.2 708.8,821.3 709.3,821.9 709.8,822.5 710.3,823.1 710.8,822.5 711.3,821.9 711.8,821.3 712.3,822.4 712.8,823.4 713.3,824.5 713.8,823.8 714.3,823.1 714.8,822.4 715.3,822 715.8,821.6 716.3,821.1 716.8,822.1 717.3,823 717.8,824 718.3,823.3 718.8,822.5 719.3,821.7 719.8,822.2 720.3,822.7 720.8,823.2 721.3,823.7 721.8,824.1 722.3,824.6 722.8,824 723.3,823.5 723.8,823 724.3,822.5 724.8,822.1 725.3,821.7 725.8,822.2 726.3,822.6 726.8,823.1 727.3,823.6 727.8,824 728.3,824.4 728.8,824.2 729.3,823.9 729.8,823.7 730.3,823.4 730.8,823.2 731.3,823 731.8,822.6 732.3,822.3 732.8,822 733.3,822.8 733.8,823.5 734.3,824.3 734.8,823.7 735.3,823.1 735.8,822.5 736.3,822.8 736.8,823.2 737.3,823.6 737.8,823.3 738.3,823.1 738.8,822.8 739.3,822.3 739.8,821.7 740.3,821.2 740.8,821.3 741.3,821.5 741.8,821.6 742.3,822.6 742.8,823.5 743.3,824.5 743.8,823.7 744.3,822.8 744.8,822 745.3,822.3 745.8,822.5 746.3,822.8 746.8,822.8 747.3,822.8 747.8,822.9 748.3,822.3 748.8,821.8 749.3,821.2 749.8,821.5 750.3,821.7 750.8,822 751.3,822.8 751.8,823.6 752.3,824.5 752.8,823.8 753.3,823.1 753.8,822.4 754.3,822.1 754.8,821.7 755.3,821.4 755.8,822.3 756.3,823.2 756.8,824 757.3,823.7 757.8,823.3 758.3,822.9 758.8,823.5 759.3,824 759.8,824.6 760.3,823.7 760.8,822.8 761.3,822 761.8,822.6 762.3,823.2 762.8,823.8 763.3,823.4 763.8,822.9 764.3,822.5 764.8,822.6 765.3,822.7 765.8,822.8 766.3,822.4 766.8,822 767.3,821.7 767.8,822.2 768.3,822.7 768.8,823.3 769.3,823.7 769.8,824.1 770.3,824.5 770.8,824.1 771.3,823.6 771.8,823.2 772.3,822.5 772.8,821.9 773.3,821.3 773.8,821.8 774.3,822.4 774.8,822.9 775.3,823.4 775.8,823.8 776.3,824.2 776.8,823.9 777.3,823.6 777.8,823.4 778.3,823.5 778.8,823.7 779.3,823.9 779.8,823.6 780.3,823.3 780.8,823 781.3,822.5 781.8,822 782.3,821.5 782.8,821.3 783.3,821.2 783.8,821.1 784.3,821.4 784.8,821.7 785.3,822 785.8,822 786.3,821.9 786.8,821.9 787.3,822.4 787.8,822.9 788.3,823.4 788.8,822.8 789.3,822.3 789.8,821.7 790.3,821.9 790.8,822.2 791.3,822.4 791.8,822.6 792.3,822.8 792.8,823 793.3,822.8 793.8,822.6 794.3,822.4 794.8,822.9 795.3,823.4 795.8,823.9 796.3,824.2 796.8,824.4 797.3,824.7 797.8,824 798.3,823.4 798.8,822.7 799.3,822.3 799.8,822 800.3,821.7 800.8,822.3 801.3,823 801.8,823.6 802.3,823 802.8,822.4 803.3,821.8 803.8,822.5 804.3,823.1 804.8,823.8 805.3,823.6 805.8,823.4 806.3,823.2 806.8,823.1 807.3,823 807.8,822.9 808.3,822.8 808.8,822.7 809.3,822.6 809.8,822.7 810.3,822.9 810.8,823.1 811.3,823.3 811.8,823.6 812.3,823.8 812.8,823.1 813.3,822.4 813.8,821.6 814.3,821.8 814.8,822 815.3,822.2 815.8,822.7 816.3,823.3 816.8,823.9 817.3,823.1 817.8,822.2 818.3,821.3 818.8,821.3 819.3,821.2 819.8,821.1 820.3,822 820.8,822.9 821.3,823.9 821.8,823.3 822.3,822.7 822.8,822.1 823.3,822.5 823.8,822.8 824.3,823.1 824.8,823.1 825.3,823.1 825.8,823.1 826.3,822.5 826.8,821.8 827.3,821.2 827.8,822.2 828.3,823.1 828.8,824.1 829.3,824 829.8,824 830.3,823.9 830.8,823.9 831.3,823.9 831.8,823.9 832.3,824 832.8,824 833.3,824 833.8,823.1 834.3,822.1 834.8,821.2 835.3,822.2 835.8,823.2 836.3,824.2 836.8,823.6 837.3,823.1 837.8,822.5 838.3,822.5 838.8,822.4 839.3,822.4 839.8,822.1 840.3,821.8 840.8,821.5 841.3,821.7 841.8,821.9 842.3,822 842.8,822.2 843.3,822.4 843.8,822.6 844.3,822.2 844.8,821.8 845.3,821.4 845.8,821.7 846.3,822 846.8,822.2 847.3,822.2 847.8,822.1 848.3,822 848.8,822.9 849.3,823.8 849.8,824.6 850.3,824.2 850.8,823.8 851.3,823.4 851.8,823.6 852.3,823.9 852.8,824.2 853.3,824.1 853.8,824 854.3,824 854.8,823.1 855.3,822.3 855.8,821.5 856.3,822 856.8,822.4 857.3,822.9 857.8,822.7 858.3,822.6 858.8,822.4 859.3,823.1 859.8,823.7 860.3,824.4 860.8,823.8 861.3,823.2 861.8,822.5 862.3,822.9 862.8,823.2 863.3,823.6 863.8,822.8 864.3,822.1 864.8,821.3 865.3,821.8 865.8,822.4 866.3,822.9 866.8,823.1 867.3,823.2 867.8,823.4 868.3,823.7 868.8,824.1 869.3,824.4 869.8,824 870.3,823.7 870.8,823.4 871.3,822.9 871.8,822.5 872.3,822.1 872.8,822.7 873.3,823.2 873.8,823.8 874.3,823 874.8,822.2 875.3,821.3 875.8,821.5 876.3,821.7 876.8,821.9 877.3,822.8 877.8,823.7 878.3,824.6 878.8,824.4 879.3,824.3 879.8,824.1 880.3,823.8 880.8,823.5 881.3,823.2 881.8,823.4 882.3,823.5 882.8,823.7 883.3,823.1 883.8,822.6 884.3,822 884.8,822.9 885.3,823.7 885.8,824.6 886.3,824.4 886.8,824.3 887.3,824.2 887.8,823.4 888.3,822.7 888.8,821.9 889.3,822 889.8,822 890.3,822.1 890.8,822.1 891.3,822.2 891.8,822.3 892.3,822.4 892.8,822.5 893.3,822.6 893.8,822.3 894.3,821.9 894.8,821.6 895.3,821.5 895.8,821.5 896.3,821.5 896.8,821.6 897.3,821.8 897.8,822 898.3,822 898.8,822 899.3,822 899.8,821.9 900.3,821.7 900.8,821.6 901.3,821.8 901.8,821.9 902.3,822 902.8,821.9 903.3,821.8 903.8,821.7 904.3,821.7 904.8,821.7 905.3,821.8 905.8,821.7 906.3,821.6 906.8,821.6 907.3,821.6 907.8,821.6 908.3,821.6 908.8,822 909.3,822.3 909.8,822.6 910.3,822.2 910.8,821.7 911.3,821.2 911.8,821.8 912.3,822.5 912.8,823.1 913.3,823.5 913.8,823.9 914.3,824.4 914.8,824.1 915.3,823.8 915.8,823.5 916.3,822.8 916.8,822.2 917.3,821.5 917.8,822.2 918.3,823 918.8,823.7 919.3,823.7 919.8,823.6" fill="none" stroke="#2ccaf2" stroke-width="1.5" stroke-linejoin="round"/>
<line x1="191.8" y1="52.4" x2="191.8" y2="216" stroke="#7474b4" stroke-width="1.3"/>
<line x1="191.8" y1="214" x2="191.8" y2="420" stroke="#0c0c78" stroke-width="2.6"/>
<polyline points="396,824.1 396.2,823.7 396.5,823.1 396.8,822.4 397,821.6 397.2,820.4 397.5,819.1 397.8,818.9 398,818.9 398.2,818.9 398.5,818.9 398.8,818.9 399,818.9 399.2,818.9 399.5,818.9 399.8,818.9 400,818.9 400.2,818.9 400.5,818.9 400.8,818.9 401,818.9 401.2,818.9 401.5,818.9 401.8,818.9 402,818.9 402.2,818.9 402.5,818.9 402.8,818.9 403,818.9 403.2,818.9 403.5,818.9 403.8,818.9 404,818.9 404.2,818.9 404.5,818.9 404.8,818.9 405,818.9 405.2,818.9 405.5,818.9 405.8,818.9 406,818.9 406.2,818.9 406.5,819.1 406.8,820.4 407,821.6 407.2,822.4 407.5,823.1 407.8,823.7 408,824.1 408.2,824.5 408.5,824.8 408.8,825 409,825.2" fill="none" stroke="#a87c8c" stroke-width="1.5"/>
<line x1="402" y1="293.1" x2="402" y2="418" stroke="#3a0818" stroke-width="1.3"/>
<rect x="67.7" y="10" width="852.9" height="866.7" fill="none" stroke="#3a3a3a" stroke-width="2"/>
<line x1="63.5" y1="854.4" x2="67.7" y2="854.4" stroke="#333" stroke-width="1.4"/>
<line x1="58.7" y1="825.9" x2="67.7" y2="825.9" stroke="#333" stroke-width="1.6"/>
<text x="56" y="830.9" font-size="14.3" text-anchor="end" fill="#2a2a2a" font-weight="bold" font-family="'Liberation Sans', Arial, sans-serif">0.0</text>
<line x1="63.5" y1="797.4" x2="67.7" y2="797.4" stroke="#333" stroke-width="1.4"/>
<line x1="63.5" y1="769" x2="67.7" y2="769" stroke="#333" stroke-width="1.4"/>
<line x1="63.5" y1="740.5" x2="67.7" y2="740.5" stroke="#333" stroke-width="1.4"/>
<line x1="63.5" y1="712.1" x2="67.7" y2="712.1" stroke="#333" stroke-width="1.4"/>
<line x1="58.7" y1="683.6" x2="67.7" y2="683.6" stroke="#333" stroke-width="1.6"/>
<text x="56" y="688.6" font-size="14.3" text-anchor="end" fill="#2a2a2a" font-weight="bold" font-family="'Liberation Sans', Arial, sans-serif">0.5</text>
<line x1="63.5" y1="655.1" x2="67.7" y2="655.1" stroke="#333" stroke-width="1.4"/>
<line x1="63.5" y1="626.7" x2="67.7" y2="626.7" stroke="#333" stroke-width="1.4"/>
<line x1="63.5" y1="598.2" x2="67.7" y2="598.2" stroke="#333" stroke-width="1.4"/>
<line x1="63.5" y1="569.8" x2="67.7" y2="569.8" stroke="#333" stroke-width="1.4"/>
<line x1="58.7" y1="541.3" x2="67.7" y2="541.3" stroke="#333" stroke-width="1.6"/>
<text x="56" y="546.3" font-size="14.3" text-anchor="end" fill="#2a2a2a" font-weight="bold" font-family="'Liberation Sans', Arial, sans-serif">1.0</text>
<line x1="63.5" y1="512.8" x2="67.7" y2="512.8" stroke="#333" stroke-width="1.4"/>
<line x1="63.5" y1="484.4" x2="67.7" y2="484.4" stroke="#333" stroke-width="1.4"/>
<line x1="63.5" y1="455.9" x2="67.7" y2="455.9" stroke="#333" stroke-width="1.4"/>
<line x1="63.5" y1="427.5" x2="67.7" y2="427.5" stroke="#333" stroke-width="1.4"/>
<line x1="58.7" y1="399" x2="67.7" y2="399" stroke="#333" stroke-width="1.6"/>
<text x="56" y="404" font-size="14.3" text-anchor="end" fill="#2a2a2a" font-weight="bold" font-family="'Liberation Sans', Arial, sans-serif">1.5</text>
<line x1="63.5" y1="370.5" x2="67.7" y2="370.5" stroke="#333" stroke-width="1.4"/>
<line x1="63.5" y1="342.1" x2="67.7" y2="342.1" stroke="#333" stroke-width="1.4"/>
<line x1="63.5" y1="313.6" x2="67.7" y2="313.6" stroke="#333" stroke-width="1.4"/>
<line x1="63.5" y1="285.2" x2="67.7" y2="285.2" stroke="#333" stroke-width="1.4"/>
<line x1="58.7" y1="256.7" x2="67.7" y2="256.7" stroke="#333" stroke-width="1.6"/>
<text x="56" y="261.7" font-size="14.3" text-anchor="end" fill="#2a2a2a" font-weight="bold" font-family="'Liberation Sans', Arial, sans-serif">2.0</text>
<line x1="63.5" y1="228.2" x2="67.7" y2="228.2" stroke="#333" stroke-width="1.4"/>
<line x1="63.5" y1="199.8" x2="67.7" y2="199.8" stroke="#333" stroke-width="1.4"/>
<line x1="63.5" y1="171.3" x2="67.7" y2="171.3" stroke="#333" stroke-width="1.4"/>
<line x1="63.5" y1="142.9" x2="67.7" y2="142.9" stroke="#333" stroke-width="1.4"/>
<line x1="58.7" y1="114.4" x2="67.7" y2="114.4" stroke="#333" stroke-width="1.6"/>
<text x="56" y="119.4" font-size="14.3" text-anchor="end" fill="#2a2a2a" font-weight="bold" font-family="'Liberation Sans', Arial, sans-serif">2.5</text>
<line x1="63.5" y1="85.9" x2="67.7" y2="85.9" stroke="#333" stroke-width="1.4"/>
<line x1="63.5" y1="57.5" x2="67.7" y2="57.5" stroke="#333" stroke-width="1.4"/>
<line x1="63.5" y1="29" x2="67.7" y2="29" stroke="#333" stroke-width="1.4"/>
<line x1="76.9" y1="876.7" x2="76.9" y2="880.3" stroke="#333" stroke-width="1.4"/>
<line x1="93.3" y1="876.7" x2="93.3" y2="880.3" stroke="#333" stroke-width="1.4"/>
<line x1="109.6" y1="876.7" x2="109.6" y2="880.3" stroke="#333" stroke-width="1.4"/>
<line x1="125.9" y1="876.7" x2="125.9" y2="880.3" stroke="#333" stroke-width="1.4"/>
<line x1="142.2" y1="876.7" x2="142.2" y2="882.6" stroke="#333" stroke-width="1.6"/>
<text x="142.2" y="898.5" font-size="14.3" text-anchor="middle" fill="#333" font-weight="bold" font-family="'Liberation Sans', Arial, sans-serif">3000</text>
<line x1="158.5" y1="876.7" x2="158.5" y2="880.3" stroke="#333" stroke-width="1.4"/>
<line x1="174.8" y1="876.7" x2="174.8" y2="880.3" stroke="#333" stroke-width="1.4"/>
<line x1="191.1" y1="876.7" x2="191.1" y2="880.3" stroke="#333" stroke-width="1.4"/>
<line x1="207.5" y1="876.7" x2="207.5" y2="880.3" stroke="#333" stroke-width="1.4"/>
<line x1="223.8" y1="876.7" x2="223.8" y2="882.6" stroke="#333" stroke-width="1.6"/>
<text x="223.8" y="898.5" font-size="14.3" text-anchor="middle" fill="#333" font-weight="bold" font-family="'Liberation Sans', Arial, sans-serif">4000</text>
<line x1="240.1" y1="876.7" x2="240.1" y2="880.3" stroke="#333" stroke-width="1.4"/>
<line x1="256.4" y1="876.7" x2="256.4" y2="880.3" stroke="#333" stroke-width="1.4"/>
<line x1="272.7" y1="876.7" x2="272.7" y2="880.3" stroke="#333" stroke-width="1.4"/>
<line x1="289" y1="876.7" x2="289" y2="880.3" stroke="#333" stroke-width="1.4"/>
<line x1="305.4" y1="876.7" x2="305.4" y2="882.6" stroke="#333" stroke-width="1.6"/>
<text x="305.4" y="898.5" font-size="14.3" text-anchor="middle" fill="#333" font-weight="bold" font-family="'Liberation Sans', Arial, sans-serif">5000</text>
<line x1="321.7" y1="876.7" x2="321.7" y2="880.3" stroke="#333" stroke-width="1.4"/>
<line x1="338" y1="876.7" x2="338" y2="880.3" stroke="#333" stroke-width="1.4"/>
<line x1="354.3" y1="876.7" x2="354.3" y2="880.3" stroke="#333" stroke-width="1.4"/>
<line x1="370.6" y1="876.7" x2="370.6" y2="880.3" stroke="#333" stroke-width="1.4"/>
<line x1="386.9" y1="876.7" x2="386.9" y2="882.6" stroke="#333" stroke-width="1.6"/>
<text x="386.9" y="898.5" font-size="14.3" text-anchor="middle" fill="#333" font-weight="bold" font-family="'Liberation Sans', Arial, sans-serif">6000</text>
<line x1="403.3" y1="876.7" x2="403.3" y2="880.3" stroke="#333" stroke-width="1.4"/>
<line x1="419.6" y1="876.7" x2="419.6" y2="880.3" stroke="#333" stroke-width="1.4"/>
<line x1="435.9" y1="876.7" x2="435.9" y2="880.3" stroke="#333" stroke-width="1.4"/>
<line x1="452.2" y1="876.7" x2="452.2" y2="880.3" stroke="#333" stroke-width="1.4"/>
<line x1="468.5" y1="876.7" x2="468.5" y2="882.6" stroke="#333" stroke-width="1.6"/>
<text x="468.5" y="898.5" font-size="14.3" text-anchor="middle" fill="#333" font-weight="bold" font-family="'Liberation Sans', Arial, sans-serif">7000</text>
<line x1="484.8" y1="876.7" x2="484.8" y2="880.3" stroke="#333" stroke-width="1.4"/>
<line x1="501.2" y1="876.7" x2="501.2" y2="880.3" stroke="#333" stroke-width="1.4"/>
<line x1="517.5" y1="876.7" x2="517.5" y2="880.3" stroke="#333" stroke-width="1.4"/>
<line x1="533.8" y1="876.7" x2="533.8" y2="880.3" stroke="#333" stroke-width="1.4"/>
<line x1="550.1" y1="876.7" x2="550.1" y2="882.6" stroke="#333" stroke-width="1.6"/>
<text x="550.1" y="898.5" font-size="14.3" text-anchor="middle" fill="#333" font-weight="bold" font-family="'Liberation Sans', Arial, sans-serif">8000</text>
<line x1="566.4" y1="876.7" x2="566.4" y2="880.3" stroke="#333" stroke-width="1.4"/>
<line x1="582.7" y1="876.7" x2="582.7" y2="880.3" stroke="#333" stroke-width="1.4"/>
<line x1="599" y1="876.7" x2="599" y2="880.3" stroke="#333" stroke-width="1.4"/>
<line x1="615.4" y1="876.7" x2="615.4" y2="880.3" stroke="#333" stroke-width="1.4"/>
<line x1="631.7" y1="876.7" x2="631.7" y2="882.6" stroke="#333" stroke-width="1.6"/>
<text x="631.7" y="898.5" font-size="14.3" text-anchor="middle" fill="#333" font-weight="bold" font-family="'Liberation Sans', Arial, sans-serif">9000</text>
<line x1="648" y1="876.7" x2="648" y2="880.3" stroke="#333" stroke-width="1.4"/>
<line x1="664.3" y1="876.7" x2="664.3" y2="880.3" stroke="#333" stroke-width="1.4"/>
<line x1="680.6" y1="876.7" x2="680.6" y2="880.3" stroke="#333" stroke-width="1.4"/>
<line x1="696.9" y1="876.7" x2="696.9" y2="880.3" stroke="#333" stroke-width="1.4"/>
<line x1="713.3" y1="876.7" x2="713.3" y2="882.6" stroke="#333" stroke-width="1.6"/>
<text x="713.3" y="898.5" font-size="14.3" text-anchor="middle" fill="#333" font-weight="bold" font-family="'Liberation Sans', Arial, sans-serif">10000</text>
<line x1="729.6" y1="876.7" x2="729.6" y2="880.3" stroke="#333" stroke-width="1.4"/>
<line x1="745.9" y1="876.7" x2="745.9" y2="880.3" stroke="#333" stroke-width="1.4"/>
<line x1="762.2" y1="876.7" x2="762.2" y2="880.3" stroke="#333" stroke-width="1.4"/>
<line x1="778.5" y1="876.7" x2="778.5" y2="880.3" stroke="#333" stroke-width="1.4"/>
<line x1="794.8" y1="876.7" x2="794.8" y2="882.6" stroke="#333" stroke-width="1.6"/>
<text x="794.8" y="898.5" font-size="14.3" text-anchor="middle" fill="#333" font-weight="bold" font-family="'Liberation Sans', Arial, sans-serif">11000</text>
<line x1="811.2" y1="876.7" x2="811.2" y2="880.3" stroke="#333" stroke-width="1.4"/>
<line x1="827.5" y1="876.7" x2="827.5" y2="880.3" stroke="#333" stroke-width="1.4"/>
<line x1="843.8" y1="876.7" x2="843.8" y2="880.3" stroke="#333" stroke-width="1.4"/>
<line x1="860.1" y1="876.7" x2="860.1" y2="880.3" stroke="#333" stroke-width="1.4"/>
<line x1="876.4" y1="876.7" x2="876.4" y2="882.6" stroke="#333" stroke-width="1.6"/>
<text x="876.4" y="898.5" font-size="14.3" text-anchor="middle" fill="#333" font-weight="bold" font-family="'Liberation Sans', Arial, sans-serif">12000</text>
<line x1="892.7" y1="876.7" x2="892.7" y2="880.3" stroke="#333" stroke-width="1.4"/>
<line x1="909.1" y1="876.7" x2="909.1" y2="880.3" stroke="#333" stroke-width="1.4"/>
<text x="896" y="912.5" font-size="14" text-anchor="start" fill="#333" font-weight="bold" font-family="'Liberation Sans', Arial, sans-serif" textLength="23" lengthAdjust="spacingAndGlyphs">m/z</text>
<text x="27" y="24.7" font-size="13.5" text-anchor="start" fill="#333" font-weight="bold" font-family="'Liberation Sans', Arial, sans-serif" textLength="23" lengthAdjust="spacingAndGlyphs">x10</text>
<text x="53.8" y="17.8" font-size="10" text-anchor="start" fill="#333" font-weight="bold" font-family="'Liberation Sans', Arial, sans-serif">4</text>
<text x="19.5" y="89" font-size="14.3" text-anchor="start" fill="#333" font-weight="bold" font-family="'Liberation Sans', Arial, sans-serif" textLength="79" lengthAdjust="spacingAndGlyphs" transform="rotate(-90 19.5 89)">Intens. [a.u.]</text>
<text x="86" y="65.5" font-size="72" text-anchor="start" fill="#000" font-weight="normal" font-family="'Liberation Serif', 'Times New Roman', serif">A</text>
<text x="71.9" y="603.8" font-size="15.2" text-anchor="start" fill="#333" font-weight="normal" font-family="'Liberation Sans', Arial, sans-serif" textLength="62.3" lengthAdjust="spacingAndGlyphs" stroke="#333" stroke-width="0.35">2503.596</text>
<line x1="70.9" y1="608.1" x2="134.2" y2="608.1" stroke="#444" stroke-width="1.7"/>
<line x1="102.8" y1="610.6" x2="102.8" y2="620" stroke="#333" stroke-width="1.5" stroke-dasharray="2.5 3.5"/>
<text x="143.8" y="620.5" font-size="15.2" text-anchor="start" fill="#333" font-weight="normal" font-family="'Liberation Sans', Arial, sans-serif" textLength="61.8" lengthAdjust="spacingAndGlyphs" stroke="#333" stroke-width="0.35">3385.760</text>
<line x1="142.8" y1="624.7" x2="205.6" y2="624.7" stroke="#444" stroke-width="1.7"/>
<line x1="174.3" y1="627.2" x2="174.3" y2="633" stroke="#333" stroke-width="1.5" stroke-dasharray="2.5 3.5"/>
<text x="168" y="646.2" font-size="15.2" text-anchor="start" fill="#333" font-weight="normal" font-family="'Liberation Sans', Arial, sans-serif" textLength="62.4" lengthAdjust="spacingAndGlyphs" stroke="#333" stroke-width="0.35">3690.424</text>
<line x1="167" y1="650.4" x2="230.4" y2="650.4" stroke="#444" stroke-width="1.7"/>
<line x1="174.3" y1="652.9" x2="174.3" y2="660" stroke="#333" stroke-width="1.5" stroke-dasharray="2.5 3.5"/>
<text x="371.6" y="279.1" font-size="15.2" text-anchor="start" fill="#333" font-weight="normal" font-family="'Liberation Sans', Arial, sans-serif" textLength="63" lengthAdjust="spacingAndGlyphs" stroke="#333" stroke-width="0.35">6184.962</text>
<line x1="370.6" y1="283" x2="434.6" y2="283" stroke="#444" stroke-width="1.7"/>
<line x1="402.6" y1="285.5" x2="402.6" y2="293" stroke="#333" stroke-width="1.5" stroke-dasharray="2.5 3.5"/>
<text x="254.6" y="695.7" font-size="15.2" text-anchor="start" fill="#333" font-weight="normal" font-family="'Liberation Sans', Arial, sans-serif" textLength="62.7" lengthAdjust="spacingAndGlyphs" stroke="#333" stroke-width="0.35">4747.699</text>
<line x1="253.6" y1="699.5" x2="317.3" y2="699.5" stroke="#444" stroke-width="1.7"/>
<line x1="285.5" y1="702" x2="285.5" y2="709" stroke="#333" stroke-width="1.5" stroke-dasharray="2.5 3.5"/>
<text x="431.2" y="654.6" font-size="15.2" text-anchor="start" fill="#333" font-weight="normal" font-family="'Liberation Sans', Arial, sans-serif" textLength="63.3" lengthAdjust="spacingAndGlyphs" stroke="#333" stroke-width="0.35">6915.906</text>
<line x1="430.2" y1="659.1" x2="494.5" y2="659.1" stroke="#444" stroke-width="1.7"/>
<line x1="461.3" y1="661.6" x2="461.3" y2="669" stroke="#333" stroke-width="1.5" stroke-dasharray="2.5 3.5"/>
<text x="469.5" y="708.8" font-size="15.2" text-anchor="start" fill="#333" font-weight="normal" font-family="'Liberation Sans', Arial, sans-serif" textLength="62.6" lengthAdjust="spacingAndGlyphs" stroke="#333" stroke-width="0.35">7381.837</text>
<line x1="468.5" y1="713.3" x2="532.1" y2="713.3" stroke="#444" stroke-width="1.7"/>
<line x1="499.9" y1="715.8" x2="499.9" y2="722" stroke="#333" stroke-width="1.5" stroke-dasharray="2.5 3.5"/>
<text x="542" y="773.8" font-size="15.2" text-anchor="start" fill="#333" font-weight="normal" font-family="'Liberation Sans', Arial, sans-serif" textLength="63.4" lengthAdjust="spacingAndGlyphs" stroke="#333" stroke-width="0.35">8283.922</text>
<line x1="541" y1="778.2" x2="605.4" y2="778.2" stroke="#444" stroke-width="1.7"/>
<line x1="573.1" y1="780.7" x2="573.1" y2="788" stroke="#333" stroke-width="1.5" stroke-dasharray="2.5 3.5"/>
<text x="588" y="676.8" font-size="15.2" text-anchor="start" fill="#333" font-weight="normal" font-family="'Liberation Sans', Arial, sans-serif" textLength="63.4" lengthAdjust="spacingAndGlyphs" stroke="#333" stroke-width="0.35">8843.356</text>
<line x1="587" y1="681.3" x2="651.4" y2="681.3" stroke="#444" stroke-width="1.7"/>
<line x1="619.8" y1="683.8" x2="619.8" y2="693" stroke="#333" stroke-width="1.5" stroke-dasharray="2.5 3.5"/>
<text x="641.5" y="727.8" font-size="15.2" text-anchor="start" fill="#333" font-weight="normal" font-family="'Liberation Sans', Arial, sans-serif" textLength="62.1" lengthAdjust="spacingAndGlyphs" stroke="#333" stroke-width="0.35">9492.959</text>
<line x1="640.5" y1="731.5" x2="703.6" y2="731.5" stroke="#444" stroke-width="1.7"/>
<line x1="672" y1="734" x2="672" y2="742" stroke="#333" stroke-width="1.5" stroke-dasharray="2.5 3.5"/>
<text x="693.7" y="785" font-size="15.2" text-anchor="start" fill="#333" font-weight="normal" font-family="'Liberation Sans', Arial, sans-serif" textLength="69.6" lengthAdjust="spacingAndGlyphs" stroke="#333" stroke-width="0.35">10175.068</text>
<line x1="692.7" y1="788.2" x2="763.3" y2="788.2" stroke="#444" stroke-width="1.7"/>
<line x1="729.7" y1="790.7" x2="729.7" y2="790" stroke="#333" stroke-width="1.5" stroke-dasharray="2.5 3.5"/>
<text x="836.6" y="757.6" font-size="15.2" text-anchor="start" fill="#333" font-weight="normal" font-family="'Liberation Sans', Arial, sans-serif" textLength="70.8" lengthAdjust="spacingAndGlyphs" stroke="#333" stroke-width="0.35">11941.909</text>
<line x1="835.6" y1="761.8" x2="907.4" y2="761.8" stroke="#444" stroke-width="1.7"/>
<line x1="871.9" y1="764.3" x2="871.9" y2="773" stroke="#333" stroke-width="1.5" stroke-dasharray="2.5 3.5"/>
<rect x="481.9" y="16.9" width="428.9" height="441.1" fill="#ffffff" stroke="none" stroke-width="1"/>
<rect x="521.9" y="18.9" width="386.9" height="48.3" fill="#ffffff" stroke="#9a9a9a" stroke-width="1.2"/>
<line x1="521.9" y1="67.2" x2="908.8" y2="67.2" stroke="#8a8a8a" stroke-width="1.8"/>
<line x1="521.9" y1="18.9" x2="521.9" y2="67.2" stroke="#777" stroke-width="1.2"/>
<line x1="517.9" y1="26.9" x2="521.9" y2="26.9" stroke="#555" stroke-width="1"/>
<text x="516.4" y="29.3" font-size="7" text-anchor="end" fill="#222" font-weight="bold" font-family="'Liberation Sans', Arial, sans-serif">8000</text>
<line x1="517.9" y1="37" x2="521.9" y2="37" stroke="#555" stroke-width="1"/>
<text x="516.4" y="39.4" font-size="7" text-anchor="end" fill="#222" font-weight="bold" font-family="'Liberation Sans', Arial, sans-serif">6000</text>
<line x1="517.9" y1="47" x2="521.9" y2="47" stroke="#555" stroke-width="1"/>
<text x="516.4" y="49.4" font-size="7" text-anchor="end" fill="#222" font-weight="bold" font-family="'Liberation Sans', Arial, sans-serif">4000</text>
<line x1="517.9" y1="57.1" x2="521.9" y2="57.1" stroke="#555" stroke-width="1"/>
<text x="516.4" y="59.5" font-size="7" text-anchor="end" fill="#222" font-weight="bold" font-family="'Liberation Sans', Arial, sans-serif">2000</text>
<line x1="517.9" y1="67.2" x2="521.9" y2="67.2" stroke="#555" stroke-width="1"/>
<text x="516.4" y="69.6" font-size="7" text-anchor="end" fill="#222" font-weight="bold" font-family="'Liberation Sans', Arial, sans-serif">0</text>
<line x1="519.4" y1="63.8" x2="521.9" y2="63.8" stroke="#777" stroke-width="0.8"/>
<line x1="519.4" y1="60.5" x2="521.9" y2="60.5" stroke="#777" stroke-width="0.8"/>
<line x1="519.4" y1="57.1" x2="521.9" y2="57.1" stroke="#777" stroke-width="0.8"/>
<line x1="519.4" y1="53.8" x2="521.9" y2="53.8" stroke="#777" stroke-width="0.8"/>
<line x1="519.4" y1="50.4" x2="521.9" y2="50.4" stroke="#777" stroke-width="0.8"/>
<line x1="519.4" y1="47" x2="521.9" y2="47" stroke="#777" stroke-width="0.8"/>
<line x1="519.4" y1="43.7" x2="521.9" y2="43.7" stroke="#777" stroke-width="0.8"/>
<line x1="519.4" y1="40.3" x2="521.9" y2="40.3" stroke="#777" stroke-width="0.8"/>
<line x1="519.4" y1="37" x2="521.9" y2="37" stroke="#777" stroke-width="0.8"/>
<line x1="519.4" y1="33.6" x2="521.9" y2="33.6" stroke="#777" stroke-width="0.8"/>
<line x1="519.4" y1="30.3" x2="521.9" y2="30.3" stroke="#777" stroke-width="0.8"/>
<line x1="519.4" y1="26.9" x2="521.9" y2="26.9" stroke="#777" stroke-width="0.8"/>
<line x1="519.4" y1="23.5" x2="521.9" y2="23.5" stroke="#777" stroke-width="0.8"/>
<text x="487.9" y="39" font-size="5.5" text-anchor="middle" fill="#333" font-weight="bold" font-family="'Liberation Sans', Arial, sans-serif" transform="rotate(-90 487.9 39)">Intens. [a.u.]</text>
<polyline points="522.4,59.1 522.9,58.5 523.4,60 523.9,61.4 524.4,59.4 524.9,61 525.4,59.3 525.9,61.2 526.4,60.4 526.9,59.5 527.4,62.7 527.9,61.5 528.4,61.2 528.9,61.7 529.4,59.3 529.9,62.7 530.4,61.2 530.9,61.9 531.4,62.6 531.9,62.7 532.4,59.7 532.9,61.8 533.4,59.7 533.9,61.9 534.4,62.1 534.9,62.8 535.4,63.2 535.9,63.6 536.4,60.6 536.9,60.1 537.4,60 537.9,60.9 538.4,60.3 538.9,61.5 539.4,62 539.9,60.2 540.4,61.8 540.9,63.4 541.4,61.8 541.9,60.7 542.4,61.2 542.9,62.2 543.4,61.4 543.9,63.3 544.4,61.7 544.9,62.1 545.4,64.3 545.9,60.8 546.4,61.3 546.9,61.6 547.4,63.7 547.9,61.7 548.4,63.4 548.9,64.7 549.4,61.3 549.9,62.2 550.4,64 550.9,63.2 551.4,64.4 551.9,61.6 552.4,63.9 552.9,61.9 553.4,63.7 553.9,63.1 554.4,64.4 554.9,65.3 555.4,65.4 555.9,64.9 556.4,64.1 556.9,65.4 557.4,63.8 557.9,64.8 558.4,64.8 558.9,64.3 559.4,64.8 559.9,64.1 560.4,63.7 560.9,63.9 561.4,66.1 561.9,65.6 562.4,66.5 562.9,66.2 563.4,66.2 563.9,66.3 564.4,66.3 564.9,66.5 565.4,66.3 565.9,66.1 566.4,65.9 566.9,66.2 567.4,65.7 567.9,58.2 568.4,53.5 568.9,62 569.4,66.2 569.9,65.4 570.4,64.6 570.9,64.2 571.4,64.4 571.9,51.3 572.4,34.6 572.9,43.2 573.4,60.8 573.9,66 574.4,66.1 574.9,66.2 575.4,66.1 575.9,60.2 576.4,53.1 576.9,60.2 577.4,65.9 577.9,66 578.4,66.3 578.9,66.2 579.4,65.8 579.9,66 580.4,65.8 580.9,65.9 581.4,66.4 581.9,66.2 582.4,65.9 582.9,65.9 583.4,65.8 583.9,66.4 584.4,66.3 584.9,66.1 585.4,66.4 585.9,66.5 586.4,66.2 586.9,66 587.4,66.2 587.9,66.2 588.4,66.2 588.9,66.6 589.4,66.1 589.9,65.9 590.4,65.9 590.9,66.2 591.4,66.3 591.9,65.9 592.4,66.4 592.9,66.6 593.4,65.9 593.9,66.3 594.4,66.3 594.9,66.3 595.4,66.5 595.9,65.8 596.4,66.2 596.9,65.8 597.4,66.3 597.9,66.1 598.4,66.1 598.9,66.6 599.4,66 599.9,65.7 600.4,65.9 600.9,66.1 601.4,66 601.9,66 602.4,66.5 602.9,66.5 603.4,66.2 603.9,66 604.4,66.6 604.9,66.1 605.4,66.4 605.9,66.2 606.4,66.3 606.9,66.4 607.4,65.9 607.9,66.1 608.4,66.4 608.9,66.6 609.4,65.9 609.9,65.9 610.4,66.5 610.9,66.5 611.4,66.1 611.9,66.4 612.4,66 612.9,66 613.4,66.1 613.9,66.6 614.4,66 614.9,66.3 615.4,66.2 615.9,66.4 616.4,66.3 616.9,66.6 617.4,66.2 617.9,66.3 618.4,65.8 618.9,66.2 619.4,66 619.9,66 620.4,66.3 620.9,66.6 621.4,66.3 621.9,66.1 622.4,66.2 622.9,66 623.4,66.6 623.9,66.1 624.4,66.4 624.9,66.2 625.4,65.9 625.9,66 626.4,66.2 626.9,65.8 627.4,66.5 627.9,66.4 628.4,66.5 628.9,66.1 629.4,66 629.9,65.9 630.4,66.5 630.9,66.1 631.4,66 631.9,66.5 632.4,65.8 632.9,66 633.4,65.8 633.9,66.4 634.4,66.2 634.9,66.4 635.4,66.2 635.9,66.1 636.4,66.2 636.9,66.2 637.4,66 637.9,65.9 638.4,66.4 638.9,66.3 639.4,65.6 639.9,65.2 640.4,65.4 640.9,65.8 641.4,66.4 641.9,66.4 642.4,65.9 642.9,66.1 643.4,66.3 643.9,65.9 644.4,65.9 644.9,66.1 645.4,66 645.9,66.1 646.4,66.5 646.9,66.2 647.4,66.2 647.9,66.2 648.4,66 648.9,66.5 649.4,65.8 649.9,65.9 650.4,66.3 650.9,66 651.4,66 651.9,66.5 652.4,66 652.9,66.1 653.4,66.1 653.9,66.5 654.4,66 654.9,66.1 655.4,66.5 655.9,65.8 656.4,66.1 656.9,66 657.4,66.3 657.9,65.9 658.4,65.9 658.9,66.4 659.4,65.9 659.9,65.9 660.4,66.3 660.9,66.3 661.4,65.9 661.9,66.6 662.4,66.5 662.9,65.9 663.4,66.1 663.9,66.1 664.4,66.4 664.9,66.1 665.4,66.5 665.9,66.2 666.4,66.5 666.9,66.5 667.4,66.6 667.9,66.3 668.4,66.1 668.9,66.4 669.4,66 669.9,65.8 670.4,66.1 670.9,66 671.4,66.4 671.9,66.3 672.4,66.6 672.9,66.2 673.4,66 673.9,66.2 674.4,66.5 674.9,66 675.4,66.2 675.9,66.3 676.4,66 676.9,66 677.4,66.2 677.9,66.6 678.4,66.1 678.9,66.2 679.4,66.5 679.9,66.2 680.4,66 680.9,66.3 681.4,65.8 681.9,66.5 682.4,66.5 682.9,66.2 683.4,66.1 683.9,66.5 684.4,65.8 684.9,65.9 685.4,66.4 685.9,66.3 686.4,66.1 686.9,66.6 687.4,66 687.9,66 688.4,66.4 688.9,66.2 689.4,66 689.9,66.4 690.4,66 690.9,66.1 691.4,66 691.9,66.1 692.4,66.1 692.9,66.3 693.4,66.5 693.9,66.2 694.4,66 694.9,66.5 695.4,66.3 695.9,66.2 696.4,66.3 696.9,66.1 697.4,66.5 697.9,66.3 698.4,66.3 698.9,66 699.4,65.9 699.9,65.4 700.4,65.7 700.9,66 701.4,66.2 701.9,66.4 702.4,66.5 702.9,66 703.4,66 703.9,66.3 704.4,66.1 704.9,66.1 705.4,65.9 705.9,65.9 706.4,66 706.9,66.3 707.4,66.4 707.9,65.9 708.4,66 708.9,66.4 709.4,66.4 709.9,66.4 710.4,66.6 710.9,65.8 711.4,66.1 711.9,65.7 712.4,65.9 712.9,66.1 713.4,66.5 713.9,66.6 714.4,66 714.9,66.2 715.4,66.2 715.9,66 716.4,65.8 716.9,65.8 717.4,66.5 717.9,65.9 718.4,66.3 718.9,66.5 719.4,65.9 719.9,66.3 720.4,65.9 720.9,66.1 721.4,66.1 721.9,66 722.4,66.6 722.9,66.4 723.4,66.3 723.9,65.9 724.4,65.9 724.9,66.3 725.4,66.5 725.9,66.5 726.4,66.3 726.9,66.1 727.4,66.6 727.9,66.4 728.4,66 728.9,66.5 729.4,66.4 729.9,65.9 730.4,66.1 730.9,66.1 731.4,66.3 731.9,66.4 732.4,66 732.9,65.9 733.4,66.6 733.9,66.1 734.4,66.2 734.9,66.1 735.4,66.3 735.9,66.4 736.4,66.5 736.9,66.5 737.4,66.5 737.9,66 738.4,65.8 738.9,65.9 739.4,66.4 739.9,66.1 740.4,66.2 740.9,65.8 741.4,65.9 741.9,65.7 742.4,65.8 742.9,66.2 743.4,66.5 743.9,66 744.4,66 744.9,65.9 745.4,65.9 745.9,66.4 746.4,66.3 746.9,66.4 747.4,65.8 747.9,65.8 748.4,66.1 748.9,66.1 749.4,65.8 749.9,66.4 750.4,66.2 750.9,66.1 751.4,66.6 751.9,66.3 752.4,66.3 752.9,66.5 753.4,66.5 753.9,66 754.4,66.6 754.9,66.4 755.4,66.5 755.9,66.2 756.4,65.9 756.9,65.9 757.4,65.8 757.9,66.6 758.4,66.1 758.9,66.3 759.4,66.2 759.9,66 760.4,66.1 760.9,65.9 761.4,66.5 761.9,66 762.4,66.6 762.9,66.5 763.4,66.4 763.9,66.5 764.4,66.2 764.9,66.2 765.4,65.9 765.9,66 766.4,66.2 766.9,66.3 767.4,66.1 767.9,66.2 768.4,66.2 768.9,66.5 769.4,66.3 769.9,66.3 770.4,66.4 770.9,66.1 771.4,66.3 771.9,66.5 772.4,66.2 772.9,65.9 773.4,66.6 773.9,66.3 774.4,65.8 774.9,66.1 775.4,65.8 775.9,66 776.4,66.2 776.9,65.9 777.4,66 777.9,66.4 778.4,66.5 778.9,66.1 779.4,66.2 779.9,66.4 780.4,66.4 780.9,65.8 781.4,65.8 781.9,66.3 782.4,66.3 782.9,66.6 783.4,65.8 783.9,66.1 784.4,65.9 784.9,66 785.4,66.2 785.9,66.4 786.4,65.9 786.9,66 787.4,65.9 787.9,65.7 788.4,65.8 788.9,66 789.4,66.2 789.9,66.2 790.4,66 790.9,66.3 791.4,66.2 791.9,66.4 792.4,66.5 792.9,66.4 793.4,66.3 793.9,66.4 794.4,66.5 794.9,66.2 795.4,65.9 795.9,66.5 796.4,66 796.9,66 797.4,66.1 797.9,66.1 798.4,66.2 798.9,66.1 799.4,65.9 799.9,66.3 800.4,66.4 800.9,66 801.4,66.5 801.9,66.4 802.4,66.4 802.9,66.1 803.4,66.3 803.9,66.6 804.4,65.9 804.9,66.3 805.4,66.3 805.9,66.3 806.4,66.3 806.9,65.9 807.4,66.3 807.9,66.1 808.4,65.8 808.9,66.5 809.4,66.3 809.9,66.3 810.4,66.3 810.9,65.8 811.4,65.8 811.9,66.3 812.4,65.9 812.9,66.5 813.4,66.1 813.9,66 814.4,65.9 814.9,66.5 815.4,66 815.9,66.2 816.4,66.6 816.9,66.4 817.4,66.2 817.9,66 818.4,66.3 818.9,66.4 819.4,65.8 819.9,66 820.4,66.1 820.9,66.5 821.4,65.9 821.9,66.1 822.4,66.2 822.9,66.4 823.4,66.5 823.9,66.5 824.4,66.5 824.9,66.4 825.4,65.8 825.9,66.4 826.4,66.2 826.9,66.6 827.4,66.5 827.9,65.9 828.4,66.4 828.9,66 829.4,66.2 829.9,66.3 830.4,66.2 830.9,66.1 831.4,66.4 831.9,66.5 832.4,65.9 832.9,66.4 833.4,65.9 833.9,66 834.4,66.1 834.9,66.6 835.4,65.9 835.9,65.9 836.4,65.8 836.9,65.8 837.4,65.9 837.9,66.2 838.4,66 838.9,65.8 839.4,66.1 839.9,66 840.4,66 840.9,66 841.4,66 841.9,66.6 842.4,66.3 842.9,65.9 843.4,66.1 843.9,65.9 844.4,66.5 844.9,66.1 845.4,66.5 845.9,65.9 846.4,66.5 846.9,66.3 847.4,65.8 847.9,66.1 848.4,66 848.9,66.5 849.4,66.6 849.9,66.5 850.4,65.9 850.9,65.8 851.4,66.4 851.9,66.1 852.4,66.1 852.9,66.2 853.4,65.9 853.9,66.4 854.4,66.2 854.9,66.1 855.4,66.6 855.9,66.4 856.4,66.5 856.9,66.1 857.4,66 857.9,66.1 858.4,66.2 858.9,66.1 859.4,66.3 859.9,66.2 860.4,66.1 860.9,66 861.4,66.2 861.9,65.9 862.4,66.3 862.9,66.5 863.4,66 863.9,65.9 864.4,66 864.9,66.2 865.4,66.5 865.9,66.4 866.4,66.4 866.9,66.4 867.4,66.3 867.9,66.5 868.4,66.4 868.9,65.9 869.4,66.6 869.9,66.3 870.4,66.2 870.9,66.2 871.4,66 871.9,65.9 872.4,66.6 872.9,65.9 873.4,66.2 873.9,66.1 874.4,66.4 874.9,66.3 875.4,66.6 875.9,66.1 876.4,66 876.9,66.3 877.4,65.9 877.9,66.3 878.4,65.9 878.9,66.4 879.4,66.2 879.9,66.1 880.4,66.4 880.9,66 881.4,66.2 881.9,66.4 882.4,65.9 882.9,66.3 883.4,65.8 883.9,66.5 884.4,66.4 884.9,66.3 885.4,66.4 885.9,66.5 886.4,66.5 886.9,65.9 887.4,66.3 887.9,66.1 888.4,66 888.9,66.4 889.4,65.9 889.9,66.2 890.4,65.9 890.9,66.5 891.4,66.4 891.9,66 892.4,65.9 892.9,66.1 893.4,66.5 893.9,65.8 894.4,66.1 894.9,66 895.4,66 895.9,66.4 896.4,66.5 896.9,66.4 897.4,65.9 897.9,66.5 898.4,66.1 898.9,66.2 899.4,66.1 899.9,66.1 900.4,66.5 900.9,65.9 901.4,65.9 901.9,66.2 902.4,66.1 902.9,66.3 903.4,65.9 903.9,65.9 904.4,66.2 904.9,66.4 905.4,66 905.9,66.4 906.4,66.2 906.9,65.9 907.4,66 907.9,66.4" fill="none" stroke="#1a1a1a" stroke-width="1.3"/>
<text x="572.5" y="29.9" font-size="7.5" text-anchor="middle" fill="#333" font-weight="bold" font-family="'Liberation Sans', Arial, sans-serif" textLength="42" lengthAdjust="spacingAndGlyphs">3583.821</text>
<line x1="551.5" y1="31.4" x2="593.5" y2="31.4" stroke="#666" stroke-width="1"/>
<rect x="521.9" y="71" width="386.9" height="48.3" fill="#ffffff" stroke="#9a9a9a" stroke-width="1.2"/>
<line x1="521.9" y1="119.3" x2="908.8" y2="119.3" stroke="#8a8a8a" stroke-width="1.8"/>
<line x1="521.9" y1="71" x2="521.9" y2="119.3" stroke="#777" stroke-width="1.2"/>
<line x1="517.9" y1="79" x2="521.9" y2="79" stroke="#555" stroke-width="1"/>
<text x="516.4" y="81.4" font-size="7" text-anchor="end" fill="#222" font-weight="bold" font-family="'Liberation Sans', Arial, sans-serif">4</text>
<line x1="517.9" y1="99.1" x2="521.9" y2="99.1" stroke="#555" stroke-width="1"/>
<text x="516.4" y="101.5" font-size="7" text-anchor="end" fill="#222" font-weight="bold" font-family="'Liberation Sans', Arial, sans-serif">2</text>
<line x1="517.9" y1="119.3" x2="521.9" y2="119.3" stroke="#555" stroke-width="1"/>
<text x="516.4" y="121.7" font-size="7" text-anchor="end" fill="#222" font-weight="bold" font-family="'Liberation Sans', Arial, sans-serif">0</text>
<line x1="519.4" y1="112.6" x2="521.9" y2="112.6" stroke="#777" stroke-width="0.8"/>
<line x1="519.4" y1="105.8" x2="521.9" y2="105.8" stroke="#777" stroke-width="0.8"/>
<line x1="519.4" y1="99.1" x2="521.9" y2="99.1" stroke="#777" stroke-width="0.8"/>
<line x1="519.4" y1="92.4" x2="521.9" y2="92.4" stroke="#777" stroke-width="0.8"/>
<line x1="519.4" y1="85.7" x2="521.9" y2="85.7" stroke="#777" stroke-width="0.8"/>
<line x1="519.4" y1="79" x2="521.9" y2="79" stroke="#777" stroke-width="0.8"/>
<line x1="519.4" y1="72.3" x2="521.9" y2="72.3" stroke="#777" stroke-width="0.8"/>
<text x="494.9" y="77.5" font-size="6" text-anchor="start" fill="#222" font-weight="bold" font-family="'Liberation Sans', Arial, sans-serif">x10</text>
<text x="506.4" y="74.5" font-size="4.5" text-anchor="start" fill="#222" font-weight="bold" font-family="'Liberation Sans', Arial, sans-serif">4</text>
<text x="487.9" y="91.1" font-size="5.5" text-anchor="middle" fill="#333" font-weight="bold" font-family="'Liberation Sans', Arial, sans-serif" transform="rotate(-90 487.9 91.1)">Intens. [a.u.]</text>
<polyline points="522.4,118.1 522.9,118.1 523.4,118.5 523.9,118 524.4,118.4 524.9,118.4 525.4,118.1 525.9,118.4 526.4,117.8 526.9,118.3 527.4,117.5 527.9,116.8 528.4,117.1 528.9,118.2 529.4,118.3 529.9,118.1 530.4,118.3 530.9,117.8 531.4,118.4 531.9,118.4 532.4,118.7 532.9,118.7 533.4,118.7 533.9,118.2 534.4,118.7 534.9,118.3 535.4,118.6 535.9,118 536.4,118.7 536.9,118 537.4,117.8 537.9,117.8 538.4,118.3 538.9,118 539.4,118.6 539.9,117.8 540.4,117.8 540.9,118.1 541.4,117.8 541.9,118.1 542.4,117.8 542.9,118.4 543.4,118.7 543.9,118.6 544.4,117.9 544.9,117.9 545.4,118.4 545.9,118.1 546.4,117.9 546.9,118.4 547.4,118.5 547.9,117.8 548.4,118.4 548.9,117.8 549.4,118.5 549.9,117.8 550.4,118.7 550.9,118.4 551.4,118.3 551.9,118.7 552.4,118 552.9,117.8 553.4,118.4 553.9,118.1 554.4,118.5 554.9,118.5 555.4,118.1 555.9,118.3 556.4,118.7 556.9,117.8 557.4,117.8 557.9,118.2 558.4,117.8 558.9,118.4 559.4,118.3 559.9,118.1 560.4,118.7 560.9,118.7 561.4,118.3 561.9,118.6 562.4,118 562.9,118.1 563.4,118.4 563.9,118.3 564.4,118.1 564.9,118.6 565.4,118 565.9,117.9 566.4,118.6 566.9,118.6 567.4,117.1 567.9,106.4 568.4,99.7 568.9,111.9 569.4,117.3 569.9,115.7 570.4,114.1 570.9,113.3 571.4,113.6 571.9,97 572.4,73.9 572.9,85.8 573.4,110.4 573.9,117.9 574.4,118.7 574.9,117.9 575.4,117.9 575.9,108.7 576.4,98.1 576.9,108.7 577.4,118 577.9,118.4 578.4,117.8 578.9,118.1 579.4,117.9 579.9,118.7 580.4,117.8 580.9,118.6 581.4,118.5 581.9,118.4 582.4,118 582.9,118.7 583.4,118.3 583.9,117.9 584.4,118.2 584.9,118.4 585.4,118.2 585.9,118.6 586.4,118.7 586.9,118.3 587.4,118.5 587.9,118.2 588.4,118.7 588.9,118.6 589.4,118.1 589.9,118 590.4,118.6 590.9,117.9 591.4,118 591.9,118.1 592.4,118.2 592.9,118.7 593.4,118.5 593.9,118.7 594.4,117.9 594.9,117.9 595.4,118.7 595.9,117.9 596.4,118.5 596.9,117.8 597.4,118.1 597.9,118.4 598.4,118.3 598.9,118.1 599.4,118.2 599.9,117.8 600.4,118 600.9,118.6 601.4,118.4 601.9,117.8 602.4,118.1 602.9,118.3 603.4,118.8 603.9,118 604.4,118.4 604.9,118.3 605.4,118.5 605.9,118.6 606.4,117.8 606.9,118.5 607.4,118 607.9,118.7 608.4,118 608.9,118 609.4,118.1 609.9,118.3 610.4,118.5 610.9,118.7 611.4,118.2 611.9,117.9 612.4,118.3 612.9,118.1 613.4,118.5 613.9,118.2 614.4,117.9 614.9,117.8 615.4,118.3 615.9,118.1 616.4,118 616.9,118.1 617.4,118.5 617.9,118.8 618.4,118 618.9,118.6 619.4,118.1 619.9,118.4 620.4,118.1 620.9,118.4 621.4,118.7 621.9,118.2 622.4,118.1 622.9,118 623.4,118.4 623.9,117.9 624.4,118.3 624.9,118.7 625.4,118.4 625.9,118.6 626.4,118.7 626.9,118.6 627.4,118.2 627.9,118.7 628.4,118.6 628.9,118.6 629.4,118.5 629.9,118.5 630.4,117.9 630.9,118 631.4,117.8 631.9,118.7 632.4,118.5 632.9,118.3 633.4,118.2 633.9,118.6 634.4,118.6 634.9,117.9 635.4,118.3 635.9,118.6 636.4,118.5 636.9,118.5 637.4,118.1 637.9,118.5 638.4,118.7 638.9,118.4 639.4,117.7 639.9,117.3 640.4,117.5 640.9,117.8 641.4,118.6 641.9,118.6 642.4,118.2 642.9,118.6 643.4,117.9 643.9,118 644.4,118.2 644.9,118.7 645.4,118.1 645.9,118 646.4,118.5 646.9,118.4 647.4,118.2 647.9,118 648.4,117.9 648.9,118.6 649.4,118.4 649.9,118.7 650.4,118.8 650.9,118.7 651.4,118.5 651.9,118.6 652.4,118.1 652.9,117.9 653.4,118.1 653.9,118.7 654.4,118.3 654.9,118.5 655.4,117.8 655.9,118.6 656.4,118.6 656.9,118.4 657.4,118.7 657.9,117.8 658.4,118.6 658.9,118.1 659.4,118 659.9,118.3 660.4,118.1 660.9,118.1 661.4,117.9 661.9,118.3 662.4,118.6 662.9,118.4 663.4,118.2 663.9,118.5 664.4,118.1 664.9,118.3 665.4,117.8 665.9,118.5 666.4,118.5 666.9,118.4 667.4,118.2 667.9,118.3 668.4,118.3 668.9,118.4 669.4,118.6 669.9,118.6 670.4,118.7 670.9,118.1 671.4,118 671.9,118 672.4,118 672.9,118 673.4,118.4 673.9,118.6 674.4,118.1 674.9,117.9 675.4,118.8 675.9,118.7 676.4,118.3 676.9,117.8 677.4,118.3 677.9,118.4 678.4,118.7 678.9,118.1 679.4,118.8 679.9,118.3 680.4,118.4 680.9,118.4 681.4,118.2 681.9,117.9 682.4,118.2 682.9,118.4 683.4,118.6 683.9,118.4 684.4,118.1 684.9,118.2 685.4,117.9 685.9,118.7 686.4,118.5 686.9,118.7 687.4,117.9 687.9,118.8 688.4,118.2 688.9,118.4 689.4,118.8 689.9,118.3 690.4,118.1 690.9,118.1 691.4,118.7 691.9,118.4 692.4,118.3 692.9,118.7 693.4,118.8 693.9,118.5 694.4,118.5 694.9,118.2 695.4,118.7 695.9,118.6 696.4,118.2 696.9,118.4 697.4,118 697.9,118.3 698.4,118.4 698.9,117.9 699.4,118 699.9,117.5 700.4,117.7 700.9,118 701.4,118 701.9,118.5 702.4,118.5 702.9,117.8 703.4,118.1 703.9,117.8 704.4,118.2 704.9,118.4 705.4,117.9 705.9,118.1 706.4,118.1 706.9,117.8 707.4,117.9 707.9,118.3 708.4,118.5 708.9,117.9 709.4,117.8 709.9,117.9 710.4,118.4 710.9,118.6 711.4,118.2 711.9,117.8 712.4,117.8 712.9,118.3 713.4,118.1 713.9,118.5 714.4,118 714.9,118 715.4,118.4 715.9,117.8 716.4,118.7 716.9,118 717.4,118.1 717.9,118.5 718.4,118.2 718.9,118.1 719.4,118.2 719.9,118.6 720.4,117.8 720.9,117.9 721.4,118.6 721.9,118.6 722.4,118.7 722.9,118.5 723.4,117.8 723.9,118.4 724.4,118.8 724.9,118.5 725.4,118.6 725.9,118.1 726.4,118.5 726.9,118.8 727.4,118.5 727.9,117.8 728.4,118.2 728.9,118.6 729.4,118.3 729.9,118.5 730.4,118.6 730.9,118 731.4,118 731.9,118.5 732.4,118.4 732.9,118.4 733.4,118.7 733.9,118.3 734.4,118.2 734.9,118.6 735.4,118.7 735.9,118.3 736.4,118.2 736.9,117.8 737.4,118.5 737.9,118.1 738.4,118.2 738.9,118.7 739.4,118.1 739.9,118.5 740.4,117.8 740.9,118.4 741.4,117.9 741.9,117.8 742.4,117.9 742.9,117.8 743.4,118.2 743.9,118.2 744.4,118.1 744.9,118.1 745.4,118.1 745.9,118.1 746.4,118.5 746.9,118.2 747.4,118.1 747.9,118.7 748.4,118.6 748.9,118.1 749.4,118.4 749.9,118.3 750.4,118.4 750.9,117.9 751.4,118.1 751.9,118.8 752.4,117.8 752.9,118.6 753.4,118.2 753.9,118.5 754.4,117.9 754.9,117.9 755.4,118.4 755.9,118.2 756.4,118.7 756.9,118.2 757.4,118.7 757.9,118.1 758.4,118.2 758.9,118.5 759.4,118.1 759.9,118.1 760.4,117.8 760.9,118.1 761.4,118.4 761.9,117.8 762.4,118.5 762.9,118.8 763.4,118.6 763.9,118 764.4,117.8 764.9,118.6 765.4,118.5 765.9,118 766.4,118.1 766.9,117.9 767.4,118 767.9,118.6 768.4,118.8 768.9,118.6 769.4,118.2 769.9,118 770.4,118.4 770.9,118.4 771.4,118.6 771.9,118.1 772.4,118.4 772.9,118 773.4,117.8 773.9,118 774.4,118.3 774.9,118.1 775.4,118.7 775.9,118.5 776.4,118.5 776.9,118.7 777.4,118.3 777.9,118.6 778.4,118.1 778.9,117.9 779.4,118.7 779.9,118.4 780.4,118.2 780.9,117.9 781.4,118.3 781.9,118.1 782.4,118.4 782.9,118.3 783.4,118 783.9,118.3 784.4,118.7 784.9,118.1 785.4,118.5 785.9,118.4 786.4,118.3 786.9,118.2 787.4,118 787.9,117.8 788.4,117.9 788.9,117.8 789.4,118.2 789.9,118.7 790.4,118.2 790.9,118.1 791.4,118.5 791.9,118.4 792.4,118.5 792.9,118.7 793.4,118.5 793.9,118 794.4,118.4 794.9,118.4 795.4,118.7 795.9,118 796.4,117.8 796.9,118.4 797.4,118.2 797.9,117.8 798.4,118 798.9,118.6 799.4,118.4 799.9,118 800.4,118.5 800.9,118.2 801.4,118.5 801.9,118.6 802.4,118.4 802.9,118.3 803.4,117.9 803.9,118 804.4,118 804.9,117.8 805.4,117.8 805.9,118.5 806.4,118 806.9,117.8 807.4,117.9 807.9,118.1 808.4,118 808.9,118 809.4,117.9 809.9,118.3 810.4,118.7 810.9,117.9 811.4,118.6 811.9,118.6 812.4,118.1 812.9,118.8 813.4,118.7 813.9,118.3 814.4,118.7 814.9,118.7 815.4,118.7 815.9,118.6 816.4,118.3 816.9,117.9 817.4,118.6 817.9,118 818.4,118.2 818.9,118.6 819.4,118.1 819.9,118.5 820.4,118.4 820.9,118.3 821.4,118.2 821.9,118.1 822.4,117.8 822.9,118.6 823.4,118.1 823.9,118.4 824.4,118.1 824.9,118.2 825.4,118.3 825.9,117.8 826.4,118.2 826.9,118.3 827.4,117.8 827.9,118.2 828.4,118 828.9,118.4 829.4,118.6 829.9,118.3 830.4,118.2 830.9,118.1 831.4,117.8 831.9,118.1 832.4,118.1 832.9,117.9 833.4,118.4 833.9,118.1 834.4,118 834.9,118 835.4,118.1 835.9,118.2 836.4,118.1 836.9,118.5 837.4,118.5 837.9,118.1 838.4,117.8 838.9,118.1 839.4,118.2 839.9,118.1 840.4,118.1 840.9,118 841.4,118 841.9,118.4 842.4,117.8 842.9,118.2 843.4,118.4 843.9,117.8 844.4,118.5 844.9,117.9 845.4,118.6 845.9,117.8 846.4,118.5 846.9,118 847.4,118.3 847.9,118.5 848.4,118.8 848.9,118.3 849.4,117.8 849.9,117.9 850.4,118.1 850.9,118.6 851.4,118.6 851.9,118.4 852.4,117.9 852.9,118.1 853.4,118.7 853.9,118.4 854.4,118.1 854.9,117.8 855.4,118 855.9,118.2 856.4,118.6 856.9,118.8 857.4,118.2 857.9,118.4 858.4,118 858.9,118.1 859.4,117.9 859.9,118.6 860.4,118.7 860.9,117.8 861.4,118.1 861.9,118.4 862.4,118 862.9,118.1 863.4,118.7 863.9,118.3 864.4,118.7 864.9,117.9 865.4,118.7 865.9,117.8 866.4,118.4 866.9,117.8 867.4,118.2 867.9,117.8 868.4,118.4 868.9,118.3 869.4,118.5 869.9,118.3 870.4,118.6 870.9,118.4 871.4,118.5 871.9,118.6 872.4,118 872.9,117.9 873.4,118.3 873.9,118.5 874.4,118.1 874.9,118.5 875.4,118.2 875.9,118.7 876.4,118.2 876.9,118.2 877.4,118.6 877.9,118.4 878.4,118.3 878.9,117.9 879.4,118.7 879.9,118.4 880.4,118.6 880.9,118.1 881.4,118.7 881.9,117.9 882.4,118.5 882.9,117.9 883.4,118.6 883.9,118.1 884.4,118.3 884.9,118.3 885.4,118.6 885.9,118.5 886.4,117.8 886.9,118.5 887.4,118.2 887.9,118.3 888.4,118.2 888.9,118.5 889.4,118.4 889.9,117.9 890.4,118.7 890.9,118.1 891.4,118.2 891.9,118.6 892.4,118.2 892.9,117.8 893.4,118.7 893.9,118.8 894.4,118.3 894.9,118.3 895.4,117.8 895.9,118.6 896.4,118.7 896.9,117.9 897.4,118.2 897.9,118.1 898.4,118 898.9,118.6 899.4,117.8 899.9,118.7 900.4,118.6 900.9,118.5 901.4,118.3 901.9,118.4 902.4,118 902.9,118.7 903.4,118.5 903.9,118.6 904.4,118.7 904.9,118.5 905.4,118.3 905.9,117.9 906.4,118.2 906.9,118.7 907.4,118.2 907.9,117.9" fill="none" stroke="#7a2434" stroke-width="1.3"/>
<text x="572.5" y="82" font-size="7.5" text-anchor="middle" fill="#333" font-weight="bold" font-family="'Liberation Sans', Arial, sans-serif" textLength="42" lengthAdjust="spacingAndGlyphs">3600.662</text>
<line x1="551.5" y1="83.5" x2="593.5" y2="83.5" stroke="#666" stroke-width="1"/>
<text x="644" y="111.5" font-size="7.5" text-anchor="middle" fill="#555" font-weight="bold" font-family="'Liberation Sans', Arial, sans-serif" textLength="42" lengthAdjust="spacingAndGlyphs">5874.737</text>
<line x1="623" y1="113" x2="665" y2="113" stroke="#777" stroke-width="1"/>
<text x="712" y="111.5" font-size="7.5" text-anchor="middle" fill="#555" font-weight="bold" font-family="'Liberation Sans', Arial, sans-serif" textLength="42" lengthAdjust="spacingAndGlyphs">9047.254</text>
<line x1="691" y1="113" x2="733" y2="113" stroke="#777" stroke-width="1"/>
<text x="783" y="111.5" font-size="7.5" text-anchor="middle" fill="#555" font-weight="bold" font-family="'Liberation Sans', Arial, sans-serif" textLength="42" lengthAdjust="spacingAndGlyphs">10233.907</text>
<line x1="762" y1="113" x2="804" y2="113" stroke="#777" stroke-width="1"/>
<rect x="521.9" y="123" width="386.9" height="48.3" fill="#ffffff" stroke="#9a9a9a" stroke-width="1.2"/>
<line x1="521.9" y1="171.3" x2="908.8" y2="171.3" stroke="#8a8a8a" stroke-width="1.8"/>
<line x1="521.9" y1="123" x2="521.9" y2="171.3" stroke="#777" stroke-width="1.2"/>
<line x1="517.9" y1="131" x2="521.9" y2="131" stroke="#555" stroke-width="1"/>
<text x="516.4" y="133.4" font-size="7" text-anchor="end" fill="#222" font-weight="bold" font-family="'Liberation Sans', Arial, sans-serif">2</text>
<line x1="517.9" y1="151.2" x2="521.9" y2="151.2" stroke="#555" stroke-width="1"/>
<text x="516.4" y="153.6" font-size="7" text-anchor="end" fill="#222" font-weight="bold" font-family="'Liberation Sans', Arial, sans-serif">1</text>
<line x1="517.9" y1="171.3" x2="521.9" y2="171.3" stroke="#555" stroke-width="1"/>
<text x="516.4" y="173.7" font-size="7" text-anchor="end" fill="#222" font-weight="bold" font-family="'Liberation Sans', Arial, sans-serif">0</text>
<line x1="519.4" y1="164.6" x2="521.9" y2="164.6" stroke="#777" stroke-width="0.8"/>
<line x1="519.4" y1="157.9" x2="521.9" y2="157.9" stroke="#777" stroke-width="0.8"/>
<line x1="519.4" y1="151.2" x2="521.9" y2="151.2" stroke="#777" stroke-width="0.8"/>
<line x1="519.4" y1="144.5" x2="521.9" y2="144.5" stroke="#777" stroke-width="0.8"/>
<line x1="519.4" y1="137.8" x2="521.9" y2="137.8" stroke="#777" stroke-width="0.8"/>
<line x1="519.4" y1="131" x2="521.9" y2="131" stroke="#777" stroke-width="0.8"/>
<line x1="519.4" y1="124.3" x2="521.9" y2="124.3" stroke="#777" stroke-width="0.8"/>
<text x="494.9" y="129.5" font-size="6" text-anchor="start" fill="#222" font-weight="bold" font-family="'Liberation Sans', Arial, sans-serif">x10</text>
<text x="506.4" y="126.5" font-size="4.5" text-anchor="start" fill="#222" font-weight="bold" font-family="'Liberation Sans', Arial, sans-serif">4</text>
<text x="487.9" y="143.2" font-size="5.5" text-anchor="middle" fill="#333" font-weight="bold" font-family="'Liberation Sans', Arial, sans-serif" transform="rotate(-90 487.9 143.2)">Intens. [a.u.]</text>
<polyline points="522.4,170.3 522.9,170.7 523.4,170.5 523.9,170 524.4,170.1 524.9,170.7 525.4,170 525.9,170 526.4,170.8 526.9,170.2 527.4,169.6 527.9,168.9 528.4,169.2 528.9,170.2 529.4,170.7 529.9,170.5 530.4,170.2 530.9,170.6 531.4,170 531.9,170.3 532.4,170.2 532.9,170.8 533.4,170.8 533.9,170.2 534.4,170.7 534.9,170.3 535.4,169.9 535.9,170.2 536.4,170.4 536.9,170.7 537.4,170.7 537.9,170.6 538.4,169.9 538.9,170.1 539.4,170.7 539.9,170.8 540.4,169.9 540.9,169.9 541.4,170.3 541.9,170.6 542.4,170.3 542.9,169.9 543.4,170.6 543.9,170.1 544.4,170.3 544.9,170.3 545.4,169.9 545.9,170.8 546.4,170.5 546.9,170.7 547.4,170.7 547.9,170 548.4,170.8 548.9,169.9 549.4,170.5 549.9,170.2 550.4,170.3 550.9,170.7 551.4,170.6 551.9,170.6 552.4,170.5 552.9,170.8 553.4,170.3 553.9,170.6 554.4,170.2 554.9,170.3 555.4,170 555.9,169.9 556.4,170.5 556.9,170.2 557.4,170.1 557.9,170.5 558.4,170.2 558.9,170.1 559.4,170 559.9,170.1 560.4,170.3 560.9,170.3 561.4,170.5 561.9,170.2 562.4,169.9 562.9,170.8 563.4,170.2 563.9,170.1 564.4,170.4 564.9,170.8 565.4,170.6 565.9,169.9 566.4,170.1 566.9,170.2 567.4,169.1 567.9,157.8 568.4,150.8 568.9,163.6 569.4,169.4 569.9,167.8 570.4,166.2 570.9,165.3 571.4,165.7 571.9,148.1 572.4,124 572.9,136.5 573.4,162.1 573.9,170.5 574.4,170.4 574.9,170 575.4,169.6 575.9,157.8 576.4,144.1 576.9,157.8 577.4,169.6 577.9,170.3 578.4,170.1 578.9,169.9 579.4,169.9 579.9,169.9 580.4,170.3 580.9,170.1 581.4,170.6 581.9,170.2 582.4,170 582.9,170.6 583.4,170.6 583.9,170.6 584.4,170.2 584.9,170.2 585.4,170.4 585.9,170.6 586.4,170.3 586.9,170.7 587.4,170 587.9,170 588.4,170.7 588.9,170.5 589.4,170 589.9,170.6 590.4,170 590.9,169.9 591.4,170.1 591.9,170.1 592.4,170.4 592.9,170.6 593.4,170.4 593.9,170.8 594.4,170.7 594.9,170.2 595.4,170.6 595.9,170.6 596.4,169.9 596.9,170.2 597.4,170.3 597.9,170.3 598.4,170.8 598.9,169.9 599.4,170.3 599.9,169.9 600.4,170.1 600.9,170.1 601.4,170.3 601.9,170.3 602.4,170.4 602.9,169.9 603.4,169.9 603.9,170.4 604.4,170.8 604.9,169.9 605.4,170.6 605.9,170 606.4,170.8 606.9,170 607.4,170.4 607.9,170 608.4,170.6 608.9,170.2 609.4,169.9 609.9,170.5 610.4,170.8 610.9,170 611.4,170.1 611.9,170.8 612.4,170.5 612.9,170.7 613.4,170.4 613.9,170.1 614.4,170.3 614.9,170.4 615.4,170.4 615.9,170.1 616.4,170.8 616.9,170.4 617.4,170.2 617.9,170.2 618.4,170.3 618.9,169.9 619.4,170.5 619.9,170.8 620.4,170 620.9,169.9 621.4,170.2 621.9,169.9 622.4,170.3 622.9,170.4 623.4,170.5 623.9,170.4 624.4,170.4 624.9,170.4 625.4,170.6 625.9,170.4 626.4,170.8 626.9,170.8 627.4,170.2 627.9,170.4 628.4,170 628.9,170.3 629.4,170.7 629.9,170.3 630.4,170.2 630.9,170.1 631.4,170.1 631.9,169.9 632.4,170.6 632.9,170.3 633.4,170.6 633.9,170.7 634.4,170 634.9,170.7 635.4,170.7 635.9,170.4 636.4,170.6 636.9,170.8 637.4,170.7 637.9,170.1 638.4,170.4 638.9,169.9 639.4,169.8 639.9,169.4 640.4,169.6 640.9,170.2 641.4,170 641.9,170 642.4,170.3 642.9,170.5 643.4,170.2 643.9,170.7 644.4,169.9 644.9,170.7 645.4,170.3 645.9,170 646.4,170.7 646.9,170.5 647.4,170.3 647.9,170 648.4,169.9 648.9,169.9 649.4,169.9 649.9,170.1 650.4,170.2 650.9,170.7 651.4,169.9 651.9,170.4 652.4,170.2 652.9,170.4 653.4,170 653.9,170.2 654.4,170.1 654.9,170 655.4,170.5 655.9,170.4 656.4,170.4 656.9,170.5 657.4,170.8 657.9,170.5 658.4,169.9 658.9,170.2 659.4,170.4 659.9,169.9 660.4,170.3 660.9,170.1 661.4,170.1 661.9,170.1 662.4,170.8 662.9,170 663.4,170.5 663.9,170.2 664.4,170.8 664.9,170.2 665.4,170.6 665.9,170.5 666.4,170 666.9,170.2 667.4,169.8 667.9,170 668.4,170 668.9,170.4 669.4,170.5 669.9,170.4 670.4,169.8 670.9,170 671.4,170.2 671.9,170.5 672.4,170.1 672.9,170.2 673.4,170.7 673.9,169.9 674.4,170.6 674.9,170.2 675.4,170.3 675.9,170.8 676.4,170.7 676.9,170.1 677.4,169.9 677.9,170.4 678.4,170.4 678.9,170.7 679.4,170.3 679.9,170.1 680.4,169.9 680.9,170.6 681.4,170 681.9,170.4 682.4,169.9 682.9,170.5 683.4,169.9 683.9,170.6 684.4,169.9 684.9,170 685.4,170.4 685.9,170.3 686.4,170.4 686.9,170.4 687.4,170.1 687.9,170.6 688.4,170.6 688.9,170.4 689.4,170.1 689.9,170.5 690.4,170.1 690.9,169.8 691.4,170.7 691.9,170.4 692.4,170.5 692.9,170.7 693.4,170.3 693.9,170 694.4,170.8 694.9,170.5 695.4,170.3 695.9,170.7 696.4,170.5 696.9,170.2 697.4,170.2 697.9,170 698.4,170.5 698.9,170.5 699.4,170.1 699.9,169.6 700.4,169.8 700.9,170.4 701.4,170.1 701.9,170.2 702.4,170.1 702.9,170.7 703.4,170.3 703.9,170.6 704.4,170.6 704.9,169.8 705.4,170.7 705.9,170.2 706.4,170.8 706.9,170.1 707.4,170.1 707.9,170.1 708.4,170.2 708.9,170.6 709.4,170.2 709.9,170.2 710.4,170.1 710.9,170.2 711.4,170.2 711.9,169.9 712.4,169.9 712.9,169.9 713.4,170.7 713.9,170.1 714.4,170.2 714.9,170.1 715.4,170.5 715.9,170.5 716.4,170.4 716.9,170.6 717.4,170.8 717.9,170.3 718.4,169.9 718.9,170.1 719.4,170.8 719.9,170.6 720.4,169.9 720.9,170.3 721.4,169.9 721.9,170.2 722.4,170.1 722.9,170.1 723.4,169.9 723.9,170.4 724.4,170.8 724.9,170.1 725.4,170.6 725.9,170.6 726.4,170 726.9,170.6 727.4,170.1 727.9,170.5 728.4,170 728.9,170.6 729.4,170.7 729.9,170.2 730.4,170.5 730.9,170.2 731.4,170.3 731.9,169.8 732.4,170 732.9,170.6 733.4,170.1 733.9,170.6 734.4,170 734.9,170.5 735.4,170.2 735.9,169.9 736.4,169.9 736.9,170.3 737.4,170.3 737.9,170.1 738.4,170.7 738.9,170 739.4,170 739.9,170.2 740.4,170.1 740.9,170 741.4,170.1 741.9,169.8 742.4,169.9 742.9,170.3 743.4,169.9 743.9,170.4 744.4,170.1 744.9,170.4 745.4,170.4 745.9,170 746.4,170.4 746.9,170.4 747.4,170.6 747.9,170.2 748.4,170.5 748.9,170.5 749.4,169.9 749.9,170.5 750.4,169.8 750.9,169.9 751.4,170 751.9,170.4 752.4,170.1 752.9,170.3 753.4,170.1 753.9,170 754.4,170.4 754.9,170 755.4,170 755.9,170.5 756.4,170.7 756.9,170.5 757.4,170.6 757.9,170.8 758.4,170 758.9,170.1 759.4,170.3 759.9,170.1 760.4,170.2 760.9,170.5 761.4,170 761.9,170.4 762.4,170.4 762.9,170.1 763.4,170.3 763.9,170.3 764.4,170.3 764.9,170.2 765.4,170.3 765.9,170.8 766.4,170.3 766.9,170.8 767.4,170.3 767.9,170 768.4,170.2 768.9,170 769.4,170.3 769.9,170.7 770.4,170.6 770.9,170.4 771.4,170.3 771.9,170 772.4,170.3 772.9,170.2 773.4,170.2 773.9,170 774.4,170.3 774.9,169.9 775.4,170.8 775.9,169.9 776.4,170.5 776.9,170.8 777.4,170.7 777.9,170.8 778.4,170.3 778.9,170.1 779.4,170.6 779.9,170.5 780.4,169.9 780.9,170.3 781.4,170.1 781.9,170 782.4,169.9 782.9,170.6 783.4,170.3 783.9,169.9 784.4,170.7 784.9,170.4 785.4,170.3 785.9,170 786.4,170.2 786.9,170.4 787.4,170 787.9,169.8 788.4,169.9 788.9,170.3 789.4,170 789.9,170.3 790.4,170.7 790.9,170.7 791.4,169.9 791.9,170.7 792.4,170.5 792.9,169.8 793.4,170.4 793.9,170.5 794.4,170.7 794.9,170.2 795.4,170.8 795.9,170.1 796.4,170.6 796.9,170 797.4,170.8 797.9,170.7 798.4,170.4 798.9,170.1 799.4,170 799.9,170.3 800.4,170.8 800.9,170.1 801.4,169.9 801.9,170.6 802.4,170.3 802.9,169.9 803.4,170.2 803.9,170.8 804.4,170.5 804.9,170.7 805.4,170.8 805.9,170 806.4,169.9 806.9,170.6 807.4,170.3 807.9,170.4 808.4,170.4 808.9,170.4 809.4,169.9 809.9,170.1 810.4,170.1 810.9,170.4 811.4,170 811.9,170.1 812.4,170.2 812.9,170.3 813.4,170.6 813.9,170.8 814.4,170.1 814.9,170.5 815.4,169.9 815.9,170.4 816.4,170.6 816.9,170.6 817.4,170.3 817.9,170.3 818.4,170.5 818.9,169.9 819.4,170.7 819.9,170 820.4,170.2 820.9,170.6 821.4,170.4 821.9,170 822.4,170.4 822.9,170.5 823.4,169.9 823.9,169.9 824.4,170.8 824.9,170.5 825.4,170.5 825.9,170 826.4,170.7 826.9,170.6 827.4,170.1 827.9,169.9 828.4,170 828.9,170.2 829.4,170.2 829.9,170.8 830.4,170.6 830.9,169.8 831.4,170.3 831.9,170.7 832.4,170.8 832.9,169.9 833.4,170.1 833.9,170.1 834.4,170.8 834.9,170.2 835.4,170.5 835.9,170.2 836.4,170.7 836.9,170.4 837.4,170.3 837.9,169.9 838.4,170.1 838.9,169.9 839.4,170.1 839.9,170.1 840.4,170.2 840.9,170.3 841.4,170.6 841.9,170.6 842.4,169.9 842.9,170.2 843.4,170.6 843.9,170.5 844.4,170.7 844.9,170.4 845.4,170.2 845.9,170.7 846.4,170.3 846.9,169.8 847.4,170 847.9,170.5 848.4,169.9 848.9,170.8 849.4,170.8 849.9,170.5 850.4,170.4 850.9,170.7 851.4,170.1 851.9,170.2 852.4,170.3 852.9,169.9 853.4,170.4 853.9,170.6 854.4,170.4 854.9,170.3 855.4,170.2 855.9,170.4 856.4,170.1 856.9,170.8 857.4,169.9 857.9,170.7 858.4,170.2 858.9,170.6 859.4,170.8 859.9,169.9 860.4,170 860.9,169.9 861.4,170.5 861.9,170.3 862.4,170.2 862.9,170.2 863.4,170 863.9,170.2 864.4,170.7 864.9,170 865.4,169.9 865.9,170.3 866.4,170 866.9,170.3 867.4,170.8 867.9,170 868.4,170.8 868.9,170.7 869.4,170 869.9,169.9 870.4,170.8 870.9,169.9 871.4,170.3 871.9,169.9 872.4,169.9 872.9,170.7 873.4,170 873.9,170.7 874.4,170.1 874.9,169.9 875.4,170.6 875.9,170 876.4,170.6 876.9,170 877.4,170.6 877.9,170.2 878.4,170.5 878.9,169.9 879.4,170 879.9,170.4 880.4,170.7 880.9,170.5 881.4,170.7 881.9,170.1 882.4,170.2 882.9,170.2 883.4,170.1 883.9,170.4 884.4,170.3 884.9,170 885.4,170.2 885.9,169.8 886.4,170.8 886.9,170.7 887.4,170.7 887.9,169.9 888.4,170.4 888.9,170.7 889.4,170.8 889.9,170.2 890.4,170.3 890.9,170.6 891.4,170.2 891.9,170.8 892.4,170 892.9,170.8 893.4,170.6 893.9,170 894.4,170.7 894.9,170.2 895.4,170.1 895.9,170 896.4,170.2 896.9,169.9 897.4,170.8 897.9,170.7 898.4,170.6 898.9,170.1 899.4,170 899.9,170 900.4,170.7 900.9,170.4 901.4,170.8 901.9,169.9 902.4,170.7 902.9,170.5 903.4,170.8 903.9,169.9 904.4,170 904.9,170.7 905.4,170.7 905.9,169.9 906.4,170.7 906.9,170 907.4,170.7 907.9,170.4" fill="none" stroke="#2a8a2a" stroke-width="1.3"/>
<text x="572.5" y="134" font-size="7.5" text-anchor="middle" fill="#333" font-weight="bold" font-family="'Liberation Sans', Arial, sans-serif" textLength="42" lengthAdjust="spacingAndGlyphs">3582.701</text>
<line x1="551.5" y1="135.5" x2="593.5" y2="135.5" stroke="#666" stroke-width="1"/>
<rect x="521.9" y="175.1" width="386.9" height="48.3" fill="#ffffff" stroke="#9a9a9a" stroke-width="1.2"/>
<line x1="521.9" y1="223.4" x2="908.8" y2="223.4" stroke="#8a8a8a" stroke-width="1.8"/>
<line x1="521.9" y1="175.1" x2="521.9" y2="223.4" stroke="#777" stroke-width="1.2"/>
<line x1="517.9" y1="183.1" x2="521.9" y2="183.1" stroke="#555" stroke-width="1"/>
<text x="516.4" y="185.5" font-size="7" text-anchor="end" fill="#222" font-weight="bold" font-family="'Liberation Sans', Arial, sans-serif">2</text>
<line x1="517.9" y1="203.3" x2="521.9" y2="203.3" stroke="#555" stroke-width="1"/>
<text x="516.4" y="205.7" font-size="7" text-anchor="end" fill="#222" font-weight="bold" font-family="'Liberation Sans', Arial, sans-serif">1</text>
<line x1="517.9" y1="223.4" x2="521.9" y2="223.4" stroke="#555" stroke-width="1"/>
<text x="516.4" y="225.8" font-size="7" text-anchor="end" fill="#222" font-weight="bold" font-family="'Liberation Sans', Arial, sans-serif">0</text>
<line x1="519.4" y1="216.7" x2="521.9" y2="216.7" stroke="#777" stroke-width="0.8"/>
<line x1="519.4" y1="210" x2="521.9" y2="210" stroke="#777" stroke-width="0.8"/>
<line x1="519.4" y1="203.3" x2="521.9" y2="203.3" stroke="#777" stroke-width="0.8"/>
<line x1="519.4" y1="196.5" x2="521.9" y2="196.5" stroke="#777" stroke-width="0.8"/>
<line x1="519.4" y1="189.8" x2="521.9" y2="189.8" stroke="#777" stroke-width="0.8"/>
<line x1="519.4" y1="183.1" x2="521.9" y2="183.1" stroke="#777" stroke-width="0.8"/>
<line x1="519.4" y1="176.4" x2="521.9" y2="176.4" stroke="#777" stroke-width="0.8"/>
<text x="494.9" y="181.6" font-size="6" text-anchor="start" fill="#222" font-weight="bold" font-family="'Liberation Sans', Arial, sans-serif">x10</text>
<text x="506.4" y="178.6" font-size="4.5" text-anchor="start" fill="#222" font-weight="bold" font-family="'Liberation Sans', Arial, sans-serif">4</text>
<text x="487.9" y="195.3" font-size="5.5" text-anchor="middle" fill="#333" font-weight="bold" font-family="'Liberation Sans', Arial, sans-serif" transform="rotate(-90 487.9 195.3)">Intens. [a.u.]</text>
<polyline points="522.4,222.7 522.9,222.6 523.4,222.7 523.9,222.6 524.4,222 524.9,222.9 525.4,222.1 525.9,222.2 526.4,222.9 526.9,222.7 527.4,221.7 527.9,220.9 528.4,221.3 528.9,222.2 529.4,222.1 529.9,221.9 530.4,222.3 530.9,222.5 531.4,222.2 531.9,222.3 532.4,222.4 532.9,222.1 533.4,222.5 533.9,222.3 534.4,222.2 534.9,222 535.4,222.8 535.9,222.1 536.4,222 536.9,222.8 537.4,222.7 537.9,222.4 538.4,222.5 538.9,222 539.4,222.8 539.9,222.9 540.4,222.1 540.9,222.2 541.4,222.4 541.9,222.6 542.4,222.4 542.9,222 543.4,222.2 543.9,222.4 544.4,222.8 544.9,222.6 545.4,222.4 545.9,222.2 546.4,222 546.9,222.2 547.4,222.1 547.9,222 548.4,222.4 548.9,222.7 549.4,222 549.9,222.4 550.4,222 550.9,222.3 551.4,222.3 551.9,222.4 552.4,222.7 552.9,222.1 553.4,222.8 553.9,222.3 554.4,222.7 554.9,222.7 555.4,222.3 555.9,221.9 556.4,222.2 556.9,222.5 557.4,222.6 557.9,222.1 558.4,222.2 558.9,222.2 559.4,222 559.9,222.7 560.4,222 560.9,222.5 561.4,222.3 561.9,222.9 562.4,222.3 562.9,222 563.4,222.6 563.9,222.8 564.4,222.4 564.9,222.1 565.4,222.6 565.9,222.7 566.4,222.8 566.9,222.4 567.4,220.6 567.9,206.6 568.4,197.9 568.9,213.8 569.4,221.5 569.9,219.9 570.4,218.3 570.9,217.4 571.4,217.8 571.9,202.6 572.4,181 572.9,192.2 573.4,215.1 573.9,222.6 574.4,222.5 574.9,222.7 575.4,220.9 575.9,203.3 576.4,183.1 576.9,203.3 577.4,220.9 577.9,222.7 578.4,221.9 578.9,222.9 579.4,222.8 579.9,222.9 580.4,222.2 580.9,222.8 581.4,222.8 581.9,222 582.4,222.8 582.9,222.5 583.4,222.7 583.9,222 584.4,222.3 584.9,222.6 585.4,222.9 585.9,222.8 586.4,222.3 586.9,222.6 587.4,222.3 587.9,222.4 588.4,222.4 588.9,222.5 589.4,222.6 589.9,222.5 590.4,222.8 590.9,222.6 591.4,222.1 591.9,222.7 592.4,222.7 592.9,222.3 593.4,222.2 593.9,222.8 594.4,222.2 594.9,222.4 595.4,222 595.9,222.9 596.4,222.7 596.9,222.1 597.4,222.3 597.9,222 598.4,222.6 598.9,221.9 599.4,222.4 599.9,221.9 600.4,222.1 600.9,222.4 601.4,222.5 601.9,222.4 602.4,222 602.9,222.9 603.4,222.3 603.9,222.3 604.4,222.2 604.9,222 605.4,222.6 605.9,222.7 606.4,222.7 606.9,222.3 607.4,222.6 607.9,222.6 608.4,222.8 608.9,222.8 609.4,222.2 609.9,222.3 610.4,222.4 610.9,222.4 611.4,222.9 611.9,221.9 612.4,222.9 612.9,222.7 613.4,222.7 613.9,222.4 614.4,222 614.9,222.8 615.4,222.5 615.9,222.5 616.4,222.9 616.9,222.2 617.4,222.6 617.9,222 618.4,222 618.9,222 619.4,222.4 619.9,222.7 620.4,222.8 620.9,222.8 621.4,222 621.9,222.2 622.4,222.2 622.9,222.7 623.4,222.8 623.9,222 624.4,222.2 624.9,222.2 625.4,222 625.9,222.5 626.4,222.2 626.9,222.4 627.4,222.2 627.9,222.4 628.4,222.3 628.9,222 629.4,222.5 629.9,222.7 630.4,222 630.9,222.2 631.4,222.4 631.9,222.7 632.4,222.3 632.9,222.9 633.4,222.4 633.9,222.8 634.4,222.1 634.9,222.7 635.4,222.5 635.9,222.4 636.4,222.1 636.9,222.1 637.4,222.3 637.9,222.8 638.4,222.2 638.9,222.2 639.4,221.9 639.9,221.4 640.4,221.6 640.9,222.3 641.4,222.9 641.9,221.9 642.4,222 642.9,222.5 643.4,221.9 643.9,222.3 644.4,222.9 644.9,221.9 645.4,222.2 645.9,222 646.4,222.9 646.9,222.6 647.4,222.8 647.9,222.5 648.4,222.2 648.9,222.7 649.4,222.6 649.9,222.8 650.4,222 650.9,222.2 651.4,222.7 651.9,222.3 652.4,222.7 652.9,222.7 653.4,222.7 653.9,222 654.4,222.2 654.9,222 655.4,222.6 655.9,222.8 656.4,222.4 656.9,222.1 657.4,222.3 657.9,222.4 658.4,222.6 658.9,222 659.4,222.6 659.9,222.8 660.4,222.2 660.9,222.7 661.4,222 661.9,222.1 662.4,222.8 662.9,222.8 663.4,222.7 663.9,222.1 664.4,222.4 664.9,222.3 665.4,222.9 665.9,222.7 666.4,222.6 666.9,222 667.4,222.6 667.9,222.1 668.4,222.3 668.9,222.2 669.4,222.1 669.9,222.4 670.4,222.5 670.9,222.5 671.4,222.8 671.9,222.1 672.4,222.7 672.9,222.1 673.4,222.4 673.9,221.9 674.4,222.5 674.9,222.9 675.4,222.4 675.9,222.3 676.4,221.9 676.9,222.8 677.4,222.1 677.9,222.1 678.4,222.4 678.9,222.1 679.4,222.3 679.9,221.9 680.4,222.1 680.9,222 681.4,222.3 681.9,222.8 682.4,222.5 682.9,222 683.4,222.3 683.9,222.5 684.4,222.5 684.9,222.5 685.4,222.6 685.9,222.6 686.4,222.9 686.9,222.5 687.4,222.4 687.9,222.6 688.4,222 688.9,222.9 689.4,222.1 689.9,222 690.4,222.1 690.9,222.6 691.4,222.3 691.9,222.2 692.4,222.8 692.9,222.5 693.4,222.1 693.9,222 694.4,221.9 694.9,222.4 695.4,222.4 695.9,222.8 696.4,222.2 696.9,222.8 697.4,222.4 697.9,222.3 698.4,222.4 698.9,222.6 699.4,222.2 699.9,221.6 700.4,221.9 700.9,222.6 701.4,222.4 701.9,222 702.4,222.3 702.9,222.4 703.4,222.5 703.9,222.6 704.4,222.7 704.9,222.2 705.4,222.7 705.9,222 706.4,222.5 706.9,222.6 707.4,222.8 707.9,222.6 708.4,222.4 708.9,222.1 709.4,222.3 709.9,222.7 710.4,222 710.9,222.6 711.4,222.4 711.9,221.9 712.4,222.1 712.9,222.3 713.4,222.2 713.9,222.9 714.4,222 714.9,222.3 715.4,222.3 715.9,222.5 716.4,222.6 716.9,222.7 717.4,221.9 717.9,222.7 718.4,222.7 718.9,222.2 719.4,222.4 719.9,222.4 720.4,222.2 720.9,222.7 721.4,222.9 721.9,222.6 722.4,222.4 722.9,222.5 723.4,222 723.9,222.4 724.4,222.4 724.9,222.9 725.4,222.5 725.9,222.4 726.4,222.4 726.9,222 727.4,222.2 727.9,222.1 728.4,222.5 728.9,222.7 729.4,222.8 729.9,222.2 730.4,222.5 730.9,222.5 731.4,222.9 731.9,222.9 732.4,222.7 732.9,222.3 733.4,222.4 733.9,222.7 734.4,222.9 734.9,222.2 735.4,222.4 735.9,222.1 736.4,222.7 736.9,222 737.4,222.8 737.9,222.8 738.4,222.5 738.9,222.8 739.4,222 739.9,222 740.4,222.1 740.9,222.3 741.4,221.9 741.9,221.9 742.4,222 742.9,222 743.4,222.2 743.9,222.2 744.4,222 744.9,222.9 745.4,222.9 745.9,222.3 746.4,222.9 746.9,222.5 747.4,222.5 747.9,222.1 748.4,222.8 748.9,222.2 749.4,222.7 749.9,222 750.4,222.3 750.9,222.2 751.4,222.1 751.9,222 752.4,222.1 752.9,222.5 753.4,222.1 753.9,222.6 754.4,222.2 754.9,222.5 755.4,222.7 755.9,222.8 756.4,222.4 756.9,222 757.4,222.8 757.9,222.7 758.4,222.7 758.9,221.9 759.4,222 759.9,222.2 760.4,222.3 760.9,222.6 761.4,222.8 761.9,222.7 762.4,222.4 762.9,222.3 763.4,222.4 763.9,222.1 764.4,222.6 764.9,222.5 765.4,222.6 765.9,222.1 766.4,222.3 766.9,222 767.4,222.6 767.9,222.6 768.4,222 768.9,222.8 769.4,222.7 769.9,222.1 770.4,222.5 770.9,222.5 771.4,222.5 771.9,222.9 772.4,222.5 772.9,222.4 773.4,222.3 773.9,222.3 774.4,222 774.9,222.7 775.4,222.5 775.9,222.4 776.4,222.8 776.9,222.1 777.4,222.1 777.9,222 778.4,222.6 778.9,222.3 779.4,222.4 779.9,222.6 780.4,222.7 780.9,222.9 781.4,222.2 781.9,222.7 782.4,222.3 782.9,222.8 783.4,222.8 783.9,222.7 784.4,222.9 784.9,222.2 785.4,222.5 785.9,222.4 786.4,222.4 786.9,222.5 787.4,222.1 787.9,221.9 788.4,222 788.9,222.3 789.4,222.3 789.9,222.8 790.4,222.3 790.9,222 791.4,222.6 791.9,222.7 792.4,222.8 792.9,222.2 793.4,222.5 793.9,222.8 794.4,222.9 794.9,222.3 795.4,222 795.9,222.6 796.4,222.8 796.9,222.5 797.4,222 797.9,222.1 798.4,222.3 798.9,221.9 799.4,222.4 799.9,222.5 800.4,222.7 800.9,222.6 801.4,222.1 801.9,222.6 802.4,222.2 802.9,222.7 803.4,222.7 803.9,222.5 804.4,222.2 804.9,222.4 805.4,222.3 805.9,222.8 806.4,222 806.9,222.5 807.4,222 807.9,222.9 808.4,222.8 808.9,222.4 809.4,222.1 809.9,222.8 810.4,222.9 810.9,222.2 811.4,222.9 811.9,222.9 812.4,222.3 812.9,222.6 813.4,222 813.9,222.2 814.4,222.3 814.9,221.9 815.4,222.2 815.9,222 816.4,222.1 816.9,222.1 817.4,222.4 817.9,222.5 818.4,222.8 818.9,222.5 819.4,222.5 819.9,222.7 820.4,222.4 820.9,222 821.4,222.4 821.9,222.8 822.4,222.4 822.9,222.6 823.4,222.3 823.9,222.6 824.4,222.1 824.9,222.4 825.4,221.9 825.9,222.5 826.4,222.6 826.9,222.7 827.4,222.6 827.9,222.1 828.4,222.1 828.9,222 829.4,222.2 829.9,222.6 830.4,222.8 830.9,222.7 831.4,222.5 831.9,222.7 832.4,222.4 832.9,222.8 833.4,222.7 833.9,222.4 834.4,222.1 834.9,222.2 835.4,222.6 835.9,222.7 836.4,222.8 836.9,221.9 837.4,222.3 837.9,222.2 838.4,222.1 838.9,222.5 839.4,222 839.9,222.2 840.4,222.1 840.9,222.4 841.4,222.3 841.9,222.4 842.4,222.1 842.9,221.9 843.4,222 843.9,221.9 844.4,222.1 844.9,221.9 845.4,222.4 845.9,222.9 846.4,222.1 846.9,222.1 847.4,222.1 847.9,222.6 848.4,222.5 848.9,222.2 849.4,222 849.9,222 850.4,222.1 850.9,222.1 851.4,222.1 851.9,221.9 852.4,222.6 852.9,222.4 853.4,222.5 853.9,222.2 854.4,222.3 854.9,222.2 855.4,222.3 855.9,222.4 856.4,222.2 856.9,222 857.4,222.8 857.9,222.5 858.4,222.9 858.9,222.4 859.4,222.1 859.9,222.6 860.4,222.8 860.9,222.8 861.4,222.8 861.9,221.9 862.4,222.8 862.9,222.7 863.4,222 863.9,222.6 864.4,222.8 864.9,222.3 865.4,222 865.9,222.7 866.4,222.2 866.9,222 867.4,222.5 867.9,222.3 868.4,222.4 868.9,222 869.4,221.9 869.9,222.3 870.4,222.1 870.9,222 871.4,222 871.9,222.6 872.4,222.5 872.9,222.8 873.4,222.5 873.9,222.2 874.4,222.9 874.9,222.5 875.4,222.3 875.9,222.1 876.4,222.4 876.9,222.3 877.4,222.4 877.9,222.7 878.4,222.6 878.9,222.3 879.4,222.2 879.9,222.5 880.4,222.2 880.9,222.3 881.4,222.6 881.9,222.1 882.4,222.1 882.9,222.1 883.4,222.4 883.9,222.1 884.4,222.8 884.9,222 885.4,222.3 885.9,222.6 886.4,222.1 886.9,222.8 887.4,222.9 887.9,222 888.4,222.2 888.9,222.7 889.4,222.6 889.9,222.8 890.4,222.7 890.9,222.2 891.4,222.6 891.9,222.4 892.4,222.8 892.9,222.7 893.4,222.3 893.9,222.9 894.4,222.7 894.9,222.7 895.4,222.7 895.9,222.6 896.4,222.2 896.9,222.8 897.4,222.2 897.9,222.3 898.4,222.9 898.9,222.8 899.4,222.3 899.9,222.8 900.4,222.3 900.9,222.3 901.4,222.4 901.9,222.1 902.4,222 902.9,222.7 903.4,222.8 903.9,222.3 904.4,222.7 904.9,222.8 905.4,222.6 905.9,222 906.4,222.5 906.9,222.8 907.4,222.2 907.9,222.4" fill="none" stroke="#6a2a80" stroke-width="1.3"/>
<text x="572.5" y="186.1" font-size="7.5" text-anchor="middle" fill="#333" font-weight="bold" font-family="'Liberation Sans', Arial, sans-serif" textLength="42" lengthAdjust="spacingAndGlyphs">3583.821</text>
<line x1="551.5" y1="187.6" x2="593.5" y2="187.6" stroke="#666" stroke-width="1"/>
<rect x="521.9" y="227.2" width="386.9" height="48.3" fill="#ffffff" stroke="#9a9a9a" stroke-width="1.2"/>
<line x1="521.9" y1="275.5" x2="908.8" y2="275.5" stroke="#8a8a8a" stroke-width="1.8"/>
<line x1="521.9" y1="227.2" x2="521.9" y2="275.5" stroke="#777" stroke-width="1.2"/>
<line x1="517.9" y1="235.2" x2="521.9" y2="235.2" stroke="#555" stroke-width="1"/>
<text x="516.4" y="237.6" font-size="7" text-anchor="end" fill="#222" font-weight="bold" font-family="'Liberation Sans', Arial, sans-serif">3</text>
<line x1="517.9" y1="248.6" x2="521.9" y2="248.6" stroke="#555" stroke-width="1"/>
<text x="516.4" y="251" font-size="7" text-anchor="end" fill="#222" font-weight="bold" font-family="'Liberation Sans', Arial, sans-serif">2</text>
<line x1="517.9" y1="262" x2="521.9" y2="262" stroke="#555" stroke-width="1"/>
<text x="516.4" y="264.4" font-size="7" text-anchor="end" fill="#222" font-weight="bold" font-family="'Liberation Sans', Arial, sans-serif">1</text>
<line x1="517.9" y1="275.5" x2="521.9" y2="275.5" stroke="#555" stroke-width="1"/>
<text x="516.4" y="277.9" font-size="7" text-anchor="end" fill="#222" font-weight="bold" font-family="'Liberation Sans', Arial, sans-serif">0</text>
<line x1="519.4" y1="271" x2="521.9" y2="271" stroke="#777" stroke-width="0.8"/>
<line x1="519.4" y1="266.5" x2="521.9" y2="266.5" stroke="#777" stroke-width="0.8"/>
<line x1="519.4" y1="262" x2="521.9" y2="262" stroke="#777" stroke-width="0.8"/>
<line x1="519.4" y1="257.6" x2="521.9" y2="257.6" stroke="#777" stroke-width="0.8"/>
<line x1="519.4" y1="253.1" x2="521.9" y2="253.1" stroke="#777" stroke-width="0.8"/>
<line x1="519.4" y1="248.6" x2="521.9" y2="248.6" stroke="#777" stroke-width="0.8"/>
<line x1="519.4" y1="244.1" x2="521.9" y2="244.1" stroke="#777" stroke-width="0.8"/>
<line x1="519.4" y1="239.7" x2="521.9" y2="239.7" stroke="#777" stroke-width="0.8"/>
<line x1="519.4" y1="235.2" x2="521.9" y2="235.2" stroke="#777" stroke-width="0.8"/>
<line x1="519.4" y1="230.7" x2="521.9" y2="230.7" stroke="#777" stroke-width="0.8"/>
<text x="494.9" y="233.7" font-size="6" text-anchor="start" fill="#222" font-weight="bold" font-family="'Liberation Sans', Arial, sans-serif">x10</text>
<text x="506.4" y="230.7" font-size="4.5" text-anchor="start" fill="#222" font-weight="bold" font-family="'Liberation Sans', Arial, sans-serif">4</text>
<text x="487.9" y="247.3" font-size="5.5" text-anchor="middle" fill="#333" font-weight="bold" font-family="'Liberation Sans', Arial, sans-serif" transform="rotate(-90 487.9 247.3)">Intens. [a.u.]</text>
<polyline points="522.4,274.5 522.9,274.4 523.4,274.2 523.9,274.2 524.4,274.8 524.9,274.8 525.4,274.2 525.9,274.3 526.4,274.4 526.9,274 527.4,273.7 527.9,273 528.4,273.3 528.9,274.4 529.4,274.2 529.9,274.6 530.4,274.5 530.9,274.8 531.4,274.1 531.9,274.6 532.4,274.9 532.9,274.3 533.4,274.2 533.9,274.9 534.4,274.3 534.9,274.8 535.4,274.8 535.9,274.1 536.4,274 536.9,274.9 537.4,274.9 537.9,274.6 538.4,274.8 538.9,274.2 539.4,274.9 539.9,274.7 540.4,274.3 540.9,274.5 541.4,274.3 541.9,274.7 542.4,274.1 542.9,274.3 543.4,274.5 543.9,274.3 544.4,274.4 544.9,274.5 545.4,274 545.9,274.2 546.4,274.3 546.9,274.1 547.4,274.5 547.9,274 548.4,274.6 548.9,274.5 549.4,274.3 549.9,274.5 550.4,274.7 550.9,274.4 551.4,274.9 551.9,274.5 552.4,274.2 552.9,274.5 553.4,274.5 553.9,274.1 554.4,274 554.9,274.5 555.4,274.1 555.9,274.8 556.4,274.7 556.9,274 557.4,274.3 557.9,274.6 558.4,274.8 558.9,274 559.4,274.4 559.9,274.2 560.4,274.6 560.9,274.3 561.4,274.3 561.9,274.8 562.4,274.1 562.9,274.1 563.4,274.9 563.9,274.8 564.4,274.7 564.9,274.4 565.4,274.8 565.9,274.7 566.4,274.1 566.9,274.7 567.4,274.1 567.9,266.9 568.4,262.4 568.9,270.5 569.4,274.2 569.9,273.1 570.4,272 570.9,271.5 571.4,271.7 571.9,257.4 572.4,238.6 572.9,248.3 573.4,268.3 573.9,274.3 574.4,274.7 574.9,274.7 575.4,274.3 575.9,266.1 576.4,256.7 576.9,266.1 577.4,274.3 577.9,274.2 578.4,274.2 578.9,274.5 579.4,274.4 579.9,274.2 580.4,274.5 580.9,274.3 581.4,274.9 581.9,274.9 582.4,274.2 582.9,274.7 583.4,274 583.9,274.4 584.4,274.5 584.9,274.6 585.4,274.9 585.9,274.3 586.4,274.6 586.9,274.1 587.4,274.6 587.9,274.7 588.4,274.8 588.9,274.3 589.4,274.8 589.9,274.5 590.4,274.9 590.9,274.2 591.4,274.1 591.9,274.7 592.4,274.3 592.9,274.5 593.4,274 593.9,274.1 594.4,274.9 594.9,274.4 595.4,274.5 595.9,274.5 596.4,274.4 596.9,274.7 597.4,274.8 597.9,274.4 598.4,274.4 598.9,274.6 599.4,274.4 599.9,274 600.4,274.2 600.9,274.5 601.4,274.6 601.9,274.9 602.4,274.1 602.9,274.7 603.4,274 603.9,274.8 604.4,274.9 604.9,274.2 605.4,274.5 605.9,274.1 606.4,274.8 606.9,274.1 607.4,274.3 607.9,274.4 608.4,274.6 608.9,274.7 609.4,274.5 609.9,274.8 610.4,274 610.9,274.1 611.4,274.1 611.9,274.6 612.4,274.6 612.9,274.9 613.4,274.4 613.9,274.8 614.4,274.8 614.9,274.1 615.4,274.4 615.9,274.5 616.4,274.9 616.9,274.5 617.4,274.3 617.9,274.7 618.4,274.2 618.9,274.5 619.4,274.6 619.9,274.5 620.4,274.7 620.9,274.5 621.4,274.6 621.9,274.2 622.4,274.3 622.9,274.5 623.4,274.1 623.9,274.1 624.4,274.3 624.9,274.6 625.4,274.6 625.9,274.8 626.4,274.7 626.9,274.9 627.4,274.3 627.9,274.2 628.4,274.2 628.9,274.1 629.4,274.9 629.9,274.1 630.4,274.6 630.9,274.1 631.4,274.7 631.9,274.7 632.4,274.7 632.9,274.5 633.4,274.7 633.9,274.2 634.4,274.3 634.9,274.8 635.4,274.3 635.9,274 636.4,274.1 636.9,274.7 637.4,274.6 637.9,274.3 638.4,274.6 638.9,274.6 639.4,273.9 639.9,273.5 640.4,273.7 640.9,274.3 641.4,274.7 641.9,274 642.4,274.6 642.9,274.5 643.4,274.8 643.9,274.5 644.4,274.4 644.9,274.2 645.4,274.8 645.9,274.7 646.4,274.4 646.9,274.9 647.4,274.6 647.9,274.8 648.4,274.1 648.9,274.4 649.4,274.4 649.9,274.7 650.4,274.9 650.9,274.5 651.4,274.7 651.9,274.6 652.4,274.2 652.9,274.9 653.4,274.5 653.9,274 654.4,274.1 654.9,275 655.4,274.1 655.9,274.6 656.4,274.8 656.9,274.2 657.4,274.5 657.9,274.2 658.4,274.6 658.9,274.9 659.4,274.7 659.9,274.2 660.4,274.6 660.9,274.4 661.4,274.9 661.9,274.5 662.4,274.1 662.9,274.1 663.4,274.5 663.9,274.6 664.4,274.5 664.9,274.3 665.4,274.5 665.9,274.7 666.4,274.3 666.9,275 667.4,274 667.9,274 668.4,274.6 668.9,274.4 669.4,274.9 669.9,274.7 670.4,274.7 670.9,274.9 671.4,274.8 671.9,274.5 672.4,274.1 672.9,274.2 673.4,274.4 673.9,274.7 674.4,274.9 674.9,274.5 675.4,274.9 675.9,274.9 676.4,274.8 676.9,274.5 677.4,274.8 677.9,274.5 678.4,274.4 678.9,274.4 679.4,274.6 679.9,274.7 680.4,274.7 680.9,274.2 681.4,274.5 681.9,274.2 682.4,274.2 682.9,274.7 683.4,274.7 683.9,275 684.4,274.8 684.9,274.8 685.4,274.2 685.9,274.3 686.4,274.5 686.9,274.4 687.4,274.7 687.9,274.1 688.4,274.8 688.9,274.1 689.4,274.1 689.9,274 690.4,274.8 690.9,274.4 691.4,274.4 691.9,274.1 692.4,274.9 692.9,274.4 693.4,274.9 693.9,275 694.4,274.2 694.9,274.1 695.4,274.8 695.9,274 696.4,274.3 696.9,274.8 697.4,275 697.9,274.2 698.4,274.6 698.9,274 699.4,274.2 699.9,273.7 700.4,273.9 700.9,274.5 701.4,274.4 701.9,274.3 702.4,274.9 702.9,274.9 703.4,274.5 703.9,274.3 704.4,274.6 704.9,274.4 705.4,274.1 705.9,274.6 706.4,274.5 706.9,274.3 707.4,274.2 707.9,274.4 708.4,274.6 708.9,274 709.4,274.6 709.9,274.2 710.4,274.1 710.9,274.1 711.4,274.4 711.9,274 712.4,274.1 712.9,274.5 713.4,274.8 713.9,274.2 714.4,274.5 714.9,274.6 715.4,274.5 715.9,274.5 716.4,274.7 716.9,274.4 717.4,274 717.9,274.2 718.4,274.4 718.9,274.8 719.4,274.6 719.9,274.1 720.4,274.8 720.9,274.3 721.4,274.2 721.9,275 722.4,275 722.9,274.9 723.4,275 723.9,274.6 724.4,274.2 724.9,274.2 725.4,274.5 725.9,274.3 726.4,274.7 726.9,274.8 727.4,274.9 727.9,274.1 728.4,274 728.9,274.5 729.4,274.9 729.9,274.5 730.4,274 730.9,274.7 731.4,274.5 731.9,274.3 732.4,274.5 732.9,274.8 733.4,274.6 733.9,274.2 734.4,274.8 734.9,274.6 735.4,274.2 735.9,274.9 736.4,274.6 736.9,274.5 737.4,274.9 737.9,274.9 738.4,274.8 738.9,274.5 739.4,274.4 739.9,274.5 740.4,274.7 740.9,274.6 741.4,274.2 741.9,274 742.4,274.1 742.9,274.4 743.4,274.8 743.9,274.2 744.4,274.9 744.9,274.1 745.4,274.2 745.9,274.6 746.4,274.5 746.9,274.3 747.4,274 747.9,274.6 748.4,274.8 748.9,274.7 749.4,274.3 749.9,274.5 750.4,274.4 750.9,274.4 751.4,274.3 751.9,274.6 752.4,274.4 752.9,274.5 753.4,274.2 753.9,274 754.4,274.2 754.9,274.3 755.4,274.2 755.9,274.9 756.4,274.2 756.9,274.1 757.4,274.3 757.9,274.4 758.4,274.5 758.9,274.5 759.4,274.5 759.9,274.3 760.4,274.1 760.9,274.2 761.4,274.7 761.9,274.9 762.4,275 762.9,275 763.4,274.4 763.9,274.4 764.4,274.2 764.9,275 765.4,274.4 765.9,274.5 766.4,274.3 766.9,274.4 767.4,274.1 767.9,274.5 768.4,274.5 768.9,274.7 769.4,274.1 769.9,274.3 770.4,274.7 770.9,274.7 771.4,274 771.9,274.2 772.4,274 772.9,274 773.4,274.7 773.9,274.7 774.4,274.7 774.9,274.1 775.4,274.9 775.9,274.5 776.4,274.4 776.9,274.2 777.4,274.6 777.9,274.9 778.4,274 778.9,274.9 779.4,274.5 779.9,274.6 780.4,274.5 780.9,274.7 781.4,274.6 781.9,274 782.4,274.9 782.9,275 783.4,274.4 783.9,275 784.4,275 784.9,274.5 785.4,274.4 785.9,274.6 786.4,274 786.9,274.6 787.4,274.2 787.9,274 788.4,274.1 788.9,274.4 789.4,274.6 789.9,274.3 790.4,274.2 790.9,274.4 791.4,274.7 791.9,274.3 792.4,274.2 792.9,274.1 793.4,274.1 793.9,274.7 794.4,274.5 794.9,274 795.4,274.1 795.9,274.6 796.4,274.5 796.9,274.4 797.4,274.9 797.9,274.1 798.4,274.3 798.9,274.9 799.4,274.7 799.9,274.6 800.4,274.7 800.9,274.2 801.4,274.4 801.9,274.3 802.4,274.2 802.9,275 803.4,274.7 803.9,274 804.4,274.6 804.9,274.5 805.4,274.2 805.9,274.3 806.4,274.3 806.9,274.7 807.4,274.6 807.9,274.8 808.4,274 808.9,274.5 809.4,274.8 809.9,274.1 810.4,274.8 810.9,274.1 811.4,274.4 811.9,274.8 812.4,275 812.9,274.7 813.4,274.7 813.9,274 814.4,274 814.9,274.7 815.4,274.5 815.9,274.8 816.4,274 816.9,274.5 817.4,274.3 817.9,274.8 818.4,274.9 818.9,274.4 819.4,274.2 819.9,274.6 820.4,274.7 820.9,274.7 821.4,275 821.9,274.7 822.4,274.6 822.9,274.9 823.4,274.3 823.9,274.6 824.4,274.9 824.9,275 825.4,274.7 825.9,274.9 826.4,274.5 826.9,274.6 827.4,274.7 827.9,274.1 828.4,274.4 828.9,274.8 829.4,274.6 829.9,274.9 830.4,274.5 830.9,274.1 831.4,274.7 831.9,274.8 832.4,274.7 832.9,274.3 833.4,274.7 833.9,274.8 834.4,274.1 834.9,274.3 835.4,274.9 835.9,274 836.4,274.4 836.9,274.8 837.4,274.2 837.9,274.4 838.4,274.7 838.9,274.2 839.4,274.4 839.9,274.3 840.4,274.2 840.9,274.5 841.4,274.7 841.9,274.8 842.4,274.5 842.9,274.6 843.4,274.8 843.9,274.9 844.4,274.9 844.9,274.2 845.4,274.8 845.9,274.3 846.4,274.6 846.9,274.8 847.4,274.5 847.9,274.4 848.4,274.1 848.9,274.7 849.4,274.5 849.9,274 850.4,275 850.9,274.3 851.4,274.4 851.9,274.5 852.4,274.4 852.9,274.6 853.4,274.8 853.9,274.6 854.4,274.9 854.9,274.9 855.4,274 855.9,274.9 856.4,274.3 856.9,274.2 857.4,274.5 857.9,274.3 858.4,275 858.9,274.7 859.4,274.6 859.9,274.9 860.4,274.1 860.9,274.3 861.4,274.3 861.9,274.2 862.4,274.9 862.9,274.3 863.4,274 863.9,274.8 864.4,274.6 864.9,274.7 865.4,274.5 865.9,274.7 866.4,274.6 866.9,274.5 867.4,274.5 867.9,274.1 868.4,274.3 868.9,274.2 869.4,274.9 869.9,274.3 870.4,274.4 870.9,274.8 871.4,274.2 871.9,274.3 872.4,274.8 872.9,274.9 873.4,274.9 873.9,274 874.4,274.8 874.9,274.1 875.4,274.1 875.9,274.5 876.4,274.6 876.9,274.3 877.4,274 877.9,274.7 878.4,274.5 878.9,274.3 879.4,274.6 879.9,274.8 880.4,274 880.9,274.3 881.4,274.3 881.9,274.2 882.4,274.1 882.9,274.7 883.4,274.8 883.9,274.7 884.4,275 884.9,274.8 885.4,274.6 885.9,274.1 886.4,274 886.9,274.6 887.4,274.3 887.9,274.5 888.4,274.8 888.9,274.2 889.4,274.9 889.9,274.3 890.4,274 890.9,274.5 891.4,274.9 891.9,274.6 892.4,274.6 892.9,274.2 893.4,274.9 893.9,274.4 894.4,274.2 894.9,274.3 895.4,274.8 895.9,274.6 896.4,274.1 896.9,274.4 897.4,274.2 897.9,274.2 898.4,274.4 898.9,274 899.4,274.6 899.9,274.7 900.4,274.4 900.9,274.5 901.4,274.9 901.9,274.4 902.4,274.8 902.9,274.9 903.4,274.1 903.9,274.8 904.4,274.4 904.9,274.5 905.4,274 905.9,274.9 906.4,274.3 906.9,274.3 907.4,274.1 907.9,274.9" fill="none" stroke="#22225a" stroke-width="1.3"/>
<text x="572.5" y="238.2" font-size="7.5" text-anchor="middle" fill="#333" font-weight="bold" font-family="'Liberation Sans', Arial, sans-serif" textLength="42" lengthAdjust="spacingAndGlyphs">3584.382</text>
<line x1="551.5" y1="239.7" x2="593.5" y2="239.7" stroke="#666" stroke-width="1"/>
<rect x="521.9" y="279.2" width="386.9" height="48.3" fill="#ffffff" stroke="#9a9a9a" stroke-width="1.2"/>
<line x1="521.9" y1="327.6" x2="908.8" y2="327.6" stroke="#8a8a8a" stroke-width="1.8"/>
<line x1="521.9" y1="279.2" x2="521.9" y2="327.6" stroke="#777" stroke-width="1.2"/>
<line x1="517.9" y1="287.2" x2="521.9" y2="287.2" stroke="#555" stroke-width="1"/>
<text x="516.4" y="289.6" font-size="7" text-anchor="end" fill="#222" font-weight="bold" font-family="'Liberation Sans', Arial, sans-serif">2</text>
<line x1="517.9" y1="307.4" x2="521.9" y2="307.4" stroke="#555" stroke-width="1"/>
<text x="516.4" y="309.8" font-size="7" text-anchor="end" fill="#222" font-weight="bold" font-family="'Liberation Sans', Arial, sans-serif">1</text>
<line x1="517.9" y1="327.6" x2="521.9" y2="327.6" stroke="#555" stroke-width="1"/>
<text x="516.4" y="329.9" font-size="7" text-anchor="end" fill="#222" font-weight="bold" font-family="'Liberation Sans', Arial, sans-serif">0</text>
<line x1="519.4" y1="320.8" x2="521.9" y2="320.8" stroke="#777" stroke-width="0.8"/>
<line x1="519.4" y1="314.1" x2="521.9" y2="314.1" stroke="#777" stroke-width="0.8"/>
<line x1="519.4" y1="307.4" x2="521.9" y2="307.4" stroke="#777" stroke-width="0.8"/>
<line x1="519.4" y1="300.7" x2="521.9" y2="300.7" stroke="#777" stroke-width="0.8"/>
<line x1="519.4" y1="294" x2="521.9" y2="294" stroke="#777" stroke-width="0.8"/>
<line x1="519.4" y1="287.2" x2="521.9" y2="287.2" stroke="#777" stroke-width="0.8"/>
<line x1="519.4" y1="280.5" x2="521.9" y2="280.5" stroke="#777" stroke-width="0.8"/>
<text x="494.9" y="285.8" font-size="6" text-anchor="start" fill="#222" font-weight="bold" font-family="'Liberation Sans', Arial, sans-serif">x10</text>
<text x="506.4" y="282.8" font-size="4.5" text-anchor="start" fill="#222" font-weight="bold" font-family="'Liberation Sans', Arial, sans-serif">4</text>
<text x="487.9" y="299.4" font-size="5.5" text-anchor="middle" fill="#333" font-weight="bold" font-family="'Liberation Sans', Arial, sans-serif" transform="rotate(-90 487.9 299.4)">Intens. [a.u.]</text>
<polyline points="522.4,326.9 522.9,326.2 523.4,326.8 523.9,326.3 524.4,326.8 524.9,326.3 525.4,326.4 525.9,327 526.4,326.1 526.9,326.2 527.4,325.8 527.9,325.1 528.4,325.4 528.9,326.3 529.4,326.2 529.9,326.1 530.4,326.1 530.9,326.8 531.4,327 531.9,326.8 532.4,326.8 532.9,326.3 533.4,326.3 533.9,326.1 534.4,326.2 534.9,326.3 535.4,326.1 535.9,326.3 536.4,326.7 536.9,326.3 537.4,326.2 537.9,326.7 538.4,326.8 538.9,326.9 539.4,327 539.9,326.3 540.4,326.1 540.9,326.2 541.4,326.5 541.9,326.1 542.4,326.6 542.9,326.7 543.4,327 543.9,326.9 544.4,326.4 544.9,326.6 545.4,326.1 545.9,327 546.4,326.2 546.9,326.2 547.4,326.4 547.9,326.4 548.4,326.4 548.9,327 549.4,326.7 549.9,326.1 550.4,326.5 550.9,326.9 551.4,326.6 551.9,327 552.4,326.4 552.9,326.7 553.4,326.1 553.9,326.1 554.4,326.5 554.9,326.9 555.4,326.6 555.9,326.3 556.4,326.9 556.9,326.8 557.4,326.7 557.9,326.2 558.4,326.9 558.9,326.8 559.4,326.2 559.9,326.8 560.4,326.3 560.9,327 561.4,326.6 561.9,326.9 562.4,326.5 562.9,326.9 563.4,326.9 563.9,326.1 564.4,326.3 564.9,326.5 565.4,327 565.9,326.6 566.4,327 566.9,326.2 567.4,325.6 567.9,315.9 568.4,309.9 568.9,320.9 569.4,325.6 569.9,324 570.4,322.4 570.9,321.5 571.4,321.9 571.9,308.2 572.4,288.1 572.9,298.5 573.4,319.8 573.9,326.7 574.4,326.2 574.9,326.9 575.4,325.1 575.9,307.9 576.4,288.3 576.9,307.9 577.4,325.1 577.9,327 578.4,326.6 578.9,327 579.4,326.9 579.9,326.5 580.4,326.5 580.9,326.7 581.4,326.8 581.9,326.6 582.4,326.1 582.9,326.1 583.4,326.9 583.9,326.3 584.4,326.1 584.9,326.2 585.4,326.3 585.9,326.3 586.4,326.7 586.9,326.7 587.4,326.9 587.9,326.6 588.4,326.1 588.9,326.2 589.4,327 589.9,326.8 590.4,327 590.9,326.5 591.4,326.9 591.9,326.8 592.4,326.1 592.9,326.8 593.4,326.7 593.9,326.2 594.4,326.4 594.9,326.9 595.4,326.5 595.9,326.1 596.4,326.5 596.9,326.8 597.4,326.4 597.9,326.2 598.4,327 598.9,327 599.4,326.3 599.9,326.1 600.4,326.3 600.9,326.9 601.4,326.2 601.9,326.5 602.4,326.3 602.9,326.7 603.4,326.8 603.9,326.4 604.4,327 604.9,326.2 605.4,326.8 605.9,326.7 606.4,326.1 606.9,326.2 607.4,326.2 607.9,326.6 608.4,326.6 608.9,326.3 609.4,326.8 609.9,326.7 610.4,326.1 610.9,326.1 611.4,326.1 611.9,326.4 612.4,326.2 612.9,326.2 613.4,326.7 613.9,326.3 614.4,326.8 614.9,326.4 615.4,326.6 615.9,326.9 616.4,326.3 616.9,326.2 617.4,326.9 617.9,326.7 618.4,326.4 618.9,326.8 619.4,326.2 619.9,326.6 620.4,326.3 620.9,326.4 621.4,326.6 621.9,326.7 622.4,326.7 622.9,326.1 623.4,326.3 623.9,326.9 624.4,326.4 624.9,327 625.4,326.6 625.9,326.4 626.4,326.5 626.9,326.8 627.4,326.7 627.9,326.6 628.4,326.8 628.9,326.2 629.4,326.3 629.9,326.5 630.4,327 630.9,326.1 631.4,326.9 631.9,326.7 632.4,326.4 632.9,326.4 633.4,326.8 633.9,326.9 634.4,326.7 634.9,326.1 635.4,327 635.9,326.6 636.4,326.3 636.9,326.6 637.4,326.8 637.9,326.4 638.4,326.5 638.9,326.3 639.4,326 639.9,325.6 640.4,325.8 640.9,326.2 641.4,326.8 641.9,326.7 642.4,326.6 642.9,326.6 643.4,326.4 643.9,326.9 644.4,326.2 644.9,326.1 645.4,327 645.9,326.6 646.4,326.4 646.9,326.6 647.4,326.2 647.9,326.9 648.4,326.4 648.9,326.7 649.4,326.6 649.9,326.5 650.4,326.3 650.9,326.4 651.4,326.7 651.9,326.7 652.4,327 652.9,326.5 653.4,326.8 653.9,326.6 654.4,326.1 654.9,326.7 655.4,327 655.9,326.4 656.4,326.3 656.9,326.2 657.4,326.1 657.9,326.2 658.4,326.9 658.9,327 659.4,326.8 659.9,326.8 660.4,326.2 660.9,326.4 661.4,326.1 661.9,326.2 662.4,326.1 662.9,326.4 663.4,326.6 663.9,326.9 664.4,326.5 664.9,326.4 665.4,326.4 665.9,326.3 666.4,326.8 666.9,326.5 667.4,326.1 667.9,327 668.4,326.6 668.9,326.7 669.4,327 669.9,326.2 670.4,326.6 670.9,326.3 671.4,326.8 671.9,326.6 672.4,326.4 672.9,326.4 673.4,326.9 673.9,326.7 674.4,326.5 674.9,326.1 675.4,327 675.9,326.8 676.4,326.2 676.9,326.5 677.4,326.4 677.9,326.8 678.4,326.7 678.9,326.5 679.4,326.8 679.9,326.2 680.4,326.7 680.9,326.2 681.4,326.9 681.9,326.6 682.4,326.5 682.9,326.3 683.4,326.5 683.9,326.9 684.4,326.9 684.9,326.2 685.4,327 685.9,326.3 686.4,326.7 686.9,326.3 687.4,326.5 687.9,326.8 688.4,326.5 688.9,326.7 689.4,326.8 689.9,326.9 690.4,326.9 690.9,326.6 691.4,326.7 691.9,326.8 692.4,326.6 692.9,326.4 693.4,326.8 693.9,327 694.4,326.8 694.9,327 695.4,326.1 695.9,326.2 696.4,326.9 696.9,326.4 697.4,326.5 697.9,326.3 698.4,326.5 698.9,326.1 699.4,326.3 699.9,325.8 700.4,326 700.9,326.7 701.4,326.2 701.9,326.3 702.4,326.6 702.9,327 703.4,326.8 703.9,326.8 704.4,326.4 704.9,327 705.4,326.4 705.9,326.8 706.4,327 706.9,326.7 707.4,326.8 707.9,326.7 708.4,326.7 708.9,326.8 709.4,326.9 709.9,326.4 710.4,326.1 710.9,326.2 711.4,326.1 711.9,326.1 712.4,326.3 712.9,326.9 713.4,326.8 713.9,326.3 714.4,326.9 714.9,326.4 715.4,326.5 715.9,326.8 716.4,326.8 716.9,326.1 717.4,326.4 717.9,326.2 718.4,326.4 718.9,326.6 719.4,326.6 719.9,326.2 720.4,327 720.9,327 721.4,326.5 721.9,326.5 722.4,326.7 722.9,326.4 723.4,326.6 723.9,326.9 724.4,326.2 724.9,326.9 725.4,326.7 725.9,326.1 726.4,326.6 726.9,326.1 727.4,327 727.9,326.6 728.4,326.2 728.9,326.9 729.4,326.5 729.9,326.3 730.4,326.9 730.9,326.6 731.4,326.8 731.9,326.7 732.4,326.3 732.9,326.3 733.4,326.9 733.9,326.4 734.4,326.4 734.9,326.6 735.4,326.1 735.9,326.3 736.4,326.4 736.9,326.1 737.4,326.8 737.9,326.8 738.4,326.1 738.9,326.3 739.4,326.1 739.9,326.8 740.4,327 740.9,326.2 741.4,326.3 741.9,326.1 742.4,326.1 742.9,326.5 743.4,326.4 743.9,326.9 744.4,326.8 744.9,327 745.4,327 745.9,326.7 746.4,326.1 746.9,326.5 747.4,326.6 747.9,326.9 748.4,326.5 748.9,326.3 749.4,326.1 749.9,327 750.4,326.2 750.9,326.2 751.4,326.8 751.9,326.9 752.4,326.1 752.9,327 753.4,326.7 753.9,326.3 754.4,326.9 754.9,326.2 755.4,326.8 755.9,326.6 756.4,326.3 756.9,326.6 757.4,327 757.9,326.9 758.4,326.9 758.9,326.8 759.4,326.2 759.9,326.2 760.4,326.1 760.9,326.6 761.4,326.7 761.9,326.4 762.4,326.2 762.9,326.8 763.4,326.9 763.9,326.7 764.4,327 764.9,326.9 765.4,326.7 765.9,326.6 766.4,326.3 766.9,326.2 767.4,326.1 767.9,326.2 768.4,326.9 768.9,326.6 769.4,326.9 769.9,326.8 770.4,326.4 770.9,326.2 771.4,326.8 771.9,326.2 772.4,327 772.9,326.1 773.4,326.3 773.9,326.2 774.4,326.3 774.9,326.2 775.4,326.8 775.9,326.1 776.4,326.2 776.9,326.5 777.4,326.1 777.9,326.8 778.4,326.3 778.9,327 779.4,326.3 779.9,326.9 780.4,326.4 780.9,326.6 781.4,326.1 781.9,326.7 782.4,326.9 782.9,326.7 783.4,326.3 783.9,327 784.4,326.1 784.9,326.4 785.4,326.6 785.9,326.5 786.4,326.6 786.9,326.2 787.4,326.3 787.9,326.1 788.4,326.2 788.9,326.5 789.4,326.6 789.9,326.2 790.4,326.3 790.9,326.6 791.4,327 791.9,327 792.4,327 792.9,326.7 793.4,326.3 793.9,326.1 794.4,326.4 794.9,326.2 795.4,326.7 795.9,326.7 796.4,326.2 796.9,326.5 797.4,327 797.9,326.4 798.4,326.1 798.9,326.5 799.4,326.4 799.9,326.4 800.4,326.8 800.9,326.3 801.4,326.1 801.9,326.7 802.4,326.3 802.9,326.6 803.4,326.7 803.9,327 804.4,326.5 804.9,326.6 805.4,326.4 805.9,326.3 806.4,326.4 806.9,326.5 807.4,326.3 807.9,326.7 808.4,326.3 808.9,326.5 809.4,326.7 809.9,326.6 810.4,326.1 810.9,326.4 811.4,327 811.9,326.6 812.4,326.8 812.9,326.7 813.4,326.4 813.9,326.2 814.4,326.2 814.9,326.7 815.4,326.1 815.9,326.9 816.4,326.8 816.9,327 817.4,326.1 817.9,326.7 818.4,326.6 818.9,326.8 819.4,326.9 819.9,326.4 820.4,326.6 820.9,327 821.4,326.5 821.9,327 822.4,326.8 822.9,326.3 823.4,326.2 823.9,327 824.4,326.6 824.9,326.2 825.4,326.5 825.9,326.2 826.4,326.7 826.9,326.5 827.4,326.6 827.9,326.2 828.4,326.8 828.9,326.8 829.4,327 829.9,326.4 830.4,326.3 830.9,326.5 831.4,326.4 831.9,326.3 832.4,326.8 832.9,326.4 833.4,327 833.9,326.9 834.4,327 834.9,326.3 835.4,326.3 835.9,326.6 836.4,326.9 836.9,326.7 837.4,327 837.9,326.3 838.4,326.8 838.9,326.2 839.4,326.5 839.9,326.4 840.4,326.4 840.9,326.3 841.4,326.5 841.9,326.1 842.4,327 842.9,327 843.4,326.8 843.9,326.8 844.4,326.4 844.9,326.9 845.4,326.4 845.9,326.2 846.4,326.6 846.9,326.9 847.4,326.5 847.9,327 848.4,327 848.9,326.2 849.4,326.5 849.9,326.7 850.4,327 850.9,326.8 851.4,326.8 851.9,326.6 852.4,326.4 852.9,326.9 853.4,326.4 853.9,326.7 854.4,326.7 854.9,326.5 855.4,326.3 855.9,326.7 856.4,327 856.9,326.2 857.4,326.1 857.9,326.3 858.4,327 858.9,326.6 859.4,326.1 859.9,326.2 860.4,327 860.9,327 861.4,326.4 861.9,326.9 862.4,326.9 862.9,326.6 863.4,326.6 863.9,326.1 864.4,326.4 864.9,326.4 865.4,326.8 865.9,326.3 866.4,327 866.9,326.6 867.4,326.9 867.9,326.6 868.4,326.6 868.9,326.6 869.4,326.8 869.9,326.5 870.4,326.4 870.9,326.3 871.4,326.5 871.9,326.9 872.4,327 872.9,326.3 873.4,326.8 873.9,326.7 874.4,326.2 874.9,326.4 875.4,326.8 875.9,326.1 876.4,327 876.9,326.1 877.4,326.6 877.9,326.1 878.4,327 878.9,326.2 879.4,326.1 879.9,326.6 880.4,326.2 880.9,326.1 881.4,326.6 881.9,326.5 882.4,326.5 882.9,326.4 883.4,326.3 883.9,326.4 884.4,326.6 884.9,326.4 885.4,326.1 885.9,326.2 886.4,327 886.9,326.3 887.4,326.7 887.9,326.9 888.4,326.3 888.9,326.7 889.4,326.3 889.9,326.4 890.4,326.7 890.9,326.5 891.4,326.8 891.9,326.5 892.4,326.6 892.9,326.7 893.4,326.1 893.9,326.4 894.4,326.8 894.9,327 895.4,326.8 895.9,326.1 896.4,326.7 896.9,326.7 897.4,326.5 897.9,326.9 898.4,326.4 898.9,327 899.4,326.6 899.9,326.6 900.4,326.7 900.9,326.8 901.4,327 901.9,326.6 902.4,326.7 902.9,326.6 903.4,326.8 903.9,326.3 904.4,326.3 904.9,326.8 905.4,326.5 905.9,326.3 906.4,326.3 906.9,326.7 907.4,326.5 907.9,327" fill="none" stroke="#d4a030" stroke-width="1.3"/>
<text x="572.5" y="290.2" font-size="7.5" text-anchor="middle" fill="#333" font-weight="bold" font-family="'Liberation Sans', Arial, sans-serif" textLength="42" lengthAdjust="spacingAndGlyphs">3583.821</text>
<line x1="551.5" y1="291.8" x2="593.5" y2="291.8" stroke="#666" stroke-width="1"/>
<rect x="521.9" y="331.3" width="386.9" height="48.3" fill="#ffffff" stroke="#9a9a9a" stroke-width="1.2"/>
<line x1="521.9" y1="379.6" x2="908.8" y2="379.6" stroke="#8a8a8a" stroke-width="1.8"/>
<line x1="521.9" y1="331.3" x2="521.9" y2="379.6" stroke="#777" stroke-width="1.2"/>
<line x1="517.9" y1="339.3" x2="521.9" y2="339.3" stroke="#555" stroke-width="1"/>
<text x="516.4" y="341.7" font-size="7" text-anchor="end" fill="#222" font-weight="bold" font-family="'Liberation Sans', Arial, sans-serif">1.5</text>
<line x1="517.9" y1="352.8" x2="521.9" y2="352.8" stroke="#555" stroke-width="1"/>
<text x="516.4" y="355.2" font-size="7" text-anchor="end" fill="#222" font-weight="bold" font-family="'Liberation Sans', Arial, sans-serif">1.0</text>
<line x1="517.9" y1="366.2" x2="521.9" y2="366.2" stroke="#555" stroke-width="1"/>
<text x="516.4" y="368.6" font-size="7" text-anchor="end" fill="#222" font-weight="bold" font-family="'Liberation Sans', Arial, sans-serif">0.5</text>
<line x1="517.9" y1="379.6" x2="521.9" y2="379.6" stroke="#555" stroke-width="1"/>
<text x="516.4" y="382" font-size="7" text-anchor="end" fill="#222" font-weight="bold" font-family="'Liberation Sans', Arial, sans-serif">0.0</text>
<line x1="519.4" y1="375.1" x2="521.9" y2="375.1" stroke="#777" stroke-width="0.8"/>
<line x1="519.4" y1="370.7" x2="521.9" y2="370.7" stroke="#777" stroke-width="0.8"/>
<line x1="519.4" y1="366.2" x2="521.9" y2="366.2" stroke="#777" stroke-width="0.8"/>
<line x1="519.4" y1="361.7" x2="521.9" y2="361.7" stroke="#777" stroke-width="0.8"/>
<line x1="519.4" y1="357.2" x2="521.9" y2="357.2" stroke="#777" stroke-width="0.8"/>
<line x1="519.4" y1="352.8" x2="521.9" y2="352.8" stroke="#777" stroke-width="0.8"/>
<line x1="519.4" y1="348.3" x2="521.9" y2="348.3" stroke="#777" stroke-width="0.8"/>
<line x1="519.4" y1="343.8" x2="521.9" y2="343.8" stroke="#777" stroke-width="0.8"/>
<line x1="519.4" y1="339.3" x2="521.9" y2="339.3" stroke="#777" stroke-width="0.8"/>
<line x1="519.4" y1="334.8" x2="521.9" y2="334.8" stroke="#777" stroke-width="0.8"/>
<text x="494.9" y="337.8" font-size="6" text-anchor="start" fill="#222" font-weight="bold" font-family="'Liberation Sans', Arial, sans-serif">x10</text>
<text x="506.4" y="334.8" font-size="4.5" text-anchor="start" fill="#222" font-weight="bold" font-family="'Liberation Sans', Arial, sans-serif">4</text>
<text x="487.9" y="351.5" font-size="5.5" text-anchor="middle" fill="#333" font-weight="bold" font-family="'Liberation Sans', Arial, sans-serif" transform="rotate(-90 487.9 351.5)">Intens. [a.u.]</text>
<polyline points="522.4,378.4 522.9,378.6 523.4,378.7 523.9,378.7 524.4,378.9 524.9,378.9 525.4,378.6 525.9,378.4 526.4,378.3 526.9,378.7 527.4,377.9 527.9,377.1 528.4,377.5 528.9,378.3 529.4,378.3 529.9,379 530.4,378.5 530.9,378.4 531.4,378.3 531.9,378.4 532.4,379.1 532.9,378.5 533.4,379 533.9,378.2 534.4,378.3 534.9,378.7 535.4,378.2 535.9,379 536.4,378.6 536.9,379 537.4,378.4 537.9,378.3 538.4,378.6 538.9,378.4 539.4,379.1 539.9,378.9 540.4,379 540.9,378.7 541.4,378.5 541.9,378.2 542.4,378.8 542.9,378.6 543.4,378.4 543.9,378.9 544.4,378.6 544.9,378.8 545.4,378.7 545.9,378.5 546.4,378.7 546.9,378.5 547.4,378.6 547.9,378.3 548.4,378.5 548.9,378.5 549.4,378.7 549.9,378.5 550.4,378.4 550.9,379 551.4,379.1 551.9,379.1 552.4,378.6 552.9,378.8 553.4,379.1 553.9,378.2 554.4,379 554.9,378.5 555.4,378.2 555.9,378.8 556.4,378.5 556.9,378.9 557.4,378.4 557.9,378.5 558.4,378.6 558.9,378.6 559.4,378.9 559.9,378.2 560.4,378.7 560.9,378.6 561.4,378.4 561.9,378.4 562.4,378.8 562.9,378.4 563.4,378.7 563.9,379.1 564.4,378.2 564.9,378.5 565.4,378.6 565.9,378.2 566.4,378.6 566.9,379 567.4,378.1 567.9,370.1 568.4,365.2 568.9,374.2 569.4,378.3 569.9,377.3 570.4,376.2 570.9,375.6 571.4,375.9 571.9,359 572.4,337.5 572.9,348.6 573.4,371.4 573.9,378.8 574.4,378.2 574.9,378.9 575.4,378.6 575.9,371.6 576.4,363.5 576.9,371.6 577.4,378.6 577.9,378.7 578.4,378.8 578.9,379 579.4,378.2 579.9,378.4 580.4,379 580.9,378.8 581.4,378.1 581.9,378.9 582.4,378.3 582.9,378.5 583.4,378.4 583.9,378.7 584.4,378.1 584.9,378.6 585.4,378.4 585.9,378.2 586.4,378.2 586.9,378.6 587.4,378.6 587.9,378.2 588.4,378.3 588.9,379 589.4,378.9 589.9,378.7 590.4,378.4 590.9,378.9 591.4,378.8 591.9,378.6 592.4,378.8 592.9,378.8 593.4,378.3 593.9,378.6 594.4,378.7 594.9,378.3 595.4,379 595.9,378.5 596.4,378.8 596.9,378.2 597.4,378.1 597.9,378.5 598.4,378.9 598.9,378.8 599.4,378.5 599.9,378.1 600.4,378.3 600.9,378.3 601.4,378.3 601.9,378.2 602.4,378.9 602.9,378.8 603.4,378.8 603.9,378.8 604.4,378.4 604.9,378.8 605.4,378.5 605.9,378.6 606.4,378.3 606.9,379 607.4,378.5 607.9,378.7 608.4,378.3 608.9,378.5 609.4,378.6 609.9,378.1 610.4,378.4 610.9,378.7 611.4,378.6 611.9,378.2 612.4,378.6 612.9,379 613.4,378.3 613.9,378.9 614.4,378.4 614.9,378.4 615.4,378.3 615.9,378.3 616.4,378.9 616.9,378.6 617.4,378.9 617.9,378.3 618.4,378.2 618.9,378.9 619.4,378.9 619.9,378.1 620.4,379 620.9,378.9 621.4,378.2 621.9,378.9 622.4,378.5 622.9,379.1 623.4,378.5 623.9,378.7 624.4,378.6 624.9,378.7 625.4,379 625.9,378.5 626.4,378.2 626.9,378.3 627.4,379.1 627.9,378.8 628.4,378.9 628.9,378.7 629.4,378.2 629.9,378.9 630.4,378.6 630.9,378.3 631.4,379 631.9,379 632.4,378.6 632.9,378.9 633.4,378.5 633.9,378.6 634.4,378.9 634.9,378.2 635.4,379.1 635.9,378.6 636.4,379.1 636.9,378.2 637.4,379.1 637.9,378.9 638.4,378.9 638.9,378.8 639.4,378.1 639.9,377.6 640.4,377.8 640.9,378.5 641.4,378.3 641.9,378.8 642.4,379.1 642.9,378.7 643.4,378.9 643.9,379.1 644.4,379 644.9,378.3 645.4,378.9 645.9,378.1 646.4,378.4 646.9,378.1 647.4,378.7 647.9,378.7 648.4,379.1 648.9,378.9 649.4,378.8 649.9,378.1 650.4,378.7 650.9,379 651.4,378.6 651.9,378.9 652.4,378.8 652.9,378.9 653.4,378.7 653.9,379 654.4,378.2 654.9,378.3 655.4,378.9 655.9,378.4 656.4,378.9 656.9,378.8 657.4,379 657.9,378.7 658.4,378.5 658.9,378.5 659.4,378.9 659.9,379 660.4,378.7 660.9,378.4 661.4,378.2 661.9,378.3 662.4,378.5 662.9,378.7 663.4,378.4 663.9,378.7 664.4,378.6 664.9,378.6 665.4,378.5 665.9,378.5 666.4,379.1 666.9,378.8 667.4,378.1 667.9,378.5 668.4,379.1 668.9,379 669.4,379.1 669.9,379.1 670.4,378.2 670.9,378.4 671.4,378.7 671.9,379.1 672.4,379 672.9,378.4 673.4,378.2 673.9,378.2 674.4,378.1 674.9,378.5 675.4,378.7 675.9,378.6 676.4,378.3 676.9,378.7 677.4,379 677.9,378.5 678.4,378.3 678.9,378.1 679.4,378.8 679.9,378.5 680.4,378.3 680.9,378.3 681.4,379.1 681.9,378.8 682.4,379.1 682.9,378.8 683.4,378.4 683.9,378.7 684.4,379.1 684.9,378.2 685.4,379.1 685.9,378.9 686.4,378.6 686.9,378.8 687.4,378.7 687.9,378.5 688.4,378.9 688.9,379 689.4,378.2 689.9,378.4 690.4,379 690.9,378.6 691.4,378.5 691.9,379 692.4,378.7 692.9,378.2 693.4,378.9 693.9,378.6 694.4,379 694.9,378.8 695.4,378.4 695.9,378.3 696.4,378.4 696.9,378.5 697.4,378.2 697.9,378.8 698.4,378.3 698.9,378.9 699.4,378.2 699.9,377.8 700.4,378.1 700.9,378.5 701.4,378.9 701.9,378.4 702.4,378.6 702.9,378.6 703.4,378.8 703.9,378.7 704.4,379 704.9,378.9 705.4,379.1 705.9,379.1 706.4,378.7 706.9,379 707.4,379.1 707.9,378.2 708.4,379 708.9,378.3 709.4,378.9 709.9,378.6 710.4,378.5 710.9,378.8 711.4,378.4 711.9,378.1 712.4,378.3 712.9,378.8 713.4,378.4 713.9,378.4 714.4,379 714.9,379.1 715.4,378.1 715.9,378.7 716.4,379.1 716.9,378.2 717.4,379 717.9,379 718.4,379.1 718.9,378.9 719.4,378.2 719.9,378.8 720.4,378.4 720.9,379.1 721.4,378.4 721.9,378.1 722.4,378.4 722.9,379.1 723.4,378.8 723.9,378.9 724.4,378.4 724.9,378.8 725.4,378.1 725.9,378.2 726.4,378.3 726.9,378.3 727.4,378.5 727.9,378.9 728.4,378.8 728.9,378.9 729.4,378.8 729.9,378.7 730.4,379.1 730.9,379 731.4,378.7 731.9,378.9 732.4,378.8 732.9,379 733.4,378.2 733.9,378.9 734.4,378.2 734.9,378.2 735.4,378.6 735.9,379 736.4,378.7 736.9,378.8 737.4,379 737.9,378.6 738.4,379.1 738.9,378.5 739.4,378.5 739.9,378.4 740.4,379 740.9,378.7 741.4,378.3 741.9,378.1 742.4,378.2 742.9,378.1 743.4,378.3 743.9,378.6 744.4,379.1 744.9,378.4 745.4,378.8 745.9,378.4 746.4,379 746.9,378.5 747.4,378.4 747.9,378.4 748.4,378.4 748.9,378.6 749.4,378.1 749.9,378.2 750.4,378.3 750.9,378.9 751.4,379 751.9,378.6 752.4,378.9 752.9,378.8 753.4,379 753.9,378.9 754.4,378.2 754.9,378.4 755.4,378.4 755.9,379 756.4,378.4 756.9,378.8 757.4,378.8 757.9,378.7 758.4,378.4 758.9,378.6 759.4,378.1 759.9,378.2 760.4,378.5 760.9,378.8 761.4,379 761.9,378.4 762.4,378.2 762.9,379.1 763.4,378.8 763.9,379 764.4,378.7 764.9,379 765.4,378.6 765.9,378.9 766.4,378.4 766.9,378.2 767.4,378.5 767.9,379.1 768.4,378.6 768.9,378.4 769.4,378.6 769.9,378.2 770.4,378.4 770.9,378.9 771.4,378.6 771.9,378.8 772.4,378.9 772.9,378.9 773.4,378.3 773.9,378.2 774.4,378.8 774.9,378.9 775.4,378.7 775.9,379 776.4,378.8 776.9,378.9 777.4,378.4 777.9,378.4 778.4,378.8 778.9,379 779.4,378.9 779.9,378.7 780.4,379.1 780.9,378.3 781.4,378.6 781.9,378.3 782.4,378.6 782.9,378.7 783.4,378.6 783.9,378.4 784.4,378.6 784.9,379.1 785.4,378.9 785.9,378.4 786.4,378.2 786.9,378.1 787.4,378.3 787.9,378.1 788.4,378.2 788.9,378.3 789.4,378.5 789.9,378.9 790.4,378.3 790.9,378.3 791.4,378.8 791.9,378.8 792.4,378.3 792.9,378.8 793.4,378.5 793.9,378.6 794.4,379 794.9,378.9 795.4,379 795.9,378.5 796.4,378.2 796.9,378.6 797.4,378.9 797.9,378.5 798.4,378.3 798.9,378.2 799.4,378.9 799.9,378.2 800.4,378.2 800.9,378.3 801.4,378.6 801.9,378.9 802.4,379 802.9,378.5 803.4,378.7 803.9,378.2 804.4,378.5 804.9,378.6 805.4,379 805.9,378.9 806.4,378.8 806.9,379 807.4,378.4 807.9,378.8 808.4,378.6 808.9,378.2 809.4,379.1 809.9,378.6 810.4,379.1 810.9,378.9 811.4,378.5 811.9,378.2 812.4,378.3 812.9,378.6 813.4,378.2 813.9,379.1 814.4,378.4 814.9,378.6 815.4,378.3 815.9,379 816.4,378.3 816.9,378.4 817.4,378.5 817.9,378.5 818.4,378.5 818.9,378.5 819.4,378.8 819.9,378.6 820.4,378.6 820.9,378.2 821.4,378.8 821.9,378.4 822.4,378.4 822.9,378.9 823.4,378.5 823.9,379 824.4,378.2 824.9,378.7 825.4,379 825.9,378.9 826.4,379.1 826.9,378.4 827.4,379.1 827.9,379 828.4,378.8 828.9,378.9 829.4,378.3 829.9,378.9 830.4,378.7 830.9,378.4 831.4,378.5 831.9,378.4 832.4,378.2 832.9,379.1 833.4,379 833.9,378.3 834.4,378.3 834.9,378.7 835.4,378.3 835.9,378.2 836.4,379 836.9,378.6 837.4,378.4 837.9,379 838.4,378.3 838.9,378.4 839.4,378.1 839.9,378.4 840.4,378.4 840.9,378.4 841.4,378.7 841.9,379.1 842.4,378.3 842.9,378.4 843.4,379 843.9,378.2 844.4,378.6 844.9,378.8 845.4,378.6 845.9,378.9 846.4,378.8 846.9,379 847.4,378.2 847.9,378.7 848.4,378.2 848.9,378.4 849.4,378.3 849.9,378.4 850.4,378.7 850.9,378.4 851.4,378.6 851.9,378.9 852.4,379 852.9,379.1 853.4,378.4 853.9,378.8 854.4,378.7 854.9,378.9 855.4,379.1 855.9,378.6 856.4,378.7 856.9,378.9 857.4,378.9 857.9,378.9 858.4,378.7 858.9,378.4 859.4,378.9 859.9,378.7 860.4,378.2 860.9,378.3 861.4,378.9 861.9,378.4 862.4,378.5 862.9,378.6 863.4,378.5 863.9,378.8 864.4,378.8 864.9,378.9 865.4,379 865.9,378.7 866.4,379.1 866.9,378.7 867.4,378.6 867.9,378.2 868.4,378.6 868.9,378.8 869.4,378.8 869.9,378.9 870.4,378.4 870.9,378.6 871.4,378.6 871.9,378.7 872.4,378.5 872.9,378.4 873.4,378.7 873.9,379.1 874.4,378.3 874.9,379 875.4,378.8 875.9,378.8 876.4,378.3 876.9,378.8 877.4,378.5 877.9,378.7 878.4,378.7 878.9,379 879.4,378.6 879.9,379 880.4,378.7 880.9,378.6 881.4,378.4 881.9,379.1 882.4,378.7 882.9,378.3 883.4,378.9 883.9,378.3 884.4,378.3 884.9,378.7 885.4,378.3 885.9,379 886.4,378.9 886.9,378.3 887.4,378.5 887.9,378.5 888.4,378.4 888.9,378.9 889.4,378.3 889.9,378.4 890.4,379 890.9,378.7 891.4,378.4 891.9,378.5 892.4,378.8 892.9,378.3 893.4,378.4 893.9,378.3 894.4,379 894.9,379 895.4,378.7 895.9,378.2 896.4,378.9 896.9,378.9 897.4,378.7 897.9,378.9 898.4,378.6 898.9,378.3 899.4,378.1 899.9,379.1 900.4,378.1 900.9,378.1 901.4,378.8 901.9,378.4 902.4,379 902.9,379 903.4,379.1 903.9,378.3 904.4,378.4 904.9,378.7 905.4,379 905.9,378.9 906.4,378.4 906.9,378.7 907.4,378.5 907.9,379" fill="none" stroke="#1a4a4a" stroke-width="1.3"/>
<text x="572.5" y="342.3" font-size="7.5" text-anchor="middle" fill="#333" font-weight="bold" font-family="'Liberation Sans', Arial, sans-serif" textLength="42" lengthAdjust="spacingAndGlyphs">3600.082</text>
<line x1="551.5" y1="343.8" x2="593.5" y2="343.8" stroke="#666" stroke-width="1"/>
<rect x="519.4" y="384.1" width="389.4" height="52.7" fill="#ffffff" stroke="#9a9a9a" stroke-width="1.2"/>
<line x1="519.4" y1="436.8" x2="908.8" y2="436.8" stroke="#8a8a8a" stroke-width="1.8"/>
<line x1="519.4" y1="384.1" x2="519.4" y2="436.8" stroke="#777" stroke-width="1.2"/>
<line x1="515.4" y1="396.6" x2="519.4" y2="396.6" stroke="#555" stroke-width="1"/>
<text x="513.9" y="399" font-size="7" text-anchor="end" fill="#222" font-weight="bold" font-family="'Liberation Sans', Arial, sans-serif">2</text>
<line x1="515.4" y1="415.4" x2="519.4" y2="415.4" stroke="#555" stroke-width="1"/>
<text x="513.9" y="417.8" font-size="7" text-anchor="end" fill="#222" font-weight="bold" font-family="'Liberation Sans', Arial, sans-serif">1</text>
<line x1="515.4" y1="434.3" x2="519.4" y2="434.3" stroke="#555" stroke-width="1"/>
<text x="513.9" y="436.7" font-size="7" text-anchor="end" fill="#222" font-weight="bold" font-family="'Liberation Sans', Arial, sans-serif">0</text>
<line x1="516.9" y1="428" x2="519.4" y2="428" stroke="#777" stroke-width="0.8"/>
<line x1="516.9" y1="421.7" x2="519.4" y2="421.7" stroke="#777" stroke-width="0.8"/>
<line x1="516.9" y1="415.4" x2="519.4" y2="415.4" stroke="#777" stroke-width="0.8"/>
<line x1="516.9" y1="409.2" x2="519.4" y2="409.2" stroke="#777" stroke-width="0.8"/>
<line x1="516.9" y1="402.9" x2="519.4" y2="402.9" stroke="#777" stroke-width="0.8"/>
<line x1="516.9" y1="396.6" x2="519.4" y2="396.6" stroke="#777" stroke-width="0.8"/>
<line x1="516.9" y1="390.3" x2="519.4" y2="390.3" stroke="#777" stroke-width="0.8"/>
<text x="492.4" y="390.6" font-size="6" text-anchor="start" fill="#222" font-weight="bold" font-family="'Liberation Sans', Arial, sans-serif">x10</text>
<text x="503.9" y="387.6" font-size="4.5" text-anchor="start" fill="#222" font-weight="bold" font-family="'Liberation Sans', Arial, sans-serif">4</text>
<text x="489.4" y="406.5" font-size="5.5" text-anchor="middle" fill="#333" font-weight="bold" font-family="'Liberation Sans', Arial, sans-serif" transform="rotate(-90 489.4 406.5)">Intens. [a.u.]</text>
<polyline points="519.9,430.9 520.4,430.3 520.9,429 521.4,430.9 521.9,431.8 522.4,431.4 522.9,429.1 523.4,429.9 523.9,422.6 524.4,426.6 524.9,430 525.4,429.1 525.9,432.3 526.4,429.6 526.9,429.2 527.4,428.9 527.9,432.2 528.4,432 528.9,429.1 529.4,430.3 529.9,423.6 530.4,427.2 530.9,431.5 531.4,431.4 531.9,431.2 532.4,431.9 532.9,429.5 533.4,430.1 533.9,432.3 534.4,432.1 534.9,432.7 535.4,431 535.9,430.1 536.4,430.9 536.9,432 537.4,430.4 537.9,429.9 538.4,432.7 538.9,432.2 539.4,431.3 539.9,431.2 540.4,430.7 540.9,430.4 541.4,431.3 541.9,430.4 542.4,430.8 542.9,432.6 543.4,432.2 543.9,431.7 544.4,431 544.9,431.9 545.4,429.2 545.9,432.1 546.4,432.7 546.9,429.4 547.4,430.6 547.9,424.6 548.4,427.9 548.9,431.1 549.4,430.7 549.9,430.2 550.4,431.8 550.9,432.8 551.4,430.6 551.9,430.8 552.4,431.7 552.9,432.5 553.4,431.5 553.9,432.5 554.4,432.2 554.9,431.4 555.4,430 555.9,430.9 556.4,431.6 556.9,430.2 557.4,429.9 557.9,424.6 558.4,427.9 558.9,432.3 559.4,429.3 559.9,429.3 560.4,432.1 560.9,431.4 561.4,429.8 561.9,431.5 562.4,432.3 562.9,429.7 563.4,429.4 563.9,432.7 564.4,429.2 564.9,431.6 565.4,431.7 565.9,432.7 566.4,432.7 566.9,429.4 567.4,432.2 567.9,431.8 568.4,431.3 568.9,430 569.4,430.4 569.9,431.5 570.4,432.5 570.9,429.3 571.4,429.4 571.9,432.3 572.4,431.3 572.9,432.6 573.4,430.5 573.9,430 574.4,432.5 574.9,429.4 575.4,429.6 575.9,431.6 576.4,432.4 576.9,432.7 577.4,431.5 577.9,429.8 578.4,431.5 578.9,432.4 579.4,429.7 579.9,429.8 580.4,431.8 580.9,431.1 581.4,430.6 581.9,432.6 582.4,430.3 582.9,429.1 583.4,430.1 583.9,430 584.4,432.7 584.9,429.9 585.4,429.6 585.9,429.3 586.4,431 586.9,429 587.4,431.5 587.9,429.3 588.4,432 588.9,430.3 589.4,432.4 589.9,431.9 590.4,429.6 590.9,429.4 591.4,432.5 591.9,430.4 592.4,432.6 592.9,429.3 593.4,429.1 593.9,431.2 594.4,431.5 594.9,431 595.4,429.4 595.9,431.6 596.4,431.4 596.9,429.6 597.4,428.9 597.9,430.4 598.4,430.7 598.9,430.4 599.4,430.9 599.9,428.4 600.4,429.6 600.9,432.3 601.4,432.2 601.9,433.3 602.4,433.1 602.9,432.9 603.4,433.2 603.9,432.8 604.4,433.2 604.9,432.3 605.4,433.1 605.9,432.6 606.4,432.6 606.9,432.5 607.4,433 607.9,433 608.4,433.1 608.9,432.7 609.4,433.2 609.9,432.6 610.4,432.9 610.9,432.4 611.4,431.5 611.9,429.4 612.4,430.4 612.9,432.4 613.4,432.8 613.9,432.5 614.4,433.2 614.9,432.2 615.4,432.6 615.9,433.3 616.4,432.8 616.9,433 617.4,432.2 617.9,432.8 618.4,432.5 618.9,433 619.4,433 619.9,432.9 620.4,432.2 620.9,432.7 621.4,432.7 621.9,432.5 622.4,432.7 622.9,432.5 623.4,432.6 623.9,432.3 624.4,432.8 624.9,433 625.4,432.9 625.9,432.9 626.4,432.9 626.9,432.7 627.4,432.9 627.9,432.4 628.4,432.8 628.9,433 629.4,432.5 629.9,432.5 630.4,433.1 630.9,432.3 631.4,432.5 631.9,433.2 632.4,433.2 632.9,433.1 633.4,432.1 633.9,433.1 634.4,433.2 634.9,433.1 635.4,431.5 635.9,430.3 636.4,430.9 636.9,432.5 637.4,433.3 637.9,432.8 638.4,432.3 638.9,433.3 639.4,432.9 639.9,432.5 640.4,432.6 640.9,432.5 641.4,432.4 641.9,432.1 642.4,433.1 642.9,432.3 643.4,432.2 643.9,433 644.4,432.2 644.9,432.8 645.4,430.9 645.9,428.4 646.4,429.6 646.9,432.6 647.4,433.3 647.9,432.3 648.4,433.2 648.9,433 649.4,432.8 649.9,432.3 650.4,432.4 650.9,432.2 651.4,432.5 651.9,432.9 652.4,421.4 652.9,400.3 653.4,411.9 653.9,430.6 654.4,433.1 654.9,432.8 655.4,433.1 655.9,432.9 656.4,432.1 656.9,432.1 657.4,432.4 657.9,433.1 658.4,432.5 658.9,432.9 659.4,433.2 659.9,433 660.4,432.2 660.9,433.1 661.4,433.3 661.9,432.2 662.4,432.5 662.9,432.5 663.4,432.6 663.9,433 664.4,432.7 664.9,432.5 665.4,432.8 665.9,432.9 666.4,433 666.9,433 667.4,432.5 667.9,432.3 668.4,432.2 668.9,432.9 669.4,433.1 669.9,432.4 670.4,425.7 670.9,424.5 671.4,431.5 671.9,432.2 672.4,432.3 672.9,432.8 673.4,432.2 673.9,432.5 674.4,432.6 674.9,433.1 675.4,432.2 675.9,432.7 676.4,427.2 676.9,423.6 677.4,430.3 677.9,432.3 678.4,432.1 678.9,432.3 679.4,432.1 679.9,432.8 680.4,432.3 680.9,432.6 681.4,433.2 681.9,432.1 682.4,432.7 682.9,432.6 683.4,432.8 683.9,432.7 684.4,432.7 684.9,432.4 685.4,433.1 685.9,433 686.4,433.3 686.9,433.1 687.4,432.6 687.9,433.3 688.4,432.7 688.9,432.9 689.4,430.9 689.9,428.4 690.4,429.6 690.9,432.6 691.4,432.8 691.9,432.9 692.4,432.7 692.9,433.2 693.4,433 693.9,432.4 694.4,432.5 694.9,432.9 695.4,432.4 695.9,432.9 696.4,432.9 696.9,432.3 697.4,432.7 697.9,432.8 698.4,432.7 698.9,432.8 699.4,432.7 699.9,432.3 700.4,432.5 700.9,432.8 701.4,430.8 701.9,429.3 702.4,430 702.9,432.1 703.4,432.2 703.9,432.2 704.4,432.7 704.9,432.5 705.4,432.3 705.9,432.6 706.4,432.7 706.9,432.9 707.4,433 707.9,433 708.4,433 708.9,432.5 709.4,432.7 709.9,432.4 710.4,432.9 710.9,433.3 711.4,433.2 711.9,432.2 712.4,433 712.9,432.9 713.4,432.3 713.9,433.2 714.4,432.4 714.9,432.3 715.4,432.2 715.9,433.3 716.4,432.3 716.9,432.7 717.4,432.3 717.9,432.4 718.4,432.6 718.9,433.1 719.4,432.4 719.9,432.8 720.4,432.2 720.9,433.3 721.4,432.4 721.9,432.1 722.4,433 722.9,432.4 723.4,432.7 723.9,432.4 724.4,432.7 724.9,432.9 725.4,432.3 725.9,432.3 726.4,432.8 726.9,432.4 727.4,433.2 727.9,432.3 728.4,432.6 728.9,432.8 729.4,432.8 729.9,432.3 730.4,432.3 730.9,432.4 731.4,432.4 731.9,432.2 732.4,432.4 732.9,432.8 733.4,432.5 733.9,432.6 734.4,433.1 734.9,432.8 735.4,432.9 735.9,433.3 736.4,432.3 736.9,432.6 737.4,432.7 737.9,432.1 738.4,432.2 738.9,431.6 739.4,430.1 739.9,428.4 740.4,427 740.9,426.3 741.4,426.6 741.9,427.8 742.4,429.4 742.9,431.1 743.4,432.4 743.9,432.8 744.4,432.8 744.9,433.2 745.4,432.2 745.9,432.2 746.4,432.9 746.9,432.5 747.4,432.3 747.9,432.8 748.4,432.6 748.9,432.9 749.4,433 749.9,432.5 750.4,432.3 750.9,432.9 751.4,433.1 751.9,433.3 752.4,432.6 752.9,432.3 753.4,432.9 753.9,432.2 754.4,432.2 754.9,432.3 755.4,432.8 755.9,433 756.4,432.4 756.9,432.4 757.4,432.3 757.9,432.4 758.4,432.2 758.9,432.5 759.4,432.5 759.9,432.4 760.4,432.1 760.9,431.4 761.4,430 761.9,429.3 762.4,429.6 762.9,430.8 763.4,432.2 763.9,432.4 764.4,432.5 764.9,432.1 765.4,432.9 765.9,432.1 766.4,433 766.9,432.4 767.4,432.9 767.9,432.3 768.4,432.2 768.9,432.8 769.4,432.4 769.9,432.5 770.4,433.1 770.9,432.7 771.4,433.3 771.9,432.9 772.4,432.3 772.9,432.7 773.4,432.5 773.9,433.2 774.4,433.2 774.9,432.8 775.4,433.3 775.9,432.7 776.4,432.6 776.9,433.1 777.4,432.2 777.9,432.9 778.4,432.6 778.9,432.7 779.4,432.5 779.9,433.1 780.4,432.3 780.9,432.1 781.4,433.2 781.9,433 782.4,433.1 782.9,433.2 783.4,432.7 783.9,432.1 784.4,431.6 784.9,431.3 785.4,431.4 785.9,431.8 786.4,432.5 786.9,433.1 787.4,433.1 787.9,432.1 788.4,433.1 788.9,432.8 789.4,432.8 789.9,432.4 790.4,433 790.9,432.2 791.4,432.4 791.9,433.3 792.4,432.9 792.9,432.8 793.4,432.4 793.9,432.5 794.4,432.1 794.9,432.8 795.4,433 795.9,432.8 796.4,432.6 796.9,433.2 797.4,433.1 797.9,432.6 798.4,432.1 798.9,432.5 799.4,432.6 799.9,432.6 800.4,432.7 800.9,433.2 801.4,433 801.9,432.3 802.4,432.6 802.9,433 803.4,432.9 803.9,432.5 804.4,432.1 804.9,432.3 805.4,432.4 805.9,432.8 806.4,432.1 806.9,433 807.4,432.7 807.9,432.3 808.4,432.3 808.9,432.4 809.4,432.9 809.9,432.2 810.4,432.4 810.9,432.5 811.4,432.9 811.9,432.7 812.4,432.9 812.9,433.1 813.4,432.8 813.9,433.3 814.4,432.8 814.9,432.3 815.4,432.4 815.9,432.4 816.4,433.1 816.9,433 817.4,432.5 817.9,432.6 818.4,432.3 818.9,433.2 819.4,432.8 819.9,432.7 820.4,432.4 820.9,432.1 821.4,432.9 821.9,432.5 822.4,432.6 822.9,432.1 823.4,433.3 823.9,432.8 824.4,432.7 824.9,433.1 825.4,432.4 825.9,432.7 826.4,432.8 826.9,433.1 827.4,433.3 827.9,432.8 828.4,432.5 828.9,432.8 829.4,432.8 829.9,433.1 830.4,432.2 830.9,432.3 831.4,432.6 831.9,433.2 832.4,432.4 832.9,432.4 833.4,433.2 833.9,432.1 834.4,432.5 834.9,433.1 835.4,432.9 835.9,432.1 836.4,433.2 836.9,433.1 837.4,432.5 837.9,432.4 838.4,432.4 838.9,432.5 839.4,433.1 839.9,432.5 840.4,432.4 840.9,432.2 841.4,432.3 841.9,432.1 842.4,433.1 842.9,433.2 843.4,433.1 843.9,432.2 844.4,433.1 844.9,432.1 845.4,433.3 845.9,432.6 846.4,432.3 846.9,432.1 847.4,431.6 847.9,431.3 848.4,431.4 848.9,431.8 849.4,432.1 849.9,432.2 850.4,433 850.9,433.1 851.4,432.2 851.9,432.4 852.4,432.8 852.9,433.2 853.4,433.3 853.9,433.2 854.4,432.5 854.9,433.2 855.4,433 855.9,432.1 856.4,432.5 856.9,433.3 857.4,432.2 857.9,433 858.4,433.1 858.9,432.8 859.4,432.6 859.9,433.1 860.4,432.7 860.9,432.6 861.4,432.4 861.9,432.3 862.4,432.5 862.9,432.8 863.4,433.3 863.9,433.3 864.4,433 864.9,432.3 865.4,432.9 865.9,432.6 866.4,433 866.9,432.1 867.4,432.9 867.9,432.4 868.4,432.3 868.9,432.5 869.4,433.2 869.9,432.5 870.4,433 870.9,432.4 871.4,432.6 871.9,432.1 872.4,433.3 872.9,432.3 873.4,433.3 873.9,432.7 874.4,432.1 874.9,433.1 875.4,432.2 875.9,433.3 876.4,432.6 876.9,432.3 877.4,432.4 877.9,433.3 878.4,432.8 878.9,432.2 879.4,432.5 879.9,433 880.4,432.9 880.9,432.2 881.4,432.3 881.9,432.4 882.4,432.1 882.9,432.1 883.4,432.2 883.9,432.3 884.4,433.1 884.9,433.2 885.4,432.2 885.9,432.5 886.4,432.9 886.9,432.3 887.4,432.7 887.9,432.6 888.4,433 888.9,432.6 889.4,433 889.9,432.3 890.4,432.8 890.9,432.3 891.4,432.5 891.9,432.8 892.4,432.3 892.9,432.1 893.4,432.2 893.9,433 894.4,432.2 894.9,433 895.4,433 895.9,432.8 896.4,432.9 896.9,433 897.4,432.6 897.9,432.2 898.4,432.5 898.9,432.6 899.4,433.1 899.9,432.4 900.4,432.1 900.9,432.8 901.4,433.2 901.9,432.7 902.4,432.7 902.9,432.4 903.4,432.3 903.9,433.1 904.4,432.2 904.9,432.4 905.4,433.1 905.9,433 906.4,432.9 906.9,432.2 907.4,432.8 907.9,432.6" fill="none" stroke="#222222" stroke-width="1.3"/>
<text x="652.8" y="395.1" font-size="7.5" text-anchor="middle" fill="#333" font-weight="bold" font-family="'Liberation Sans', Arial, sans-serif" textLength="42" lengthAdjust="spacingAndGlyphs">6185.381</text>
<line x1="631.8" y1="396.6" x2="673.8" y2="396.6" stroke="#666" stroke-width="1"/>
<line x1="581.4" y1="436.8" x2="581.4" y2="439.8" stroke="#555" stroke-width="1"/>
<text x="581.4" y="446.3" font-size="6" text-anchor="middle" fill="#444" font-weight="bold" font-family="'Liberation Sans', Arial, sans-serif">4000</text>
<line x1="647.3" y1="436.8" x2="647.3" y2="439.8" stroke="#555" stroke-width="1"/>
<text x="647.3" y="446.3" font-size="6" text-anchor="middle" fill="#444" font-weight="bold" font-family="'Liberation Sans', Arial, sans-serif">6000</text>
<line x1="712.7" y1="436.8" x2="712.7" y2="439.8" stroke="#555" stroke-width="1"/>
<text x="712.7" y="446.3" font-size="6" text-anchor="middle" fill="#444" font-weight="bold" font-family="'Liberation Sans', Arial, sans-serif">8000</text>
<line x1="779.4" y1="436.8" x2="779.4" y2="439.8" stroke="#555" stroke-width="1"/>
<text x="779.4" y="446.3" font-size="6" text-anchor="middle" fill="#444" font-weight="bold" font-family="'Liberation Sans', Arial, sans-serif">10000</text>
<line x1="844.8" y1="436.8" x2="844.8" y2="439.8" stroke="#555" stroke-width="1"/>
<text x="844.8" y="446.3" font-size="6" text-anchor="middle" fill="#444" font-weight="bold" font-family="'Liberation Sans', Arial, sans-serif">12000</text>
<line x1="548" y1="436.8" x2="548" y2="438.8" stroke="#777" stroke-width="0.8"/>
<line x1="614" y1="436.8" x2="614" y2="438.8" stroke="#777" stroke-width="0.8"/>
<line x1="680" y1="436.8" x2="680" y2="438.8" stroke="#777" stroke-width="0.8"/>
<line x1="746" y1="436.8" x2="746" y2="438.8" stroke="#777" stroke-width="0.8"/>
<line x1="812" y1="436.8" x2="812" y2="438.8" stroke="#777" stroke-width="0.8"/>
<line x1="878" y1="436.8" x2="878" y2="438.8" stroke="#777" stroke-width="0.8"/>
<text x="902" y="447.5" font-size="6" text-anchor="start" fill="#444" font-weight="bold" font-family="'Liberation Sans', Arial, sans-serif">m/z</text>
<line x1="953" y1="5.5" x2="1903.6" y2="5.5" stroke="#9a9a9a" stroke-width="1.6"/>
<line x1="953" y1="5.5" x2="953" y2="928.8" stroke="#8a8a8a" stroke-width="1.6"/>
<line x1="953" y1="928.8" x2="1903.6" y2="928.8" stroke="#707070" stroke-width="1.8"/>
<line x1="1903.6" y1="5.5" x2="1903.6" y2="928.8" stroke="#999" stroke-width="1.6"/>
<text x="968" y="66" font-size="72" text-anchor="start" fill="#000" font-weight="normal" font-family="'Liberation Serif', 'Times New Roman', serif">B</text>
<text x="1460.5" y="55.4" font-size="25" text-anchor="middle" fill="#222" font-weight="normal" font-family="'Liberation Sans', Arial, sans-serif" textLength="137.5" lengthAdjust="spacingAndGlyphs" stroke="#222" stroke-width="0.45">PCA Dendrogram</text>
<line x1="1032" y1="76" x2="1032" y2="847.3" stroke="#444" stroke-width="1.6"/>
<line x1="1032" y1="847.3" x2="1895" y2="847.3" stroke="#555" stroke-width="1.6"/>
<line x1="1032" y1="102.6" x2="1040" y2="102.6" stroke="#444" stroke-width="1.2"/>
<text x="1024.5" y="110.4" font-size="23" text-anchor="end" fill="#222" font-weight="normal" font-family="'Liberation Sans', Arial, sans-serif" textLength="23.5" lengthAdjust="spacingAndGlyphs" stroke="#222" stroke-width="0.45">1.6</text>
<line x1="1032" y1="198.8" x2="1040" y2="198.8" stroke="#444" stroke-width="1.2"/>
<text x="1024.5" y="206.6" font-size="23" text-anchor="end" fill="#222" font-weight="normal" font-family="'Liberation Sans', Arial, sans-serif" textLength="23.5" lengthAdjust="spacingAndGlyphs" stroke="#222" stroke-width="0.45">1.4</text>
<line x1="1032" y1="295" x2="1040" y2="295" stroke="#444" stroke-width="1.2"/>
<text x="1024.5" y="302.8" font-size="23" text-anchor="end" fill="#222" font-weight="normal" font-family="'Liberation Sans', Arial, sans-serif" textLength="23.5" lengthAdjust="spacingAndGlyphs" stroke="#222" stroke-width="0.45">1.2</text>
<line x1="1032" y1="391.2" x2="1040" y2="391.2" stroke="#444" stroke-width="1.2"/>
<text x="1024.5" y="399" font-size="23" text-anchor="end" fill="#222" font-weight="normal" font-family="'Liberation Sans', Arial, sans-serif" textLength="8.5" lengthAdjust="spacingAndGlyphs" stroke="#222" stroke-width="0.45">1</text>
<line x1="1032" y1="487.4" x2="1040" y2="487.4" stroke="#444" stroke-width="1.2"/>
<text x="1024.5" y="495.2" font-size="23" text-anchor="end" fill="#222" font-weight="normal" font-family="'Liberation Sans', Arial, sans-serif" textLength="23.5" lengthAdjust="spacingAndGlyphs" stroke="#222" stroke-width="0.45">0.8</text>
<line x1="1032" y1="583.6" x2="1040" y2="583.6" stroke="#444" stroke-width="1.2"/>
<text x="1024.5" y="591.4" font-size="23" text-anchor="end" fill="#222" font-weight="normal" font-family="'Liberation Sans', Arial, sans-serif" textLength="23.5" lengthAdjust="spacingAndGlyphs" stroke="#222" stroke-width="0.45">0.6</text>
<line x1="1032" y1="679.8" x2="1040" y2="679.8" stroke="#444" stroke-width="1.2"/>
<text x="1024.5" y="687.6" font-size="23" text-anchor="end" fill="#222" font-weight="normal" font-family="'Liberation Sans', Arial, sans-serif" textLength="23.5" lengthAdjust="spacingAndGlyphs" stroke="#222" stroke-width="0.45">0.4</text>
<line x1="1032" y1="776" x2="1040" y2="776" stroke="#444" stroke-width="1.2"/>
<text x="1024.5" y="783.8" font-size="23" text-anchor="end" fill="#222" font-weight="normal" font-family="'Liberation Sans', Arial, sans-serif" textLength="23.5" lengthAdjust="spacingAndGlyphs" stroke="#222" stroke-width="0.45">0.2</text>
<text x="1126.5" y="875.5" font-size="24" text-anchor="middle" fill="#222" font-weight="normal" font-family="'Liberation Sans', Arial, sans-serif" textLength="9.8" lengthAdjust="spacingAndGlyphs" stroke="#222" stroke-width="0.45">4</text>
<text x="1222.7" y="875.5" font-size="24" text-anchor="middle" fill="#222" font-weight="normal" font-family="'Liberation Sans', Arial, sans-serif" textLength="9.8" lengthAdjust="spacingAndGlyphs" stroke="#222" stroke-width="0.45">1</text>
<text x="1319.5" y="875.5" font-size="24" text-anchor="middle" fill="#222" font-weight="normal" font-family="'Liberation Sans', Arial, sans-serif" textLength="9.8" lengthAdjust="spacingAndGlyphs" stroke="#222" stroke-width="0.45">5</text>
<text x="1414.4" y="875.5" font-size="24" text-anchor="middle" fill="#222" font-weight="normal" font-family="'Liberation Sans', Arial, sans-serif" textLength="9.8" lengthAdjust="spacingAndGlyphs" stroke="#222" stroke-width="0.45">7</text>
<text x="1511.4" y="875.5" font-size="24" text-anchor="middle" fill="#222" font-weight="normal" font-family="'Liberation Sans', Arial, sans-serif" textLength="9.8" lengthAdjust="spacingAndGlyphs" stroke="#222" stroke-width="0.45">6</text>
<text x="1607.5" y="875.5" font-size="24" text-anchor="middle" fill="#222" font-weight="normal" font-family="'Liberation Sans', Arial, sans-serif" textLength="9.8" lengthAdjust="spacingAndGlyphs" stroke="#222" stroke-width="0.45">2</text>
<text x="1703.6" y="875.5" font-size="24" text-anchor="middle" fill="#222" font-weight="normal" font-family="'Liberation Sans', Arial, sans-serif" textLength="9.8" lengthAdjust="spacingAndGlyphs" stroke="#222" stroke-width="0.45">3</text>
<text x="1800.6" y="875.5" font-size="24" text-anchor="middle" fill="#222" font-weight="normal" font-family="'Liberation Sans', Arial, sans-serif" textLength="9.8" lengthAdjust="spacingAndGlyphs" stroke="#222" stroke-width="0.45">8</text>
<text x="1461" y="907.5" font-size="23" text-anchor="middle" fill="#222" font-weight="normal" font-family="'Liberation Sans', Arial, sans-serif" textLength="62" lengthAdjust="spacingAndGlyphs" stroke="#222" stroke-width="0.45">Spectra</text>
<text x="0" y="0" font-size="23.5" text-anchor="middle" fill="#2a2a2a" font-family="'Liberation Sans', Arial, sans-serif" transform="translate(991.6 461.8) rotate(-90) scale(0.8 1)" textLength="200" lengthAdjust="spacing" stroke="#222" stroke-width="0.45">Distance Level</text>
<line x1="1125.7" y1="847.3" x2="1125.7" y2="812.6" stroke="#f2a0a6" stroke-width="1.9" stroke-linecap="square"/>
<line x1="1221.9" y1="847.3" x2="1221.9" y2="812.6" stroke="#e6505c" stroke-width="1.9" stroke-linecap="square"/>
<line x1="1125.7" y1="812.6" x2="1221.9" y2="812.6" stroke="#e6505c" stroke-width="1.9" stroke-linecap="square"/>
<line x1="1173.8" y1="812.6" x2="1173.8" y2="647.1" stroke="#e6505c" stroke-width="1.9" stroke-linecap="square"/>
<line x1="1318.7" y1="847.3" x2="1318.7" y2="647.1" stroke="#f2a0a6" stroke-width="1.9" stroke-linecap="square"/>
<line x1="1173.8" y1="647.1" x2="1318.7" y2="647.1" stroke="#e6505c" stroke-width="1.9" stroke-linecap="square"/>
<line x1="1246.2" y1="647.1" x2="1246.2" y2="482.6" stroke="#e6505c" stroke-width="1.9" stroke-linecap="square"/>
<line x1="1413.6" y1="847.3" x2="1413.6" y2="482.6" stroke="#f2a0a6" stroke-width="1.9" stroke-linecap="square"/>
<line x1="1246.2" y1="482.6" x2="1413.6" y2="482.6" stroke="#e6505c" stroke-width="1.9" stroke-linecap="square"/>
<line x1="1606.7" y1="847.3" x2="1606.7" y2="759.6" stroke="#f2a0a6" stroke-width="1.9" stroke-linecap="square"/>
<line x1="1702.8" y1="847.3" x2="1702.8" y2="759.6" stroke="#e6505c" stroke-width="1.9" stroke-linecap="square"/>
<line x1="1606.7" y1="759.6" x2="1702.8" y2="759.6" stroke="#e6505c" stroke-width="1.9" stroke-linecap="square"/>
<line x1="1510.6" y1="847.3" x2="1510.6" y2="596.6" stroke="#e6505c" stroke-width="1.9" stroke-linecap="square"/>
<line x1="1654.8" y1="759.6" x2="1654.8" y2="596.6" stroke="#f2a0a6" stroke-width="1.9" stroke-linecap="square"/>
<line x1="1510.6" y1="596.6" x2="1654.8" y2="596.6" stroke="#e6505c" stroke-width="1.9" stroke-linecap="square"/>
<line x1="1330.9" y1="482.6" x2="1330.9" y2="433.5" stroke="#e6505c" stroke-width="1.9" stroke-linecap="square"/>
<line x1="1582.7" y1="596.6" x2="1582.7" y2="433.5" stroke="#e6505c" stroke-width="1.9" stroke-linecap="square"/>
<line x1="1330.9" y1="433.5" x2="1582.7" y2="433.5" stroke="#f2a0a6" stroke-width="1.9" stroke-linecap="square"/>
<line x1="1456.8" y1="433.5" x2="1456.8" y2="110.3" stroke="#333" stroke-width="1.7" stroke-linecap="square"/>
<line x1="1799.8" y1="847.3" x2="1799.8" y2="110.3" stroke="#333" stroke-width="1.7" stroke-linecap="square"/>
<line x1="1456.8" y1="110.3" x2="1799.8" y2="110.3" stroke="#333" stroke-width="1.7" stroke-linecap="square"/>
<rect x="4.5" y="954.5" width="1899" height="1019" fill="#c0c0c0" stroke="#4a4a4a" stroke-width="1.6"/>
<line x1="1903.5" y1="955" x2="1903.5" y2="1973.5" stroke="#8a8a8a" stroke-width="1.6"/>
<line x1="4.5" y1="1973.5" x2="1903.5" y2="1973.5" stroke="#8a8a8a" stroke-width="1.6"/>
<text x="88" y="1010" font-size="72" text-anchor="start" fill="#000" font-weight="normal" font-family="'Liberation Serif', 'Times New Roman', serif">C</text>
<rect x="608.5" y="974.2" width="324.4" height="436.8" fill="#ffffff" stroke="none" stroke-width="1"/>
<line x1="608.5" y1="974.2" x2="608.5" y2="1411" stroke="#222" stroke-width="2"/>
<line x1="608.5" y1="1411" x2="932.9" y2="1411" stroke="#222" stroke-width="2"/>
<line x1="608.5" y1="1411" x2="608.5" y2="1406" stroke="#222" stroke-width="2"/>
<line x1="689.6" y1="1411" x2="689.6" y2="1406" stroke="#222" stroke-width="2"/>
<line x1="770.7" y1="1411" x2="770.7" y2="1406" stroke="#222" stroke-width="2"/>
<line x1="851.8" y1="1411" x2="851.8" y2="1406" stroke="#222" stroke-width="2"/>
<line x1="932.9" y1="1411" x2="932.9" y2="1406" stroke="#222" stroke-width="2"/>
<line x1="608.5" y1="1411" x2="613.5" y2="1411" stroke="#222" stroke-width="2"/>
<line x1="608.5" y1="1323.6" x2="613.5" y2="1323.6" stroke="#222" stroke-width="2"/>
<line x1="608.5" y1="1236.3" x2="613.5" y2="1236.3" stroke="#222" stroke-width="2"/>
<line x1="608.5" y1="1148.9" x2="613.5" y2="1148.9" stroke="#222" stroke-width="2"/>
<line x1="608.5" y1="1061.6" x2="613.5" y2="1061.6" stroke="#222" stroke-width="2"/>
<line x1="608.5" y1="974.2" x2="613.5" y2="974.2" stroke="#222" stroke-width="2"/>
<text x="607.5" y="1434" font-size="20.5" text-anchor="middle" fill="#111" font-weight="normal" font-family="'Liberation Sans', Arial, sans-serif" textLength="21" lengthAdjust="spacingAndGlyphs">-2</text>
<text x="688.6" y="1434" font-size="20.5" text-anchor="middle" fill="#111" font-weight="normal" font-family="'Liberation Sans', Arial, sans-serif" textLength="13.1" lengthAdjust="spacingAndGlyphs">0</text>
<text x="769.7" y="1434" font-size="20.5" text-anchor="middle" fill="#111" font-weight="normal" font-family="'Liberation Sans', Arial, sans-serif" textLength="13.1" lengthAdjust="spacingAndGlyphs">2</text>
<text x="850.8" y="1434" font-size="20.5" text-anchor="middle" fill="#111" font-weight="normal" font-family="'Liberation Sans', Arial, sans-serif" textLength="13.1" lengthAdjust="spacingAndGlyphs">4</text>
<text x="931.9" y="1434" font-size="20.5" text-anchor="middle" fill="#111" font-weight="normal" font-family="'Liberation Sans', Arial, sans-serif" textLength="13.1" lengthAdjust="spacingAndGlyphs">6</text>
<text x="601.5" y="1418.5" font-size="20.5" text-anchor="end" fill="#111" font-weight="normal" font-family="'Liberation Sans', Arial, sans-serif" textLength="21" lengthAdjust="spacingAndGlyphs">-1</text>
<text x="601.5" y="1331.1" font-size="20.5" text-anchor="end" fill="#111" font-weight="normal" font-family="'Liberation Sans', Arial, sans-serif" textLength="40.6" lengthAdjust="spacingAndGlyphs">-0.5</text>
<text x="601.5" y="1243.8" font-size="20.5" text-anchor="end" fill="#111" font-weight="normal" font-family="'Liberation Sans', Arial, sans-serif" textLength="13.1" lengthAdjust="spacingAndGlyphs">0</text>
<text x="601.5" y="1156.4" font-size="20.5" text-anchor="end" fill="#111" font-weight="normal" font-family="'Liberation Sans', Arial, sans-serif" textLength="32.8" lengthAdjust="spacingAndGlyphs">0.5</text>
<text x="601.5" y="1069.1" font-size="20.5" text-anchor="end" fill="#111" font-weight="normal" font-family="'Liberation Sans', Arial, sans-serif" textLength="13.1" lengthAdjust="spacingAndGlyphs">1</text>
<text x="601.5" y="981.7" font-size="20.5" text-anchor="end" fill="#111" font-weight="normal" font-family="'Liberation Sans', Arial, sans-serif" textLength="32.8" lengthAdjust="spacingAndGlyphs">1.5</text>
<text x="765.1" y="1458.6" font-size="19.6" text-anchor="middle" fill="#111" font-weight="normal" font-family="'Liberation Sans', Arial, sans-serif" textLength="43.8" lengthAdjust="spacingAndGlyphs">PC1</text>
<text x="539.5" y="1194.4" font-size="26.5" text-anchor="middle" fill="#111" font-weight="normal" font-family="'Liberation Sans', Arial, sans-serif" textLength="34" lengthAdjust="spacingAndGlyphs" transform="rotate(-90 539.5 1194.4)">PC2</text>
<ellipse cx="678" cy="985.3" rx="4.6" ry="3.5" fill="#0000ff"/>
<ellipse cx="657.9" cy="1188.8" rx="4.6" ry="3.5" fill="#ffff00"/>
<ellipse cx="671.2" cy="1224.9" rx="4.6" ry="3.5" fill="#0000ff"/>
<ellipse cx="662.9" cy="1261.8" rx="4.6" ry="3.5" fill="#ffff00"/>
<ellipse cx="855.7" cy="1261.8" rx="4.6" ry="3.5" fill="#ff0000"/>
<ellipse cx="669.2" cy="1278.7" rx="4.6" ry="3.5" fill="#0000ff"/>
<ellipse cx="662.9" cy="1321.9" rx="4.6" ry="3.5" fill="#ffff00"/>
<ellipse cx="651.9" cy="1363.8" rx="4.6" ry="3.5" fill="#00ee00"/>
<rect x="1076.4" y="974.2" width="323.7" height="436.8" fill="#ffffff" stroke="none" stroke-width="1"/>
<line x1="1076.4" y1="974.2" x2="1076.4" y2="1411" stroke="#222" stroke-width="2"/>
<line x1="1076.4" y1="1411" x2="1400.1" y2="1411" stroke="#222" stroke-width="2"/>
<line x1="1076.4" y1="1411" x2="1076.4" y2="1406" stroke="#222" stroke-width="2"/>
<line x1="1157.3" y1="1411" x2="1157.3" y2="1406" stroke="#222" stroke-width="2"/>
<line x1="1238.2" y1="1411" x2="1238.2" y2="1406" stroke="#222" stroke-width="2"/>
<line x1="1319.2" y1="1411" x2="1319.2" y2="1406" stroke="#222" stroke-width="2"/>
<line x1="1400.1" y1="1411" x2="1400.1" y2="1406" stroke="#222" stroke-width="2"/>
<line x1="1076.4" y1="1411" x2="1081.4" y2="1411" stroke="#222" stroke-width="2"/>
<line x1="1076.4" y1="1367.3" x2="1081.4" y2="1367.3" stroke="#222" stroke-width="2"/>
<line x1="1076.4" y1="1323.6" x2="1081.4" y2="1323.6" stroke="#222" stroke-width="2"/>
<line x1="1076.4" y1="1280" x2="1081.4" y2="1280" stroke="#222" stroke-width="2"/>
<line x1="1076.4" y1="1236.3" x2="1081.4" y2="1236.3" stroke="#222" stroke-width="2"/>
<line x1="1076.4" y1="1192.6" x2="1081.4" y2="1192.6" stroke="#222" stroke-width="2"/>
<line x1="1076.4" y1="1148.9" x2="1081.4" y2="1148.9" stroke="#222" stroke-width="2"/>
<line x1="1076.4" y1="1105.2" x2="1081.4" y2="1105.2" stroke="#222" stroke-width="2"/>
<line x1="1076.4" y1="1061.6" x2="1081.4" y2="1061.6" stroke="#222" stroke-width="2"/>
<line x1="1076.4" y1="1017.9" x2="1081.4" y2="1017.9" stroke="#222" stroke-width="2"/>
<line x1="1076.4" y1="974.2" x2="1081.4" y2="974.2" stroke="#222" stroke-width="2"/>
<text x="1075.4" y="1434" font-size="20.5" text-anchor="middle" fill="#111" font-weight="normal" font-family="'Liberation Sans', Arial, sans-serif" textLength="21" lengthAdjust="spacingAndGlyphs">-2</text>
<text x="1156.3" y="1434" font-size="20.5" text-anchor="middle" fill="#111" font-weight="normal" font-family="'Liberation Sans', Arial, sans-serif" textLength="13.1" lengthAdjust="spacingAndGlyphs">0</text>
<text x="1237.2" y="1434" font-size="20.5" text-anchor="middle" fill="#111" font-weight="normal" font-family="'Liberation Sans', Arial, sans-serif" textLength="13.1" lengthAdjust="spacingAndGlyphs">2</text>
<text x="1318.2" y="1434" font-size="20.5" text-anchor="middle" fill="#111" font-weight="normal" font-family="'Liberation Sans', Arial, sans-serif" textLength="13.1" lengthAdjust="spacingAndGlyphs">4</text>
<text x="1399.1" y="1434" font-size="20.5" text-anchor="middle" fill="#111" font-weight="normal" font-family="'Liberation Sans', Arial, sans-serif" textLength="13.1" lengthAdjust="spacingAndGlyphs">6</text>
<text x="1069.4" y="1418.5" font-size="20.5" text-anchor="end" fill="#111" font-weight="normal" font-family="'Liberation Sans', Arial, sans-serif" textLength="40.6" lengthAdjust="spacingAndGlyphs">-0.6</text>
<text x="1069.4" y="1374.8" font-size="20.5" text-anchor="end" fill="#111" font-weight="normal" font-family="'Liberation Sans', Arial, sans-serif" textLength="40.6" lengthAdjust="spacingAndGlyphs">-0.4</text>
<text x="1069.4" y="1331.1" font-size="20.5" text-anchor="end" fill="#111" font-weight="normal" font-family="'Liberation Sans', Arial, sans-serif" textLength="40.6" lengthAdjust="spacingAndGlyphs">-0.2</text>
<text x="1069.4" y="1287.5" font-size="20.5" text-anchor="end" fill="#111" font-weight="normal" font-family="'Liberation Sans', Arial, sans-serif" textLength="13.1" lengthAdjust="spacingAndGlyphs">0</text>
<text x="1069.4" y="1243.8" font-size="20.5" text-anchor="end" fill="#111" font-weight="normal" font-family="'Liberation Sans', Arial, sans-serif" textLength="32.8" lengthAdjust="spacingAndGlyphs">0.2</text>
<text x="1069.4" y="1200.1" font-size="20.5" text-anchor="end" fill="#111" font-weight="normal" font-family="'Liberation Sans', Arial, sans-serif" textLength="32.8" lengthAdjust="spacingAndGlyphs">0.4</text>
<text x="1069.4" y="1156.4" font-size="20.5" text-anchor="end" fill="#111" font-weight="normal" font-family="'Liberation Sans', Arial, sans-serif" textLength="32.8" lengthAdjust="spacingAndGlyphs">0.6</text>
<text x="1069.4" y="1112.7" font-size="20.5" text-anchor="end" fill="#111" font-weight="normal" font-family="'Liberation Sans', Arial, sans-serif" textLength="32.8" lengthAdjust="spacingAndGlyphs">0.8</text>
<text x="1069.4" y="1069.1" font-size="20.5" text-anchor="end" fill="#111" font-weight="normal" font-family="'Liberation Sans', Arial, sans-serif" textLength="13.1" lengthAdjust="spacingAndGlyphs">1</text>
<text x="1069.4" y="1025.4" font-size="20.5" text-anchor="end" fill="#111" font-weight="normal" font-family="'Liberation Sans', Arial, sans-serif" textLength="32.8" lengthAdjust="spacingAndGlyphs">1.2</text>
<text x="1069.4" y="981.7" font-size="20.5" text-anchor="end" fill="#111" font-weight="normal" font-family="'Liberation Sans', Arial, sans-serif" textLength="32.8" lengthAdjust="spacingAndGlyphs">1.4</text>
<text x="1232.7" y="1458.6" font-size="19.6" text-anchor="middle" fill="#111" font-weight="normal" font-family="'Liberation Sans', Arial, sans-serif" textLength="43.8" lengthAdjust="spacingAndGlyphs">PC1</text>
<text x="1007.4" y="1194.4" font-size="26.5" text-anchor="middle" fill="#111" font-weight="normal" font-family="'Liberation Sans', Arial, sans-serif" textLength="34" lengthAdjust="spacingAndGlyphs" transform="rotate(-90 1007.4 1194.4)">PC3</text>
<ellipse cx="1119.7" cy="1001.5" rx="4.6" ry="3.5" fill="#00ee00"/>
<ellipse cx="1146.1" cy="1166.8" rx="4.6" ry="3.5" fill="#0000ff"/>
<ellipse cx="1323" cy="1274.5" rx="4.6" ry="3.5" fill="#ff0000"/>
<ellipse cx="1137.9" cy="1284.7" rx="4.6" ry="3.5" fill="#0000ff"/>
<ellipse cx="1136.2" cy="1340.6" rx="4.6" ry="3.5" fill="#0000ff"/>
<ellipse cx="1130.7" cy="1375.6" rx="4.6" ry="3.5" fill="#ffff00"/>
<ellipse cx="1130.7" cy="1384.7" rx="4.6" ry="3.5" fill="#ffff00"/>
<ellipse cx="1125.5" cy="1406.7" rx="4.6" ry="3.5" fill="#ffff00"/>
<rect x="1543.7" y="974.2" width="323.2" height="436.8" fill="#ffffff" stroke="none" stroke-width="1"/>
<line x1="1543.7" y1="974.2" x2="1543.7" y2="1411" stroke="#222" stroke-width="2"/>
<line x1="1543.7" y1="1411" x2="1866.9" y2="1411" stroke="#222" stroke-width="2"/>
<line x1="1543.7" y1="1411" x2="1543.7" y2="1406" stroke="#222" stroke-width="2"/>
<line x1="1651.4" y1="1411" x2="1651.4" y2="1406" stroke="#222" stroke-width="2"/>
<line x1="1759.2" y1="1411" x2="1759.2" y2="1406" stroke="#222" stroke-width="2"/>
<line x1="1866.9" y1="1411" x2="1866.9" y2="1406" stroke="#222" stroke-width="2"/>
<line x1="1543.7" y1="1411" x2="1548.7" y2="1411" stroke="#222" stroke-width="2"/>
<line x1="1543.7" y1="1367.3" x2="1548.7" y2="1367.3" stroke="#222" stroke-width="2"/>
<line x1="1543.7" y1="1323.6" x2="1548.7" y2="1323.6" stroke="#222" stroke-width="2"/>
<line x1="1543.7" y1="1280" x2="1548.7" y2="1280" stroke="#222" stroke-width="2"/>
<line x1="1543.7" y1="1236.3" x2="1548.7" y2="1236.3" stroke="#222" stroke-width="2"/>
<line x1="1543.7" y1="1192.6" x2="1548.7" y2="1192.6" stroke="#222" stroke-width="2"/>
<line x1="1543.7" y1="1148.9" x2="1548.7" y2="1148.9" stroke="#222" stroke-width="2"/>
<line x1="1543.7" y1="1105.2" x2="1548.7" y2="1105.2" stroke="#222" stroke-width="2"/>
<line x1="1543.7" y1="1061.6" x2="1548.7" y2="1061.6" stroke="#222" stroke-width="2"/>
<line x1="1543.7" y1="1017.9" x2="1548.7" y2="1017.9" stroke="#222" stroke-width="2"/>
<line x1="1543.7" y1="974.2" x2="1548.7" y2="974.2" stroke="#222" stroke-width="2"/>
<text x="1542.7" y="1434" font-size="20.5" text-anchor="middle" fill="#111" font-weight="normal" font-family="'Liberation Sans', Arial, sans-serif" textLength="21" lengthAdjust="spacingAndGlyphs">-1</text>
<text x="1650.4" y="1434" font-size="20.5" text-anchor="middle" fill="#111" font-weight="normal" font-family="'Liberation Sans', Arial, sans-serif" textLength="13.1" lengthAdjust="spacingAndGlyphs">0</text>
<text x="1758.2" y="1434" font-size="20.5" text-anchor="middle" fill="#111" font-weight="normal" font-family="'Liberation Sans', Arial, sans-serif" textLength="13.1" lengthAdjust="spacingAndGlyphs">1</text>
<text x="1865.9" y="1434" font-size="20.5" text-anchor="middle" fill="#111" font-weight="normal" font-family="'Liberation Sans', Arial, sans-serif" textLength="13.1" lengthAdjust="spacingAndGlyphs">2</text>
<text x="1536.7" y="1418.5" font-size="20.5" text-anchor="end" fill="#111" font-weight="normal" font-family="'Liberation Sans', Arial, sans-serif" textLength="40.6" lengthAdjust="spacingAndGlyphs">-0.6</text>
<text x="1536.7" y="1374.8" font-size="20.5" text-anchor="end" fill="#111" font-weight="normal" font-family="'Liberation Sans', Arial, sans-serif" textLength="40.6" lengthAdjust="spacingAndGlyphs">-0.4</text>
<text x="1536.7" y="1331.1" font-size="20.5" text-anchor="end" fill="#111" font-weight="normal" font-family="'Liberation Sans', Arial, sans-serif" textLength="40.6" lengthAdjust="spacingAndGlyphs">-0.2</text>
<text x="1536.7" y="1287.5" font-size="20.5" text-anchor="end" fill="#111" font-weight="normal" font-family="'Liberation Sans', Arial, sans-serif" textLength="13.1" lengthAdjust="spacingAndGlyphs">0</text>
<text x="1536.7" y="1243.8" font-size="20.5" text-anchor="end" fill="#111" font-weight="normal" font-family="'Liberation Sans', Arial, sans-serif" textLength="32.8" lengthAdjust="spacingAndGlyphs">0.2</text>
<text x="1536.7" y="1200.1" font-size="20.5" text-anchor="end" fill="#111" font-weight="normal" font-family="'Liberation Sans', Arial, sans-serif" textLength="32.8" lengthAdjust="spacingAndGlyphs">0.4</text>
<text x="1536.7" y="1156.4" font-size="20.5" text-anchor="end" fill="#111" font-weight="normal" font-family="'Liberation Sans', Arial, sans-serif" textLength="32.8" lengthAdjust="spacingAndGlyphs">0.6</text>
<text x="1536.7" y="1112.7" font-size="20.5" text-anchor="end" fill="#111" font-weight="normal" font-family="'Liberation Sans', Arial, sans-serif" textLength="32.8" lengthAdjust="spacingAndGlyphs">0.8</text>
<text x="1536.7" y="1069.1" font-size="20.5" text-anchor="end" fill="#111" font-weight="normal" font-family="'Liberation Sans', Arial, sans-serif" textLength="13.1" lengthAdjust="spacingAndGlyphs">1</text>
<text x="1536.7" y="1025.4" font-size="20.5" text-anchor="end" fill="#111" font-weight="normal" font-family="'Liberation Sans', Arial, sans-serif" textLength="32.8" lengthAdjust="spacingAndGlyphs">1.2</text>
<text x="1536.7" y="981.7" font-size="20.5" text-anchor="end" fill="#111" font-weight="normal" font-family="'Liberation Sans', Arial, sans-serif" textLength="32.8" lengthAdjust="spacingAndGlyphs">1.4</text>
<text x="1702.1" y="1458.6" font-size="19.6" text-anchor="middle" fill="#111" font-weight="normal" font-family="'Liberation Sans', Arial, sans-serif" textLength="43.8" lengthAdjust="spacingAndGlyphs">PC2</text>
<text x="1476.2" y="1194.4" font-size="26.5" text-anchor="middle" fill="#111" font-weight="normal" font-family="'Liberation Sans', Arial, sans-serif" textLength="34" lengthAdjust="spacingAndGlyphs" transform="rotate(-90 1476.2 1194.4)">PC3</text>
<ellipse cx="1570.4" cy="1001.5" rx="4.6" ry="3.5" fill="#00ee00"/>
<ellipse cx="1805.5" cy="1166.8" rx="4.6" ry="3.5" fill="#0000ff"/>
<ellipse cx="1633.8" cy="1274.6" rx="4.6" ry="3.5" fill="#ff0000"/>
<ellipse cx="1658.6" cy="1284.8" rx="4.6" ry="3.5" fill="#0000ff"/>
<ellipse cx="1624.4" cy="1340.7" rx="4.6" ry="3.5" fill="#0000ff"/>
<ellipse cx="1598.2" cy="1375.7" rx="4.6" ry="3.5" fill="#ffff00"/>
<ellipse cx="1633.8" cy="1384.8" rx="4.6" ry="3.5" fill="#ffff00"/>
<ellipse cx="1680.9" cy="1406.9" rx="4.6" ry="3.5" fill="#ffff00"/>
<rect x="622" y="1484.5" width="312.2" height="436.7" fill="#ffffff" stroke="none" stroke-width="1"/>
<line x1="699.3" y1="1484.5" x2="699.3" y2="1921.2" stroke="#3a3a3a" stroke-width="1.8" stroke-dasharray="1.8 7.7" stroke-linecap="butt"/>
<line x1="776.6" y1="1484.5" x2="776.6" y2="1921.2" stroke="#3a3a3a" stroke-width="1.8" stroke-dasharray="1.8 7.7" stroke-linecap="butt"/>
<line x1="853.9" y1="1484.5" x2="853.9" y2="1921.2" stroke="#3a3a3a" stroke-width="1.8" stroke-dasharray="1.8 7.7" stroke-linecap="butt"/>
<line x1="931.2" y1="1484.5" x2="931.2" y2="1921.2" stroke="#3a3a3a" stroke-width="1.8" stroke-dasharray="1.8 7.7" stroke-linecap="butt"/>
<line x1="622" y1="1872.7" x2="934.2" y2="1872.7" stroke="#3a3a3a" stroke-width="1.8" stroke-dasharray="1.8 7.7" stroke-linecap="butt"/>
<line x1="622" y1="1824.2" x2="934.2" y2="1824.2" stroke="#3a3a3a" stroke-width="1.8" stroke-dasharray="1.8 7.7" stroke-linecap="butt"/>
<line x1="622" y1="1775.6" x2="934.2" y2="1775.6" stroke="#3a3a3a" stroke-width="1.8" stroke-dasharray="1.8 7.7" stroke-linecap="butt"/>
<line x1="622" y1="1727.1" x2="934.2" y2="1727.1" stroke="#3a3a3a" stroke-width="1.8" stroke-dasharray="1.8 7.7" stroke-linecap="butt"/>
<line x1="622" y1="1678.6" x2="934.2" y2="1678.6" stroke="#3a3a3a" stroke-width="1.8" stroke-dasharray="1.8 7.7" stroke-linecap="butt"/>
<line x1="622" y1="1630.1" x2="934.2" y2="1630.1" stroke="#3a3a3a" stroke-width="1.8" stroke-dasharray="1.8 7.7" stroke-linecap="butt"/>
<line x1="622" y1="1581.5" x2="934.2" y2="1581.5" stroke="#3a3a3a" stroke-width="1.8" stroke-dasharray="1.8 7.7" stroke-linecap="butt"/>
<line x1="622" y1="1533" x2="934.2" y2="1533" stroke="#3a3a3a" stroke-width="1.8" stroke-dasharray="1.8 7.7" stroke-linecap="butt"/>
<line x1="622" y1="1484.5" x2="934.2" y2="1484.5" stroke="#3a3a3a" stroke-width="1.8" stroke-dasharray="1.8 7.7" stroke-linecap="butt"/>
<line x1="776.6" y1="1484.5" x2="776.6" y2="1921.2" stroke="#111" stroke-width="1.5"/>
<line x1="622" y1="1678.6" x2="934.2" y2="1678.6" stroke="#111" stroke-width="1.8"/>
<line x1="622" y1="1484.5" x2="622" y2="1921.2" stroke="#222" stroke-width="2"/>
<line x1="622" y1="1921.2" x2="934.2" y2="1921.2" stroke="#222" stroke-width="2"/>
<line x1="622" y1="1921.2" x2="622" y2="1916.2" stroke="#222" stroke-width="2"/>
<line x1="699.3" y1="1921.2" x2="699.3" y2="1916.2" stroke="#222" stroke-width="2"/>
<line x1="776.6" y1="1921.2" x2="776.6" y2="1916.2" stroke="#222" stroke-width="2"/>
<line x1="853.9" y1="1921.2" x2="853.9" y2="1916.2" stroke="#222" stroke-width="2"/>
<line x1="931.2" y1="1921.2" x2="931.2" y2="1916.2" stroke="#222" stroke-width="2"/>
<line x1="622" y1="1921.2" x2="627" y2="1921.2" stroke="#222" stroke-width="2"/>
<line x1="622" y1="1872.7" x2="627" y2="1872.7" stroke="#222" stroke-width="2"/>
<line x1="622" y1="1824.2" x2="627" y2="1824.2" stroke="#222" stroke-width="2"/>
<line x1="622" y1="1775.6" x2="627" y2="1775.6" stroke="#222" stroke-width="2"/>
<line x1="622" y1="1727.1" x2="627" y2="1727.1" stroke="#222" stroke-width="2"/>
<line x1="622" y1="1678.6" x2="627" y2="1678.6" stroke="#222" stroke-width="2"/>
<line x1="622" y1="1630.1" x2="627" y2="1630.1" stroke="#222" stroke-width="2"/>
<line x1="622" y1="1581.5" x2="627" y2="1581.5" stroke="#222" stroke-width="2"/>
<line x1="622" y1="1533" x2="627" y2="1533" stroke="#222" stroke-width="2"/>
<line x1="622" y1="1484.5" x2="627" y2="1484.5" stroke="#222" stroke-width="2"/>
<text x="621" y="1944.2" font-size="20.5" text-anchor="middle" fill="#111" font-weight="normal" font-family="'Liberation Sans', Arial, sans-serif" textLength="40.6" lengthAdjust="spacingAndGlyphs">-0.4</text>
<text x="698.3" y="1944.2" font-size="20.5" text-anchor="middle" fill="#111" font-weight="normal" font-family="'Liberation Sans', Arial, sans-serif" textLength="40.6" lengthAdjust="spacingAndGlyphs">-0.2</text>
<text x="775.6" y="1944.2" font-size="20.5" text-anchor="middle" fill="#111" font-weight="normal" font-family="'Liberation Sans', Arial, sans-serif" textLength="13.1" lengthAdjust="spacingAndGlyphs">0</text>
<text x="852.9" y="1944.2" font-size="20.5" text-anchor="middle" fill="#111" font-weight="normal" font-family="'Liberation Sans', Arial, sans-serif" textLength="32.8" lengthAdjust="spacingAndGlyphs">0.2</text>
<text x="615" y="1928.7" font-size="20.5" text-anchor="end" fill="#111" font-weight="normal" font-family="'Liberation Sans', Arial, sans-serif" textLength="53.7" lengthAdjust="spacingAndGlyphs">-0.25</text>
<text x="615" y="1880.2" font-size="20.5" text-anchor="end" fill="#111" font-weight="normal" font-family="'Liberation Sans', Arial, sans-serif" textLength="40.6" lengthAdjust="spacingAndGlyphs">-0.2</text>
<text x="615" y="1831.7" font-size="20.5" text-anchor="end" fill="#111" font-weight="normal" font-family="'Liberation Sans', Arial, sans-serif" textLength="53.7" lengthAdjust="spacingAndGlyphs">-0.15</text>
<text x="615" y="1783.1" font-size="20.5" text-anchor="end" fill="#111" font-weight="normal" font-family="'Liberation Sans', Arial, sans-serif" textLength="40.6" lengthAdjust="spacingAndGlyphs">-0.1</text>
<text x="615" y="1734.6" font-size="20.5" text-anchor="end" fill="#111" font-weight="normal" font-family="'Liberation Sans', Arial, sans-serif" textLength="53.7" lengthAdjust="spacingAndGlyphs">-0.05</text>
<text x="615" y="1686.1" font-size="20.5" text-anchor="end" fill="#111" font-weight="normal" font-family="'Liberation Sans', Arial, sans-serif" textLength="13.1" lengthAdjust="spacingAndGlyphs">0</text>
<text x="615" y="1637.6" font-size="20.5" text-anchor="end" fill="#111" font-weight="normal" font-family="'Liberation Sans', Arial, sans-serif" textLength="45.9" lengthAdjust="spacingAndGlyphs">0.05</text>
<text x="615" y="1589" font-size="20.5" text-anchor="end" fill="#111" font-weight="normal" font-family="'Liberation Sans', Arial, sans-serif" textLength="32.8" lengthAdjust="spacingAndGlyphs">0.1</text>
<text x="615" y="1540.5" font-size="20.5" text-anchor="end" fill="#111" font-weight="normal" font-family="'Liberation Sans', Arial, sans-serif" textLength="45.9" lengthAdjust="spacingAndGlyphs">0.15</text>
<text x="615" y="1492" font-size="20.5" text-anchor="end" fill="#111" font-weight="normal" font-family="'Liberation Sans', Arial, sans-serif" textLength="32.8" lengthAdjust="spacingAndGlyphs">0.2</text>
<text x="771.6" y="1968.8" font-size="19.6" text-anchor="middle" fill="#111" font-weight="normal" font-family="'Liberation Sans', Arial, sans-serif" textLength="62.7" lengthAdjust="spacingAndGlyphs">Load1</text>
<text x="539.8" y="1704.6" font-size="26.5" text-anchor="middle" fill="#111" font-weight="normal" font-family="'Liberation Sans', Arial, sans-serif" textLength="50" lengthAdjust="spacingAndGlyphs" transform="rotate(-90 539.8 1704.6)">Load2</text>
<ellipse cx="755.4" cy="1524.2" rx="4.6" ry="3.5" fill="#000000"/>
<ellipse cx="757.1" cy="1530.6" rx="4.6" ry="3.5" fill="#000000"/>
<ellipse cx="758.9" cy="1548.6" rx="4.6" ry="3.5" fill="#000000"/>
<ellipse cx="761.8" cy="1550.4" rx="4.6" ry="3.5" fill="#000000"/>
<ellipse cx="765.3" cy="1573.1" rx="4.6" ry="3.5" fill="#000000"/>
<ellipse cx="747.8" cy="1594.6" rx="4.6" ry="3.5" fill="#000000"/>
<ellipse cx="772.3" cy="1590" rx="4.6" ry="3.5" fill="#000000"/>
<ellipse cx="756.6" cy="1599.8" rx="4.6" ry="3.5" fill="#000000"/>
<ellipse cx="768.2" cy="1597.5" rx="4.6" ry="3.5" fill="#000000"/>
<ellipse cx="776.3" cy="1605.7" rx="4.6" ry="3.5" fill="#000000"/>
<ellipse cx="777.5" cy="1619.6" rx="4.6" ry="3.5" fill="#000000"/>
<ellipse cx="758.9" cy="1616.1" rx="4.6" ry="3.5" fill="#000000"/>
<ellipse cx="764.7" cy="1624.3" rx="4.6" ry="3.5" fill="#000000"/>
<ellipse cx="762.4" cy="1619.6" rx="4.6" ry="3.5" fill="#000000"/>
<ellipse cx="771.7" cy="1617.3" rx="4.6" ry="3.5" fill="#000000"/>
<ellipse cx="769.4" cy="1608" rx="4.6" ry="3.5" fill="#000000"/>
<ellipse cx="761.2" cy="1605.7" rx="4.6" ry="3.5" fill="#000000"/>
<ellipse cx="765" cy="1602" rx="4.6" ry="3.5" fill="#000000"/>
<ellipse cx="773" cy="1610" rx="4.6" ry="3.5" fill="#000000"/>
<ellipse cx="766" cy="1612" rx="4.6" ry="3.5" fill="#000000"/>
<ellipse cx="760" cy="1610" rx="4.6" ry="3.5" fill="#000000"/>
<ellipse cx="775" cy="1598" rx="4.6" ry="3.5" fill="#000000"/>
<ellipse cx="770" cy="1622" rx="4.6" ry="3.5" fill="#000000"/>
<ellipse cx="763" cy="1628" rx="4.6" ry="3.5" fill="#000000"/>
<ellipse cx="744.9" cy="1608" rx="4.6" ry="3.5" fill="#000000"/>
<ellipse cx="744.9" cy="1633.6" rx="4.6" ry="3.5" fill="#000000"/>
<ellipse cx="703" cy="1641.7" rx="4.6" ry="3.5" fill="#000000"/>
<ellipse cx="710" cy="1646.4" rx="4.6" ry="3.5" fill="#000000"/>
<ellipse cx="697.2" cy="1652.2" rx="4.6" ry="3.5" fill="#000000"/>
<ellipse cx="722.2" cy="1667.9" rx="4.6" ry="3.5" fill="#000000"/>
<ellipse cx="748.4" cy="1667.9" rx="4.6" ry="3.5" fill="#000000"/>
<ellipse cx="699.6" cy="1673.7" rx="4.6" ry="3.5" fill="#000000"/>
<ellipse cx="804.3" cy="1672" rx="4.6" ry="3.5" fill="#000000"/>
<ellipse cx="800" cy="1684.2" rx="4.6" ry="3.5" fill="#000000"/>
<ellipse cx="800" cy="1691.6" rx="4.6" ry="3.5" fill="#000000"/>
<ellipse cx="813.8" cy="1689.5" rx="4.6" ry="3.5" fill="#000000"/>
<ellipse cx="812.2" cy="1694.3" rx="4.6" ry="3.5" fill="#000000"/>
<ellipse cx="827" cy="1695.3" rx="4.6" ry="3.5" fill="#000000"/>
<ellipse cx="825.4" cy="1699" rx="4.6" ry="3.5" fill="#000000"/>
<ellipse cx="840.2" cy="1700.1" rx="4.6" ry="3.5" fill="#000000"/>
<ellipse cx="838.6" cy="1704.9" rx="4.6" ry="3.5" fill="#000000"/>
<ellipse cx="850.8" cy="1707" rx="4.6" ry="3.5" fill="#000000"/>
<ellipse cx="857.7" cy="1709.1" rx="4.6" ry="3.5" fill="#000000"/>
<ellipse cx="854" cy="1708" rx="4.6" ry="3.5" fill="#000000"/>
<ellipse cx="704.9" cy="1701.7" rx="4.6" ry="3.5" fill="#000000"/>
<ellipse cx="732.9" cy="1704.9" rx="4.6" ry="3.5" fill="#000000"/>
<ellipse cx="749.8" cy="1709.1" rx="4.6" ry="3.5" fill="#000000"/>
<ellipse cx="716" cy="1732.9" rx="4.6" ry="3.5" fill="#000000"/>
<ellipse cx="742.4" cy="1747.2" rx="4.6" ry="3.5" fill="#000000"/>
<ellipse cx="754" cy="1751.4" rx="4.6" ry="3.5" fill="#000000"/>
<ellipse cx="767.3" cy="1749.8" rx="4.6" ry="3.5" fill="#000000"/>
<ellipse cx="725.5" cy="1763.6" rx="4.6" ry="3.5" fill="#000000"/>
<ellipse cx="761.4" cy="1776.2" rx="4.6" ry="3.5" fill="#000000"/>
<ellipse cx="734.5" cy="1792.6" rx="4.6" ry="3.5" fill="#000000"/>
<ellipse cx="749.8" cy="1787.9" rx="4.6" ry="3.5" fill="#000000"/>
<ellipse cx="755.6" cy="1789.5" rx="4.6" ry="3.5" fill="#000000"/>
<ellipse cx="754" cy="1805.9" rx="4.6" ry="3.5" fill="#000000"/>
<ellipse cx="742.4" cy="1820.7" rx="4.6" ry="3.5" fill="#000000"/>
<ellipse cx="754" cy="1820.7" rx="4.6" ry="3.5" fill="#000000"/>
<ellipse cx="758.3" cy="1820.7" rx="4.6" ry="3.5" fill="#000000"/>
<ellipse cx="748.2" cy="1833.4" rx="4.6" ry="3.5" fill="#000000"/>
<ellipse cx="757.2" cy="1836" rx="4.6" ry="3.5" fill="#000000"/>
<ellipse cx="744.7" cy="1845" rx="4.6" ry="3.5" fill="#000000"/>
<ellipse cx="744.7" cy="1856.6" rx="4.6" ry="3.5" fill="#000000"/>
<ellipse cx="744" cy="1864" rx="4.6" ry="3.5" fill="#000000"/>
<ellipse cx="742.4" cy="1870.4" rx="4.6" ry="3.5" fill="#000000"/>
<ellipse cx="742.4" cy="1874.6" rx="4.6" ry="3.5" fill="#000000"/>
<ellipse cx="744" cy="1861" rx="4.6" ry="3.5" fill="#000000"/>
<ellipse cx="757" cy="1597" rx="4.6" ry="3.5" fill="#000000"/>
<ellipse cx="762" cy="1596" rx="4.6" ry="3.5" fill="#000000"/>
<ellipse cx="767" cy="1599" rx="4.6" ry="3.5" fill="#000000"/>
<ellipse cx="772" cy="1601" rx="4.6" ry="3.5" fill="#000000"/>
<ellipse cx="777" cy="1603" rx="4.6" ry="3.5" fill="#000000"/>
<ellipse cx="779" cy="1608" rx="4.6" ry="3.5" fill="#000000"/>
<ellipse cx="779" cy="1613" rx="4.6" ry="3.5" fill="#000000"/>
<ellipse cx="776" cy="1617" rx="4.6" ry="3.5" fill="#000000"/>
<ellipse cx="772" cy="1620" rx="4.6" ry="3.5" fill="#000000"/>
<ellipse cx="768" cy="1624" rx="4.6" ry="3.5" fill="#000000"/>
<ellipse cx="764" cy="1627" rx="4.6" ry="3.5" fill="#000000"/>
<ellipse cx="760" cy="1625" rx="4.6" ry="3.5" fill="#000000"/>
<ellipse cx="757" cy="1620" rx="4.6" ry="3.5" fill="#000000"/>
<ellipse cx="756" cy="1614" rx="4.6" ry="3.5" fill="#000000"/>
<ellipse cx="758" cy="1609" rx="4.6" ry="3.5" fill="#000000"/>
<ellipse cx="763" cy="1604" rx="4.6" ry="3.5" fill="#000000"/>
<ellipse cx="773" cy="1611" rx="4.6" ry="3.5" fill="#000000"/>
<ellipse cx="762" cy="1615" rx="4.6" ry="3.5" fill="#000000"/>
<ellipse cx="765" cy="1621" rx="4.6" ry="3.5" fill="#000000"/>
<ellipse cx="775" cy="1596" rx="4.6" ry="3.5" fill="#000000"/>
<ellipse cx="778" cy="1620" rx="4.6" ry="3.5" fill="#000000"/>
<rect x="1076.5" y="1485" width="323.7" height="436.2" fill="#ffffff" stroke="none" stroke-width="1"/>
<line x1="1157.4" y1="1485" x2="1157.4" y2="1921.2" stroke="#3a3a3a" stroke-width="1.8" stroke-dasharray="1.8 7.7" stroke-linecap="butt"/>
<line x1="1238.3" y1="1485" x2="1238.3" y2="1921.2" stroke="#3a3a3a" stroke-width="1.8" stroke-dasharray="1.8 7.7" stroke-linecap="butt"/>
<line x1="1319.3" y1="1485" x2="1319.3" y2="1921.2" stroke="#3a3a3a" stroke-width="1.8" stroke-dasharray="1.8 7.7" stroke-linecap="butt"/>
<line x1="1400.2" y1="1485" x2="1400.2" y2="1921.2" stroke="#3a3a3a" stroke-width="1.8" stroke-dasharray="1.8 7.7" stroke-linecap="butt"/>
<line x1="1076.5" y1="1858.9" x2="1400.2" y2="1858.9" stroke="#3a3a3a" stroke-width="1.8" stroke-dasharray="1.8 7.7" stroke-linecap="butt"/>
<line x1="1076.5" y1="1796.6" x2="1400.2" y2="1796.6" stroke="#3a3a3a" stroke-width="1.8" stroke-dasharray="1.8 7.7" stroke-linecap="butt"/>
<line x1="1076.5" y1="1734.3" x2="1400.2" y2="1734.3" stroke="#3a3a3a" stroke-width="1.8" stroke-dasharray="1.8 7.7" stroke-linecap="butt"/>
<line x1="1076.5" y1="1671.9" x2="1400.2" y2="1671.9" stroke="#3a3a3a" stroke-width="1.8" stroke-dasharray="1.8 7.7" stroke-linecap="butt"/>
<line x1="1076.5" y1="1609.6" x2="1400.2" y2="1609.6" stroke="#3a3a3a" stroke-width="1.8" stroke-dasharray="1.8 7.7" stroke-linecap="butt"/>
<line x1="1076.5" y1="1547.3" x2="1400.2" y2="1547.3" stroke="#3a3a3a" stroke-width="1.8" stroke-dasharray="1.8 7.7" stroke-linecap="butt"/>
<line x1="1076.5" y1="1485" x2="1400.2" y2="1485" stroke="#3a3a3a" stroke-width="1.8" stroke-dasharray="1.8 7.7" stroke-linecap="butt"/>
<line x1="1238.3" y1="1485" x2="1238.3" y2="1921.2" stroke="#111" stroke-width="1.5"/>
<line x1="1076.5" y1="1796.6" x2="1400.2" y2="1796.6" stroke="#111" stroke-width="1.8"/>
<line x1="1076.5" y1="1485" x2="1076.5" y2="1921.2" stroke="#222" stroke-width="2"/>
<line x1="1076.5" y1="1921.2" x2="1400.2" y2="1921.2" stroke="#222" stroke-width="2"/>
<line x1="1076.5" y1="1921.2" x2="1076.5" y2="1916.2" stroke="#222" stroke-width="2"/>
<line x1="1157.4" y1="1921.2" x2="1157.4" y2="1916.2" stroke="#222" stroke-width="2"/>
<line x1="1238.3" y1="1921.2" x2="1238.3" y2="1916.2" stroke="#222" stroke-width="2"/>
<line x1="1319.3" y1="1921.2" x2="1319.3" y2="1916.2" stroke="#222" stroke-width="2"/>
<line x1="1400.2" y1="1921.2" x2="1400.2" y2="1916.2" stroke="#222" stroke-width="2"/>
<line x1="1076.5" y1="1921.2" x2="1081.5" y2="1921.2" stroke="#222" stroke-width="2"/>
<line x1="1076.5" y1="1858.9" x2="1081.5" y2="1858.9" stroke="#222" stroke-width="2"/>
<line x1="1076.5" y1="1796.6" x2="1081.5" y2="1796.6" stroke="#222" stroke-width="2"/>
<line x1="1076.5" y1="1734.3" x2="1081.5" y2="1734.3" stroke="#222" stroke-width="2"/>
<line x1="1076.5" y1="1671.9" x2="1081.5" y2="1671.9" stroke="#222" stroke-width="2"/>
<line x1="1076.5" y1="1609.6" x2="1081.5" y2="1609.6" stroke="#222" stroke-width="2"/>
<line x1="1076.5" y1="1547.3" x2="1081.5" y2="1547.3" stroke="#222" stroke-width="2"/>
<line x1="1076.5" y1="1485" x2="1081.5" y2="1485" stroke="#222" stroke-width="2"/>
<text x="1075.5" y="1944.2" font-size="20.5" text-anchor="middle" fill="#111" font-weight="normal" font-family="'Liberation Sans', Arial, sans-serif" textLength="40.6" lengthAdjust="spacingAndGlyphs">-0.4</text>
<text x="1156.4" y="1944.2" font-size="20.5" text-anchor="middle" fill="#111" font-weight="normal" font-family="'Liberation Sans', Arial, sans-serif" textLength="40.6" lengthAdjust="spacingAndGlyphs">-0.2</text>
<text x="1237.3" y="1944.2" font-size="20.5" text-anchor="middle" fill="#111" font-weight="normal" font-family="'Liberation Sans', Arial, sans-serif" textLength="13.1" lengthAdjust="spacingAndGlyphs">0</text>
<text x="1318.3" y="1944.2" font-size="20.5" text-anchor="middle" fill="#111" font-weight="normal" font-family="'Liberation Sans', Arial, sans-serif" textLength="32.8" lengthAdjust="spacingAndGlyphs">0.2</text>
<text x="1399.2" y="1944.2" font-size="20.5" text-anchor="middle" fill="#111" font-weight="normal" font-family="'Liberation Sans', Arial, sans-serif" textLength="32.8" lengthAdjust="spacingAndGlyphs">0.4</text>
<text x="1069.5" y="1928.7" font-size="20.5" text-anchor="end" fill="#111" font-weight="normal" font-family="'Liberation Sans', Arial, sans-serif" textLength="40.6" lengthAdjust="spacingAndGlyphs">-0.2</text>
<text x="1069.5" y="1866.4" font-size="20.5" text-anchor="end" fill="#111" font-weight="normal" font-family="'Liberation Sans', Arial, sans-serif" textLength="40.6" lengthAdjust="spacingAndGlyphs">-0.1</text>
<text x="1069.5" y="1804.1" font-size="20.5" text-anchor="end" fill="#111" font-weight="normal" font-family="'Liberation Sans', Arial, sans-serif" textLength="13.1" lengthAdjust="spacingAndGlyphs">0</text>
<text x="1069.5" y="1741.8" font-size="20.5" text-anchor="end" fill="#111" font-weight="normal" font-family="'Liberation Sans', Arial, sans-serif" textLength="32.8" lengthAdjust="spacingAndGlyphs">0.1</text>
<text x="1069.5" y="1679.4" font-size="20.5" text-anchor="end" fill="#111" font-weight="normal" font-family="'Liberation Sans', Arial, sans-serif" textLength="32.8" lengthAdjust="spacingAndGlyphs">0.2</text>
<text x="1069.5" y="1617.1" font-size="20.5" text-anchor="end" fill="#111" font-weight="normal" font-family="'Liberation Sans', Arial, sans-serif" textLength="32.8" lengthAdjust="spacingAndGlyphs">0.3</text>
<text x="1069.5" y="1554.8" font-size="20.5" text-anchor="end" fill="#111" font-weight="normal" font-family="'Liberation Sans', Arial, sans-serif" textLength="32.8" lengthAdjust="spacingAndGlyphs">0.4</text>
<text x="1069.5" y="1492.5" font-size="20.5" text-anchor="end" fill="#111" font-weight="normal" font-family="'Liberation Sans', Arial, sans-serif" textLength="32.8" lengthAdjust="spacingAndGlyphs">0.5</text>
<text x="1231.8" y="1968.8" font-size="19.6" text-anchor="middle" fill="#111" font-weight="normal" font-family="'Liberation Sans', Arial, sans-serif" textLength="62.7" lengthAdjust="spacingAndGlyphs">Load1</text>
<text x="1007.5" y="1704.9" font-size="26.5" text-anchor="middle" fill="#111" font-weight="normal" font-family="'Liberation Sans', Arial, sans-serif" textLength="50" lengthAdjust="spacingAndGlyphs" transform="rotate(-90 1007.5 1704.9)">Load3</text>
<ellipse cx="1215.2" cy="1600" rx="4.6" ry="3.5" fill="#000000"/>
<ellipse cx="1219.2" cy="1600" rx="4.6" ry="3.5" fill="#000000"/>
<ellipse cx="1209.9" cy="1616.4" rx="4.6" ry="3.5" fill="#000000"/>
<ellipse cx="1219.2" cy="1615.9" rx="4.6" ry="3.5" fill="#000000"/>
<ellipse cx="1203.3" cy="1645" rx="4.6" ry="3.5" fill="#000000"/>
<ellipse cx="1219.2" cy="1642.3" rx="4.6" ry="3.5" fill="#000000"/>
<ellipse cx="1193.5" cy="1678" rx="4.6" ry="3.5" fill="#000000"/>
<ellipse cx="1216.5" cy="1673.5" rx="4.6" ry="3.5" fill="#000000"/>
<ellipse cx="1182.2" cy="1712.4" rx="4.6" ry="3.5" fill="#000000"/>
<ellipse cx="1213.9" cy="1704.5" rx="4.6" ry="3.5" fill="#000000"/>
<ellipse cx="1209.9" cy="1728.2" rx="4.6" ry="3.5" fill="#000000"/>
<ellipse cx="1169" cy="1742.2" rx="4.6" ry="3.5" fill="#000000"/>
<ellipse cx="1206" cy="1744.1" rx="4.6" ry="3.5" fill="#000000"/>
<ellipse cx="1204.1" cy="1750.7" rx="4.6" ry="3.5" fill="#000000"/>
<ellipse cx="1207.3" cy="1757.3" rx="4.6" ry="3.5" fill="#000000"/>
<ellipse cx="1213.9" cy="1762.6" rx="4.6" ry="3.5" fill="#000000"/>
<ellipse cx="1221" cy="1770.5" rx="4.6" ry="3.5" fill="#000000"/>
<ellipse cx="1225.8" cy="1775.8" rx="4.6" ry="3.5" fill="#000000"/>
<ellipse cx="1159.7" cy="1767.3" rx="4.6" ry="3.5" fill="#000000"/>
<ellipse cx="1155" cy="1787.7" rx="4.6" ry="3.5" fill="#000000"/>
<ellipse cx="1157.6" cy="1804.3" rx="4.6" ry="3.5" fill="#000000"/>
<ellipse cx="1162.9" cy="1818.9" rx="4.6" ry="3.5" fill="#000000"/>
<ellipse cx="1174.2" cy="1834.5" rx="4.6" ry="3.5" fill="#000000"/>
<ellipse cx="1220.5" cy="1804.9" rx="4.6" ry="3.5" fill="#000000"/>
<ellipse cx="1221.8" cy="1814.1" rx="4.6" ry="3.5" fill="#000000"/>
<ellipse cx="1223.1" cy="1819.4" rx="4.6" ry="3.5" fill="#000000"/>
<ellipse cx="1220.5" cy="1820.7" rx="4.6" ry="3.5" fill="#000000"/>
<ellipse cx="1231.1" cy="1829.5" rx="4.6" ry="3.5" fill="#000000"/>
<ellipse cx="1213.9" cy="1839.2" rx="4.6" ry="3.5" fill="#000000"/>
<ellipse cx="1220.5" cy="1843.2" rx="4.6" ry="3.5" fill="#000000"/>
<ellipse cx="1216.5" cy="1847.2" rx="4.6" ry="3.5" fill="#000000"/>
<ellipse cx="1221.8" cy="1839.2" rx="4.6" ry="3.5" fill="#000000"/>
<ellipse cx="1224.5" cy="1837.9" rx="4.6" ry="3.5" fill="#000000"/>
<ellipse cx="1218" cy="1830" rx="4.6" ry="3.5" fill="#000000"/>
<ellipse cx="1185.6" cy="1854.3" rx="4.6" ry="3.5" fill="#000000"/>
<ellipse cx="1207.8" cy="1863" rx="4.6" ry="3.5" fill="#000000"/>
<ellipse cx="1195.4" cy="1874.4" rx="4.6" ry="3.5" fill="#000000"/>
<ellipse cx="1204.6" cy="1887.3" rx="4.6" ry="3.5" fill="#000000"/>
<ellipse cx="1199.3" cy="1893.4" rx="4.6" ry="3.5" fill="#000000"/>
<ellipse cx="1203.3" cy="1906.6" rx="4.6" ry="3.5" fill="#000000"/>
<ellipse cx="1204.6" cy="1910.6" rx="4.6" ry="3.5" fill="#000000"/>
<ellipse cx="1203.3" cy="1919.8" rx="4.6" ry="3.5" fill="#000000"/>
<ellipse cx="1254.8" cy="1794.3" rx="4.6" ry="3.5" fill="#000000"/>
<ellipse cx="1257.5" cy="1791.7" rx="4.6" ry="3.5" fill="#000000"/>
<ellipse cx="1260.1" cy="1790.3" rx="4.6" ry="3.5" fill="#000000"/>
<ellipse cx="1264.1" cy="1790.3" rx="4.6" ry="3.5" fill="#000000"/>
<ellipse cx="1268" cy="1790.3" rx="4.6" ry="3.5" fill="#000000"/>
<ellipse cx="1273.3" cy="1793.8" rx="4.6" ry="3.5" fill="#000000"/>
<ellipse cx="1277.3" cy="1791.1" rx="4.6" ry="3.5" fill="#000000"/>
<ellipse cx="1287.9" cy="1791.7" rx="4.6" ry="3.5" fill="#000000"/>
<ellipse cx="1301.1" cy="1791.7" rx="4.6" ry="3.5" fill="#000000"/>
<ellipse cx="1303.7" cy="1789" rx="4.6" ry="3.5" fill="#000000"/>
<ellipse cx="1314.3" cy="1788.5" rx="4.6" ry="3.5" fill="#000000"/>
<ellipse cx="1320.9" cy="1787.7" rx="4.6" ry="3.5" fill="#000000"/>
<ellipse cx="1256.2" cy="1798.3" rx="4.6" ry="3.5" fill="#000000"/>
<ellipse cx="1257.5" cy="1797" rx="4.6" ry="3.5" fill="#000000"/>
<ellipse cx="1262" cy="1795" rx="4.6" ry="3.5" fill="#000000"/>
<ellipse cx="1255" cy="1791" rx="4.6" ry="3.5" fill="#000000"/>
<ellipse cx="1259" cy="1793" rx="4.6" ry="3.5" fill="#000000"/>
<ellipse cx="1263" cy="1792" rx="4.6" ry="3.5" fill="#000000"/>
<ellipse cx="1266" cy="1794" rx="4.6" ry="3.5" fill="#000000"/>
<ellipse cx="1270" cy="1792" rx="4.6" ry="3.5" fill="#000000"/>
<ellipse cx="1257" cy="1795" rx="4.6" ry="3.5" fill="#000000"/>
<ellipse cx="1261" cy="1796" rx="4.6" ry="3.5" fill="#000000"/>
<ellipse cx="1254" cy="1797" rx="4.6" ry="3.5" fill="#000000"/>
<ellipse cx="1266" cy="1790" rx="4.6" ry="3.5" fill="#000000"/>
<ellipse cx="1282" cy="1792" rx="4.6" ry="3.5" fill="#000000"/>
<ellipse cx="1295" cy="1791" rx="4.6" ry="3.5" fill="#000000"/>
<ellipse cx="1309" cy="1789" rx="4.6" ry="3.5" fill="#000000"/>
<rect x="1543.8" y="1485" width="324.5" height="436.2" fill="#ffffff" stroke="none" stroke-width="1"/>
<line x1="1624.9" y1="1485" x2="1624.9" y2="1921.2" stroke="#3a3a3a" stroke-width="1.8" stroke-dasharray="1.8 7.7" stroke-linecap="butt"/>
<line x1="1706" y1="1485" x2="1706" y2="1921.2" stroke="#3a3a3a" stroke-width="1.8" stroke-dasharray="1.8 7.7" stroke-linecap="butt"/>
<line x1="1787.2" y1="1485" x2="1787.2" y2="1921.2" stroke="#3a3a3a" stroke-width="1.8" stroke-dasharray="1.8 7.7" stroke-linecap="butt"/>
<line x1="1868.3" y1="1485" x2="1868.3" y2="1921.2" stroke="#3a3a3a" stroke-width="1.8" stroke-dasharray="1.8 7.7" stroke-linecap="butt"/>
<line x1="1543.8" y1="1858.9" x2="1868.3" y2="1858.9" stroke="#3a3a3a" stroke-width="1.8" stroke-dasharray="1.8 7.7" stroke-linecap="butt"/>
<line x1="1543.8" y1="1796.6" x2="1868.3" y2="1796.6" stroke="#3a3a3a" stroke-width="1.8" stroke-dasharray="1.8 7.7" stroke-linecap="butt"/>
<line x1="1543.8" y1="1734.3" x2="1868.3" y2="1734.3" stroke="#3a3a3a" stroke-width="1.8" stroke-dasharray="1.8 7.7" stroke-linecap="butt"/>
<line x1="1543.8" y1="1671.9" x2="1868.3" y2="1671.9" stroke="#3a3a3a" stroke-width="1.8" stroke-dasharray="1.8 7.7" stroke-linecap="butt"/>
<line x1="1543.8" y1="1609.6" x2="1868.3" y2="1609.6" stroke="#3a3a3a" stroke-width="1.8" stroke-dasharray="1.8 7.7" stroke-linecap="butt"/>
<line x1="1543.8" y1="1547.3" x2="1868.3" y2="1547.3" stroke="#3a3a3a" stroke-width="1.8" stroke-dasharray="1.8 7.7" stroke-linecap="butt"/>
<line x1="1543.8" y1="1485" x2="1868.3" y2="1485" stroke="#3a3a3a" stroke-width="1.8" stroke-dasharray="1.8 7.7" stroke-linecap="butt"/>
<line x1="1706" y1="1485" x2="1706" y2="1921.2" stroke="#111" stroke-width="1.5"/>
<line x1="1543.8" y1="1796.6" x2="1868.3" y2="1796.6" stroke="#111" stroke-width="1.8"/>
<line x1="1543.8" y1="1485" x2="1543.8" y2="1921.2" stroke="#222" stroke-width="2"/>
<line x1="1543.8" y1="1921.2" x2="1868.3" y2="1921.2" stroke="#222" stroke-width="2"/>
<line x1="1543.8" y1="1921.2" x2="1543.8" y2="1916.2" stroke="#222" stroke-width="2"/>
<line x1="1624.9" y1="1921.2" x2="1624.9" y2="1916.2" stroke="#222" stroke-width="2"/>
<line x1="1706" y1="1921.2" x2="1706" y2="1916.2" stroke="#222" stroke-width="2"/>
<line x1="1787.2" y1="1921.2" x2="1787.2" y2="1916.2" stroke="#222" stroke-width="2"/>
<line x1="1868.3" y1="1921.2" x2="1868.3" y2="1916.2" stroke="#222" stroke-width="2"/>
<line x1="1543.8" y1="1921.2" x2="1548.8" y2="1921.2" stroke="#222" stroke-width="2"/>
<line x1="1543.8" y1="1858.9" x2="1548.8" y2="1858.9" stroke="#222" stroke-width="2"/>
<line x1="1543.8" y1="1796.6" x2="1548.8" y2="1796.6" stroke="#222" stroke-width="2"/>
<line x1="1543.8" y1="1734.3" x2="1548.8" y2="1734.3" stroke="#222" stroke-width="2"/>
<line x1="1543.8" y1="1671.9" x2="1548.8" y2="1671.9" stroke="#222" stroke-width="2"/>
<line x1="1543.8" y1="1609.6" x2="1548.8" y2="1609.6" stroke="#222" stroke-width="2"/>
<line x1="1543.8" y1="1547.3" x2="1548.8" y2="1547.3" stroke="#222" stroke-width="2"/>
<line x1="1543.8" y1="1485" x2="1548.8" y2="1485" stroke="#222" stroke-width="2"/>
<text x="1542.8" y="1944.2" font-size="20.5" text-anchor="middle" fill="#111" font-weight="normal" font-family="'Liberation Sans', Arial, sans-serif" textLength="40.6" lengthAdjust="spacingAndGlyphs">-0.4</text>
<text x="1623.9" y="1944.2" font-size="20.5" text-anchor="middle" fill="#111" font-weight="normal" font-family="'Liberation Sans', Arial, sans-serif" textLength="40.6" lengthAdjust="spacingAndGlyphs">-0.2</text>
<text x="1705" y="1944.2" font-size="20.5" text-anchor="middle" fill="#111" font-weight="normal" font-family="'Liberation Sans', Arial, sans-serif" textLength="13.1" lengthAdjust="spacingAndGlyphs">0</text>
<text x="1786.2" y="1944.2" font-size="20.5" text-anchor="middle" fill="#111" font-weight="normal" font-family="'Liberation Sans', Arial, sans-serif" textLength="32.8" lengthAdjust="spacingAndGlyphs">0.2</text>
<text x="1867.3" y="1944.2" font-size="20.5" text-anchor="middle" fill="#111" font-weight="normal" font-family="'Liberation Sans', Arial, sans-serif" textLength="32.8" lengthAdjust="spacingAndGlyphs">0.4</text>
<text x="1536.8" y="1928.7" font-size="20.5" text-anchor="end" fill="#111" font-weight="normal" font-family="'Liberation Sans', Arial, sans-serif" textLength="40.6" lengthAdjust="spacingAndGlyphs">-0.2</text>
<text x="1536.8" y="1866.4" font-size="20.5" text-anchor="end" fill="#111" font-weight="normal" font-family="'Liberation Sans', Arial, sans-serif" textLength="40.6" lengthAdjust="spacingAndGlyphs">-0.1</text>
<text x="1536.8" y="1804.1" font-size="20.5" text-anchor="end" fill="#111" font-weight="normal" font-family="'Liberation Sans', Arial, sans-serif" textLength="13.1" lengthAdjust="spacingAndGlyphs">0</text>
<text x="1536.8" y="1741.8" font-size="20.5" text-anchor="end" fill="#111" font-weight="normal" font-family="'Liberation Sans', Arial, sans-serif" textLength="32.8" lengthAdjust="spacingAndGlyphs">0.1</text>
<text x="1536.8" y="1679.4" font-size="20.5" text-anchor="end" fill="#111" font-weight="normal" font-family="'Liberation Sans', Arial, sans-serif" textLength="32.8" lengthAdjust="spacingAndGlyphs">0.2</text>
<text x="1536.8" y="1617.1" font-size="20.5" text-anchor="end" fill="#111" font-weight="normal" font-family="'Liberation Sans', Arial, sans-serif" textLength="32.8" lengthAdjust="spacingAndGlyphs">0.3</text>
<text x="1536.8" y="1554.8" font-size="20.5" text-anchor="end" fill="#111" font-weight="normal" font-family="'Liberation Sans', Arial, sans-serif" textLength="32.8" lengthAdjust="spacingAndGlyphs">0.4</text>
<text x="1536.8" y="1492.5" font-size="20.5" text-anchor="end" fill="#111" font-weight="normal" font-family="'Liberation Sans', Arial, sans-serif" textLength="32.8" lengthAdjust="spacingAndGlyphs">0.5</text>
<text x="1701.8" y="1968.8" font-size="19.6" text-anchor="middle" fill="#111" font-weight="normal" font-family="'Liberation Sans', Arial, sans-serif" textLength="62.7" lengthAdjust="spacingAndGlyphs">Load2</text>
<text x="1476.2" y="1704.9" font-size="26.5" text-anchor="middle" fill="#111" font-weight="normal" font-family="'Liberation Sans', Arial, sans-serif" textLength="50" lengthAdjust="spacingAndGlyphs" transform="rotate(-90 1476.2 1704.9)">Load3</text>
<ellipse cx="1637.6" cy="1600.6" rx="4.6" ry="3.5" fill="#000000"/>
<ellipse cx="1646.1" cy="1600.6" rx="4.6" ry="3.5" fill="#000000"/>
<ellipse cx="1637.6" cy="1615.9" rx="4.6" ry="3.5" fill="#000000"/>
<ellipse cx="1658.2" cy="1616.7" rx="4.6" ry="3.5" fill="#000000"/>
<ellipse cx="1645.6" cy="1642.3" rx="4.6" ry="3.5" fill="#000000"/>
<ellipse cx="1675.2" cy="1645" rx="4.6" ry="3.5" fill="#000000"/>
<ellipse cx="1658.8" cy="1673.5" rx="4.6" ry="3.5" fill="#000000"/>
<ellipse cx="1694.5" cy="1678" rx="4.6" ry="3.5" fill="#000000"/>
<ellipse cx="1673.3" cy="1704.5" rx="4.6" ry="3.5" fill="#000000"/>
<ellipse cx="1709.8" cy="1711.9" rx="4.6" ry="3.5" fill="#000000"/>
<ellipse cx="1692.6" cy="1728.2" rx="4.6" ry="3.5" fill="#000000"/>
<ellipse cx="1709.8" cy="1744.1" rx="4.6" ry="3.5" fill="#000000"/>
<ellipse cx="1719" cy="1742.2" rx="4.6" ry="3.5" fill="#000000"/>
<ellipse cx="1722.2" cy="1751.5" rx="4.6" ry="3.5" fill="#000000"/>
<ellipse cx="1734.1" cy="1754.7" rx="4.6" ry="3.5" fill="#000000"/>
<ellipse cx="1739.4" cy="1756" rx="4.6" ry="3.5" fill="#000000"/>
<ellipse cx="1736.7" cy="1761.3" rx="4.6" ry="3.5" fill="#000000"/>
<ellipse cx="1720.9" cy="1767.1" rx="4.6" ry="3.5" fill="#000000"/>
<ellipse cx="1726.2" cy="1771.8" rx="4.6" ry="3.5" fill="#000000"/>
<ellipse cx="1728.8" cy="1781.1" rx="4.6" ry="3.5" fill="#000000"/>
<ellipse cx="1722.2" cy="1785" rx="4.6" ry="3.5" fill="#000000"/>
<ellipse cx="1730.1" cy="1785" rx="4.6" ry="3.5" fill="#000000"/>
<ellipse cx="1735.4" cy="1782.4" rx="4.6" ry="3.5" fill="#000000"/>
<ellipse cx="1740.7" cy="1781.1" rx="4.6" ry="3.5" fill="#000000"/>
<ellipse cx="1723.5" cy="1790.6" rx="4.6" ry="3.5" fill="#000000"/>
<ellipse cx="1727.5" cy="1793" rx="4.6" ry="3.5" fill="#000000"/>
<ellipse cx="1732.9" cy="1795.6" rx="4.6" ry="3.5" fill="#000000"/>
<ellipse cx="1735.4" cy="1800.9" rx="4.6" ry="3.5" fill="#000000"/>
<ellipse cx="1739.4" cy="1803.5" rx="4.6" ry="3.5" fill="#000000"/>
<ellipse cx="1722.2" cy="1806.2" rx="4.6" ry="3.5" fill="#000000"/>
<ellipse cx="1728.8" cy="1811.5" rx="4.6" ry="3.5" fill="#000000"/>
<ellipse cx="1723.5" cy="1814.1" rx="4.6" ry="3.5" fill="#000000"/>
<ellipse cx="1730.1" cy="1816.8" rx="4.6" ry="3.5" fill="#000000"/>
<ellipse cx="1739.4" cy="1818.1" rx="4.6" ry="3.5" fill="#000000"/>
<ellipse cx="1726.2" cy="1820.7" rx="4.6" ry="3.5" fill="#000000"/>
<ellipse cx="1735.4" cy="1830" rx="4.6" ry="3.5" fill="#000000"/>
<ellipse cx="1748.6" cy="1827.3" rx="4.6" ry="3.5" fill="#000000"/>
<ellipse cx="1748.6" cy="1838.4" rx="4.6" ry="3.5" fill="#000000"/>
<ellipse cx="1760.5" cy="1834.5" rx="4.6" ry="3.5" fill="#000000"/>
<ellipse cx="1757.9" cy="1844.5" rx="4.6" ry="3.5" fill="#000000"/>
<ellipse cx="1765.8" cy="1841.9" rx="4.6" ry="3.5" fill="#000000"/>
<ellipse cx="1768.5" cy="1847.2" rx="4.6" ry="3.5" fill="#000000"/>
<ellipse cx="1685.2" cy="1798.3" rx="4.6" ry="3.5" fill="#000000"/>
<ellipse cx="1675.4" cy="1805.7" rx="4.6" ry="3.5" fill="#000000"/>
<ellipse cx="1664.6" cy="1818.9" rx="4.6" ry="3.5" fill="#000000"/>
<ellipse cx="1694.5" cy="1818.9" rx="4.6" ry="3.5" fill="#000000"/>
<ellipse cx="1680.7" cy="1834.5" rx="4.6" ry="3.5" fill="#000000"/>
<ellipse cx="1651.4" cy="1839.2" rx="4.6" ry="3.5" fill="#000000"/>
<ellipse cx="1670.1" cy="1854.3" rx="4.6" ry="3.5" fill="#000000"/>
<ellipse cx="1639.7" cy="1863" rx="4.6" ry="3.5" fill="#000000"/>
<ellipse cx="1656.9" cy="1874.4" rx="4.6" ry="3.5" fill="#000000"/>
<ellipse cx="1630.2" cy="1887.3" rx="4.6" ry="3.5" fill="#000000"/>
<ellipse cx="1645.6" cy="1893.4" rx="4.6" ry="3.5" fill="#000000"/>
<ellipse cx="1624.9" cy="1907.1" rx="4.6" ry="3.5" fill="#000000"/>
<ellipse cx="1634.2" cy="1910.6" rx="4.6" ry="3.5" fill="#000000"/>
<ellipse cx="1624.4" cy="1919.8" rx="4.6" ry="3.5" fill="#000000"/>
<ellipse cx="1627.6" cy="1919.8" rx="4.6" ry="3.5" fill="#000000"/>
<ellipse cx="1720" cy="1773.6" rx="4.6" ry="3.5" fill="#000000"/>
<ellipse cx="1724.3" cy="1777.1" rx="4.6" ry="3.5" fill="#000000"/>
<ellipse cx="1730" cy="1771.4" rx="4.6" ry="3.5" fill="#000000"/>
<ellipse cx="1733.6" cy="1775.7" rx="4.6" ry="3.5" fill="#000000"/>
<ellipse cx="1737.1" cy="1780.7" rx="4.6" ry="3.5" fill="#000000"/>
<ellipse cx="1742.1" cy="1782.1" rx="4.6" ry="3.5" fill="#000000"/>
<ellipse cx="1720" cy="1780.7" rx="4.6" ry="3.5" fill="#000000"/>
<ellipse cx="1722.9" cy="1784.3" rx="4.6" ry="3.5" fill="#000000"/>
<ellipse cx="1726.4" cy="1787.9" rx="4.6" ry="3.5" fill="#000000"/>
<ellipse cx="1730" cy="1784.3" rx="4.6" ry="3.5" fill="#000000"/>
<ellipse cx="1734.3" cy="1786.4" rx="4.6" ry="3.5" fill="#000000"/>
<ellipse cx="1738.6" cy="1784.3" rx="4.6" ry="3.5" fill="#000000"/>
<ellipse cx="1722.9" cy="1791.4" rx="4.6" ry="3.5" fill="#000000"/>
<ellipse cx="1726.4" cy="1795" rx="4.6" ry="3.5" fill="#000000"/>
<ellipse cx="1730" cy="1795" rx="4.6" ry="3.5" fill="#000000"/>
<ellipse cx="1735.7" cy="1797.1" rx="4.6" ry="3.5" fill="#000000"/>
<ellipse cx="1739.3" cy="1800" rx="4.6" ry="3.5" fill="#000000"/>
<ellipse cx="1740.7" cy="1804.3" rx="4.6" ry="3.5" fill="#000000"/>
<ellipse cx="1737.1" cy="1807.1" rx="4.6" ry="3.5" fill="#000000"/>
<ellipse cx="1722.9" cy="1807.1" rx="4.6" ry="3.5" fill="#000000"/>
<ellipse cx="1726.4" cy="1811.4" rx="4.6" ry="3.5" fill="#000000"/>
<ellipse cx="1730" cy="1812.9" rx="4.6" ry="3.5" fill="#000000"/>
<ellipse cx="1722.9" cy="1815" rx="4.6" ry="3.5" fill="#000000"/>
<ellipse cx="1728.6" cy="1818.6" rx="4.6" ry="3.5" fill="#000000"/>
<ellipse cx="1734.3" cy="1818.6" rx="4.6" ry="3.5" fill="#000000"/>
<ellipse cx="1740.7" cy="1819.3" rx="4.6" ry="3.5" fill="#000000"/>
<ellipse cx="1726.4" cy="1821.4" rx="4.6" ry="3.5" fill="#000000"/>
<ellipse cx="1736.4" cy="1755.7" rx="4.6" ry="3.5" fill="#000000"/>
<ellipse cx="1739.3" cy="1757.1" rx="4.6" ry="3.5" fill="#000000"/>
<ellipse cx="1737.1" cy="1762.1" rx="4.6" ry="3.5" fill="#000000"/>
<polygon points="118.2,1299.2 118.2,1058.6 319,974.8 471.6,1083.4 471.6,1324 270.8,1407.8" fill="#ffffff"/>
<line x1="118.2" y1="1299.2" x2="319" y2="1215.4" stroke="#3a3a3a" stroke-width="1.8" stroke-dasharray="1.8 7.7" stroke-linecap="butt"/>
<line x1="319" y1="1215.4" x2="471.6" y2="1324" stroke="#3a3a3a" stroke-width="1.8" stroke-dasharray="1.8 7.7" stroke-linecap="butt"/>
<line x1="118.2" y1="1251.1" x2="319" y2="1167.3" stroke="#3a3a3a" stroke-width="1.8" stroke-dasharray="1.8 7.7" stroke-linecap="butt"/>
<line x1="319" y1="1167.3" x2="471.6" y2="1275.9" stroke="#3a3a3a" stroke-width="1.8" stroke-dasharray="1.8 7.7" stroke-linecap="butt"/>
<line x1="118.2" y1="1203" x2="319" y2="1119.2" stroke="#3a3a3a" stroke-width="1.8" stroke-dasharray="1.8 7.7" stroke-linecap="butt"/>
<line x1="319" y1="1119.2" x2="471.6" y2="1227.8" stroke="#3a3a3a" stroke-width="1.8" stroke-dasharray="1.8 7.7" stroke-linecap="butt"/>
<line x1="118.2" y1="1154.8" x2="319" y2="1071" stroke="#3a3a3a" stroke-width="1.8" stroke-dasharray="1.8 7.7" stroke-linecap="butt"/>
<line x1="319" y1="1071" x2="471.6" y2="1179.6" stroke="#3a3a3a" stroke-width="1.8" stroke-dasharray="1.8 7.7" stroke-linecap="butt"/>
<line x1="118.2" y1="1106.7" x2="319" y2="1022.9" stroke="#3a3a3a" stroke-width="1.8" stroke-dasharray="1.8 7.7" stroke-linecap="butt"/>
<line x1="319" y1="1022.9" x2="471.6" y2="1131.5" stroke="#3a3a3a" stroke-width="1.8" stroke-dasharray="1.8 7.7" stroke-linecap="butt"/>
<line x1="118.2" y1="1058.6" x2="319" y2="974.8" stroke="#3a3a3a" stroke-width="1.8" stroke-dasharray="1.8 7.7" stroke-linecap="butt"/>
<line x1="319" y1="974.8" x2="471.6" y2="1083.4" stroke="#3a3a3a" stroke-width="1.8" stroke-dasharray="1.8 7.7" stroke-linecap="butt"/>
<line x1="218.6" y1="1257.3" x2="218.6" y2="1016.7" stroke="#3a3a3a" stroke-width="1.8" stroke-dasharray="1.8 7.7" stroke-linecap="butt"/>
<line x1="319" y1="1215.4" x2="319" y2="974.8" stroke="#3a3a3a" stroke-width="1.8" stroke-dasharray="1.8 7.7" stroke-linecap="butt"/>
<line x1="218.6" y1="1257.3" x2="218.6" y2="1016.7" stroke="#3a3a3a" stroke-width="1.8" stroke-dasharray="1.8 7.7" stroke-linecap="butt"/>
<line x1="319" y1="1215.4" x2="319" y2="974.8" stroke="#3a3a3a" stroke-width="1.8" stroke-dasharray="1.8 7.7" stroke-linecap="butt"/>
<line x1="395.3" y1="1269.7" x2="395.3" y2="1029.1" stroke="#3a3a3a" stroke-width="1.8" stroke-dasharray="1.8 7.7" stroke-linecap="butt"/>
<line x1="471.6" y1="1324" x2="471.6" y2="1083.4" stroke="#3a3a3a" stroke-width="1.8" stroke-dasharray="1.8 7.7" stroke-linecap="butt"/>
<line x1="371.2" y1="1365.9" x2="218.6" y2="1257.3" stroke="#3a3a3a" stroke-width="1.8" stroke-dasharray="1.8 7.7" stroke-linecap="butt"/>
<line x1="471.6" y1="1324" x2="319" y2="1215.4" stroke="#3a3a3a" stroke-width="1.8" stroke-dasharray="1.8 7.7" stroke-linecap="butt"/>
<line x1="194.5" y1="1353.5" x2="395.3" y2="1269.7" stroke="#3a3a3a" stroke-width="1.8" stroke-dasharray="1.8 7.7" stroke-linecap="butt"/>
<line x1="118.2" y1="1299.2" x2="319" y2="1215.4" stroke="#3a3a3a" stroke-width="1.8" stroke-dasharray="1.8 7.7" stroke-linecap="butt"/>
<line x1="118.2" y1="1299.2" x2="118.2" y2="1058.6" stroke="#222" stroke-width="1.7"/>
<line x1="118.2" y1="1299.2" x2="270.8" y2="1407.8" stroke="#222" stroke-width="1.6"/>
<line x1="270.8" y1="1407.8" x2="471.6" y2="1324" stroke="#222" stroke-width="1.6"/>
<line x1="118.2" y1="1299.2" x2="112.2" y2="1297.2" stroke="#222" stroke-width="1.8"/>
<text x="106.2" y="1300.7" font-size="20.5" text-anchor="end" fill="#111" font-weight="normal" font-family="'Liberation Sans', Arial, sans-serif" textLength="21" lengthAdjust="spacingAndGlyphs">-1</text>
<line x1="118.2" y1="1251.1" x2="112.2" y2="1249.1" stroke="#222" stroke-width="1.8"/>
<text x="106.2" y="1252.6" font-size="20.5" text-anchor="end" fill="#111" font-weight="normal" font-family="'Liberation Sans', Arial, sans-serif" textLength="40.6" lengthAdjust="spacingAndGlyphs">-0.5</text>
<line x1="118.2" y1="1203" x2="112.2" y2="1201" stroke="#222" stroke-width="1.8"/>
<text x="106.2" y="1204.5" font-size="20.5" text-anchor="end" fill="#111" font-weight="normal" font-family="'Liberation Sans', Arial, sans-serif" textLength="13.1" lengthAdjust="spacingAndGlyphs">0</text>
<line x1="118.2" y1="1154.8" x2="112.2" y2="1152.8" stroke="#222" stroke-width="1.8"/>
<text x="106.2" y="1156.3" font-size="20.5" text-anchor="end" fill="#111" font-weight="normal" font-family="'Liberation Sans', Arial, sans-serif" textLength="32.8" lengthAdjust="spacingAndGlyphs">0.5</text>
<line x1="118.2" y1="1106.7" x2="112.2" y2="1104.7" stroke="#222" stroke-width="1.8"/>
<text x="106.2" y="1108.2" font-size="20.5" text-anchor="end" fill="#111" font-weight="normal" font-family="'Liberation Sans', Arial, sans-serif" textLength="13.1" lengthAdjust="spacingAndGlyphs">1</text>
<line x1="118.2" y1="1058.6" x2="112.2" y2="1056.6" stroke="#222" stroke-width="1.8"/>
<text x="106.2" y="1060.1" font-size="20.5" text-anchor="end" fill="#111" font-weight="normal" font-family="'Liberation Sans', Arial, sans-serif" textLength="32.8" lengthAdjust="spacingAndGlyphs">1.5</text>
<line x1="118.2" y1="1299.2" x2="113.2" y2="1302.2" stroke="#222" stroke-width="1.8"/>
<text x="104.2" y="1324.2" font-size="20.5" text-anchor="end" fill="#111" font-weight="normal" font-family="'Liberation Sans', Arial, sans-serif" textLength="13.1" lengthAdjust="spacingAndGlyphs">2</text>
<line x1="194.5" y1="1353.5" x2="189.5" y2="1356.5" stroke="#222" stroke-width="1.8"/>
<text x="180.5" y="1378.5" font-size="20.5" text-anchor="end" fill="#111" font-weight="normal" font-family="'Liberation Sans', Arial, sans-serif" textLength="13.1" lengthAdjust="spacingAndGlyphs">0</text>
<line x1="270.8" y1="1407.8" x2="265.8" y2="1410.8" stroke="#222" stroke-width="1.8"/>
<text x="256.8" y="1432.8" font-size="20.5" text-anchor="end" fill="#111" font-weight="normal" font-family="'Liberation Sans', Arial, sans-serif" textLength="21" lengthAdjust="spacingAndGlyphs">-2</text>
<line x1="270.8" y1="1407.8" x2="275.8" y2="1410.8" stroke="#222" stroke-width="1.8"/>
<text x="279.8" y="1435.8" font-size="20.5" text-anchor="start" fill="#111" font-weight="normal" font-family="'Liberation Sans', Arial, sans-serif" textLength="21" lengthAdjust="spacingAndGlyphs">-5</text>
<line x1="371.2" y1="1365.9" x2="376.2" y2="1368.9" stroke="#222" stroke-width="1.8"/>
<text x="380.2" y="1393.9" font-size="20.5" text-anchor="start" fill="#111" font-weight="normal" font-family="'Liberation Sans', Arial, sans-serif" textLength="13.1" lengthAdjust="spacingAndGlyphs">0</text>
<line x1="471.6" y1="1324" x2="476.6" y2="1327" stroke="#222" stroke-width="1.8"/>
<text x="46.3" y="1180.7" font-size="26.5" text-anchor="middle" fill="#111" font-weight="normal" font-family="'Liberation Sans', Arial, sans-serif" textLength="34" lengthAdjust="spacingAndGlyphs" transform="rotate(-90 46.3 1180.7)">PC3</text>
<text x="147.1" y="1428.4" font-size="19.6" text-anchor="middle" fill="#111" font-weight="normal" font-family="'Liberation Sans', Arial, sans-serif" textLength="43.8" lengthAdjust="spacingAndGlyphs">PC2</text>
<text x="401.4" y="1432.5" font-size="19.6" text-anchor="middle" fill="#111" font-weight="normal" font-family="'Liberation Sans', Arial, sans-serif" textLength="43.8" lengthAdjust="spacingAndGlyphs">PC1</text>
<ellipse cx="235.1" cy="1128.7" rx="4.6" ry="3.5" fill="#0000ff"/>
<ellipse cx="305.2" cy="1121" rx="4.6" ry="3.5" fill="#00ee00"/>
<ellipse cx="382.2" cy="1184.3" rx="4.6" ry="3.5" fill="#ff0000"/>
<ellipse cx="281.8" cy="1220.8" rx="4.6" ry="3.5" fill="#0000ff"/>
<ellipse cx="294.2" cy="1253.8" rx="4.6" ry="3.5" fill="#0000ff"/>
<ellipse cx="269.5" cy="1270.3" rx="4.6" ry="3.5" fill="#ffff00"/>
<ellipse cx="287.9" cy="1271.7" rx="4.6" ry="3.5" fill="#ffff00"/>
<ellipse cx="301.6" cy="1277.7" rx="4.6" ry="3.5" fill="#ffff00"/>
<polygon points="118.2,1809.2 118.2,1568.6 319,1484.8 471.6,1593.4 471.6,1834 270.8,1917.8" fill="#ffffff"/>
<line x1="118.2" y1="1809.2" x2="319" y2="1725.4" stroke="#3a3a3a" stroke-width="1.8" stroke-dasharray="1.8 7.7" stroke-linecap="butt"/>
<line x1="319" y1="1725.4" x2="471.6" y2="1834" stroke="#3a3a3a" stroke-width="1.8" stroke-dasharray="1.8 7.7" stroke-linecap="butt"/>
<line x1="118.2" y1="1749" x2="319" y2="1665.2" stroke="#3a3a3a" stroke-width="1.8" stroke-dasharray="1.8 7.7" stroke-linecap="butt"/>
<line x1="319" y1="1665.2" x2="471.6" y2="1773.8" stroke="#3a3a3a" stroke-width="1.8" stroke-dasharray="1.8 7.7" stroke-linecap="butt"/>
<line x1="118.2" y1="1688.9" x2="319" y2="1605.1" stroke="#3a3a3a" stroke-width="1.8" stroke-dasharray="1.8 7.7" stroke-linecap="butt"/>
<line x1="319" y1="1605.1" x2="471.6" y2="1713.7" stroke="#3a3a3a" stroke-width="1.8" stroke-dasharray="1.8 7.7" stroke-linecap="butt"/>
<line x1="118.2" y1="1628.8" x2="319" y2="1545" stroke="#3a3a3a" stroke-width="1.8" stroke-dasharray="1.8 7.7" stroke-linecap="butt"/>
<line x1="319" y1="1545" x2="471.6" y2="1653.5" stroke="#3a3a3a" stroke-width="1.8" stroke-dasharray="1.8 7.7" stroke-linecap="butt"/>
<line x1="118.2" y1="1568.6" x2="319" y2="1484.8" stroke="#3a3a3a" stroke-width="1.8" stroke-dasharray="1.8 7.7" stroke-linecap="butt"/>
<line x1="319" y1="1484.8" x2="471.6" y2="1593.4" stroke="#3a3a3a" stroke-width="1.8" stroke-dasharray="1.8 7.7" stroke-linecap="butt"/>
<line x1="218.6" y1="1767.3" x2="218.6" y2="1526.7" stroke="#3a3a3a" stroke-width="1.8" stroke-dasharray="1.8 7.7" stroke-linecap="butt"/>
<line x1="319" y1="1725.4" x2="319" y2="1484.8" stroke="#3a3a3a" stroke-width="1.8" stroke-dasharray="1.8 7.7" stroke-linecap="butt"/>
<line x1="218.6" y1="1767.3" x2="218.6" y2="1526.7" stroke="#3a3a3a" stroke-width="1.8" stroke-dasharray="1.8 7.7" stroke-linecap="butt"/>
<line x1="319" y1="1725.4" x2="319" y2="1484.8" stroke="#3a3a3a" stroke-width="1.8" stroke-dasharray="1.8 7.7" stroke-linecap="butt"/>
<line x1="395.3" y1="1779.7" x2="395.3" y2="1539.1" stroke="#3a3a3a" stroke-width="1.8" stroke-dasharray="1.8 7.7" stroke-linecap="butt"/>
<line x1="471.6" y1="1834" x2="471.6" y2="1593.4" stroke="#3a3a3a" stroke-width="1.8" stroke-dasharray="1.8 7.7" stroke-linecap="butt"/>
<line x1="371.2" y1="1875.9" x2="218.6" y2="1767.3" stroke="#3a3a3a" stroke-width="1.8" stroke-dasharray="1.8 7.7" stroke-linecap="butt"/>
<line x1="471.6" y1="1834" x2="319" y2="1725.4" stroke="#3a3a3a" stroke-width="1.8" stroke-dasharray="1.8 7.7" stroke-linecap="butt"/>
<line x1="194.5" y1="1863.5" x2="395.3" y2="1779.7" stroke="#3a3a3a" stroke-width="1.8" stroke-dasharray="1.8 7.7" stroke-linecap="butt"/>
<line x1="118.2" y1="1809.2" x2="319" y2="1725.4" stroke="#3a3a3a" stroke-width="1.8" stroke-dasharray="1.8 7.7" stroke-linecap="butt"/>
<line x1="118.2" y1="1809.2" x2="118.2" y2="1568.6" stroke="#222" stroke-width="1.7"/>
<line x1="118.2" y1="1809.2" x2="270.8" y2="1917.8" stroke="#222" stroke-width="1.6"/>
<line x1="270.8" y1="1917.8" x2="471.6" y2="1834" stroke="#222" stroke-width="1.6"/>
<line x1="118.2" y1="1809.2" x2="112.2" y2="1807.2" stroke="#222" stroke-width="1.8"/>
<text x="106.2" y="1810.7" font-size="20.5" text-anchor="end" fill="#111" font-weight="normal" font-family="'Liberation Sans', Arial, sans-serif" textLength="40.6" lengthAdjust="spacingAndGlyphs">-0.2</text>
<line x1="118.2" y1="1749" x2="112.2" y2="1747" stroke="#222" stroke-width="1.8"/>
<text x="106.2" y="1750.5" font-size="20.5" text-anchor="end" fill="#111" font-weight="normal" font-family="'Liberation Sans', Arial, sans-serif" textLength="13.1" lengthAdjust="spacingAndGlyphs">0</text>
<line x1="118.2" y1="1688.9" x2="112.2" y2="1686.9" stroke="#222" stroke-width="1.8"/>
<text x="106.2" y="1690.4" font-size="20.5" text-anchor="end" fill="#111" font-weight="normal" font-family="'Liberation Sans', Arial, sans-serif" textLength="32.8" lengthAdjust="spacingAndGlyphs">0.2</text>
<line x1="118.2" y1="1628.8" x2="112.2" y2="1626.8" stroke="#222" stroke-width="1.8"/>
<text x="106.2" y="1630.2" font-size="20.5" text-anchor="end" fill="#111" font-weight="normal" font-family="'Liberation Sans', Arial, sans-serif" textLength="32.8" lengthAdjust="spacingAndGlyphs">0.4</text>
<line x1="118.2" y1="1568.6" x2="112.2" y2="1566.6" stroke="#222" stroke-width="1.8"/>
<text x="106.2" y="1570.1" font-size="20.5" text-anchor="end" fill="#111" font-weight="normal" font-family="'Liberation Sans', Arial, sans-serif" textLength="32.8" lengthAdjust="spacingAndGlyphs">0.6</text>
<line x1="118.2" y1="1809.2" x2="113.2" y2="1812.2" stroke="#222" stroke-width="1.8"/>
<text x="104.2" y="1834.2" font-size="20.5" text-anchor="end" fill="#111" font-weight="normal" font-family="'Liberation Sans', Arial, sans-serif" textLength="32.8" lengthAdjust="spacingAndGlyphs">0.5</text>
<line x1="194.5" y1="1863.5" x2="189.5" y2="1866.5" stroke="#222" stroke-width="1.8"/>
<text x="180.5" y="1888.5" font-size="20.5" text-anchor="end" fill="#111" font-weight="normal" font-family="'Liberation Sans', Arial, sans-serif" textLength="13.1" lengthAdjust="spacingAndGlyphs">0</text>
<line x1="270.8" y1="1917.8" x2="265.8" y2="1920.8" stroke="#222" stroke-width="1.8"/>
<text x="256.8" y="1942.8" font-size="20.5" text-anchor="end" fill="#111" font-weight="normal" font-family="'Liberation Sans', Arial, sans-serif" textLength="40.6" lengthAdjust="spacingAndGlyphs">-0.5</text>
<line x1="270.8" y1="1917.8" x2="275.8" y2="1920.8" stroke="#222" stroke-width="1.8"/>
<text x="279.8" y="1945.8" font-size="20.5" text-anchor="start" fill="#111" font-weight="normal" font-family="'Liberation Sans', Arial, sans-serif" textLength="40.6" lengthAdjust="spacingAndGlyphs">-0.5</text>
<line x1="371.2" y1="1875.9" x2="376.2" y2="1878.9" stroke="#222" stroke-width="1.8"/>
<text x="380.2" y="1903.9" font-size="20.5" text-anchor="start" fill="#111" font-weight="normal" font-family="'Liberation Sans', Arial, sans-serif" textLength="13.1" lengthAdjust="spacingAndGlyphs">0</text>
<line x1="471.6" y1="1834" x2="476.6" y2="1837" stroke="#222" stroke-width="1.8"/>
<text x="46.3" y="1690" font-size="26.5" text-anchor="middle" fill="#111" font-weight="normal" font-family="'Liberation Sans', Arial, sans-serif" textLength="50" lengthAdjust="spacingAndGlyphs" transform="rotate(-90 46.3 1690)">Load3</text>
<text x="137.5" y="1939.8" font-size="19.6" text-anchor="middle" fill="#111" font-weight="normal" font-family="'Liberation Sans', Arial, sans-serif" textLength="62.7" lengthAdjust="spacingAndGlyphs">Load2</text>
<text x="411" y="1943.9" font-size="19.6" text-anchor="middle" fill="#111" font-weight="normal" font-family="'Liberation Sans', Arial, sans-serif" textLength="62.7" lengthAdjust="spacingAndGlyphs">Load1</text>
<line x1="294.9" y1="1821.6" x2="294.9" y2="1581" stroke="#222" stroke-width="1.6"/>
<line x1="371.2" y1="1815.7" x2="218.6" y2="1707.1" stroke="#222" stroke-width="1.6"/>
<line x1="194.5" y1="1803.3" x2="395.3" y2="1719.5" stroke="#222" stroke-width="1.6"/>
<ellipse cx="305.2" cy="1688.2" rx="4.6" ry="3.5" fill="#000000"/>
<ellipse cx="310.7" cy="1688.8" rx="4.6" ry="3.5" fill="#000000"/>
<ellipse cx="312.1" cy="1695.9" rx="4.6" ry="3.5" fill="#000000"/>
<ellipse cx="288.1" cy="1704.2" rx="4.6" ry="3.5" fill="#000000"/>
<ellipse cx="307.1" cy="1708" rx="4.6" ry="3.5" fill="#000000"/>
<ellipse cx="276.3" cy="1717.9" rx="4.6" ry="3.5" fill="#000000"/>
<ellipse cx="301.6" cy="1719.3" rx="4.6" ry="3.5" fill="#000000"/>
<ellipse cx="294.7" cy="1731.7" rx="4.6" ry="3.5" fill="#000000"/>
<ellipse cx="265.3" cy="1733" rx="4.6" ry="3.5" fill="#000000"/>
<ellipse cx="266.2" cy="1739.9" rx="4.6" ry="3.5" fill="#000000"/>
<ellipse cx="272.2" cy="1741.8" rx="4.6" ry="3.5" fill="#000000"/>
<ellipse cx="281.8" cy="1740.5" rx="4.6" ry="3.5" fill="#000000"/>
<ellipse cx="287.3" cy="1739.1" rx="4.6" ry="3.5" fill="#000000"/>
<ellipse cx="285.9" cy="1747.3" rx="4.6" ry="3.5" fill="#000000"/>
<ellipse cx="277.7" cy="1747.3" rx="4.6" ry="3.5" fill="#000000"/>
<ellipse cx="283.2" cy="1750.1" rx="4.6" ry="3.5" fill="#000000"/>
<ellipse cx="257.1" cy="1747.3" rx="4.6" ry="3.5" fill="#000000"/>
<ellipse cx="250.2" cy="1759.7" rx="4.6" ry="3.5" fill="#000000"/>
<ellipse cx="272.2" cy="1758.3" rx="4.6" ry="3.5" fill="#000000"/>
<ellipse cx="277.7" cy="1761.1" rx="4.6" ry="3.5" fill="#000000"/>
<ellipse cx="281.8" cy="1765.2" rx="4.6" ry="3.5" fill="#000000"/>
<ellipse cx="285.9" cy="1767.9" rx="4.6" ry="3.5" fill="#000000"/>
<ellipse cx="264" cy="1770.7" rx="4.6" ry="3.5" fill="#000000"/>
<ellipse cx="273.6" cy="1770.7" rx="4.6" ry="3.5" fill="#000000"/>
<ellipse cx="280.5" cy="1769.3" rx="4.6" ry="3.5" fill="#000000"/>
<ellipse cx="250.2" cy="1772.1" rx="4.6" ry="3.5" fill="#000000"/>
<ellipse cx="259.8" cy="1773.4" rx="4.6" ry="3.5" fill="#000000"/>
<ellipse cx="268.1" cy="1773.4" rx="4.6" ry="3.5" fill="#000000"/>
<ellipse cx="255.7" cy="1780.3" rx="4.6" ry="3.5" fill="#000000"/>
<ellipse cx="307.9" cy="1752.8" rx="4.6" ry="3.5" fill="#000000"/>
<ellipse cx="313.4" cy="1754.2" rx="4.6" ry="3.5" fill="#000000"/>
<ellipse cx="318.9" cy="1751.4" rx="4.6" ry="3.5" fill="#000000"/>
<ellipse cx="325.8" cy="1750.1" rx="4.6" ry="3.5" fill="#000000"/>
<ellipse cx="331.3" cy="1747.3" rx="4.6" ry="3.5" fill="#000000"/>
<ellipse cx="336.8" cy="1745.9" rx="4.6" ry="3.5" fill="#000000"/>
<ellipse cx="340.9" cy="1744.6" rx="4.6" ry="3.5" fill="#000000"/>
<ellipse cx="309.3" cy="1756.9" rx="4.6" ry="3.5" fill="#000000"/>
<ellipse cx="301.1" cy="1776.2" rx="4.6" ry="3.5" fill="#000000"/>
<ellipse cx="301.6" cy="1788.6" rx="4.6" ry="3.5" fill="#000000"/>
<ellipse cx="261.2" cy="1791.3" rx="4.6" ry="3.5" fill="#000000"/>
<ellipse cx="270.8" cy="1799.6" rx="4.6" ry="3.5" fill="#000000"/>
<ellipse cx="303" cy="1802.3" rx="4.6" ry="3.5" fill="#000000"/>
<ellipse cx="281.8" cy="1809.7" rx="4.6" ry="3.5" fill="#000000"/>
<ellipse cx="304.6" cy="1818" rx="4.6" ry="3.5" fill="#000000"/>
<ellipse cx="291.4" cy="1821.6" rx="4.6" ry="3.5" fill="#000000"/>
<ellipse cx="301.1" cy="1832.6" rx="4.6" ry="3.5" fill="#000000"/>
<ellipse cx="307.9" cy="1833.4" rx="4.6" ry="3.5" fill="#000000"/>
<ellipse cx="305.2" cy="1842.2" rx="4.6" ry="3.5" fill="#000000"/>
<ellipse cx="306.6" cy="1846.3" rx="4.6" ry="3.5" fill="#000000"/>
<ellipse cx="309.3" cy="1850.4" rx="4.6" ry="3.5" fill="#000000"/>
<ellipse cx="266.3" cy="1732.7" rx="4.6" ry="3.5" fill="#000000"/>
<ellipse cx="267.6" cy="1737.7" rx="4.6" ry="3.5" fill="#000000"/>
<ellipse cx="271.4" cy="1740.3" rx="4.6" ry="3.5" fill="#000000"/>
<ellipse cx="275.2" cy="1741.5" rx="4.6" ry="3.5" fill="#000000"/>
<ellipse cx="279" cy="1744.1" rx="4.6" ry="3.5" fill="#000000"/>
<ellipse cx="281.5" cy="1746.6" rx="4.6" ry="3.5" fill="#000000"/>
<ellipse cx="285.3" cy="1749.2" rx="4.6" ry="3.5" fill="#000000"/>
<ellipse cx="287.9" cy="1747.9" rx="4.6" ry="3.5" fill="#000000"/>
<ellipse cx="286.6" cy="1739" rx="4.6" ry="3.5" fill="#000000"/>
<ellipse cx="282.8" cy="1740.3" rx="4.6" ry="3.5" fill="#000000"/>
<ellipse cx="276.5" cy="1746.6" rx="4.6" ry="3.5" fill="#000000"/>
<ellipse cx="280.3" cy="1750.4" rx="4.6" ry="3.5" fill="#000000"/>
<ellipse cx="284.1" cy="1751.7" rx="4.6" ry="3.5" fill="#000000"/>
<ellipse cx="273.9" cy="1758" rx="4.6" ry="3.5" fill="#000000"/>
<ellipse cx="277.7" cy="1759.3" rx="4.6" ry="3.5" fill="#000000"/>
<ellipse cx="281.5" cy="1761.8" rx="4.6" ry="3.5" fill="#000000"/>
<ellipse cx="276.5" cy="1764.4" rx="4.6" ry="3.5" fill="#000000"/>
<ellipse cx="271.4" cy="1766.9" rx="4.6" ry="3.5" fill="#000000"/>
<ellipse cx="267.6" cy="1769.5" rx="4.6" ry="3.5" fill="#000000"/>
<ellipse cx="263.8" cy="1772" rx="4.6" ry="3.5" fill="#000000"/>
<ellipse cx="260" cy="1773.3" rx="4.6" ry="3.5" fill="#000000"/>
<ellipse cx="268.8" cy="1773.3" rx="4.6" ry="3.5" fill="#000000"/>
<ellipse cx="273.9" cy="1772" rx="4.6" ry="3.5" fill="#000000"/>
<ellipse cx="279" cy="1769.5" rx="4.6" ry="3.5" fill="#000000"/>
<ellipse cx="284.1" cy="1768.2" rx="4.6" ry="3.5" fill="#000000"/>
<ellipse cx="286.6" cy="1766.9" rx="4.6" ry="3.5" fill="#000000"/>
<ellipse cx="281.5" cy="1765.7" rx="4.6" ry="3.5" fill="#000000"/>
<ellipse cx="305.7" cy="1751.7" rx="4.6" ry="3.5" fill="#000000"/>
<ellipse cx="308.2" cy="1754.2" rx="4.6" ry="3.5" fill="#000000"/>
<ellipse cx="312" cy="1754.2" rx="4.6" ry="3.5" fill="#000000"/>
<ellipse cx="314.5" cy="1753" rx="4.6" ry="3.5" fill="#000000"/>
<ellipse cx="318.3" cy="1751.7" rx="4.6" ry="3.5" fill="#000000"/>
<ellipse cx="322.2" cy="1750.4" rx="4.6" ry="3.5" fill="#000000"/>
<ellipse cx="326" cy="1749.2" rx="4.6" ry="3.5" fill="#000000"/>
<ellipse cx="329.8" cy="1747.9" rx="4.6" ry="3.5" fill="#000000"/>
<ellipse cx="333.6" cy="1746.6" rx="4.6" ry="3.5" fill="#000000"/>
<ellipse cx="337.4" cy="1745.3" rx="4.6" ry="3.5" fill="#000000"/>
<ellipse cx="341.2" cy="1744.7" rx="4.6" ry="3.5" fill="#000000"/>
<ellipse cx="306.9" cy="1756.8" rx="4.6" ry="3.5" fill="#000000"/>
<ellipse cx="310.7" cy="1756.8" rx="4.6" ry="3.5" fill="#000000"/>
<ellipse cx="315.8" cy="1755.5" rx="4.6" ry="3.5" fill="#000000"/>
<ellipse cx="299.3" cy="1693.3" rx="4.6" ry="3.5" fill="#000000"/>
<ellipse cx="301.8" cy="1688.2" rx="4.6" ry="3.5" fill="#000000"/>
<ellipse cx="306.9" cy="1688.2" rx="4.6" ry="3.5" fill="#000000"/>
<ellipse cx="312" cy="1688.9" rx="4.6" ry="3.5" fill="#000000"/>
<ellipse cx="312" cy="1695.8" rx="4.6" ry="3.5" fill="#000000"/>
</svg></body></html>
